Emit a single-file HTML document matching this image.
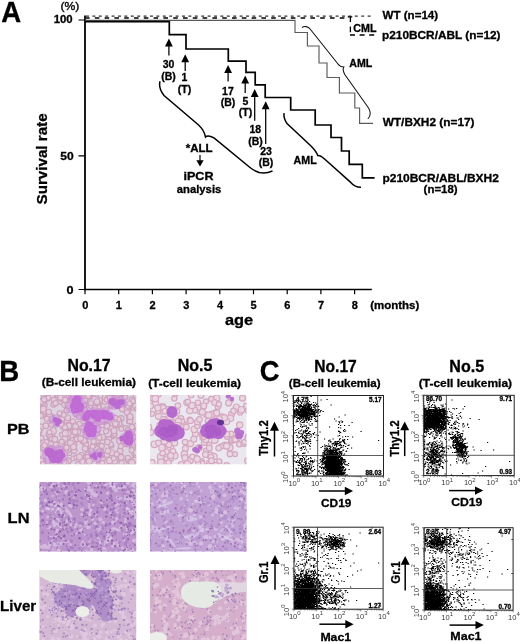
<!DOCTYPE html>
<html><head><meta charset="utf-8"><title>Figure</title><style>
html,body{margin:0;padding:0;background:#fff}
body{width:520px;height:642px;overflow:hidden}
svg{display:block}
.b{font-family:"Liberation Sans",Arial,sans-serif;font-weight:bold;stroke:#000;stroke-width:0.3px}
.r{font-family:"Liberation Sans",Arial,sans-serif}
.s{font-family:"Liberation Serif","Times New Roman",serif}
</style></head><body>
<svg width="520" height="642" viewBox="0 0 520 642">
<rect width="520" height="642" fill="#fff"/>
<g id="A">
<text x="1.31" y="21.5" class="b" font-size="29" textLength="19.94" lengthAdjust="spacingAndGlyphs">A</text>
<text x="60.47" y="10.4" class="r" font-size="11" textLength="18.92" lengthAdjust="spacingAndGlyphs" stroke="#000" stroke-width="0.35">(%)</text>
<text x="53.72" y="23.3" class="b" font-size="10.8" textLength="18.98" lengthAdjust="spacingAndGlyphs">100</text>
<text x="60.24" y="159.6" class="b" font-size="11" textLength="13.37" lengthAdjust="spacingAndGlyphs">50</text>
<text x="66.59" y="294.4" class="b" font-size="11" textLength="7.03" lengthAdjust="spacingAndGlyphs">0</text>
<path d="M85 15.5V290.2" stroke="#000" stroke-width="1.8" fill="none"/><path d="M84 289.45H371.8" stroke="#000" stroke-width="1.5" fill="none"/>
<path d="M78.5 20H85M78.5 155.8H85M78.5 289.5H85" stroke="#000" stroke-width="1.2" fill="none"/>
<text x="82.15" y="309.3" class="b" font-size="11" textLength="6.12" lengthAdjust="spacingAndGlyphs">0</text>
<text x="115.66" y="309.3" class="b" font-size="11" textLength="6.12" lengthAdjust="spacingAndGlyphs">1</text>
<text x="149.58" y="309.3" class="b" font-size="11" textLength="6.12" lengthAdjust="spacingAndGlyphs">2</text>
<text x="183.30" y="309.3" class="b" font-size="11" textLength="6.12" lengthAdjust="spacingAndGlyphs">3</text>
<text x="216.89" y="309.3" class="b" font-size="11" textLength="6.12" lengthAdjust="spacingAndGlyphs">4</text>
<text x="250.62" y="309.3" class="b" font-size="11" textLength="6.12" lengthAdjust="spacingAndGlyphs">5</text>
<text x="284.35" y="309.3" class="b" font-size="11" textLength="6.12" lengthAdjust="spacingAndGlyphs">6</text>
<text x="318.05" y="309.3" class="b" font-size="11" textLength="6.12" lengthAdjust="spacingAndGlyphs">7</text>
<text x="351.75" y="309.3" class="b" font-size="11" textLength="6.12" lengthAdjust="spacingAndGlyphs">8</text>
<path d="M85 289.5V294.3M118.7 289.5V294.3M152.4 289.5V294.3M186.1 289.5V294.3M219.8 289.5V294.3M253.5 289.5V294.3M287.2 289.5V294.3M320.9 289.5V294.3M354.6 289.5V294.3" stroke="#000" stroke-width="1.2" fill="none"/>
<text x="370.23" y="309" class="b" font-size="11" textLength="49.11" lengthAdjust="spacingAndGlyphs">(months)</text>
<text x="224.91" y="324.6" class="b" font-size="15.5" textLength="28.22" lengthAdjust="spacingAndGlyphs">age</text>
<text transform="translate(47.2 204.45) rotate(-90)" class="b" font-size="15" textLength="91.04" lengthAdjust="spacingAndGlyphs">Survival rate</text>
<path d="M86 16.1H372" stroke="#000" stroke-width="1" stroke-dasharray="3 3.4" fill="none"/>
<path d="M86 18.1H348" stroke="#000" stroke-width="1.5" stroke-dasharray="4.6 5.2" stroke-dashoffset="1" fill="none"/>
<path d="M347.7 16.8H352.3M350.4 16.8V22M350.4 26.5V32.2" stroke="#000" stroke-width="1.3" fill="none"/>
<path d="M350 35.1H376" stroke="#000" stroke-width="1.5" stroke-dasharray="5 4.6" fill="none"/>
<path d="M85 20.3H295V32.5H307.4V46H319V63H327V77.5H339.4V93H354.8V108H359.6V123.3H373" stroke="#5a5a5a" stroke-width="1.15" fill="none"/>
<path d="M85 21.6H169.3V34.6H186V49H228.3V61.1H246V72.3H255.2V84.8H265.2V97.5H290.7V110H315.2V125H331V137.5H341.5V151H349.2V164.4H362.3V177.9H374.6" stroke="#000" stroke-width="1.7" fill="none"/>
<path d="M168.9 43.8V55.6" stroke="#000" stroke-width="1.25"/>
<path d="M168.9 38.6L165 46.6H172.8Z"/>
<path d="M185.2 59.4V71" stroke="#000" stroke-width="1.25"/>
<path d="M185.2 54.2L181.3 62.2H189.1Z"/>
<path d="M228.1 70.2V81.5" stroke="#000" stroke-width="1.25"/>
<path d="M228.1 65L224.2 73H232Z"/>
<path d="M245.2 80.8V93" stroke="#000" stroke-width="1.25"/>
<path d="M245.2 75.6L241.3 83.6H249.1Z"/>
<path d="M254.7 94.2V120.7" stroke="#000" stroke-width="1.25"/>
<path d="M254.7 89L250.8 97H258.6Z"/>
<path d="M265.7 106.5V143.9" stroke="#000" stroke-width="1.25"/>
<path d="M265.7 101.3L261.8 109.3H269.6Z"/>
<text x="162.75" y="67.5" class="b" font-size="10.5" textLength="11.68" lengthAdjust="spacingAndGlyphs">30</text>
<text x="161.20" y="79.5" class="b" font-size="10.5" textLength="14.58" lengthAdjust="spacingAndGlyphs">(B)</text>
<text x="181.40" y="80.7" class="b" font-size="10.5" textLength="5.84" lengthAdjust="spacingAndGlyphs">1</text>
<text x="177.78" y="92.7" class="b" font-size="10.5" textLength="13.41" lengthAdjust="spacingAndGlyphs">(T)</text>
<text x="222.07" y="95" class="b" font-size="10.5" textLength="11.68" lengthAdjust="spacingAndGlyphs">17</text>
<text x="220.70" y="106" class="b" font-size="10.5" textLength="14.58" lengthAdjust="spacingAndGlyphs">(B)</text>
<text x="242.56" y="104.5" class="b" font-size="10.5" textLength="5.84" lengthAdjust="spacingAndGlyphs">5</text>
<text x="238.78" y="115.7" class="b" font-size="10.5" textLength="13.41" lengthAdjust="spacingAndGlyphs">(T)</text>
<text x="249.52" y="133.4" class="b" font-size="10.5" textLength="11.68" lengthAdjust="spacingAndGlyphs">18</text>
<text x="248.20" y="144.6" class="b" font-size="10.5" textLength="14.58" lengthAdjust="spacingAndGlyphs">(B)</text>
<text x="260.17" y="155.1" class="b" font-size="10.5" textLength="11.68" lengthAdjust="spacingAndGlyphs">23</text>
<text x="258.70" y="166.3" class="b" font-size="10.5" textLength="14.58" lengthAdjust="spacingAndGlyphs">(B)</text>
<path d="M160 81.2C158.8 86 160 90.5 164 95.5L198 124.5C202 128 204.5 132 205.5 137C207 135.6 210 135.8 214 137.8L250 167.5C256 172.5 263 175 272.5 171" stroke="#000" stroke-width="1.5" fill="none"/>
<text x="185.74" y="151.5" class="b" font-size="10.3" textLength="26.84" lengthAdjust="spacingAndGlyphs">*ALL</text>
<path d="M200 155V162" stroke="#000" stroke-width="1.2"/><path d="M200 166.5L196.3 160.3H203.7Z"/>
<text x="183.52" y="180.4" class="b" font-size="10.5" textLength="29.98" lengthAdjust="spacingAndGlyphs">iPCR</text>
<text x="176.86" y="192.5" class="b" font-size="10.5" textLength="44.41" lengthAdjust="spacingAndGlyphs">analysis</text>
<path d="M302 27.5C304 26 308 26 310.5 29.5L338 64C339.5 66 341.5 67 343.8 67C342.8 68.5 343 71 344.6 74.2L367.5 106.5C370 110 370.6 113 370 115C369.6 116.8 368.8 118 367.8 118.8" stroke="#111" stroke-width="1.05" fill="none"/>
<text x="349.33" y="67.3" class="b" font-size="10.5" textLength="23.00" lengthAdjust="spacingAndGlyphs">AML</text>
<path d="M284.1 113.2C283.5 117 284.5 120 287 123.5L311 146C314 149 316.5 152 317.8 155.6C319 155.4 321 155.8 324 158.5L350.7 182.4C353.5 185.5 356 187.5 361 187.3" stroke="#000" stroke-width="1.5" fill="none"/>
<text x="293.63" y="164.2" class="b" font-size="10.3" textLength="23.10" lengthAdjust="spacingAndGlyphs">AML</text>
<text x="353.37" y="32.2" class="b" font-size="10.2" textLength="23.16" lengthAdjust="spacingAndGlyphs">CML</text>
<text x="382.60" y="19.2" class="b" font-size="11.2" textLength="55.53" lengthAdjust="spacingAndGlyphs">WT (n=14)</text>
<text x="382.03" y="38.6" class="b" font-size="11.2" textLength="118.53" lengthAdjust="spacingAndGlyphs">p210BCR/ABL (n=12)</text>
<text x="382.70" y="126.3" class="b" font-size="11.2" textLength="91.85" lengthAdjust="spacingAndGlyphs">WT/BXH2 (n=17)</text>
<text x="382.42" y="181.5" class="b" font-size="11.2" textLength="116.45" lengthAdjust="spacingAndGlyphs">p210BCR/ABL/BXH2</text>
<text x="423.63" y="192.8" class="b" font-size="11.2" textLength="34.02" lengthAdjust="spacingAndGlyphs">(n=18)</text>
</g>
<g id="B">
<text x="-0.65" y="380.5" class="b" font-size="29.5" textLength="19.95" lengthAdjust="spacingAndGlyphs">B</text>
<text x="67.47" y="371.4" class="b" font-size="15.6" textLength="43.22" lengthAdjust="spacingAndGlyphs">No.17</text>
<text x="41.71" y="386.4" class="b" font-size="11.5" textLength="94.26" lengthAdjust="spacingAndGlyphs">(B-cell leukemia)</text>
<text x="177.71" y="371.3" class="b" font-size="15.6" textLength="34.72" lengthAdjust="spacingAndGlyphs">No.5</text>
<text x="148.15" y="386.6" class="b" font-size="11.5" textLength="92.90" lengthAdjust="spacingAndGlyphs">(T-cell leukemia)</text>
<text x="7.04" y="434.2" class="b" font-size="15.5" textLength="22.55" lengthAdjust="spacingAndGlyphs">PB</text>
<text x="7.63" y="522.6" class="b" font-size="15.5" textLength="21.88" lengthAdjust="spacingAndGlyphs">LN</text>
<text x="0.12" y="611.4" class="b" font-size="15.5" textLength="36.11" lengthAdjust="spacingAndGlyphs">Liver</text>
</g>
<defs><filter id="bl1" x="-5%" y="-5%" width="110%" height="110%"><feGaussianBlur stdDeviation="0.9"/></filter><filter id="bl2" x="-5%" y="-5%" width="110%" height="110%"><feGaussianBlur stdDeviation="0.55"/></filter><filter id="bl3" x="-20%" y="-20%" width="140%" height="140%"><feGaussianBlur stdDeviation="2"/></filter></defs>
<clipPath id="pb1"><rect x="40" y="395" width="96.2" height="69.2"/></clipPath>
<g clip-path="url(#pb1)"><rect x="38" y="393" width="100.2" height="73.2" fill="#dcd2e0"/><g filter="url(#bl2)">
<g fill="#e2ccda" stroke="#cca2be" stroke-width="1.1"><circle cx="100.4" cy="447.3" r="3"/><circle cx="132.4" cy="447.2" r="3"/><circle cx="40.9" cy="427.1" r="3.1"/><circle cx="103" cy="458.9" r="2.5"/><circle cx="85" cy="411" r="2.8"/><circle cx="95.5" cy="394" r="2.6"/><circle cx="66" cy="460.1" r="2.9"/><circle cx="54" cy="451.4" r="2.5"/><circle cx="99.9" cy="402.3" r="2.4"/><circle cx="125.3" cy="408.3" r="2.6"/><circle cx="136.4" cy="456.9" r="2.6"/><circle cx="134.3" cy="432.5" r="2.9"/><circle cx="58.5" cy="461.9" r="2.9"/><circle cx="134.8" cy="458.4" r="2.6"/><circle cx="74.2" cy="405.1" r="2.5"/><circle cx="44.5" cy="415.1" r="2.8"/><circle cx="38.3" cy="442.6" r="2.6"/><circle cx="69.1" cy="452.9" r="2.7"/><circle cx="69.6" cy="428.2" r="2.9"/><circle cx="43.7" cy="464.4" r="2.4"/><circle cx="113.1" cy="454.8" r="2.4"/><circle cx="116.9" cy="419.8" r="2.8"/><circle cx="38.9" cy="396.4" r="2.5"/><circle cx="133.7" cy="407.4" r="2.9"/><circle cx="131.2" cy="462" r="2.6"/><circle cx="73.6" cy="431.4" r="2.9"/><circle cx="48.8" cy="447.8" r="3"/><circle cx="124.1" cy="395.7" r="3.1"/><circle cx="47.1" cy="417.9" r="2.8"/><circle cx="130" cy="417.9" r="3"/><circle cx="92.6" cy="415.9" r="2.6"/><circle cx="55.8" cy="398.7" r="2.5"/><circle cx="107.1" cy="466" r="2.5"/><circle cx="42.9" cy="465.2" r="2.8"/><circle cx="78.7" cy="410.4" r="2.8"/><circle cx="120.8" cy="426.4" r="2.7"/><circle cx="43.6" cy="460.1" r="2.4"/><circle cx="87.5" cy="454.4" r="2.5"/><circle cx="111.3" cy="462.5" r="2.8"/><circle cx="117" cy="400.8" r="2.7"/><circle cx="53" cy="454.8" r="2.6"/><circle cx="83.4" cy="466.1" r="3"/><circle cx="135.8" cy="426.2" r="2.7"/><circle cx="111.1" cy="428.1" r="2.6"/><circle cx="78.5" cy="403.7" r="2.7"/><circle cx="137" cy="463.3" r="2.8"/><circle cx="88" cy="417.8" r="2.5"/><circle cx="65.3" cy="450.2" r="3"/><circle cx="74.2" cy="450.5" r="2.9"/><circle cx="107.6" cy="441.6" r="2.9"/><circle cx="74.4" cy="444.6" r="2.6"/><circle cx="86.7" cy="449.3" r="2.9"/><circle cx="67.4" cy="462.2" r="2.9"/><circle cx="96.2" cy="393.8" r="2.8"/><circle cx="63.1" cy="442.2" r="2.7"/><circle cx="119.8" cy="440.4" r="3"/><circle cx="72.9" cy="440.1" r="2.9"/><circle cx="121" cy="418.6" r="3"/><circle cx="125.2" cy="443.4" r="3.1"/><circle cx="133.8" cy="430.9" r="2.8"/><circle cx="54.7" cy="454.2" r="3.1"/><circle cx="85.8" cy="443.6" r="2.9"/><circle cx="111.2" cy="405.6" r="2.9"/><circle cx="96.2" cy="441.7" r="2.7"/><circle cx="100.5" cy="449.7" r="2.8"/><circle cx="110.2" cy="395" r="2.5"/><circle cx="82.2" cy="440.6" r="2.6"/><circle cx="106.7" cy="439.2" r="2.4"/><circle cx="85.3" cy="409.6" r="2.4"/><circle cx="51.4" cy="416.2" r="2.5"/><circle cx="57.4" cy="395.6" r="2.7"/><circle cx="76.1" cy="437.8" r="2.8"/><circle cx="61.8" cy="459.1" r="2.4"/><circle cx="78.6" cy="413.4" r="2.7"/><circle cx="49.5" cy="453.9" r="2.7"/><circle cx="41.6" cy="437.9" r="2.5"/><circle cx="92.6" cy="417.8" r="2.8"/><circle cx="134" cy="452.9" r="2.7"/><circle cx="119.5" cy="440" r="2.7"/><circle cx="52.2" cy="436.6" r="2.8"/><circle cx="133.9" cy="463.9" r="2.8"/><circle cx="73.2" cy="458.4" r="2.4"/><circle cx="48.8" cy="434.4" r="2.8"/><circle cx="52.1" cy="439.1" r="3"/><circle cx="75.7" cy="424.6" r="2.6"/><circle cx="67.2" cy="464.2" r="2.7"/><circle cx="134.3" cy="459.9" r="2.8"/><circle cx="64" cy="464.8" r="2.7"/><circle cx="79.6" cy="416.4" r="3.1"/><circle cx="87.3" cy="414" r="2.7"/><circle cx="50.2" cy="438.5" r="2.7"/><circle cx="67.4" cy="450.2" r="3"/><circle cx="39.3" cy="432" r="2.6"/><circle cx="131.7" cy="450.2" r="2.6"/><circle cx="64.8" cy="404.3" r="3.1"/><circle cx="67.4" cy="437.5" r="2.7"/><circle cx="102.6" cy="437.2" r="2.9"/><circle cx="49.8" cy="448.7" r="2.6"/><circle cx="91.5" cy="417.6" r="2.6"/><circle cx="91.1" cy="427" r="2.7"/><circle cx="112.7" cy="436.2" r="2.4"/><circle cx="63.3" cy="426.4" r="3"/><circle cx="127" cy="432.9" r="2.4"/><circle cx="116" cy="424.3" r="2.8"/><circle cx="109" cy="439.3" r="2.7"/><circle cx="129.4" cy="421.2" r="2.7"/><circle cx="123.4" cy="407.4" r="2.6"/><circle cx="121.2" cy="397.8" r="3"/><circle cx="107.6" cy="424.7" r="2.6"/><circle cx="116.2" cy="459.7" r="2.5"/><circle cx="85.9" cy="433.2" r="2.7"/><circle cx="71.1" cy="404.2" r="2.8"/><circle cx="119.3" cy="398" r="2.6"/><circle cx="120.1" cy="451" r="2.9"/><circle cx="40.6" cy="445.9" r="3.1"/><circle cx="138" cy="444.3" r="2.4"/><circle cx="122.4" cy="409" r="2.9"/><circle cx="133.4" cy="445.2" r="2.5"/><circle cx="67.3" cy="460.2" r="2.5"/><circle cx="99.2" cy="423.3" r="2.5"/><circle cx="100.4" cy="396.2" r="2.5"/><circle cx="76" cy="398.3" r="2.4"/><circle cx="95.6" cy="447.3" r="3"/><circle cx="51.5" cy="424.6" r="2.6"/><circle cx="98.1" cy="428.8" r="3.1"/><circle cx="75.5" cy="397.1" r="2.9"/><circle cx="53.1" cy="439.2" r="2.8"/><circle cx="129.2" cy="433.6" r="2.8"/><circle cx="64.4" cy="433.4" r="2.6"/><circle cx="113.2" cy="430.8" r="2.5"/><circle cx="61.5" cy="420.2" r="2.9"/><circle cx="56" cy="445.2" r="2.9"/><circle cx="46.5" cy="441.9" r="2.5"/><circle cx="50.5" cy="436.5" r="2.6"/><circle cx="125.9" cy="428.2" r="2.6"/><circle cx="117.8" cy="395.2" r="2.9"/><circle cx="43.4" cy="404" r="3.1"/><circle cx="106.2" cy="409.3" r="2.5"/><circle cx="135.5" cy="441.7" r="3"/><circle cx="52" cy="438.7" r="2.6"/><circle cx="61.5" cy="417.4" r="2.8"/><circle cx="72.9" cy="421.2" r="2.5"/><circle cx="121.3" cy="440.4" r="3"/><circle cx="81.4" cy="455.3" r="2.8"/><circle cx="97.4" cy="435" r="2.9"/><circle cx="77.6" cy="400.1" r="2.4"/><circle cx="58.3" cy="395.9" r="3"/><circle cx="86.2" cy="448.7" r="2.4"/><circle cx="85.1" cy="458.1" r="2.8"/><circle cx="81" cy="427.1" r="2.5"/><circle cx="53.5" cy="404.6" r="2.7"/><circle cx="76.6" cy="457.4" r="2.5"/><circle cx="63.5" cy="413.3" r="2.5"/><circle cx="66.8" cy="410.2" r="2.7"/><circle cx="41.2" cy="460.7" r="2.7"/><circle cx="132" cy="443.3" r="2.9"/><circle cx="85.3" cy="462.2" r="2.5"/><circle cx="105" cy="414.3" r="2.9"/><circle cx="111.1" cy="404.9" r="2.5"/><circle cx="40.5" cy="409.9" r="2.5"/><circle cx="78.2" cy="464.3" r="2.7"/><circle cx="69.2" cy="427.3" r="2.6"/><circle cx="111.4" cy="445.6" r="2.5"/><circle cx="62.1" cy="442.2" r="3.1"/><circle cx="102.7" cy="424.5" r="3.1"/><circle cx="38.6" cy="397.5" r="2.9"/><circle cx="79.1" cy="396.3" r="2.8"/><circle cx="137.2" cy="431" r="2.6"/><circle cx="47.4" cy="398.2" r="3"/><circle cx="87.2" cy="461.5" r="2.4"/><circle cx="62.4" cy="396.7" r="2.7"/><circle cx="44" cy="411.7" r="2.7"/><circle cx="68.7" cy="396.8" r="2.4"/><circle cx="135.4" cy="406.1" r="2.8"/><circle cx="78.3" cy="431.9" r="2.5"/><circle cx="69.5" cy="400.9" r="2.8"/><circle cx="130.3" cy="436.8" r="3"/><circle cx="59.5" cy="394.3" r="2.8"/><circle cx="86.8" cy="434.8" r="2.7"/><circle cx="100.6" cy="446.1" r="3"/><circle cx="68.8" cy="425.9" r="3"/><circle cx="60.4" cy="401.5" r="2.6"/><circle cx="46.8" cy="449.5" r="3"/><circle cx="69.4" cy="402.5" r="2.5"/><circle cx="62.5" cy="399.2" r="2.7"/><circle cx="95.8" cy="411" r="2.4"/><circle cx="108.2" cy="396.5" r="2.5"/><circle cx="66.7" cy="420.4" r="2.5"/><circle cx="80.1" cy="416" r="2.9"/><circle cx="93.7" cy="458.6" r="2.9"/><circle cx="114.1" cy="435.1" r="2.7"/><circle cx="119.8" cy="441" r="3.1"/><circle cx="110.9" cy="444.3" r="2.6"/><circle cx="119.4" cy="421" r="2.5"/><circle cx="44.6" cy="405.4" r="2.6"/><circle cx="105.7" cy="413.9" r="2.4"/><circle cx="114.5" cy="433.8" r="2.4"/><circle cx="43.1" cy="402.5" r="2.7"/><circle cx="124.2" cy="462.5" r="2.8"/><circle cx="61.2" cy="424.4" r="2.7"/><circle cx="71.1" cy="393.9" r="2.8"/><circle cx="120.9" cy="446.2" r="2.5"/><circle cx="91.1" cy="405.5" r="2.9"/><circle cx="82.7" cy="461.7" r="3"/><circle cx="49.8" cy="416.2" r="3"/><circle cx="84.2" cy="424.8" r="2.7"/><circle cx="114.9" cy="461.5" r="2.8"/><circle cx="135.2" cy="436.6" r="2.5"/><circle cx="119.6" cy="423.7" r="2.4"/><circle cx="136" cy="395.4" r="2.8"/><circle cx="86.3" cy="457.5" r="2.7"/><circle cx="59.6" cy="413.3" r="2.5"/><circle cx="94.4" cy="419.1" r="2.9"/><circle cx="62.2" cy="418.7" r="2.6"/><circle cx="136.4" cy="454.5" r="3"/><circle cx="99.9" cy="422.3" r="2.5"/><circle cx="121.3" cy="428.9" r="2.4"/><circle cx="55" cy="400.2" r="2.9"/><circle cx="128.2" cy="407.6" r="3"/><circle cx="70.5" cy="443" r="3"/><circle cx="100.4" cy="451.6" r="2.7"/><circle cx="39" cy="430.5" r="2.8"/><circle cx="56.5" cy="421.5" r="2.6"/><circle cx="40.7" cy="415.8" r="2.7"/><circle cx="85.7" cy="444.5" r="2.7"/><circle cx="136.4" cy="452.7" r="3"/><circle cx="107.4" cy="442.1" r="2.8"/><circle cx="118" cy="419.6" r="2.8"/><circle cx="106.1" cy="431.2" r="2.6"/><circle cx="45.8" cy="399.4" r="2.6"/><circle cx="96.2" cy="448.6" r="2.9"/><circle cx="68.7" cy="461" r="2.6"/><circle cx="109.7" cy="398.3" r="2.9"/><circle cx="105.1" cy="463" r="3"/><circle cx="106.9" cy="454.4" r="2.9"/><circle cx="99.2" cy="408.3" r="2.8"/><circle cx="127.8" cy="410.5" r="3.1"/><circle cx="92.5" cy="421.8" r="2.4"/><circle cx="77.1" cy="406" r="2.9"/><circle cx="128.1" cy="459.6" r="2.8"/><circle cx="76.7" cy="401" r="2.9"/><circle cx="93.5" cy="445.4" r="2.7"/><circle cx="126.9" cy="408.6" r="2.6"/><circle cx="64.8" cy="438.5" r="3"/><circle cx="54.8" cy="439.3" r="2.9"/><circle cx="60.5" cy="397.6" r="2.8"/><circle cx="121.2" cy="457.3" r="2.9"/><circle cx="79.8" cy="424.1" r="2.8"/><circle cx="128.7" cy="415.1" r="2.6"/><circle cx="98.7" cy="463.8" r="2.5"/><circle cx="41.1" cy="401.5" r="2.8"/><circle cx="98.5" cy="406.5" r="2.5"/><circle cx="97.6" cy="440.3" r="2.9"/><circle cx="111" cy="397.5" r="2.7"/><circle cx="121.6" cy="463.1" r="2.6"/><circle cx="123.2" cy="440.2" r="3"/><circle cx="61" cy="444" r="3"/><circle cx="85.8" cy="400.4" r="2.5"/><circle cx="53.7" cy="399.8" r="2.5"/><circle cx="99.7" cy="400.7" r="2.9"/><circle cx="111.8" cy="452.8" r="3"/><circle cx="109.5" cy="460.6" r="3.1"/><circle cx="100.6" cy="463.6" r="2.5"/><circle cx="48.3" cy="397.7" r="2.5"/><circle cx="75.5" cy="426.6" r="2.9"/><circle cx="112.4" cy="399.1" r="2.7"/><circle cx="92.5" cy="420.5" r="2.5"/><circle cx="97.8" cy="420.4" r="2.9"/><circle cx="87.7" cy="463.5" r="3.1"/><circle cx="45.2" cy="448.6" r="2.9"/><circle cx="67.7" cy="401.6" r="2.7"/><circle cx="73.5" cy="447" r="3"/><circle cx="76.3" cy="414.3" r="2.7"/><circle cx="107.8" cy="450.8" r="2.8"/><circle cx="67.7" cy="417.7" r="3"/><circle cx="90" cy="396.7" r="2.7"/><circle cx="61.8" cy="441.8" r="2.5"/><circle cx="65.2" cy="400" r="2.7"/><circle cx="136.7" cy="432.6" r="2.7"/><circle cx="131.6" cy="399.7" r="2.6"/><circle cx="119.2" cy="393.4" r="2.9"/><circle cx="74.2" cy="394.2" r="2.6"/><circle cx="83.9" cy="421" r="2.8"/><circle cx="43.3" cy="409" r="3.1"/><circle cx="82.4" cy="427.5" r="2.5"/><circle cx="66" cy="462.9" r="2.9"/><circle cx="88.9" cy="396.9" r="2.7"/><circle cx="116" cy="424.8" r="2.8"/><circle cx="128.4" cy="440.2" r="2.8"/><circle cx="41.6" cy="394.7" r="2.9"/><circle cx="79.4" cy="457" r="3"/><circle cx="129.7" cy="420.7" r="3.1"/><circle cx="113.8" cy="458.3" r="2.5"/><circle cx="116.2" cy="423.9" r="3.1"/><circle cx="137.6" cy="408.9" r="2.7"/><circle cx="65.1" cy="427.4" r="2.6"/><circle cx="104.8" cy="402" r="2.5"/><circle cx="83.9" cy="398.4" r="2.7"/><circle cx="127.9" cy="457.8" r="2.5"/><circle cx="39.9" cy="453.6" r="3.1"/><circle cx="98" cy="403" r="2.6"/><circle cx="130.2" cy="461.6" r="2.4"/><circle cx="56.5" cy="424.4" r="2.6"/><circle cx="113.5" cy="420.3" r="2.9"/><circle cx="53.2" cy="430.9" r="3.1"/><circle cx="108.3" cy="399.6" r="2.5"/><circle cx="102.5" cy="420.4" r="2.7"/><circle cx="85.9" cy="435.6" r="3.1"/><circle cx="62.1" cy="434.6" r="2.6"/><circle cx="92.6" cy="446.5" r="2.5"/><circle cx="86.2" cy="444.7" r="2.4"/><circle cx="115.3" cy="423.7" r="2.8"/><circle cx="99.2" cy="451" r="2.4"/><circle cx="88.2" cy="395.8" r="2.7"/><circle cx="72.6" cy="394.6" r="2.6"/><circle cx="83.1" cy="440.9" r="3"/><circle cx="75.1" cy="431.8" r="2.9"/><circle cx="131.9" cy="462.5" r="3.1"/><circle cx="68.2" cy="405.2" r="3.1"/><circle cx="45.8" cy="425.8" r="2.9"/><circle cx="91" cy="421.5" r="3"/><circle cx="68" cy="433.4" r="3"/><circle cx="51.8" cy="418.7" r="2.7"/><circle cx="94.7" cy="408.2" r="2.7"/><circle cx="44" cy="399.4" r="2.6"/><circle cx="52.4" cy="463.8" r="2.6"/><circle cx="65.6" cy="450.4" r="2.9"/><circle cx="64.3" cy="453.7" r="2.8"/><circle cx="76.9" cy="439" r="2.6"/><circle cx="64.4" cy="457.2" r="2.7"/><circle cx="127.9" cy="406" r="2.5"/><circle cx="43.2" cy="447.1" r="2.8"/><circle cx="39" cy="396.2" r="3"/><circle cx="87.5" cy="456.8" r="2.4"/><circle cx="97" cy="401.6" r="2.9"/><circle cx="99.3" cy="437.8" r="2.6"/><circle cx="133.1" cy="401.1" r="2.4"/><circle cx="106.5" cy="399.8" r="2.4"/><circle cx="84.1" cy="440.5" r="3"/><circle cx="110.2" cy="398.1" r="2.9"/><circle cx="122.5" cy="401.8" r="2.9"/><circle cx="63.9" cy="414.9" r="2.4"/><circle cx="114" cy="430.8" r="3"/><circle cx="84.6" cy="404.4" r="2.6"/><circle cx="64.4" cy="462.3" r="2.5"/><circle cx="46.8" cy="418.8" r="2.5"/><circle cx="80.6" cy="438.5" r="2.9"/><circle cx="55.5" cy="403.2" r="2.7"/><circle cx="106.9" cy="425.7" r="2.8"/><circle cx="129.4" cy="403.6" r="2.6"/><circle cx="87.5" cy="432.2" r="3"/><circle cx="93.6" cy="441.5" r="2.7"/><circle cx="116.6" cy="454.2" r="2.6"/><circle cx="48.8" cy="412" r="2.7"/><circle cx="127.1" cy="412.4" r="2.8"/><circle cx="102.2" cy="463" r="2.5"/><circle cx="115.1" cy="417.6" r="2.5"/><circle cx="101.3" cy="454.8" r="2.8"/><circle cx="43" cy="464.2" r="2.7"/><circle cx="101.8" cy="446" r="2.6"/><circle cx="78.9" cy="417.1" r="2.5"/><circle cx="44.5" cy="445.5" r="2.7"/><circle cx="125.1" cy="397.6" r="2.6"/><circle cx="56.1" cy="462.1" r="3"/><circle cx="127.8" cy="430.1" r="2.5"/><circle cx="79.7" cy="409.6" r="2.4"/><circle cx="94.6" cy="414.2" r="2.5"/><circle cx="89.3" cy="461.3" r="3.1"/><circle cx="84.7" cy="400.5" r="2.9"/><circle cx="49.5" cy="432.3" r="2.5"/><circle cx="136.9" cy="432.7" r="2.7"/><circle cx="65.3" cy="433.3" r="3.1"/><circle cx="80.9" cy="408.3" r="2.8"/><circle cx="130" cy="420.9" r="2.8"/><circle cx="130.1" cy="416.8" r="3"/><circle cx="91" cy="403.2" r="2.4"/><circle cx="132.1" cy="427.1" r="2.7"/><circle cx="129.9" cy="435" r="2.8"/><circle cx="66.5" cy="447.5" r="2.6"/><circle cx="85.1" cy="448.5" r="2.8"/></g>
<g fill="#c684dc" opacity="0.45"><circle cx="78.6" cy="407.5" r="5.9"/><circle cx="76.2" cy="402.6" r="6.6"/><circle cx="78.4" cy="407.3" r="4.5"/><circle cx="71.3" cy="407" r="6.3"/><circle cx="79.6" cy="410.4" r="4.6"/><circle cx="73.4" cy="403.2" r="5.2"/><circle cx="82.2" cy="407.1" r="4.6"/><circle cx="76.9" cy="400.6" r="5.7"/><circle cx="73.3" cy="401" r="6.3"/><circle cx="79.8" cy="403.1" r="5.1"/><circle cx="78.3" cy="403.1" r="5.3"/><circle cx="70.5" cy="408.8" r="4.6"/><circle cx="73.1" cy="399.6" r="6"/><circle cx="83.3" cy="405" r="5.1"/><circle cx="80" cy="400.1" r="5.3"/><circle cx="79.5" cy="399.7" r="5.1"/><circle cx="75.9" cy="399.7" r="6"/><circle cx="71.8" cy="400.6" r="4.7"/><circle cx="76.3" cy="405" r="6.2"/><circle cx="77.4" cy="398.2" r="4.4"/><circle cx="71.8" cy="403.9" r="4.6"/><circle cx="78.5" cy="412.1" r="6.3"/><circle cx="77" cy="411.8" r="5.8"/><circle cx="88.4" cy="418.8" r="3.7"/><circle cx="96.8" cy="416.5" r="4.5"/><circle cx="86.2" cy="413.7" r="4.2"/><circle cx="89.7" cy="417.2" r="4.6"/><circle cx="89.3" cy="419" r="4.6"/><circle cx="85.8" cy="417.5" r="3.4"/><circle cx="96.1" cy="420.9" r="3.6"/><circle cx="98.6" cy="416.2" r="4.6"/><circle cx="104.6" cy="418.2" r="4.1"/><circle cx="100.2" cy="412.5" r="4.2"/><circle cx="109.7" cy="416.7" r="4.7"/><circle cx="87.6" cy="412.6" r="4.4"/><circle cx="94.2" cy="411.2" r="4.4"/><circle cx="110.4" cy="416.6" r="5"/><circle cx="98.1" cy="417.3" r="3.9"/><circle cx="104.1" cy="417.9" r="3.5"/><circle cx="97.2" cy="416.3" r="4.1"/><circle cx="93.2" cy="420.4" r="4"/><circle cx="104.1" cy="420.5" r="4.9"/><circle cx="94.5" cy="413.7" r="4"/><circle cx="88.3" cy="417" r="3.3"/><circle cx="84.9" cy="417.3" r="4.5"/><circle cx="104.6" cy="412.6" r="4.6"/><circle cx="106.5" cy="412.3" r="4.7"/><circle cx="86.9" cy="418.2" r="4.5"/><circle cx="106" cy="413" r="4.1"/><circle cx="100" cy="418.9" r="3.7"/><circle cx="88.8" cy="423.4" r="4.1"/><circle cx="85.6" cy="427.7" r="4.4"/><circle cx="94.9" cy="432.1" r="4.4"/><circle cx="93" cy="432" r="3.7"/><circle cx="93.3" cy="432.7" r="3.9"/><circle cx="95.5" cy="429.2" r="5.6"/><circle cx="92.7" cy="425.5" r="5.5"/><circle cx="93.1" cy="430.3" r="3.7"/><circle cx="95.4" cy="431" r="5.2"/><circle cx="85.6" cy="429.9" r="4.6"/><circle cx="95.1" cy="426.3" r="4.8"/><circle cx="92.9" cy="433" r="4.6"/><circle cx="92.3" cy="426" r="4.3"/><circle cx="91.7" cy="427.3" r="4.8"/><circle cx="91.9" cy="434.6" r="4.9"/><circle cx="95.3" cy="432.4" r="4.5"/><circle cx="88.6" cy="434.9" r="5.3"/><circle cx="89.2" cy="434.4" r="4"/><circle cx="114.6" cy="401.8" r="4.4"/><circle cx="122.8" cy="399.8" r="3.4"/><circle cx="111.3" cy="401.7" r="4.1"/><circle cx="119.6" cy="404.3" r="4.1"/><circle cx="123.2" cy="403.9" r="3.7"/><circle cx="116.4" cy="403.6" r="3.8"/><circle cx="121.1" cy="400.8" r="3.5"/><circle cx="112.4" cy="406.3" r="3.5"/><circle cx="114.9" cy="404" r="4.5"/><circle cx="114.5" cy="402.4" r="4.8"/><circle cx="113.7" cy="405.9" r="4.1"/><circle cx="118.4" cy="401.1" r="3.7"/><circle cx="116" cy="404.7" r="4.7"/><circle cx="112.1" cy="402" r="4.2"/><circle cx="120.6" cy="398.7" r="4.1"/><circle cx="113.4" cy="398.5" r="4"/><circle cx="114.3" cy="402.9" r="4.1"/><circle cx="58.3" cy="452.1" r="4.7"/><circle cx="48.8" cy="451.5" r="4.3"/><circle cx="46.9" cy="456.3" r="4"/><circle cx="60.8" cy="458" r="5.8"/><circle cx="56.9" cy="455.2" r="5.2"/><circle cx="52.9" cy="459.5" r="4"/><circle cx="50.9" cy="455.2" r="4.6"/><circle cx="52.2" cy="450.2" r="5.7"/><circle cx="58.5" cy="450.3" r="5.7"/><circle cx="57.3" cy="458.4" r="4.6"/><circle cx="52.3" cy="453" r="5.8"/><circle cx="48.8" cy="458.6" r="5.9"/><circle cx="59.9" cy="453" r="5.7"/><circle cx="57.9" cy="454.5" r="5.5"/><circle cx="53.6" cy="450.2" r="4.5"/><circle cx="57.3" cy="458.1" r="5.9"/><circle cx="50.6" cy="456.4" r="5.2"/><circle cx="47.7" cy="456.4" r="4.9"/><circle cx="54.1" cy="455.7" r="5.6"/><circle cx="52" cy="451.9" r="5"/><circle cx="48.7" cy="452.3" r="5.8"/><circle cx="55.4" cy="451" r="4.6"/><circle cx="51.6" cy="452.8" r="5.9"/><circle cx="130.4" cy="439.2" r="4"/><circle cx="125.3" cy="437.8" r="3.9"/><circle cx="131.5" cy="437.6" r="3.9"/><circle cx="125.5" cy="438.3" r="3.7"/><circle cx="128.5" cy="443.7" r="4.1"/><circle cx="126.5" cy="439.6" r="3.7"/><circle cx="131.4" cy="437.8" r="5.2"/><circle cx="129.1" cy="433.3" r="4"/><circle cx="127.9" cy="440.8" r="3.6"/><circle cx="128.7" cy="442.7" r="4.4"/><circle cx="129.6" cy="438.2" r="5.1"/><circle cx="129.4" cy="433.7" r="4.9"/><circle cx="130.1" cy="435.6" r="4.2"/><circle cx="123.8" cy="436.5" r="3.6"/><circle cx="126.3" cy="442.2" r="3.7"/><circle cx="99.3" cy="456.6" r="3.2"/><circle cx="100.8" cy="454.7" r="3.9"/><circle cx="96.3" cy="452.2" r="3.1"/><circle cx="93.7" cy="457" r="3.6"/><circle cx="100" cy="452.4" r="3.1"/><circle cx="96.9" cy="455.8" r="3.5"/><circle cx="96.6" cy="455.8" r="3.1"/><circle cx="96.9" cy="457.5" r="3.6"/><circle cx="93.6" cy="454.3" r="3.7"/><circle cx="98.1" cy="459.5" r="2.9"/><circle cx="92" cy="453.5" r="3.7"/><circle cx="52.4" cy="420.9" r="3.6"/><circle cx="56.1" cy="419.1" r="2.9"/><circle cx="53.4" cy="421.3" r="2.8"/><circle cx="56.4" cy="417.4" r="3.4"/><circle cx="52.5" cy="419.8" r="3.1"/><circle cx="53.3" cy="419" r="3.6"/><circle cx="55.6" cy="423.1" r="3.4"/><circle cx="53.7" cy="418" r="2.9"/><circle cx="53.4" cy="421.8" r="3"/></g>
<g fill="#c066d6" opacity="0.88"><circle cx="80.4" cy="409" r="3.1"/><circle cx="73.8" cy="405.5" r="3.1"/><circle cx="76.2" cy="407.9" r="3.8"/><circle cx="77.7" cy="404.6" r="3.7"/><circle cx="75.2" cy="401" r="3.1"/><circle cx="76.9" cy="408.7" r="4.6"/><circle cx="74.1" cy="406.6" r="3.9"/><circle cx="74.6" cy="405.7" r="4.2"/><circle cx="75.9" cy="401.4" r="4"/><circle cx="77.1" cy="399.7" r="4.1"/><circle cx="79.9" cy="406.7" r="4.2"/><circle cx="74.5" cy="409.9" r="3.7"/><circle cx="89.2" cy="413.9" r="3.4"/><circle cx="105.9" cy="414.5" r="3.4"/><circle cx="94.8" cy="414.1" r="3.3"/><circle cx="94.3" cy="415.3" r="3.5"/><circle cx="97.8" cy="418.8" r="3.2"/><circle cx="94.6" cy="412.5" r="3.1"/><circle cx="104.2" cy="415" r="3.2"/><circle cx="103.6" cy="415.9" r="3.4"/><circle cx="100" cy="415.7" r="3.5"/><circle cx="91.2" cy="413.6" r="3.5"/><circle cx="99.6" cy="414.8" r="3.1"/><circle cx="88.7" cy="413.8" r="3.7"/><circle cx="100.2" cy="412.5" r="2.6"/><circle cx="85.8" cy="417.7" r="3.7"/><circle cx="96.8" cy="413.7" r="3.5"/><circle cx="86.5" cy="415.4" r="3.3"/><circle cx="103.5" cy="413.5" r="3.8"/><circle cx="87.7" cy="429.2" r="3.9"/><circle cx="90" cy="428.5" r="4.4"/><circle cx="89.6" cy="432.7" r="3"/><circle cx="92.7" cy="434.1" r="3.3"/><circle cx="89.7" cy="433.9" r="3.3"/><circle cx="89.2" cy="425.3" r="4.3"/><circle cx="88.3" cy="429.5" r="3.3"/><circle cx="91" cy="429" r="3.1"/><circle cx="92.6" cy="431.6" r="4.1"/><circle cx="93.6" cy="427.8" r="3.3"/><circle cx="90" cy="433.3" r="3.6"/><circle cx="78.9" cy="401" r="2.1"/><circle cx="78.9" cy="401.6" r="2"/><circle cx="74.1" cy="400.5" r="2.4"/><circle cx="78.4" cy="398.3" r="2.8"/><circle cx="110.8" cy="417.4" r="2.8"/><circle cx="108.9" cy="416.5" r="3.5"/><circle cx="105.7" cy="413.4" r="3.3"/><circle cx="109.1" cy="416.6" r="2.8"/><circle cx="110.3" cy="414.6" r="2.4"/><circle cx="110" cy="416.3" r="2.6"/><circle cx="109.2" cy="417.7" r="2.9"/></g>
<g fill="#b862d0" opacity="0.85"><circle cx="113.8" cy="402.6" r="3.7"/><circle cx="113.7" cy="402.3" r="3.5"/><circle cx="117.1" cy="404.6" r="2.6"/><circle cx="117.5" cy="406" r="3.3"/><circle cx="112.1" cy="401.5" r="3.4"/><circle cx="113.4" cy="401.7" r="2.7"/><circle cx="119.1" cy="402.3" r="3"/><circle cx="121.9" cy="402.2" r="2.9"/><circle cx="117.3" cy="404.2" r="3.1"/><circle cx="57.2" cy="424.1" r="2.3"/><circle cx="57.3" cy="421" r="2.7"/><circle cx="55.1" cy="419.5" r="2.6"/><circle cx="59.2" cy="421.6" r="2.8"/><circle cx="126" cy="437.1" r="3.3"/><circle cx="128.2" cy="434.8" r="3"/><circle cx="126.6" cy="439.2" r="3.4"/><circle cx="127.7" cy="440.9" r="4"/><circle cx="129" cy="436" r="3.8"/><circle cx="129.3" cy="441.5" r="3.9"/><circle cx="122.4" cy="438.5" r="3.1"/><circle cx="129" cy="437.7" r="4"/><circle cx="128.7" cy="434" r="3.7"/><circle cx="58.3" cy="455.7" r="4.2"/><circle cx="60.1" cy="452.2" r="3.2"/><circle cx="51.8" cy="456.9" r="3.4"/><circle cx="55.4" cy="458.1" r="3.7"/><circle cx="53.9" cy="457.7" r="4.7"/><circle cx="48.8" cy="452" r="4.6"/><circle cx="61.9" cy="455.4" r="3.3"/><circle cx="56.8" cy="458.6" r="4.3"/><circle cx="50.3" cy="452.2" r="4.3"/><circle cx="51.3" cy="455.5" r="3.5"/><circle cx="55.7" cy="455.1" r="4.7"/><circle cx="59" cy="453.6" r="3.8"/><circle cx="53.2" cy="458.9" r="3.9"/><circle cx="58.1" cy="458.6" r="4.6"/><circle cx="59.7" cy="455.5" r="3.5"/><circle cx="94.6" cy="454.1" r="2.2"/><circle cx="95.2" cy="457.7" r="2.4"/><circle cx="92.4" cy="455.7" r="2.3"/><circle cx="99.6" cy="454.8" r="2.6"/><circle cx="100.1" cy="454.5" r="2.4"/></g>
</g></g>
<clipPath id="pb2"><rect x="150" y="395" width="96.5" height="69.2"/></clipPath>
<g clip-path="url(#pb2)"><rect x="148" y="393" width="100.5" height="73.2" fill="#ebe7ef"/><g filter="url(#bl2)">
<g fill="#ead6e0" stroke="#d4a8c2" stroke-width="1.2"><circle cx="227.4" cy="445.1" r="2.7"/><circle cx="189.9" cy="404.5" r="2.5"/><circle cx="217.1" cy="417.1" r="2.7"/><circle cx="150.6" cy="394.7" r="3"/><circle cx="184" cy="424.9" r="3"/><circle cx="239.2" cy="444.3" r="2.7"/><circle cx="247.4" cy="406.4" r="3"/><circle cx="212.7" cy="414" r="3.2"/><circle cx="209.3" cy="445" r="2.6"/><circle cx="231.6" cy="414" r="3"/><circle cx="222.1" cy="416.6" r="2.7"/><circle cx="181.2" cy="464.6" r="3"/><circle cx="195.4" cy="434.1" r="3"/><circle cx="174.3" cy="398.6" r="2.6"/><circle cx="206.5" cy="436.8" r="3.3"/><circle cx="210.4" cy="455.4" r="3.3"/><circle cx="197.9" cy="423.9" r="2.9"/><circle cx="185.4" cy="448.6" r="3"/><circle cx="160.3" cy="462.9" r="2.9"/><circle cx="223.2" cy="433.1" r="3"/><circle cx="205.9" cy="401.4" r="2.6"/><circle cx="221.5" cy="418.6" r="2.6"/><circle cx="230" cy="447.7" r="3.1"/><circle cx="186.9" cy="402.6" r="3.1"/><circle cx="169.7" cy="441.9" r="3.1"/><circle cx="175.5" cy="393.2" r="3"/><circle cx="227.4" cy="436.1" r="3.3"/><circle cx="171" cy="446.5" r="2.8"/><circle cx="206.3" cy="415.1" r="2.7"/><circle cx="203.1" cy="437.5" r="3.2"/><circle cx="208.7" cy="429.6" r="3"/><circle cx="211.1" cy="422.9" r="2.7"/><circle cx="216.6" cy="421.3" r="2.5"/><circle cx="165.1" cy="419.3" r="3"/><circle cx="213.9" cy="428.9" r="3.2"/><circle cx="180.8" cy="418.7" r="3.1"/><circle cx="216.3" cy="424.2" r="3.2"/><circle cx="150.6" cy="432.3" r="3.2"/><circle cx="236.3" cy="407.1" r="3.1"/><circle cx="201.6" cy="461.5" r="2.8"/><circle cx="214.8" cy="440" r="3.3"/><circle cx="182.1" cy="421.5" r="2.6"/><circle cx="216.7" cy="398.2" r="3.2"/><circle cx="162.7" cy="407" r="3.3"/><circle cx="198.1" cy="448.3" r="2.8"/><circle cx="172.4" cy="420" r="3.3"/><circle cx="167.3" cy="459.2" r="3.2"/><circle cx="216.4" cy="412.5" r="3.1"/><circle cx="239" cy="436.4" r="2.7"/><circle cx="209.3" cy="463" r="3"/><circle cx="163" cy="407.8" r="3"/><circle cx="152.8" cy="393.1" r="2.8"/><circle cx="173.9" cy="429.1" r="2.6"/><circle cx="204.2" cy="442.5" r="2.8"/><circle cx="206.5" cy="431.6" r="3.1"/><circle cx="205.9" cy="439.7" r="3"/><circle cx="230.7" cy="400.1" r="2.6"/><circle cx="235" cy="454.1" r="2.5"/><circle cx="237.9" cy="437.6" r="3.2"/><circle cx="218.5" cy="420.5" r="2.6"/><circle cx="224.9" cy="445" r="2.9"/><circle cx="175.2" cy="419.7" r="3.2"/><circle cx="194.6" cy="408.4" r="3.3"/><circle cx="246.3" cy="405.9" r="2.7"/><circle cx="221.3" cy="421.3" r="2.9"/><circle cx="216.7" cy="413" r="3"/><circle cx="168.5" cy="409.2" r="2.9"/><circle cx="191" cy="458.5" r="2.6"/><circle cx="240.1" cy="412.2" r="2.8"/><circle cx="158.7" cy="416.1" r="3.3"/><circle cx="184.4" cy="454.2" r="3.3"/><circle cx="217.9" cy="406.5" r="2.8"/><circle cx="164.8" cy="411.3" r="2.8"/><circle cx="164.7" cy="442.8" r="2.9"/><circle cx="177.2" cy="411.6" r="2.6"/><circle cx="159.5" cy="425.1" r="2.6"/><circle cx="200.5" cy="411.7" r="3.1"/><circle cx="174.8" cy="455.7" r="3.3"/><circle cx="241.4" cy="409.7" r="3.2"/><circle cx="195.4" cy="457.8" r="2.9"/><circle cx="202.4" cy="411.9" r="3.1"/><circle cx="185" cy="457.7" r="3.1"/><circle cx="191.1" cy="395.3" r="2.7"/><circle cx="189.9" cy="420.1" r="3"/><circle cx="148.5" cy="427.2" r="3.2"/><circle cx="243.8" cy="443.4" r="3"/><circle cx="208.6" cy="466.1" r="3.1"/><circle cx="194.3" cy="429.3" r="3.3"/><circle cx="203.5" cy="436.8" r="2.7"/><circle cx="214.8" cy="428.8" r="3.3"/><circle cx="248.5" cy="465.9" r="3.3"/><circle cx="152.4" cy="398.3" r="2.8"/><circle cx="231.1" cy="433.9" r="2.7"/><circle cx="158.1" cy="411.3" r="2.6"/><circle cx="162.4" cy="447.5" r="2.7"/><circle cx="164.8" cy="438.4" r="2.6"/><circle cx="231.8" cy="440.6" r="3.2"/><circle cx="221" cy="446.5" r="2.7"/><circle cx="190.5" cy="420.8" r="2.8"/><circle cx="239.7" cy="424.9" r="3.1"/><circle cx="211.4" cy="399.1" r="2.7"/><circle cx="206.1" cy="450.8" r="2.7"/><circle cx="173.1" cy="420.6" r="2.9"/><circle cx="190.2" cy="460.7" r="3"/><circle cx="176" cy="418.2" r="2.9"/><circle cx="164.1" cy="421.7" r="2.6"/><circle cx="214" cy="456.5" r="3.2"/><circle cx="208" cy="421.2" r="2.9"/><circle cx="203.8" cy="405.9" r="2.9"/><circle cx="198" cy="407.4" r="2.9"/><circle cx="232" cy="440" r="2.8"/><circle cx="172" cy="439.1" r="2.9"/><circle cx="177.9" cy="427.5" r="2.8"/><circle cx="211" cy="457.3" r="2.8"/><circle cx="202.1" cy="434.1" r="3"/><circle cx="172.5" cy="411.1" r="3.2"/><circle cx="162.6" cy="442.9" r="2.7"/><circle cx="197.4" cy="426" r="2.7"/><circle cx="165.7" cy="463.1" r="2.5"/><circle cx="162.3" cy="447.1" r="2.8"/><circle cx="167.6" cy="449.8" r="3.3"/><circle cx="168.9" cy="444.7" r="2.8"/><circle cx="248.3" cy="436.7" r="3.2"/><circle cx="214.6" cy="402.6" r="2.9"/><circle cx="218.9" cy="404.2" r="2.6"/><circle cx="247.6" cy="460.6" r="3"/><circle cx="154.4" cy="444.3" r="3.3"/><circle cx="226.6" cy="445.4" r="2.9"/><circle cx="211.5" cy="460.8" r="2.9"/><circle cx="155.5" cy="403.6" r="3.3"/><circle cx="219.3" cy="461.5" r="2.6"/><circle cx="158.6" cy="443" r="2.8"/><circle cx="194.5" cy="410" r="3.1"/><circle cx="226.5" cy="446.1" r="2.8"/><circle cx="197.3" cy="422" r="2.9"/><circle cx="180.7" cy="427.3" r="3.3"/><circle cx="228.6" cy="402.9" r="3"/><circle cx="230.4" cy="418.2" r="3.2"/><circle cx="242.5" cy="398.2" r="3"/><circle cx="186.3" cy="427.1" r="2.9"/><circle cx="234.4" cy="439.2" r="3.2"/><circle cx="173" cy="451.3" r="2.8"/><circle cx="166.3" cy="451.8" r="3"/><circle cx="170.7" cy="458.4" r="2.9"/><circle cx="215.7" cy="465.1" r="2.8"/><circle cx="202.7" cy="433" r="2.7"/><circle cx="201.7" cy="463.7" r="3.1"/><circle cx="174.7" cy="443" r="3"/><circle cx="185.1" cy="442.1" r="2.8"/><circle cx="226.5" cy="421.4" r="3.2"/><circle cx="177.9" cy="405.6" r="2.8"/><circle cx="160.6" cy="457" r="3.3"/><circle cx="189.8" cy="410.6" r="3.2"/><circle cx="233.5" cy="410.9" r="2.7"/><circle cx="198" cy="402.7" r="2.7"/><circle cx="187.9" cy="401.7" r="2.6"/><circle cx="208.8" cy="415" r="3.2"/><circle cx="244.6" cy="442" r="2.7"/><circle cx="224.3" cy="417.8" r="3.2"/><circle cx="190.6" cy="443.6" r="3.1"/><circle cx="218.6" cy="448.1" r="2.8"/><circle cx="163.3" cy="420" r="3.3"/><circle cx="151.7" cy="413.7" r="2.7"/><circle cx="192.3" cy="456.7" r="2.6"/><circle cx="158.5" cy="394.3" r="2.8"/><circle cx="221" cy="426.1" r="3"/><circle cx="199.5" cy="419.4" r="2.8"/><circle cx="152.1" cy="462.7" r="3.1"/><circle cx="157.8" cy="407.9" r="3.1"/><circle cx="199" cy="447.8" r="3.1"/><circle cx="162.6" cy="453.2" r="2.7"/><circle cx="161.9" cy="447.7" r="3.2"/><circle cx="178.4" cy="421.2" r="3.1"/><circle cx="177.6" cy="425.6" r="3.3"/><circle cx="161" cy="462.1" r="3.2"/><circle cx="248.2" cy="411" r="2.7"/><circle cx="192" cy="405.5" r="3.2"/><circle cx="205.4" cy="454.6" r="2.9"/><circle cx="198.1" cy="463" r="2.6"/><circle cx="170.7" cy="455.7" r="3"/><circle cx="226.6" cy="465.8" r="3.1"/><circle cx="209.3" cy="448" r="2.9"/><circle cx="170" cy="416.8" r="3.2"/><circle cx="200.9" cy="395.3" r="3"/><circle cx="247.9" cy="438.8" r="2.9"/><circle cx="193.8" cy="439.2" r="3"/><circle cx="197.1" cy="459.1" r="3.2"/><circle cx="226.6" cy="446.1" r="3.1"/><circle cx="167.8" cy="428.9" r="2.7"/><circle cx="168.6" cy="462.5" r="2.7"/><circle cx="229.9" cy="454" r="2.8"/><circle cx="150.5" cy="406" r="3"/><circle cx="219.3" cy="419" r="3"/><circle cx="164.4" cy="441.2" r="3.1"/><circle cx="226.7" cy="434.2" r="3"/><circle cx="148.2" cy="412.5" r="2.8"/><circle cx="155.3" cy="398.4" r="3.3"/><circle cx="216.7" cy="434.2" r="3.1"/><circle cx="235.3" cy="439.5" r="2.8"/><circle cx="187.4" cy="464" r="3.3"/></g>
<g fill="#b262cc" opacity="0.93"><circle cx="174.5" cy="435.7" r="5.8"/><circle cx="164.1" cy="435.4" r="5"/><circle cx="168.8" cy="425.2" r="5.7"/><circle cx="178.4" cy="432.8" r="6.5"/><circle cx="169.4" cy="426.7" r="6"/><circle cx="174.8" cy="434" r="5.1"/><circle cx="163.4" cy="431.2" r="4.5"/><circle cx="164.3" cy="431.9" r="4.7"/><circle cx="167.2" cy="432.7" r="4.4"/><circle cx="171.4" cy="430.2" r="6.4"/><circle cx="165.8" cy="431.7" r="5.3"/><circle cx="166.5" cy="430.4" r="5.6"/><circle cx="174.8" cy="430.7" r="6"/><circle cx="171.5" cy="428" r="5.3"/><circle cx="174.6" cy="429.2" r="4.6"/><circle cx="169.2" cy="437" r="5.1"/><circle cx="163.8" cy="424.6" r="5.8"/><circle cx="171.4" cy="435.1" r="5.1"/><circle cx="160.8" cy="431.2" r="6.6"/><circle cx="166.2" cy="425.9" r="6.2"/><circle cx="164.4" cy="430.4" r="5.9"/><circle cx="168.4" cy="433.7" r="5.2"/><circle cx="167.1" cy="430.6" r="5.2"/><circle cx="176.3" cy="429.3" r="5.2"/><circle cx="205.3" cy="431.5" r="5.2"/><circle cx="207.1" cy="432.9" r="4.7"/><circle cx="210.8" cy="426" r="5.7"/><circle cx="208.8" cy="434.4" r="4.6"/><circle cx="206.4" cy="430.4" r="4.2"/><circle cx="218.4" cy="433.2" r="5.8"/><circle cx="217" cy="424.3" r="5.9"/><circle cx="217.9" cy="429.4" r="4.5"/><circle cx="219.3" cy="434.6" r="4.5"/><circle cx="212" cy="432.3" r="6.1"/><circle cx="214.7" cy="433.1" r="5.4"/><circle cx="212.9" cy="428.7" r="5.4"/><circle cx="206" cy="429.1" r="5.3"/><circle cx="216.2" cy="424.2" r="6"/><circle cx="212.5" cy="431.2" r="5.2"/><circle cx="221.5" cy="430.9" r="5.2"/><circle cx="213.3" cy="423.9" r="5.7"/><circle cx="211.5" cy="426.4" r="5.7"/><circle cx="210.4" cy="427.6" r="6"/><circle cx="206.2" cy="430.8" r="4.6"/><circle cx="216.9" cy="426" r="5.8"/><circle cx="217.5" cy="426" r="5.4"/></g>
<ellipse cx="172" cy="412" rx="5.5" ry="6" fill="#b064cc" opacity="0.92"/>
<g fill="#b468cc" opacity="0.9"><circle cx="239.1" cy="433.6" r="3.5"/><circle cx="241.7" cy="432.6" r="2.5"/><circle cx="239.9" cy="433.3" r="3.1"/><circle cx="239.9" cy="435.1" r="3.5"/><circle cx="237.6" cy="430.6" r="2.7"/><circle cx="238.7" cy="435.7" r="3.5"/><circle cx="239.4" cy="433.9" r="3"/><circle cx="237.4" cy="431" r="3.3"/><circle cx="199.8" cy="447.3" r="2.4"/><circle cx="194.9" cy="449.6" r="2.7"/><circle cx="196.8" cy="450.6" r="2.7"/><circle cx="197.5" cy="451.3" r="2.2"/><circle cx="228.8" cy="395.8" r="2.2"/><circle cx="227.7" cy="396.6" r="2.1"/><circle cx="231.9" cy="398.9" r="2.2"/></g>
<g fill="#a452c2" opacity="0.55"><circle cx="166.5" cy="432.6" r="3.1"/><circle cx="174.5" cy="431.7" r="3.5"/><circle cx="171" cy="427.1" r="2.9"/><circle cx="166.6" cy="433.3" r="3.3"/><circle cx="171.8" cy="431.4" r="3.4"/><circle cx="162.6" cy="432" r="4.4"/><circle cx="170.2" cy="432.1" r="4.3"/><circle cx="166.7" cy="434.3" r="3.4"/><circle cx="173.9" cy="428.2" r="3.8"/><circle cx="171.9" cy="432.6" r="4"/><circle cx="164.3" cy="430" r="3.5"/><circle cx="217.1" cy="432.1" r="4.2"/><circle cx="210.3" cy="433.1" r="3.1"/><circle cx="212.6" cy="428.1" r="3.5"/><circle cx="214" cy="428.5" r="3"/><circle cx="210.2" cy="427.9" r="3"/><circle cx="210.2" cy="434.6" r="3.7"/><circle cx="211.6" cy="431.9" r="3.3"/><circle cx="208.4" cy="428.7" r="3.9"/><circle cx="217.4" cy="430.4" r="3"/></g>
<ellipse cx="220.5" cy="422.5" rx="3.6" ry="2.8" fill="#5c3090" opacity="0.95"/>
</g></g>
<clipPath id="ln1"><rect x="39.5" y="482" width="96.7" height="69.4"/></clipPath>
<g clip-path="url(#ln1)"><rect x="37.5" y="480" width="100.7" height="73.4" fill="#bc96cc"/><g filter="url(#bl2)">
<g fill="#dcc6e6" opacity="0.75"><circle cx="71.8" cy="506.9" r="1.1"/><circle cx="45.7" cy="546.9" r="2.1"/><circle cx="50.9" cy="486" r="2.2"/><circle cx="54.3" cy="502.1" r="1.3"/><circle cx="58.5" cy="482.3" r="1.6"/><circle cx="115.6" cy="485.2" r="1.6"/><circle cx="50.8" cy="537.8" r="2.1"/><circle cx="125.6" cy="519.2" r="1.2"/><circle cx="109.7" cy="485.1" r="1.9"/><circle cx="67.7" cy="545.5" r="1.3"/><circle cx="112" cy="516.4" r="1.3"/><circle cx="87" cy="511.6" r="1.2"/><circle cx="92.5" cy="519.1" r="1.8"/><circle cx="71.7" cy="525.1" r="1.2"/><circle cx="90.1" cy="497.6" r="1.9"/><circle cx="56.7" cy="501.4" r="1.1"/><circle cx="67.6" cy="519.7" r="1.3"/><circle cx="49.7" cy="545.6" r="1.4"/><circle cx="59.2" cy="509.3" r="2"/><circle cx="112.7" cy="546.3" r="1.7"/><circle cx="71.2" cy="516.8" r="1.1"/><circle cx="106.2" cy="541.6" r="2.1"/><circle cx="121.1" cy="527.5" r="2"/><circle cx="66.8" cy="521.3" r="1.2"/><circle cx="131.8" cy="517.6" r="1.2"/><circle cx="136.6" cy="525.5" r="1.3"/><circle cx="122.7" cy="526" r="1.7"/><circle cx="125.9" cy="503.2" r="1.3"/><circle cx="94.9" cy="494.9" r="1.8"/><circle cx="85.5" cy="494.7" r="1.1"/><circle cx="53.8" cy="522.3" r="2.1"/><circle cx="117.8" cy="542.3" r="1.7"/><circle cx="118.2" cy="504.2" r="1.4"/><circle cx="128.5" cy="499" r="1.7"/><circle cx="94.6" cy="483.8" r="1.7"/><circle cx="117.8" cy="545.2" r="1.5"/><circle cx="128" cy="482.8" r="2.1"/><circle cx="106.1" cy="539.5" r="1.5"/><circle cx="96.7" cy="540.6" r="1.3"/><circle cx="56" cy="535.3" r="2.1"/><circle cx="60.4" cy="520.1" r="1.6"/><circle cx="68.8" cy="541.9" r="1.3"/><circle cx="116" cy="510.3" r="1.2"/><circle cx="134.4" cy="490.8" r="1.1"/><circle cx="40.5" cy="505.7" r="1"/><circle cx="53.1" cy="549.1" r="1.3"/><circle cx="109.5" cy="495.7" r="1"/><circle cx="38.2" cy="489" r="2.1"/><circle cx="83.5" cy="498.3" r="1.1"/><circle cx="102.1" cy="503.2" r="1.2"/><circle cx="81.5" cy="532.2" r="1.4"/><circle cx="94" cy="493.8" r="1.7"/><circle cx="41.7" cy="547.7" r="2.1"/><circle cx="95.5" cy="514.8" r="1.5"/><circle cx="112.9" cy="522.5" r="1.9"/><circle cx="82.1" cy="509.4" r="1.9"/><circle cx="55.7" cy="505.1" r="1.3"/><circle cx="58.2" cy="543.4" r="1.4"/><circle cx="111.7" cy="483.6" r="2.1"/><circle cx="84.7" cy="534.6" r="1.1"/><circle cx="98.3" cy="539.6" r="1.3"/><circle cx="46.9" cy="508.1" r="1.9"/><circle cx="114.2" cy="484.7" r="1.4"/><circle cx="129.7" cy="501.2" r="1.1"/><circle cx="124.9" cy="540.2" r="1.5"/><circle cx="107.7" cy="535.1" r="2"/><circle cx="56.6" cy="533.6" r="2.1"/><circle cx="116.9" cy="518.3" r="1.5"/><circle cx="136.1" cy="552.9" r="2"/><circle cx="88.5" cy="545.6" r="2"/><circle cx="88.3" cy="489.7" r="1.7"/><circle cx="51.1" cy="504.6" r="1.7"/><circle cx="88" cy="527.3" r="2"/><circle cx="133" cy="502.8" r="2.1"/><circle cx="70" cy="505.6" r="1.9"/><circle cx="135.8" cy="517.2" r="2"/><circle cx="120.7" cy="503.1" r="1.7"/><circle cx="132" cy="481.5" r="1.1"/><circle cx="125.4" cy="521.6" r="1.5"/><circle cx="117.4" cy="512.6" r="1.2"/><circle cx="72.7" cy="535.8" r="1.8"/><circle cx="87.4" cy="480.8" r="2.2"/><circle cx="45.5" cy="500.4" r="1.9"/><circle cx="131.9" cy="530.5" r="1.5"/><circle cx="112.7" cy="529" r="1.7"/><circle cx="116.6" cy="520.6" r="1.6"/><circle cx="63.5" cy="537.1" r="1.1"/><circle cx="47.1" cy="526.2" r="1.1"/><circle cx="125.6" cy="494.1" r="1.6"/><circle cx="63.7" cy="515.4" r="1.7"/><circle cx="57.3" cy="519.9" r="2.2"/><circle cx="52.6" cy="496" r="1.2"/><circle cx="48.2" cy="480.9" r="2.2"/><circle cx="134.5" cy="482.9" r="2"/><circle cx="95.8" cy="495.2" r="2.1"/><circle cx="49.2" cy="527" r="1.8"/><circle cx="107.9" cy="497.4" r="1.2"/><circle cx="101" cy="501.6" r="1.7"/><circle cx="112" cy="482.4" r="1.9"/><circle cx="136.1" cy="509.6" r="1.7"/><circle cx="70.7" cy="544.6" r="1.3"/><circle cx="47.6" cy="516.9" r="1.5"/><circle cx="94.9" cy="495" r="2.1"/><circle cx="91.3" cy="508.5" r="1.9"/><circle cx="41.4" cy="547.6" r="2"/><circle cx="63.4" cy="513.3" r="1"/><circle cx="117.3" cy="551.4" r="1.7"/><circle cx="136" cy="514.7" r="2"/><circle cx="122.5" cy="547.9" r="1.6"/><circle cx="88.7" cy="482.6" r="2.1"/><circle cx="46.4" cy="522.7" r="1.7"/><circle cx="55" cy="505.7" r="1.4"/><circle cx="38.4" cy="509.4" r="1.5"/><circle cx="109.8" cy="531.3" r="2.1"/><circle cx="125.2" cy="498.8" r="1.7"/><circle cx="107.3" cy="537.9" r="1.2"/><circle cx="71" cy="525.1" r="1.4"/><circle cx="129.7" cy="510.4" r="1.8"/><circle cx="44.4" cy="545.9" r="2.2"/><circle cx="134.7" cy="505" r="2"/><circle cx="136.5" cy="487.9" r="1.1"/><circle cx="104.4" cy="552.5" r="1"/><circle cx="121.9" cy="528.5" r="1.6"/><circle cx="51.9" cy="517.2" r="1.6"/><circle cx="57.8" cy="546.1" r="1.9"/><circle cx="54.2" cy="525.6" r="1.7"/><circle cx="132" cy="552" r="2.1"/><circle cx="43" cy="510.9" r="1.2"/><circle cx="113.1" cy="486.1" r="2"/><circle cx="99.5" cy="527.1" r="2.1"/><circle cx="125" cy="533.7" r="1.8"/><circle cx="92.6" cy="518" r="1"/><circle cx="57.2" cy="530.6" r="1.5"/><circle cx="82.9" cy="542.1" r="1.5"/><circle cx="110.8" cy="539" r="2"/><circle cx="61.1" cy="524.6" r="1.6"/><circle cx="96.6" cy="486.3" r="1.2"/><circle cx="62.2" cy="537.6" r="1.9"/><circle cx="76.1" cy="524.4" r="1.5"/><circle cx="91.6" cy="499.6" r="1.4"/><circle cx="134" cy="544.9" r="1.1"/><circle cx="49.5" cy="543.5" r="1.5"/><circle cx="102" cy="524.3" r="1.7"/><circle cx="128.7" cy="491.3" r="2"/><circle cx="63.7" cy="485.6" r="1.4"/><circle cx="89.3" cy="538.9" r="1.7"/><circle cx="135.2" cy="493.9" r="1.5"/><circle cx="95.3" cy="523.4" r="1.8"/><circle cx="88.5" cy="487.4" r="1.9"/><circle cx="117.5" cy="485.2" r="2"/><circle cx="38.1" cy="530.2" r="1.7"/><circle cx="67.4" cy="486.6" r="1.3"/><circle cx="100.4" cy="519.2" r="2"/><circle cx="54.8" cy="525.5" r="1.4"/><circle cx="41.8" cy="493.7" r="1.1"/><circle cx="53.5" cy="482.8" r="2.2"/><circle cx="73.7" cy="535.6" r="1.5"/><circle cx="89" cy="498.5" r="2.1"/><circle cx="58.8" cy="550.5" r="1.9"/><circle cx="124.5" cy="487.1" r="2.2"/><circle cx="103.2" cy="522.5" r="1.7"/><circle cx="82.4" cy="550" r="2.2"/><circle cx="133.4" cy="490.4" r="1.6"/><circle cx="108" cy="493.5" r="2.1"/><circle cx="113.3" cy="488.9" r="1.4"/><circle cx="106" cy="544.7" r="2.2"/><circle cx="65.3" cy="541.4" r="1.7"/><circle cx="74" cy="497.6" r="1.1"/><circle cx="41" cy="511.6" r="1.1"/><circle cx="58" cy="503.6" r="1.2"/><circle cx="57.8" cy="498.8" r="2.2"/><circle cx="80.2" cy="525.3" r="1.6"/><circle cx="134.1" cy="540.6" r="2.1"/><circle cx="125.3" cy="534.2" r="2.1"/><circle cx="70.9" cy="524.6" r="1.4"/><circle cx="130.7" cy="499.7" r="2.2"/><circle cx="61.3" cy="504.9" r="1.9"/><circle cx="95.1" cy="495.7" r="1.2"/><circle cx="125.7" cy="495.2" r="1.6"/><circle cx="121.8" cy="515.7" r="1.6"/><circle cx="54" cy="548.7" r="1.7"/><circle cx="104.8" cy="508.9" r="1.9"/><circle cx="75.7" cy="493.1" r="1.4"/><circle cx="114.2" cy="543.4" r="1.6"/><circle cx="103.9" cy="548.6" r="1.8"/><circle cx="135.8" cy="498.6" r="2"/><circle cx="113.1" cy="521.9" r="1.7"/><circle cx="54.4" cy="481.2" r="1"/><circle cx="127.2" cy="509.2" r="1.7"/><circle cx="82.1" cy="544.5" r="1.9"/><circle cx="75.2" cy="526.9" r="1.3"/><circle cx="132.5" cy="491.7" r="2.1"/><circle cx="91.5" cy="490.8" r="2.2"/><circle cx="57.5" cy="529.8" r="1.3"/><circle cx="51" cy="538.1" r="2.1"/><circle cx="127.3" cy="529.4" r="1.8"/><circle cx="53.3" cy="553.3" r="1.4"/><circle cx="101.8" cy="481.9" r="1.4"/><circle cx="90.1" cy="514.8" r="1.5"/><circle cx="76" cy="481.4" r="1.8"/><circle cx="73.2" cy="488.3" r="1.4"/><circle cx="105" cy="534.6" r="1.5"/><circle cx="49.2" cy="526" r="1.7"/><circle cx="86.2" cy="551.2" r="1.4"/><circle cx="90.1" cy="482.2" r="1.2"/><circle cx="57.1" cy="493.7" r="1.2"/><circle cx="48.4" cy="547.5" r="1.7"/><circle cx="86.8" cy="521.2" r="1.3"/><circle cx="124.7" cy="534" r="1.5"/><circle cx="39.7" cy="480" r="1"/><circle cx="110.6" cy="482.3" r="1.5"/><circle cx="89.7" cy="507.2" r="1.4"/><circle cx="132.1" cy="550" r="1.9"/><circle cx="91.6" cy="549.9" r="1.8"/><circle cx="60.8" cy="490.3" r="1.2"/><circle cx="48" cy="508.6" r="1.7"/><circle cx="58.5" cy="486" r="1.4"/><circle cx="83.6" cy="544.6" r="2.1"/><circle cx="120.3" cy="499.1" r="2"/><circle cx="65.8" cy="523" r="1.6"/><circle cx="61" cy="519.7" r="1.3"/><circle cx="117.7" cy="497.3" r="1.9"/><circle cx="56.5" cy="480.6" r="1.5"/><circle cx="126.3" cy="526.6" r="1.3"/><circle cx="88.4" cy="504.3" r="1.8"/><circle cx="66.5" cy="492.3" r="2.2"/><circle cx="41.4" cy="490" r="1.4"/><circle cx="71" cy="520.7" r="1.6"/><circle cx="53.1" cy="540.9" r="1.9"/><circle cx="55.9" cy="492.4" r="1.1"/><circle cx="89" cy="526.7" r="1.9"/><circle cx="61.5" cy="543.5" r="2.1"/><circle cx="85.1" cy="488.8" r="1.2"/><circle cx="110" cy="484.9" r="1.7"/><circle cx="109.6" cy="481.5" r="1.2"/><circle cx="61.8" cy="512.2" r="2"/><circle cx="117.9" cy="508.6" r="1"/><circle cx="92" cy="494.3" r="1.3"/><circle cx="131.3" cy="501.1" r="1.5"/><circle cx="105.2" cy="548.4" r="1.1"/><circle cx="96.9" cy="528.6" r="1.2"/><circle cx="47.8" cy="504.5" r="1.4"/><circle cx="107.8" cy="551.1" r="1.8"/><circle cx="80.8" cy="553.2" r="2.1"/><circle cx="81.8" cy="514.5" r="1.6"/><circle cx="48.1" cy="527.3" r="1.9"/><circle cx="85.4" cy="522.9" r="2.1"/><circle cx="100.1" cy="530.6" r="2.1"/><circle cx="111.4" cy="513.6" r="2.1"/><circle cx="132.8" cy="485.9" r="2.2"/><circle cx="54.3" cy="544.6" r="1.8"/><circle cx="116.1" cy="505.4" r="1.3"/><circle cx="55.3" cy="488.9" r="1.1"/><circle cx="54.6" cy="540.2" r="1.6"/><circle cx="124" cy="552.4" r="1.5"/><circle cx="55.3" cy="545.8" r="1.1"/><circle cx="89.3" cy="542" r="1.1"/><circle cx="64.5" cy="527.8" r="1.1"/><circle cx="124.6" cy="534.9" r="1.7"/><circle cx="115.8" cy="490.2" r="2"/></g>
<ellipse cx="91.6" cy="508.6" rx="8.1" ry="1.2" fill="#e0cce8" opacity="0.7" transform="rotate(-64 91.6 508.6)"/>
<ellipse cx="107" cy="484.5" rx="6.8" ry="1" fill="#e0cce8" opacity="0.7" transform="rotate(-12.4 107 484.5)"/>
<ellipse cx="80.1" cy="530.5" rx="7.2" ry="1.1" fill="#e0cce8" opacity="0.7" transform="rotate(-37.9 80.1 530.5)"/>
<ellipse cx="114.7" cy="486.5" rx="6.9" ry="1.4" fill="#e0cce8" opacity="0.7" transform="rotate(18 114.7 486.5)"/>
<ellipse cx="42" cy="487.7" rx="7.2" ry="1.4" fill="#e0cce8" opacity="0.7" transform="rotate(18.7 42 487.7)"/>
<ellipse cx="134.7" cy="530.6" rx="6.1" ry="1.6" fill="#e0cce8" opacity="0.7" transform="rotate(-36.7 134.7 530.6)"/>
<ellipse cx="50.3" cy="509.1" rx="4.1" ry="1.3" fill="#e0cce8" opacity="0.7" transform="rotate(4.7 50.3 509.1)"/>
<ellipse cx="57.7" cy="524.4" rx="6.3" ry="1.4" fill="#e0cce8" opacity="0.7" transform="rotate(40.7 57.7 524.4)"/>
<ellipse cx="116.8" cy="529.4" rx="4.5" ry="1.3" fill="#e0cce8" opacity="0.7" transform="rotate(23.4 116.8 529.4)"/>
<ellipse cx="58.4" cy="507.8" rx="6.6" ry="1" fill="#e0cce8" opacity="0.7" transform="rotate(-58.5 58.4 507.8)"/>
<ellipse cx="67.1" cy="510.7" rx="7.9" ry="1.6" fill="#e0cce8" opacity="0.7" transform="rotate(48.4 67.1 510.7)"/>
<ellipse cx="125.8" cy="550.2" rx="6.6" ry="1.3" fill="#e0cce8" opacity="0.7" transform="rotate(-66 125.8 550.2)"/>
<ellipse cx="109.2" cy="540" rx="5.7" ry="1.3" fill="#e0cce8" opacity="0.7" transform="rotate(-56.5 109.2 540)"/>
<ellipse cx="130.1" cy="511.7" rx="6.3" ry="1" fill="#e0cce8" opacity="0.7" transform="rotate(51.9 130.1 511.7)"/>
<ellipse cx="131.7" cy="510.6" rx="6.6" ry="1" fill="#e0cce8" opacity="0.7" transform="rotate(28.4 131.7 510.6)"/>
<ellipse cx="99.4" cy="540.7" rx="4.1" ry="1.2" fill="#e0cce8" opacity="0.7" transform="rotate(65.7 99.4 540.7)"/>
<g fill="#7e4e9a" opacity="0.75"><circle cx="40" cy="525.9" r="0.8"/><circle cx="49.2" cy="502" r="1.2"/><circle cx="59.1" cy="514.8" r="1.1"/><circle cx="48.5" cy="481.6" r="1"/><circle cx="100.3" cy="482.8" r="1.1"/><circle cx="114.8" cy="523.7" r="0.7"/><circle cx="130.5" cy="496.2" r="1.2"/><circle cx="93" cy="546.7" r="0.9"/><circle cx="98.5" cy="549.1" r="0.9"/><circle cx="69" cy="551" r="1.2"/><circle cx="50.4" cy="543" r="1.1"/><circle cx="58.7" cy="497.1" r="0.6"/><circle cx="121.8" cy="485.9" r="1.1"/><circle cx="117.6" cy="552.4" r="0.7"/><circle cx="119.1" cy="486.1" r="0.7"/><circle cx="122.7" cy="490.3" r="1"/><circle cx="136.8" cy="515.4" r="0.9"/><circle cx="127.6" cy="526.7" r="1.2"/><circle cx="107.1" cy="512.7" r="0.6"/><circle cx="127.4" cy="535.4" r="0.7"/><circle cx="107" cy="499.8" r="0.9"/><circle cx="53.5" cy="486.1" r="0.9"/><circle cx="109.5" cy="532.2" r="1.1"/><circle cx="129.4" cy="534.7" r="0.7"/><circle cx="115.5" cy="533.9" r="0.7"/><circle cx="39" cy="546.9" r="0.7"/><circle cx="125.2" cy="549.5" r="0.9"/><circle cx="90.7" cy="485.4" r="0.6"/><circle cx="123.2" cy="525.7" r="0.8"/><circle cx="56.8" cy="485.6" r="1.1"/><circle cx="64.9" cy="484" r="1.1"/><circle cx="69.1" cy="492.4" r="0.9"/><circle cx="74.5" cy="518.6" r="0.9"/><circle cx="92" cy="499.6" r="0.9"/><circle cx="133.8" cy="495.5" r="0.9"/><circle cx="84" cy="513.1" r="0.8"/><circle cx="100.7" cy="548.5" r="0.7"/><circle cx="82.5" cy="551.9" r="0.6"/><circle cx="107.3" cy="507" r="0.9"/><circle cx="110.7" cy="498.8" r="0.6"/><circle cx="101.9" cy="552.5" r="0.9"/><circle cx="131.7" cy="517.7" r="1"/><circle cx="104.1" cy="536.3" r="1"/><circle cx="106.6" cy="532.3" r="0.8"/><circle cx="126.4" cy="524.7" r="0.9"/><circle cx="101.1" cy="505.3" r="0.7"/><circle cx="129.6" cy="495.6" r="0.8"/><circle cx="97.1" cy="516.4" r="0.7"/><circle cx="64.9" cy="536.2" r="0.7"/><circle cx="86" cy="488.1" r="0.6"/><circle cx="136" cy="512.3" r="0.9"/><circle cx="44.9" cy="491.8" r="0.9"/><circle cx="131.2" cy="548.9" r="0.8"/><circle cx="89.1" cy="496.2" r="1.1"/><circle cx="51.4" cy="502.5" r="0.7"/><circle cx="111.9" cy="543.7" r="0.9"/><circle cx="70.8" cy="547.3" r="0.7"/><circle cx="114.5" cy="503.3" r="1.1"/><circle cx="63.3" cy="544" r="1.1"/><circle cx="69" cy="495" r="1"/><circle cx="45.1" cy="522.3" r="0.8"/><circle cx="104.7" cy="487.7" r="1"/><circle cx="64.4" cy="522.2" r="1"/><circle cx="54.3" cy="503.9" r="1"/><circle cx="106.9" cy="545.4" r="0.6"/><circle cx="76.7" cy="505.6" r="1.1"/><circle cx="87.8" cy="504.1" r="0.7"/><circle cx="82.2" cy="504.9" r="0.6"/><circle cx="100.9" cy="545.2" r="0.8"/><circle cx="82.9" cy="544.5" r="1.2"/><circle cx="134.2" cy="534.8" r="0.7"/><circle cx="74" cy="504.9" r="1.1"/><circle cx="116.7" cy="540.1" r="0.7"/><circle cx="60.3" cy="552.9" r="0.8"/><circle cx="97.4" cy="511.4" r="1"/><circle cx="38" cy="539.3" r="1.1"/><circle cx="107.5" cy="505.8" r="1"/><circle cx="58.7" cy="536.5" r="1.1"/><circle cx="97.3" cy="535.2" r="1"/><circle cx="115" cy="546.3" r="1.1"/><circle cx="129.2" cy="532.3" r="0.7"/><circle cx="57.7" cy="546.8" r="0.7"/><circle cx="124.9" cy="532.7" r="0.7"/><circle cx="126.8" cy="532.6" r="0.7"/><circle cx="72.1" cy="529.9" r="1"/><circle cx="96.2" cy="542.7" r="0.8"/><circle cx="123.7" cy="550.8" r="1.1"/><circle cx="81.5" cy="498" r="0.9"/><circle cx="77.5" cy="529" r="0.7"/><circle cx="67" cy="486.7" r="0.7"/><circle cx="68.8" cy="519.7" r="1.1"/><circle cx="75.2" cy="545.1" r="0.9"/><circle cx="133.9" cy="504.5" r="0.8"/><circle cx="53.8" cy="538" r="1"/><circle cx="133.1" cy="516.4" r="1.1"/><circle cx="54.1" cy="548.4" r="0.6"/><circle cx="56.6" cy="552.6" r="0.6"/><circle cx="134" cy="552.9" r="0.6"/><circle cx="79.7" cy="538.2" r="1.2"/><circle cx="91.9" cy="546.6" r="0.9"/><circle cx="112.6" cy="485.1" r="1"/><circle cx="58.7" cy="533" r="0.8"/><circle cx="40.3" cy="513" r="0.7"/><circle cx="88.5" cy="480.5" r="0.9"/><circle cx="59.7" cy="506.4" r="1"/><circle cx="112" cy="515.4" r="0.9"/><circle cx="66.4" cy="524.7" r="1"/><circle cx="61.6" cy="489.3" r="1"/><circle cx="64.4" cy="535.5" r="0.9"/><circle cx="46.8" cy="505.2" r="1.2"/><circle cx="121.5" cy="527.9" r="1.2"/><circle cx="137.5" cy="537.6" r="1.1"/><circle cx="87.8" cy="545.6" r="0.8"/><circle cx="132.5" cy="552" r="1.1"/><circle cx="134.2" cy="530" r="1"/><circle cx="48.8" cy="533.3" r="0.7"/><circle cx="128.1" cy="539.1" r="1.1"/><circle cx="112" cy="500.4" r="1"/><circle cx="86.8" cy="544.3" r="1"/><circle cx="78.8" cy="532.7" r="1.1"/><circle cx="101.5" cy="507.2" r="1"/><circle cx="94.9" cy="487.8" r="0.8"/><circle cx="52.2" cy="517.6" r="0.7"/><circle cx="114.5" cy="523.4" r="0.7"/><circle cx="108.3" cy="537.7" r="0.6"/><circle cx="111.4" cy="514.8" r="1.1"/><circle cx="129.8" cy="525.4" r="1.1"/><circle cx="56.3" cy="534.2" r="1"/><circle cx="112.9" cy="513.1" r="0.7"/><circle cx="75.7" cy="492.3" r="1"/><circle cx="105.8" cy="525.6" r="1.1"/><circle cx="66.4" cy="524.5" r="1.1"/><circle cx="100.9" cy="492.9" r="0.8"/><circle cx="68.8" cy="502.9" r="1"/><circle cx="75.5" cy="495.2" r="1.2"/><circle cx="96" cy="546.8" r="0.9"/><circle cx="49.4" cy="485.2" r="1.1"/><circle cx="40.2" cy="485.5" r="1"/><circle cx="78.7" cy="482.9" r="0.8"/><circle cx="96.6" cy="492.1" r="0.8"/><circle cx="62.2" cy="517.1" r="1.1"/><circle cx="96.8" cy="535.4" r="1.1"/><circle cx="38.9" cy="487.3" r="1.1"/><circle cx="87" cy="510.6" r="1.1"/><circle cx="63" cy="515.2" r="1.1"/><circle cx="108.9" cy="485" r="0.8"/><circle cx="124.3" cy="525" r="0.8"/><circle cx="127.9" cy="518.7" r="1.1"/><circle cx="64.9" cy="525.1" r="0.8"/><circle cx="37.9" cy="528.3" r="0.9"/><circle cx="70.3" cy="503.2" r="0.8"/><circle cx="101.2" cy="551" r="1"/><circle cx="132.6" cy="502.3" r="0.6"/><circle cx="53.1" cy="541.6" r="0.7"/><circle cx="114" cy="552.7" r="1.1"/><circle cx="86.8" cy="495" r="1.1"/><circle cx="56.7" cy="480.5" r="0.9"/><circle cx="130.4" cy="553.1" r="0.9"/><circle cx="41.6" cy="514.2" r="0.9"/><circle cx="103.4" cy="507.7" r="0.8"/><circle cx="123.6" cy="538.5" r="0.8"/><circle cx="92.4" cy="483.3" r="0.9"/><circle cx="38.8" cy="526.3" r="0.8"/><circle cx="131.3" cy="517.2" r="0.7"/><circle cx="113.7" cy="508.7" r="0.9"/><circle cx="110.7" cy="509.5" r="0.9"/><circle cx="42.5" cy="502.7" r="0.6"/><circle cx="87.6" cy="515.4" r="0.7"/><circle cx="73.9" cy="480.7" r="1.2"/><circle cx="124.8" cy="502.9" r="1.2"/><circle cx="111" cy="517.4" r="0.8"/><circle cx="108.1" cy="540.8" r="1.1"/><circle cx="82.8" cy="544.1" r="0.7"/><circle cx="117.3" cy="552" r="0.6"/><circle cx="54.2" cy="529.7" r="1"/><circle cx="51.6" cy="481.6" r="1.2"/><circle cx="137.1" cy="546.9" r="0.6"/><circle cx="112.6" cy="512.7" r="0.8"/><circle cx="67.8" cy="532.1" r="0.8"/><circle cx="54.2" cy="482.3" r="0.6"/><circle cx="80" cy="533.2" r="0.9"/><circle cx="134.6" cy="545" r="1.1"/><circle cx="91.8" cy="517.9" r="1"/><circle cx="101.3" cy="492.8" r="0.9"/><circle cx="83.4" cy="516.3" r="0.9"/><circle cx="88.6" cy="524.5" r="0.8"/><circle cx="53" cy="553.1" r="1.1"/><circle cx="65.7" cy="540.8" r="1.1"/><circle cx="70.8" cy="500.9" r="0.7"/><circle cx="39.2" cy="498.3" r="1.1"/><circle cx="135.3" cy="526.3" r="1.2"/><circle cx="42.7" cy="520.2" r="1.2"/><circle cx="64.1" cy="481.7" r="1.2"/><circle cx="98.8" cy="548.6" r="0.6"/><circle cx="121.2" cy="522.9" r="1.1"/><circle cx="69.2" cy="482.1" r="1"/><circle cx="71.9" cy="491.5" r="0.7"/><circle cx="46.8" cy="524.6" r="1.1"/><circle cx="46.8" cy="494" r="1.1"/><circle cx="62.2" cy="523.2" r="0.7"/><circle cx="119.8" cy="522.7" r="0.7"/><circle cx="71.5" cy="529.2" r="0.7"/><circle cx="50.7" cy="509.1" r="0.6"/><circle cx="43.3" cy="488.4" r="0.8"/><circle cx="119.6" cy="545.6" r="0.8"/><circle cx="112" cy="540.5" r="1.2"/><circle cx="59.9" cy="531.4" r="1.1"/><circle cx="112.6" cy="483.1" r="1.1"/><circle cx="114.9" cy="523.9" r="0.6"/><circle cx="45.6" cy="480.5" r="0.9"/><circle cx="97.7" cy="487.4" r="1.1"/><circle cx="78.7" cy="490.2" r="1"/><circle cx="64.1" cy="495.8" r="0.7"/><circle cx="116.8" cy="487.3" r="0.7"/><circle cx="51.5" cy="528.9" r="1"/><circle cx="80.6" cy="491.3" r="0.6"/><circle cx="131" cy="524.2" r="0.6"/><circle cx="101.7" cy="541.2" r="0.7"/><circle cx="132.6" cy="492.4" r="0.9"/><circle cx="81.6" cy="550.7" r="0.9"/><circle cx="111.8" cy="533" r="0.8"/><circle cx="83.9" cy="513.8" r="0.8"/><circle cx="57.4" cy="492" r="1.2"/><circle cx="130.8" cy="491.8" r="1.2"/><circle cx="71.8" cy="535.8" r="0.9"/><circle cx="85" cy="511.2" r="0.6"/><circle cx="89.9" cy="498.6" r="1.2"/><circle cx="101.1" cy="500.7" r="1.1"/><circle cx="96.2" cy="526.6" r="1"/><circle cx="111" cy="495.9" r="1.1"/><circle cx="112.3" cy="535.7" r="1"/><circle cx="61.1" cy="552" r="1"/><circle cx="129.7" cy="500.9" r="0.8"/><circle cx="126.2" cy="553.2" r="1"/><circle cx="52.5" cy="501.2" r="0.9"/><circle cx="38.4" cy="504.8" r="0.9"/><circle cx="130.8" cy="530.6" r="1.1"/><circle cx="58.3" cy="544" r="0.7"/><circle cx="62.9" cy="528.3" r="0.7"/><circle cx="38.7" cy="531.5" r="0.6"/><circle cx="101.9" cy="487.6" r="0.9"/><circle cx="128" cy="510.7" r="0.7"/><circle cx="127.3" cy="547.3" r="0.9"/><circle cx="111.9" cy="497.9" r="0.6"/><circle cx="60.1" cy="523.8" r="1.1"/><circle cx="52.1" cy="490.4" r="0.8"/><circle cx="63.7" cy="505.8" r="1"/><circle cx="74.2" cy="534.6" r="1"/><circle cx="129.6" cy="523.2" r="1.2"/><circle cx="75.1" cy="520.1" r="0.7"/><circle cx="58.1" cy="505.8" r="1.1"/><circle cx="128.4" cy="513.6" r="0.8"/><circle cx="70.5" cy="521.5" r="0.9"/><circle cx="137.5" cy="530.5" r="0.8"/><circle cx="94.4" cy="514.1" r="1.2"/><circle cx="56" cy="539" r="0.8"/><circle cx="77.1" cy="483" r="0.8"/><circle cx="69.6" cy="499.4" r="1"/><circle cx="49.8" cy="502.4" r="0.9"/><circle cx="91.2" cy="523" r="0.7"/><circle cx="63.7" cy="536.5" r="1.2"/><circle cx="54.5" cy="486.3" r="1.1"/><circle cx="138" cy="509.5" r="1.2"/><circle cx="97.3" cy="546.2" r="0.6"/><circle cx="39.7" cy="541.6" r="0.9"/><circle cx="48.3" cy="536.8" r="0.6"/><circle cx="57" cy="534.5" r="1"/><circle cx="89.2" cy="524.7" r="1"/><circle cx="63.7" cy="505.8" r="1"/><circle cx="61.1" cy="538" r="1.2"/><circle cx="100.7" cy="492.1" r="0.8"/><circle cx="96.8" cy="512.7" r="0.8"/><circle cx="39.4" cy="508.6" r="0.8"/><circle cx="48.9" cy="552.4" r="1.1"/><circle cx="134.7" cy="498.2" r="1"/><circle cx="109.9" cy="498.2" r="1"/><circle cx="110.3" cy="523.5" r="0.9"/><circle cx="63" cy="499.4" r="0.8"/><circle cx="87.9" cy="510.6" r="0.7"/><circle cx="43.2" cy="552.8" r="0.8"/><circle cx="126.7" cy="545.7" r="0.7"/><circle cx="56.4" cy="496.9" r="0.6"/><circle cx="59.8" cy="525.1" r="1"/><circle cx="54.9" cy="518.7" r="1"/><circle cx="110.3" cy="530.2" r="1.1"/><circle cx="46.3" cy="489.5" r="1"/><circle cx="82.5" cy="532" r="1"/><circle cx="115.3" cy="532.3" r="0.9"/><circle cx="128.3" cy="529.2" r="0.9"/><circle cx="120.5" cy="505.2" r="0.8"/><circle cx="97.3" cy="552" r="0.7"/><circle cx="66.7" cy="487.6" r="1"/><circle cx="85.5" cy="515.1" r="0.8"/><circle cx="74.4" cy="522.6" r="0.7"/><circle cx="85.7" cy="490.8" r="0.9"/><circle cx="87.5" cy="510.2" r="0.8"/><circle cx="118.1" cy="497.3" r="0.9"/><circle cx="134.7" cy="506.9" r="0.9"/><circle cx="106.2" cy="516.5" r="1.1"/><circle cx="126.9" cy="497.2" r="0.9"/></g>
<g fill="#a67ac0" opacity="0.7"><circle cx="85.2" cy="513.6" r="1.5"/><circle cx="56.8" cy="500.6" r="1.2"/><circle cx="81.4" cy="503.1" r="1.2"/><circle cx="132.8" cy="525.4" r="1.3"/><circle cx="47.3" cy="526.5" r="1.5"/><circle cx="95" cy="483.3" r="1.5"/><circle cx="117.8" cy="521.5" r="1.5"/><circle cx="73.1" cy="507.9" r="1.2"/><circle cx="114.4" cy="534.6" r="1.4"/><circle cx="88.9" cy="501.5" r="1.8"/><circle cx="41.4" cy="521.5" r="1.2"/><circle cx="118.3" cy="551" r="1.5"/><circle cx="110.2" cy="495.1" r="1.8"/><circle cx="83" cy="544" r="1"/><circle cx="70.9" cy="531.2" r="1.1"/><circle cx="38.5" cy="504" r="1.6"/><circle cx="124.3" cy="493.8" r="1.5"/><circle cx="125" cy="536" r="1.5"/><circle cx="86.9" cy="496.7" r="1.2"/><circle cx="94.3" cy="502.2" r="1.6"/><circle cx="62.5" cy="525.8" r="1.2"/><circle cx="106.6" cy="544.9" r="1.7"/><circle cx="79.7" cy="548" r="1.1"/><circle cx="77" cy="501" r="1.3"/><circle cx="43.1" cy="506.4" r="1.5"/><circle cx="113" cy="512.6" r="1.7"/><circle cx="105.5" cy="534.4" r="1.7"/><circle cx="73.3" cy="536.1" r="1.4"/><circle cx="66.4" cy="529.1" r="1.6"/><circle cx="42.4" cy="532.4" r="1.8"/><circle cx="40.9" cy="549.4" r="1.3"/><circle cx="131.2" cy="508.9" r="1.4"/><circle cx="103.5" cy="502.1" r="1.2"/><circle cx="103.6" cy="504.8" r="1"/><circle cx="66.8" cy="545.8" r="1.6"/><circle cx="51" cy="517.4" r="1.5"/><circle cx="55" cy="540.3" r="1.8"/><circle cx="103.7" cy="537.8" r="1.3"/><circle cx="62.5" cy="529.7" r="1.7"/><circle cx="111.5" cy="491.1" r="1.8"/><circle cx="128.7" cy="530.7" r="1.2"/><circle cx="54.8" cy="488.6" r="1.6"/><circle cx="92.9" cy="552.6" r="1.1"/><circle cx="73.8" cy="500.6" r="1.7"/><circle cx="114.6" cy="533.5" r="1.4"/><circle cx="64.6" cy="509.2" r="1.1"/><circle cx="109.2" cy="524.4" r="1.4"/><circle cx="125.2" cy="489.7" r="1.5"/><circle cx="48.3" cy="498.7" r="1.5"/><circle cx="89.1" cy="544.1" r="1.2"/><circle cx="73.7" cy="507.7" r="1.2"/><circle cx="105.5" cy="504.7" r="1.3"/><circle cx="116.6" cy="485.6" r="1.5"/><circle cx="87.4" cy="510.2" r="1.4"/><circle cx="54.7" cy="489.5" r="1.6"/><circle cx="70.1" cy="498.3" r="1.2"/><circle cx="101" cy="531.3" r="1.5"/><circle cx="40" cy="512.4" r="1.3"/><circle cx="55.2" cy="534.7" r="1.3"/><circle cx="122.5" cy="516.2" r="1.2"/><circle cx="124.9" cy="484.3" r="1.3"/><circle cx="74" cy="488" r="1.5"/><circle cx="67.8" cy="549.2" r="1.7"/><circle cx="41.6" cy="494.4" r="1.5"/><circle cx="108.6" cy="496.9" r="1.3"/><circle cx="136.8" cy="548.6" r="1.3"/><circle cx="108.2" cy="551.2" r="1.5"/><circle cx="79.7" cy="548.6" r="1.5"/><circle cx="105.5" cy="546.3" r="1"/><circle cx="48.4" cy="484.8" r="1.2"/><circle cx="135.3" cy="532.6" r="1.3"/><circle cx="98" cy="512.3" r="1.4"/><circle cx="72.4" cy="547.9" r="1.6"/><circle cx="43.4" cy="524.7" r="1.7"/><circle cx="76.3" cy="489.4" r="1"/><circle cx="91.7" cy="507.3" r="1.4"/><circle cx="106.4" cy="511.9" r="1.5"/><circle cx="97.6" cy="521.9" r="1.4"/><circle cx="58.7" cy="499.9" r="1.5"/><circle cx="132" cy="487.7" r="1"/><circle cx="82.9" cy="549.1" r="1.7"/><circle cx="59.8" cy="525" r="1.1"/><circle cx="118.6" cy="485" r="1.8"/><circle cx="73.3" cy="502.7" r="1.3"/><circle cx="49" cy="506.2" r="1.2"/><circle cx="40.8" cy="514.4" r="1.7"/><circle cx="113.8" cy="519.9" r="1.1"/><circle cx="83.5" cy="498.7" r="1.4"/><circle cx="126.1" cy="494.3" r="1.4"/><circle cx="84.7" cy="512.4" r="1.1"/><circle cx="129.7" cy="545.6" r="1.2"/><circle cx="124.6" cy="513.4" r="1.7"/><circle cx="68.6" cy="484.1" r="1.8"/><circle cx="73.9" cy="483.1" r="1.2"/><circle cx="71.1" cy="541.1" r="1.8"/><circle cx="65.2" cy="489" r="1.1"/><circle cx="136.8" cy="514.8" r="1.1"/><circle cx="68.6" cy="517.7" r="1.5"/><circle cx="91.2" cy="536.8" r="1.4"/><circle cx="122.1" cy="530.3" r="1.5"/><circle cx="47.4" cy="503.3" r="1.2"/><circle cx="125.5" cy="544" r="1.6"/><circle cx="106.1" cy="490" r="1"/><circle cx="45.4" cy="512.8" r="1.2"/><circle cx="137.3" cy="487.1" r="1.5"/><circle cx="68.6" cy="493.4" r="1.7"/><circle cx="120.2" cy="515.1" r="1.4"/><circle cx="49.2" cy="524.2" r="1.6"/><circle cx="126.8" cy="540.2" r="1.6"/><circle cx="57" cy="547.6" r="1.1"/><circle cx="61.4" cy="520" r="1.6"/><circle cx="101.9" cy="525.1" r="1.6"/><circle cx="78" cy="483.2" r="1.2"/><circle cx="95.8" cy="532.7" r="1.3"/><circle cx="92.9" cy="542.6" r="1.5"/><circle cx="85.7" cy="509.7" r="1.1"/><circle cx="75.1" cy="551.5" r="1.4"/><circle cx="84" cy="528.3" r="1.2"/><circle cx="82.2" cy="497.9" r="1.4"/><circle cx="88.7" cy="538.5" r="1.6"/><circle cx="74" cy="552.7" r="1.5"/><circle cx="76.6" cy="491.9" r="1"/><circle cx="73.2" cy="525" r="1.2"/><circle cx="50.5" cy="514.9" r="1.1"/><circle cx="59.6" cy="516.6" r="1.6"/><circle cx="71.7" cy="530.5" r="1.3"/><circle cx="51.5" cy="538.4" r="1.5"/><circle cx="103.6" cy="534.6" r="1.4"/><circle cx="44.2" cy="491" r="1.4"/><circle cx="103.7" cy="482.7" r="1.6"/><circle cx="129.6" cy="524.2" r="1.7"/><circle cx="86.9" cy="535.3" r="1"/><circle cx="91.2" cy="534.9" r="1.6"/><circle cx="130.3" cy="509.8" r="1"/><circle cx="112.5" cy="552.4" r="1.8"/><circle cx="124.5" cy="481.7" r="1.5"/><circle cx="130.4" cy="502.1" r="1.5"/><circle cx="97.2" cy="508.1" r="1.7"/><circle cx="46.9" cy="492.6" r="1.6"/><circle cx="114.5" cy="515.3" r="1.7"/><circle cx="57" cy="498.3" r="1"/><circle cx="121.8" cy="502.2" r="1.5"/><circle cx="86.1" cy="519.8" r="1.2"/><circle cx="49.7" cy="538.9" r="1.4"/><circle cx="72.5" cy="519.7" r="1"/><circle cx="112.5" cy="504.9" r="1.3"/><circle cx="64.2" cy="483.2" r="1.6"/><circle cx="104.7" cy="539" r="1.4"/><circle cx="124.3" cy="509.7" r="1.4"/><circle cx="119.5" cy="502.4" r="1.4"/><circle cx="73.1" cy="484.1" r="1.8"/><circle cx="122.7" cy="537.4" r="1"/><circle cx="128.8" cy="489.4" r="1.7"/><circle cx="74.8" cy="481.2" r="1.6"/><circle cx="40" cy="540.5" r="1.1"/><circle cx="120.9" cy="483.3" r="1.1"/><circle cx="106.7" cy="524.7" r="1.6"/><circle cx="50.2" cy="521.4" r="1.7"/><circle cx="119.2" cy="542.4" r="1.6"/><circle cx="119.8" cy="517.4" r="1.4"/><circle cx="98.4" cy="540.2" r="1.1"/><circle cx="65.1" cy="541.1" r="1.2"/><circle cx="49.6" cy="538.6" r="1.8"/><circle cx="50.5" cy="483" r="1.4"/><circle cx="95.2" cy="527.8" r="1.5"/><circle cx="86.4" cy="487.6" r="1.3"/><circle cx="85.2" cy="552.5" r="1.4"/><circle cx="102.8" cy="528.3" r="1.5"/><circle cx="105.1" cy="488.1" r="1.2"/><circle cx="57.8" cy="511.5" r="1.2"/><circle cx="127.3" cy="486.9" r="1"/><circle cx="112.3" cy="484.6" r="1"/><circle cx="63.7" cy="508.7" r="1.4"/><circle cx="96.8" cy="535.1" r="1.7"/><circle cx="63.6" cy="513.2" r="1.3"/><circle cx="56.3" cy="521.1" r="1.7"/><circle cx="59.8" cy="491.8" r="1.1"/><circle cx="77.9" cy="553.4" r="1.5"/><circle cx="49.2" cy="551.1" r="1.2"/><circle cx="82.6" cy="523.8" r="1.8"/><circle cx="125.3" cy="505.4" r="1.8"/><circle cx="97.3" cy="540.1" r="1.2"/><circle cx="100.9" cy="533.2" r="1.8"/><circle cx="122.7" cy="524" r="1.1"/><circle cx="110.1" cy="489.1" r="1.7"/><circle cx="133.4" cy="543.6" r="1.1"/><circle cx="98.1" cy="526.6" r="1.6"/><circle cx="124.3" cy="489.4" r="1.2"/><circle cx="37.9" cy="552.2" r="1.4"/><circle cx="97.5" cy="543.8" r="1.2"/><circle cx="70.4" cy="527.8" r="1.3"/><circle cx="112.2" cy="509.8" r="1.5"/><circle cx="92.8" cy="507.8" r="1.8"/><circle cx="120.5" cy="500.8" r="1.4"/><circle cx="98.4" cy="497.1" r="1.1"/><circle cx="79.9" cy="523.2" r="1.7"/><circle cx="92.9" cy="516.6" r="1.4"/><circle cx="41.4" cy="503" r="1.6"/><circle cx="102.3" cy="486.2" r="1.7"/><circle cx="125.9" cy="542.5" r="1.6"/></g>
</g></g>
<clipPath id="ln2"><rect x="150" y="482" width="96.5" height="69.4"/></clipPath>
<g clip-path="url(#ln2)"><rect x="148" y="480" width="100.5" height="73.4" fill="#c2a2d4"/><g filter="url(#bl2)">
<g fill="#dcc8e6" opacity="0.75"><circle cx="181" cy="499.3" r="1.4"/><circle cx="189.9" cy="483.9" r="1.2"/><circle cx="217.1" cy="542.1" r="1.1"/><circle cx="165.5" cy="497.8" r="2"/><circle cx="195.7" cy="501.5" r="1.7"/><circle cx="221.5" cy="522.3" r="1.7"/><circle cx="228.2" cy="520.4" r="1.8"/><circle cx="190.7" cy="543.7" r="2.1"/><circle cx="204.4" cy="525" r="2.1"/><circle cx="159.7" cy="505.5" r="1.4"/><circle cx="207" cy="537.1" r="1.7"/><circle cx="204.5" cy="537.1" r="1.4"/><circle cx="215.1" cy="536.4" r="1.6"/><circle cx="224" cy="481.3" r="1.7"/><circle cx="221.1" cy="531" r="1.1"/><circle cx="200.1" cy="526.6" r="1.9"/><circle cx="243.4" cy="488.2" r="1.3"/><circle cx="215" cy="483.1" r="1.5"/><circle cx="153" cy="526.4" r="1.8"/><circle cx="158.7" cy="490.7" r="1.4"/><circle cx="179.1" cy="516" r="1.7"/><circle cx="180.9" cy="481.5" r="1.1"/><circle cx="234" cy="494" r="2.1"/><circle cx="190.8" cy="492.5" r="1.7"/><circle cx="155.7" cy="498" r="1.7"/><circle cx="184.9" cy="486" r="1.8"/><circle cx="173.3" cy="550.6" r="1.2"/><circle cx="164.8" cy="500.9" r="2"/><circle cx="236.1" cy="539.3" r="1.3"/><circle cx="188.1" cy="519.6" r="1.6"/><circle cx="241.8" cy="536.9" r="1.6"/><circle cx="162.3" cy="553.2" r="2.2"/><circle cx="230.5" cy="535.2" r="1.9"/><circle cx="242.4" cy="535.1" r="1.7"/><circle cx="202.6" cy="524.8" r="1.1"/><circle cx="210" cy="487.2" r="2"/><circle cx="158.8" cy="500.5" r="1.9"/><circle cx="163.6" cy="494" r="1.6"/><circle cx="242.3" cy="551.7" r="1.1"/><circle cx="149.7" cy="492.7" r="2"/><circle cx="213.2" cy="541.5" r="1.6"/><circle cx="191" cy="541" r="1.4"/><circle cx="230.6" cy="522.5" r="1.1"/><circle cx="150.8" cy="515.5" r="1.4"/><circle cx="246.9" cy="483.6" r="1.6"/><circle cx="223.1" cy="503.1" r="1.8"/><circle cx="186.7" cy="496.2" r="1.1"/><circle cx="207.1" cy="529.3" r="1.7"/><circle cx="181.8" cy="487.4" r="1.2"/><circle cx="235.3" cy="507.9" r="1.7"/><circle cx="165.1" cy="497.7" r="1.1"/><circle cx="247.5" cy="499.4" r="1.5"/><circle cx="164.1" cy="512.2" r="2.2"/><circle cx="186.4" cy="480.3" r="1.5"/><circle cx="209.2" cy="505" r="1"/><circle cx="216.3" cy="512" r="2.1"/><circle cx="245.7" cy="524.8" r="1.9"/><circle cx="222.4" cy="485.6" r="1.7"/><circle cx="225.4" cy="537.6" r="1.7"/><circle cx="222.8" cy="539" r="2"/><circle cx="171.1" cy="552.3" r="2.1"/><circle cx="157.4" cy="502" r="1.1"/><circle cx="200.8" cy="490.7" r="1.5"/><circle cx="183.6" cy="522.7" r="1.4"/><circle cx="159.2" cy="480.1" r="2.1"/><circle cx="186.4" cy="527.1" r="1.1"/><circle cx="155" cy="519.3" r="1.8"/><circle cx="241.2" cy="499.4" r="2.1"/><circle cx="245.7" cy="507.5" r="1.7"/><circle cx="156.9" cy="529.1" r="2"/><circle cx="231.5" cy="524.6" r="1.4"/><circle cx="162.1" cy="511.3" r="1.7"/><circle cx="151.9" cy="504" r="2"/><circle cx="208.5" cy="547.4" r="1.1"/><circle cx="199.1" cy="497.7" r="1.8"/><circle cx="245.3" cy="526.6" r="2.1"/><circle cx="224.6" cy="495.2" r="2"/><circle cx="215.7" cy="528.9" r="2.1"/><circle cx="161.1" cy="536.3" r="2"/><circle cx="148.4" cy="522.7" r="1.6"/><circle cx="192.7" cy="503.8" r="1.1"/><circle cx="201.1" cy="543.2" r="1.9"/><circle cx="149.7" cy="522.6" r="1.4"/><circle cx="237.7" cy="539.5" r="1.5"/><circle cx="174.7" cy="482.1" r="1.5"/><circle cx="164.9" cy="536.8" r="1.6"/><circle cx="198.9" cy="486.6" r="1.2"/><circle cx="167.2" cy="491.9" r="1.1"/><circle cx="180.9" cy="519.9" r="1.6"/><circle cx="189.9" cy="517.1" r="1.1"/><circle cx="189.1" cy="528.4" r="1"/><circle cx="214.8" cy="547.2" r="2.2"/><circle cx="245.3" cy="503.3" r="1.4"/><circle cx="156.2" cy="484.5" r="1.8"/><circle cx="196.5" cy="483.1" r="1.9"/><circle cx="232.8" cy="526.6" r="1.5"/><circle cx="181.8" cy="483.4" r="1.3"/><circle cx="247.3" cy="542.4" r="1.2"/><circle cx="234.3" cy="481.6" r="1.2"/><circle cx="185.5" cy="493" r="2"/><circle cx="227.2" cy="536.8" r="1.7"/><circle cx="212.5" cy="547.8" r="2"/><circle cx="215.3" cy="553.4" r="1"/><circle cx="191.6" cy="517.8" r="1.9"/><circle cx="161.5" cy="513.3" r="1.6"/><circle cx="210.4" cy="537.6" r="1.6"/><circle cx="244.7" cy="493.4" r="2"/><circle cx="206.4" cy="536.8" r="2.1"/><circle cx="232.1" cy="543.6" r="1.5"/><circle cx="168" cy="511.7" r="1.6"/><circle cx="202.4" cy="530.5" r="2.1"/><circle cx="152.5" cy="489.8" r="1.3"/><circle cx="185" cy="505.9" r="1"/><circle cx="166.8" cy="495.3" r="1.7"/><circle cx="178.2" cy="542" r="1"/><circle cx="219" cy="506.6" r="2"/><circle cx="170.6" cy="548.2" r="1.2"/><circle cx="163.3" cy="545.8" r="1.8"/><circle cx="225.3" cy="512.4" r="2.1"/><circle cx="239" cy="540.2" r="2"/><circle cx="241.7" cy="491.2" r="2"/><circle cx="163.7" cy="528.6" r="1.3"/><circle cx="187.6" cy="499.9" r="1.1"/><circle cx="201.1" cy="544.2" r="1.4"/><circle cx="166.2" cy="539.3" r="1.3"/><circle cx="158.3" cy="483.6" r="1.8"/><circle cx="244.5" cy="530.5" r="1.7"/><circle cx="219.2" cy="535.2" r="2.2"/><circle cx="211.9" cy="491.2" r="2.2"/><circle cx="216.9" cy="509.1" r="2.1"/><circle cx="237.8" cy="508.8" r="1.5"/><circle cx="163.7" cy="549.7" r="1.8"/><circle cx="213.9" cy="495.9" r="1.9"/><circle cx="243.1" cy="543.6" r="1.6"/><circle cx="156.7" cy="527.4" r="1.1"/><circle cx="191.1" cy="510.6" r="2.1"/><circle cx="223.1" cy="489" r="1.7"/><circle cx="213.2" cy="498" r="1.7"/><circle cx="153.1" cy="533.8" r="1.7"/><circle cx="240.3" cy="546.7" r="1.4"/><circle cx="153.5" cy="528.5" r="1.8"/><circle cx="222.4" cy="503.3" r="1.5"/><circle cx="229.1" cy="524.1" r="1.3"/><circle cx="159.5" cy="532.2" r="1.4"/><circle cx="241.9" cy="541.6" r="1.5"/><circle cx="169.5" cy="481.8" r="1.6"/><circle cx="220.3" cy="486.7" r="1.5"/><circle cx="185.5" cy="514.7" r="1.7"/><circle cx="193.5" cy="531" r="1.3"/><circle cx="221.8" cy="515.4" r="1.7"/><circle cx="210.1" cy="546.2" r="2.2"/><circle cx="149.4" cy="532.1" r="1.6"/><circle cx="212.3" cy="497.3" r="1.5"/><circle cx="189.9" cy="510" r="2.1"/><circle cx="178.4" cy="512.9" r="1.1"/><circle cx="181.3" cy="498.3" r="1.5"/><circle cx="163.9" cy="501.5" r="1.4"/><circle cx="194.5" cy="514.4" r="1.8"/><circle cx="212.5" cy="514.8" r="1.5"/><circle cx="199.8" cy="527.9" r="1.4"/><circle cx="247.1" cy="539.3" r="2"/><circle cx="162.4" cy="496.1" r="1.7"/><circle cx="235.3" cy="513.1" r="2"/><circle cx="208.4" cy="480.3" r="2.2"/><circle cx="239.7" cy="507.8" r="2"/><circle cx="168.5" cy="527.3" r="1.8"/><circle cx="187.3" cy="542.6" r="1.2"/><circle cx="166" cy="521.8" r="1.9"/><circle cx="150.3" cy="529.7" r="1.3"/><circle cx="200.5" cy="516.8" r="1.9"/></g>
<ellipse cx="189" cy="536.1" rx="5.8" ry="1.5" fill="#dcd0ec" opacity="0.7" transform="rotate(-17.5 189 536.1)"/>
<ellipse cx="166" cy="504.4" rx="9.6" ry="1.3" fill="#dcd0ec" opacity="0.7" transform="rotate(-21.1 166 504.4)"/>
<ellipse cx="160.3" cy="529.8" rx="8.3" ry="0.9" fill="#dcd0ec" opacity="0.7" transform="rotate(-16.1 160.3 529.8)"/>
<ellipse cx="228.6" cy="524.7" rx="9.8" ry="1.2" fill="#dcd0ec" opacity="0.7" transform="rotate(-39.3 228.6 524.7)"/>
<ellipse cx="199.5" cy="531.9" rx="10" ry="1" fill="#dcd0ec" opacity="0.7" transform="rotate(-42.5 199.5 531.9)"/>
<ellipse cx="230.4" cy="531.4" rx="4.8" ry="1.1" fill="#dcd0ec" opacity="0.7" transform="rotate(54.6 230.4 531.4)"/>
<ellipse cx="192.8" cy="519.6" rx="4.6" ry="1.5" fill="#dcd0ec" opacity="0.7" transform="rotate(-15.4 192.8 519.6)"/>
<ellipse cx="202.5" cy="502.8" rx="9.7" ry="1.1" fill="#dcd0ec" opacity="0.7" transform="rotate(18 202.5 502.8)"/>
<ellipse cx="228.1" cy="538.5" rx="7" ry="1.4" fill="#dcd0ec" opacity="0.7" transform="rotate(24.3 228.1 538.5)"/>
<ellipse cx="183.3" cy="516.1" rx="7.3" ry="1.2" fill="#dcd0ec" opacity="0.7" transform="rotate(20.9 183.3 516.1)"/>
<ellipse cx="190.1" cy="539.5" rx="9.2" ry="0.9" fill="#dcd0ec" opacity="0.7" transform="rotate(31.5 190.1 539.5)"/>
<ellipse cx="166" cy="507.3" rx="8.6" ry="0.8" fill="#dcd0ec" opacity="0.7" transform="rotate(57 166 507.3)"/>
<ellipse cx="171" cy="541.3" rx="7.4" ry="1.2" fill="#dcd0ec" opacity="0.7" transform="rotate(52 171 541.3)"/>
<ellipse cx="183.6" cy="548.4" rx="8.4" ry="1.1" fill="#dcd0ec" opacity="0.7" transform="rotate(-2.9 183.6 548.4)"/>
<g fill="#8c62aa" opacity="0.75"><circle cx="229.3" cy="483.8" r="0.7"/><circle cx="183.4" cy="531.5" r="1.1"/><circle cx="215.4" cy="491.2" r="1"/><circle cx="246.4" cy="538.2" r="0.7"/><circle cx="226.9" cy="488.9" r="0.9"/><circle cx="219.8" cy="519.5" r="0.8"/><circle cx="204.1" cy="525.1" r="0.8"/><circle cx="177" cy="494.1" r="1.1"/><circle cx="242.3" cy="489.6" r="0.7"/><circle cx="203.4" cy="540.3" r="0.9"/><circle cx="247.2" cy="505" r="0.8"/><circle cx="165.1" cy="536.8" r="0.7"/><circle cx="172.2" cy="547.5" r="0.7"/><circle cx="181.5" cy="543.1" r="0.7"/><circle cx="170.1" cy="545.2" r="1.1"/><circle cx="183.6" cy="530" r="0.9"/><circle cx="225.6" cy="528.5" r="0.7"/><circle cx="217.3" cy="491.7" r="1"/><circle cx="155.8" cy="493.9" r="0.9"/><circle cx="230.6" cy="506" r="0.8"/><circle cx="163.3" cy="530.8" r="0.8"/><circle cx="179.7" cy="481.4" r="0.7"/><circle cx="164.4" cy="488.2" r="0.7"/><circle cx="232.1" cy="517.2" r="1.1"/><circle cx="203.9" cy="516.1" r="0.9"/><circle cx="218.2" cy="495.7" r="0.7"/><circle cx="212.3" cy="528.2" r="0.9"/><circle cx="191.7" cy="541.5" r="0.7"/><circle cx="159" cy="528.6" r="1"/><circle cx="181.2" cy="550.6" r="0.7"/><circle cx="173.5" cy="527.9" r="0.9"/><circle cx="150.9" cy="486.1" r="0.7"/><circle cx="183.1" cy="481.8" r="1"/><circle cx="212.5" cy="521.3" r="0.7"/><circle cx="163.7" cy="548.7" r="0.8"/><circle cx="177.8" cy="513.6" r="0.9"/><circle cx="237.8" cy="518.7" r="0.7"/><circle cx="156" cy="543.6" r="1"/><circle cx="218.7" cy="495.9" r="1"/><circle cx="197.4" cy="531.4" r="0.6"/><circle cx="199.4" cy="537.7" r="1"/><circle cx="228.1" cy="511.7" r="0.7"/><circle cx="234.7" cy="546.6" r="1.1"/><circle cx="200.8" cy="547" r="0.6"/><circle cx="238" cy="493.9" r="0.7"/><circle cx="191.1" cy="527.8" r="0.7"/><circle cx="167.8" cy="541.7" r="0.9"/><circle cx="192.1" cy="536.4" r="0.9"/><circle cx="239.9" cy="508.9" r="0.7"/><circle cx="155" cy="528.7" r="0.8"/><circle cx="152.8" cy="519" r="0.9"/><circle cx="239.9" cy="501.4" r="0.8"/><circle cx="240" cy="529.6" r="0.7"/><circle cx="185.5" cy="493.4" r="1"/><circle cx="215.9" cy="514.6" r="0.6"/><circle cx="199.1" cy="498.2" r="0.9"/><circle cx="170.4" cy="485.4" r="1"/><circle cx="210.6" cy="540.3" r="0.9"/><circle cx="151.4" cy="552.6" r="0.7"/><circle cx="151" cy="501.6" r="0.6"/><circle cx="188.3" cy="530.6" r="0.9"/><circle cx="196.4" cy="552.2" r="0.8"/><circle cx="243.7" cy="530.6" r="0.8"/><circle cx="234" cy="495.4" r="0.7"/><circle cx="239.1" cy="506.3" r="0.8"/><circle cx="214.6" cy="547.8" r="0.9"/><circle cx="244.4" cy="531.7" r="0.9"/><circle cx="210.3" cy="498.6" r="1"/><circle cx="170.6" cy="547.1" r="1"/><circle cx="183" cy="491.2" r="1"/><circle cx="215.8" cy="541.8" r="0.7"/><circle cx="164.9" cy="493.9" r="0.9"/><circle cx="224" cy="507" r="0.7"/><circle cx="196.7" cy="512.5" r="1"/><circle cx="247.6" cy="517.9" r="0.7"/><circle cx="167.7" cy="480.5" r="0.6"/><circle cx="165.9" cy="497.9" r="0.8"/><circle cx="231.3" cy="544" r="1"/><circle cx="212.5" cy="552.1" r="1.1"/><circle cx="175.6" cy="508.1" r="1.1"/><circle cx="247.5" cy="505.4" r="0.7"/><circle cx="228.6" cy="485.3" r="1.1"/><circle cx="168.9" cy="537.8" r="0.9"/><circle cx="194.9" cy="543.8" r="0.7"/><circle cx="219.3" cy="497" r="1"/><circle cx="210.4" cy="528.8" r="1"/><circle cx="194.4" cy="528.2" r="1"/><circle cx="239.3" cy="526" r="0.6"/><circle cx="195.5" cy="545.8" r="0.9"/><circle cx="164.7" cy="536.2" r="1"/><circle cx="159.7" cy="490.5" r="0.9"/><circle cx="170.7" cy="481.3" r="1"/><circle cx="240.9" cy="550.6" r="0.7"/><circle cx="244.6" cy="485.4" r="1"/><circle cx="183.1" cy="517.4" r="1.1"/><circle cx="221.4" cy="506" r="1"/><circle cx="188.8" cy="519.2" r="0.6"/><circle cx="247.2" cy="483.7" r="0.6"/><circle cx="172.8" cy="531.3" r="1"/><circle cx="159.4" cy="501.8" r="0.9"/><circle cx="241" cy="496.2" r="0.7"/><circle cx="181.5" cy="492.6" r="1.1"/><circle cx="240.6" cy="482" r="0.9"/><circle cx="183.8" cy="488.5" r="1"/><circle cx="176.7" cy="480.9" r="0.7"/><circle cx="229.2" cy="492.1" r="1.1"/><circle cx="205.9" cy="540.2" r="1"/><circle cx="224.4" cy="530" r="0.7"/><circle cx="235.5" cy="486" r="0.8"/><circle cx="242.3" cy="536.1" r="0.7"/><circle cx="245.6" cy="528.5" r="0.6"/><circle cx="203.2" cy="503.8" r="1.1"/><circle cx="156.6" cy="518.8" r="0.7"/><circle cx="211.7" cy="491.1" r="0.7"/><circle cx="230.8" cy="522" r="0.8"/><circle cx="153" cy="485" r="0.9"/><circle cx="177.9" cy="543.4" r="0.7"/><circle cx="237.2" cy="548.4" r="0.6"/><circle cx="195.3" cy="512.9" r="0.9"/><circle cx="243.8" cy="482.6" r="1"/><circle cx="191.6" cy="507.1" r="0.9"/><circle cx="179.8" cy="487.7" r="0.6"/><circle cx="152.8" cy="552.2" r="0.7"/><circle cx="219.3" cy="512.3" r="1.1"/><circle cx="169.2" cy="491.1" r="0.7"/><circle cx="193.4" cy="481.9" r="0.8"/><circle cx="194.3" cy="527.9" r="1"/><circle cx="232.7" cy="496.8" r="1"/><circle cx="246.4" cy="548.7" r="0.7"/><circle cx="219.8" cy="494.7" r="1"/><circle cx="202.5" cy="501.5" r="0.7"/><circle cx="245.5" cy="490.4" r="0.7"/><circle cx="237.9" cy="544.3" r="0.6"/><circle cx="223.1" cy="546.5" r="1"/><circle cx="159.9" cy="545.7" r="0.7"/><circle cx="163.4" cy="509.8" r="1"/><circle cx="194.6" cy="544" r="0.6"/><circle cx="240.2" cy="532.9" r="1.1"/><circle cx="164.5" cy="489.8" r="0.8"/><circle cx="168.2" cy="528.6" r="0.9"/><circle cx="244.1" cy="498.5" r="0.9"/><circle cx="245.8" cy="529" r="0.7"/><circle cx="235.5" cy="513.2" r="1"/><circle cx="179.9" cy="532.9" r="1.1"/><circle cx="234.2" cy="522.2" r="0.8"/><circle cx="164.1" cy="521.3" r="0.7"/><circle cx="235.2" cy="496.5" r="0.8"/><circle cx="186.8" cy="543.9" r="0.9"/><circle cx="160.4" cy="481.2" r="0.7"/><circle cx="205.5" cy="524.9" r="0.9"/><circle cx="214.6" cy="502.1" r="0.8"/><circle cx="244.9" cy="547" r="1"/><circle cx="175" cy="551.6" r="1.1"/><circle cx="148.1" cy="484.5" r="0.7"/><circle cx="234.4" cy="515" r="0.9"/><circle cx="173.1" cy="489.9" r="0.9"/><circle cx="234" cy="530.2" r="1"/><circle cx="150.3" cy="505" r="1.1"/><circle cx="239.4" cy="518.8" r="0.8"/><circle cx="232.4" cy="492.6" r="1.1"/><circle cx="224.1" cy="527.8" r="0.8"/><circle cx="212" cy="548.2" r="0.8"/><circle cx="200.4" cy="505.1" r="1"/><circle cx="193.5" cy="511.4" r="0.7"/><circle cx="244.7" cy="551.6" r="1"/><circle cx="189.5" cy="494.1" r="0.6"/><circle cx="163.5" cy="525.8" r="0.9"/><circle cx="239.1" cy="496.7" r="1.1"/><circle cx="240.5" cy="538.8" r="0.9"/><circle cx="174.4" cy="515" r="1"/><circle cx="191.6" cy="540.5" r="1"/><circle cx="220.1" cy="494.7" r="0.9"/><circle cx="151.7" cy="491.7" r="0.6"/><circle cx="166.8" cy="508.8" r="0.7"/><circle cx="184.4" cy="512.6" r="0.7"/><circle cx="166.8" cy="552.2" r="0.7"/><circle cx="246.3" cy="510.5" r="0.9"/><circle cx="231.9" cy="487.7" r="1.1"/><circle cx="193.8" cy="486.6" r="0.7"/><circle cx="228.3" cy="506.7" r="1"/><circle cx="235.3" cy="542.9" r="0.9"/><circle cx="222.7" cy="537" r="1"/><circle cx="243.7" cy="483.2" r="1.1"/><circle cx="247.4" cy="509.9" r="0.9"/><circle cx="233.9" cy="538.7" r="0.7"/><circle cx="232.3" cy="498.8" r="1"/><circle cx="179.4" cy="542" r="0.7"/><circle cx="158" cy="512.4" r="0.8"/><circle cx="162" cy="551.5" r="1.1"/><circle cx="215.6" cy="539.4" r="0.9"/><circle cx="185.6" cy="514.9" r="0.7"/><circle cx="150.2" cy="540.1" r="0.9"/><circle cx="205.8" cy="512.6" r="1"/><circle cx="227.3" cy="530.6" r="1"/><circle cx="227.6" cy="541" r="1.1"/><circle cx="199.1" cy="500.5" r="1"/><circle cx="186.7" cy="486.5" r="0.6"/><circle cx="241" cy="482.5" r="1.1"/><circle cx="195.3" cy="549.4" r="0.8"/><circle cx="197.4" cy="509.9" r="0.7"/><circle cx="210.9" cy="506" r="0.8"/><circle cx="159.5" cy="536.5" r="0.6"/><circle cx="220.6" cy="498.1" r="0.6"/><circle cx="197.6" cy="545.5" r="0.8"/><circle cx="155" cy="507.6" r="1"/><circle cx="248.3" cy="486.5" r="0.9"/><circle cx="156.4" cy="512.5" r="1"/><circle cx="211.4" cy="526.4" r="0.8"/><circle cx="219.1" cy="524.5" r="0.9"/><circle cx="241.5" cy="519" r="0.8"/><circle cx="175.7" cy="508.7" r="1.1"/><circle cx="190.1" cy="483" r="1.1"/><circle cx="225.1" cy="542.7" r="1"/><circle cx="238.5" cy="490.8" r="1"/><circle cx="151.3" cy="550.5" r="0.7"/><circle cx="162.4" cy="516.4" r="0.9"/><circle cx="233.1" cy="517.2" r="1"/><circle cx="173.1" cy="482.8" r="0.7"/><circle cx="170.5" cy="521.6" r="1.1"/><circle cx="231.1" cy="522.2" r="0.6"/><circle cx="208.1" cy="531.7" r="1"/><circle cx="151.7" cy="495.8" r="0.9"/><circle cx="207.2" cy="549.2" r="1.1"/><circle cx="222.1" cy="513.2" r="1"/><circle cx="194.7" cy="492.7" r="0.9"/><circle cx="205.8" cy="496.8" r="0.7"/><circle cx="189.7" cy="529.3" r="1"/><circle cx="152.9" cy="481.1" r="0.7"/><circle cx="180.5" cy="509.3" r="0.7"/><circle cx="168.7" cy="533.1" r="0.9"/></g>
<g fill="#b08ac8" opacity="0.7"><circle cx="186" cy="513.1" r="1.4"/><circle cx="186.5" cy="526" r="1.3"/><circle cx="151" cy="484.7" r="1"/><circle cx="229.9" cy="524.6" r="1.5"/><circle cx="182.1" cy="519.6" r="1.5"/><circle cx="175.1" cy="487.4" r="1.1"/><circle cx="189.8" cy="531.5" r="1.5"/><circle cx="162.4" cy="512.2" r="1.1"/><circle cx="203.7" cy="552" r="1.3"/><circle cx="204.9" cy="521.4" r="1.2"/><circle cx="193.7" cy="512.9" r="1.2"/><circle cx="192.7" cy="524.6" r="1.3"/><circle cx="217.4" cy="546.2" r="1.4"/><circle cx="225.9" cy="548.7" r="1.7"/><circle cx="215.5" cy="548.7" r="1.3"/><circle cx="157.7" cy="487.7" r="1.8"/><circle cx="172.3" cy="497.4" r="1.1"/><circle cx="167.6" cy="487.4" r="1.5"/><circle cx="200" cy="536.4" r="1.7"/><circle cx="186.8" cy="505.5" r="1.3"/><circle cx="201.5" cy="510.4" r="1.7"/><circle cx="205.3" cy="504.2" r="1.7"/><circle cx="205.3" cy="517.5" r="1.1"/><circle cx="185.3" cy="516.1" r="1.7"/><circle cx="227.6" cy="480.8" r="1.1"/><circle cx="177.2" cy="505.1" r="1.2"/><circle cx="234.8" cy="543.5" r="1.1"/><circle cx="164.3" cy="497.9" r="1.2"/><circle cx="158.4" cy="484.2" r="1.7"/><circle cx="186.6" cy="526" r="1.7"/><circle cx="243.5" cy="534.7" r="1.4"/><circle cx="196.9" cy="494" r="1.3"/><circle cx="245.8" cy="483.6" r="1.8"/><circle cx="168.9" cy="535.7" r="1.3"/><circle cx="242.8" cy="508.2" r="1.5"/><circle cx="165" cy="517.5" r="1.1"/><circle cx="218" cy="524.1" r="1"/><circle cx="158.4" cy="545.8" r="1.5"/><circle cx="160.7" cy="484" r="1.2"/><circle cx="242.2" cy="495.9" r="1.7"/><circle cx="231.8" cy="483.9" r="1.4"/><circle cx="167.4" cy="480.9" r="1.7"/><circle cx="199.9" cy="482.1" r="1.1"/><circle cx="181.9" cy="537.3" r="1.6"/><circle cx="185" cy="507.6" r="1.3"/><circle cx="185.6" cy="502.1" r="1.4"/><circle cx="161.5" cy="536.2" r="1.1"/><circle cx="248.2" cy="516.5" r="1.4"/><circle cx="192.9" cy="494.7" r="1.1"/><circle cx="154.8" cy="498.1" r="1.1"/><circle cx="199.9" cy="533.1" r="1"/><circle cx="225.2" cy="504.1" r="1.8"/><circle cx="195.1" cy="506.3" r="1"/><circle cx="229.3" cy="501.5" r="1.4"/><circle cx="148.8" cy="529.8" r="1.1"/><circle cx="162.3" cy="480.2" r="1.3"/><circle cx="218.3" cy="507.7" r="1"/><circle cx="247.7" cy="529.1" r="1.6"/><circle cx="217.9" cy="493" r="1.7"/><circle cx="231.7" cy="529.2" r="1.3"/><circle cx="195.4" cy="550.6" r="1.3"/><circle cx="246.3" cy="531.8" r="1.3"/><circle cx="168" cy="532.2" r="1.6"/><circle cx="199.1" cy="491.1" r="1.4"/><circle cx="213.5" cy="545.3" r="1.5"/><circle cx="206.2" cy="523.4" r="1.6"/><circle cx="195.3" cy="483.4" r="1.1"/><circle cx="176" cy="531.9" r="1.5"/><circle cx="242" cy="550" r="1.2"/><circle cx="232.6" cy="528.9" r="1.7"/><circle cx="223.4" cy="518.4" r="1.7"/><circle cx="234.8" cy="491" r="1.8"/><circle cx="216.6" cy="487.2" r="1"/><circle cx="182.5" cy="536.7" r="1.3"/><circle cx="247.1" cy="482.2" r="1.5"/><circle cx="199.2" cy="521.7" r="1.5"/><circle cx="173.9" cy="501.6" r="1.1"/><circle cx="188.7" cy="517.9" r="1.1"/><circle cx="240.6" cy="525.2" r="1.1"/><circle cx="176.3" cy="487.6" r="1.5"/><circle cx="185.6" cy="510.6" r="1.3"/><circle cx="162" cy="542.9" r="1.1"/><circle cx="167.9" cy="524.1" r="1.7"/><circle cx="153.1" cy="520.1" r="1.6"/><circle cx="217.2" cy="536" r="1.5"/><circle cx="241.6" cy="526.6" r="1.2"/><circle cx="221.1" cy="489.8" r="1.3"/><circle cx="163.8" cy="482.9" r="1.5"/><circle cx="233.3" cy="501.9" r="1.1"/><circle cx="216.5" cy="526.9" r="1.5"/><circle cx="212.3" cy="482.7" r="1.4"/><circle cx="243.5" cy="504.5" r="1.7"/><circle cx="170.6" cy="492.2" r="1.2"/><circle cx="196.9" cy="538.6" r="1.6"/><circle cx="229.1" cy="525.1" r="1.7"/><circle cx="233.8" cy="500.2" r="1.1"/><circle cx="149.7" cy="503.5" r="1.1"/><circle cx="202" cy="498.2" r="1.5"/><circle cx="156.2" cy="497.8" r="1.2"/><circle cx="229.4" cy="525.5" r="1.7"/><circle cx="220.2" cy="549.5" r="1.4"/><circle cx="169.7" cy="495.3" r="1.8"/><circle cx="220.2" cy="520.2" r="1.6"/><circle cx="227.9" cy="483.1" r="1.1"/><circle cx="155.5" cy="510.8" r="1.1"/><circle cx="219.8" cy="510.4" r="1.6"/><circle cx="217.2" cy="503.1" r="1.7"/><circle cx="193.8" cy="482" r="1.3"/><circle cx="157" cy="499.3" r="1.6"/><circle cx="149.9" cy="545.2" r="1.7"/><circle cx="197.2" cy="529.6" r="1.6"/><circle cx="197.1" cy="491.6" r="1.7"/><circle cx="220.7" cy="504.2" r="1.8"/><circle cx="221.9" cy="484.8" r="1.1"/><circle cx="235.6" cy="533.3" r="1.3"/><circle cx="170.8" cy="511.4" r="1.2"/><circle cx="199.2" cy="493.8" r="1.1"/><circle cx="152.9" cy="533.3" r="1.4"/><circle cx="160.9" cy="508.5" r="1.2"/><circle cx="181.4" cy="534.7" r="1.3"/><circle cx="225.9" cy="518.9" r="1.5"/><circle cx="246.6" cy="518" r="1.8"/><circle cx="167.6" cy="530" r="1.6"/><circle cx="150.5" cy="534.2" r="1.3"/><circle cx="204.9" cy="527" r="1.6"/><circle cx="152.7" cy="514.3" r="1.7"/><circle cx="210.3" cy="513.1" r="1.3"/><circle cx="180.3" cy="485" r="1.1"/><circle cx="248" cy="492.7" r="1.6"/><circle cx="172.1" cy="522.1" r="1.2"/><circle cx="222.2" cy="552.4" r="1.7"/><circle cx="225.1" cy="515.7" r="1.5"/><circle cx="208.1" cy="503.2" r="1.7"/><circle cx="170" cy="512.1" r="1.1"/><circle cx="215.5" cy="485.7" r="1.6"/><circle cx="192.7" cy="539.5" r="1.6"/><circle cx="242.6" cy="522.9" r="1.1"/><circle cx="221.9" cy="511.5" r="1.1"/><circle cx="161.9" cy="510" r="1.6"/><circle cx="242.2" cy="506.4" r="1.8"/><circle cx="226.7" cy="506.8" r="1.3"/><circle cx="240.6" cy="485.6" r="1.8"/><circle cx="150.6" cy="542.4" r="1.4"/><circle cx="228.1" cy="542.6" r="1.5"/><circle cx="228" cy="521.5" r="1.4"/><circle cx="226.6" cy="508.7" r="1.3"/><circle cx="183.2" cy="521.6" r="1.7"/><circle cx="210.4" cy="482.5" r="1.1"/><circle cx="201.1" cy="520.3" r="1.1"/><circle cx="159.2" cy="485.3" r="1.2"/><circle cx="171.5" cy="531.5" r="1.5"/><circle cx="159.2" cy="502.9" r="1.4"/><circle cx="212.7" cy="511" r="1.3"/><circle cx="150.5" cy="485.7" r="1.6"/><circle cx="231.7" cy="534.1" r="1.4"/><circle cx="226" cy="490.3" r="1.6"/><circle cx="153.9" cy="524.1" r="1.4"/><circle cx="188.4" cy="532.2" r="1.6"/><circle cx="206.8" cy="523.2" r="1"/><circle cx="157.2" cy="480.6" r="1.3"/><circle cx="176.9" cy="493.9" r="1.2"/><circle cx="155.1" cy="487.8" r="1.4"/><circle cx="240.4" cy="529.1" r="1.6"/><circle cx="150.9" cy="517.6" r="1.8"/><circle cx="236.1" cy="483.3" r="1.2"/><circle cx="174" cy="493.5" r="1.1"/><circle cx="171.8" cy="488.8" r="1.3"/><circle cx="244.1" cy="544.3" r="1.6"/><circle cx="236.2" cy="498.2" r="1.4"/><circle cx="175.7" cy="503.9" r="1"/><circle cx="219.6" cy="508.3" r="1.2"/><circle cx="200" cy="506.9" r="1.2"/><circle cx="246.5" cy="526.7" r="1.1"/><circle cx="162.6" cy="541.7" r="1.8"/><circle cx="165" cy="520.1" r="1.3"/><circle cx="165.1" cy="527.2" r="1.2"/><circle cx="211.7" cy="525.1" r="1.5"/><circle cx="190.3" cy="485.5" r="1.8"/><circle cx="152.2" cy="491" r="1.3"/><circle cx="241.5" cy="519.8" r="1.3"/><circle cx="156.6" cy="497.3" r="1.5"/><circle cx="247.4" cy="550.3" r="1.7"/><circle cx="244.3" cy="500.3" r="1.1"/><circle cx="214.5" cy="481" r="1.4"/><circle cx="230.3" cy="499.7" r="1.2"/><circle cx="171.3" cy="520.8" r="1.5"/><circle cx="175.6" cy="539.2" r="1.4"/><circle cx="192.5" cy="481.6" r="1.4"/><circle cx="182.7" cy="491.9" r="1.7"/><circle cx="233" cy="498.1" r="1.2"/><circle cx="225.1" cy="516.9" r="1.7"/><circle cx="241.7" cy="527.9" r="1.3"/><circle cx="200.4" cy="523.6" r="1.7"/><circle cx="177.6" cy="510.9" r="1.3"/><circle cx="226.3" cy="501.8" r="1.3"/><circle cx="150.5" cy="542.8" r="1.1"/><circle cx="245.1" cy="484.1" r="1"/><circle cx="181.6" cy="507.5" r="1.7"/><circle cx="243.6" cy="489.6" r="1.3"/><circle cx="173" cy="523.7" r="1.2"/></g>
</g></g>
<clipPath id="lv1"><rect x="39.5" y="570" width="96.7" height="70"/></clipPath>
<g clip-path="url(#lv1)"><rect x="37.5" y="568" width="100.7" height="74" fill="#d4b8d4"/><g filter="url(#bl2)">
<g fill="#e2cce2" opacity="0.85"><circle cx="64.9" cy="604.2" r="2.2"/><circle cx="134" cy="614" r="2.1"/><circle cx="59.8" cy="599.2" r="1.8"/><circle cx="60.9" cy="579.4" r="1.2"/><circle cx="97.3" cy="609.8" r="1.7"/><circle cx="103.7" cy="624.1" r="1.5"/><circle cx="101.9" cy="626.5" r="1.5"/><circle cx="119.8" cy="578.9" r="1.5"/><circle cx="64.6" cy="611" r="1.6"/><circle cx="85.3" cy="629.4" r="1.4"/><circle cx="105.1" cy="572" r="1.3"/><circle cx="128.1" cy="586.1" r="2.1"/><circle cx="134.9" cy="615" r="2.2"/><circle cx="135.8" cy="622.3" r="2.2"/><circle cx="111.7" cy="631.5" r="1.6"/><circle cx="109.8" cy="620.6" r="2.2"/><circle cx="46.8" cy="594.9" r="2.3"/><circle cx="115.5" cy="621.5" r="1.8"/><circle cx="124.2" cy="595.2" r="1.4"/><circle cx="49.7" cy="612.2" r="1.2"/><circle cx="133.8" cy="576.2" r="1.4"/><circle cx="108" cy="569.5" r="2"/><circle cx="81.6" cy="615.3" r="2.2"/><circle cx="72.6" cy="625.1" r="1.8"/><circle cx="125.4" cy="580.8" r="1.8"/><circle cx="134.8" cy="612.6" r="1.8"/><circle cx="58.3" cy="591" r="1.4"/><circle cx="78.8" cy="607.4" r="1.4"/><circle cx="39.2" cy="612.4" r="1.9"/><circle cx="77.6" cy="575.5" r="1.3"/><circle cx="64.9" cy="632.3" r="1.3"/><circle cx="47.8" cy="573.5" r="1.3"/><circle cx="93.4" cy="608.3" r="2.2"/><circle cx="121.9" cy="586.7" r="1.7"/><circle cx="117" cy="601.4" r="1.9"/><circle cx="40.1" cy="570.1" r="1.6"/><circle cx="55.4" cy="601" r="1.5"/><circle cx="94.7" cy="583.4" r="1.4"/><circle cx="125.6" cy="632.4" r="1.8"/><circle cx="73.3" cy="603" r="2.2"/><circle cx="82.4" cy="590.9" r="2.4"/><circle cx="69.2" cy="574.3" r="1.2"/><circle cx="87.1" cy="619.3" r="1.5"/><circle cx="137.7" cy="579.3" r="2.4"/><circle cx="136.8" cy="591.3" r="2.4"/><circle cx="47.5" cy="594.5" r="1.8"/><circle cx="107.1" cy="609.9" r="1.3"/><circle cx="99.7" cy="593.7" r="2.2"/><circle cx="84.6" cy="638.3" r="2.4"/><circle cx="100.1" cy="604.8" r="1.7"/><circle cx="67.6" cy="624.6" r="1.9"/><circle cx="110.5" cy="590.9" r="1.8"/><circle cx="115.2" cy="601.3" r="1.5"/><circle cx="85.9" cy="612.3" r="2"/><circle cx="54.8" cy="578.4" r="1.8"/><circle cx="126.9" cy="585.9" r="2.2"/><circle cx="66" cy="618.5" r="1.5"/><circle cx="37.7" cy="640.5" r="2.2"/><circle cx="81" cy="632.3" r="1.3"/><circle cx="96.3" cy="610.8" r="1.4"/><circle cx="38.2" cy="598.5" r="1.9"/><circle cx="79.3" cy="605" r="1.3"/><circle cx="65.8" cy="615.5" r="1.9"/><circle cx="69.2" cy="623" r="1.2"/><circle cx="39.6" cy="591.9" r="1.2"/><circle cx="94.2" cy="639" r="2.1"/><circle cx="42.3" cy="607.6" r="2.2"/><circle cx="114.3" cy="630.1" r="1.4"/><circle cx="98.5" cy="607.8" r="1.3"/><circle cx="120.2" cy="576.9" r="1.8"/><circle cx="78.6" cy="590.2" r="1.3"/><circle cx="86.6" cy="570.8" r="2.4"/><circle cx="56.7" cy="580.9" r="1.8"/><circle cx="90.2" cy="633.7" r="1.5"/><circle cx="128.2" cy="621.8" r="1.6"/><circle cx="106.9" cy="639" r="2.3"/><circle cx="117.4" cy="603.1" r="1.2"/><circle cx="67.6" cy="585.4" r="2.2"/><circle cx="63.7" cy="622.3" r="2.1"/><circle cx="80.9" cy="616.9" r="2.2"/><circle cx="98.2" cy="606.1" r="2.2"/><circle cx="108.2" cy="609.1" r="2.2"/><circle cx="123.3" cy="593.8" r="2.3"/><circle cx="83.8" cy="618.8" r="1.8"/><circle cx="135.1" cy="572.1" r="2.2"/><circle cx="52.8" cy="638.9" r="2.2"/><circle cx="37.7" cy="588.7" r="1.3"/><circle cx="103" cy="618.4" r="1.3"/><circle cx="91.1" cy="601.9" r="1.4"/><circle cx="80.4" cy="640.8" r="1.5"/><circle cx="47.5" cy="616.6" r="1.6"/><circle cx="96" cy="569.4" r="2.1"/><circle cx="107.5" cy="605.8" r="2.3"/><circle cx="129.4" cy="634.9" r="2.4"/><circle cx="128.5" cy="572.4" r="2.1"/><circle cx="132.2" cy="641.4" r="1.5"/><circle cx="130.3" cy="637.3" r="1.9"/><circle cx="99.5" cy="601" r="1.6"/><circle cx="72.2" cy="626.9" r="2"/><circle cx="73.7" cy="618" r="2.1"/><circle cx="56.7" cy="580.6" r="2.2"/><circle cx="50.8" cy="582.3" r="2.1"/><circle cx="59.2" cy="619.7" r="2.3"/><circle cx="91.1" cy="603.8" r="1.5"/><circle cx="131.6" cy="625.5" r="1.6"/><circle cx="92.2" cy="632.7" r="1.7"/><circle cx="71.6" cy="606.6" r="2.2"/><circle cx="112.8" cy="578.5" r="1.8"/><circle cx="123.8" cy="617.4" r="2.4"/><circle cx="106.9" cy="601.8" r="1.4"/><circle cx="79.4" cy="620.1" r="1.6"/><circle cx="86.9" cy="568.4" r="2.2"/><circle cx="45.5" cy="605.5" r="1.5"/><circle cx="100.1" cy="573.8" r="1.4"/><circle cx="94.4" cy="611" r="1.3"/><circle cx="102.4" cy="624.8" r="2"/><circle cx="87" cy="574.8" r="1.8"/><circle cx="79.7" cy="600.2" r="1.3"/><circle cx="43.3" cy="608.6" r="1.8"/><circle cx="94.4" cy="581.8" r="1.5"/><circle cx="43.1" cy="626.4" r="1.5"/><circle cx="62" cy="627.9" r="1.4"/><circle cx="84" cy="634.2" r="2.2"/><circle cx="43.7" cy="593.6" r="1.5"/><circle cx="100.9" cy="632.3" r="1.9"/><circle cx="116.7" cy="579.2" r="1.4"/><circle cx="90.4" cy="613" r="1.8"/><circle cx="59.1" cy="640.6" r="2.2"/><circle cx="94.9" cy="625.4" r="2.1"/><circle cx="95.2" cy="590.4" r="2"/><circle cx="108.8" cy="589.3" r="1.2"/><circle cx="91.2" cy="590.8" r="2.2"/><circle cx="129.2" cy="571" r="2.3"/><circle cx="77.1" cy="636.5" r="1.3"/><circle cx="96.9" cy="635.9" r="1.2"/><circle cx="43.3" cy="639.2" r="1.6"/><circle cx="102.8" cy="617.1" r="1.5"/><circle cx="41.4" cy="587.8" r="2.3"/><circle cx="56.1" cy="585.6" r="2.3"/><circle cx="89.8" cy="613" r="1.5"/><circle cx="54.5" cy="609.1" r="2.2"/><circle cx="57.1" cy="609.6" r="1.8"/><circle cx="99.6" cy="590.6" r="2.1"/><circle cx="55.6" cy="630.8" r="2.2"/><circle cx="74.4" cy="587" r="1.8"/><circle cx="105.6" cy="619" r="2"/><circle cx="113.6" cy="606.7" r="1.7"/><circle cx="37.8" cy="582.6" r="1.9"/><circle cx="119.6" cy="635.8" r="1.9"/><circle cx="94.6" cy="591.5" r="2.2"/><circle cx="69.1" cy="620.5" r="1.7"/><circle cx="49.6" cy="606.4" r="1.5"/><circle cx="37.8" cy="611.6" r="1.9"/><circle cx="71.3" cy="636.5" r="2.2"/><circle cx="131.9" cy="590.3" r="2.3"/><circle cx="77.5" cy="592.6" r="1.5"/><circle cx="124.8" cy="585.5" r="1.7"/><circle cx="115.8" cy="571.3" r="2.3"/><circle cx="101.1" cy="608.4" r="1.7"/><circle cx="58.1" cy="638.4" r="1.5"/><circle cx="90.7" cy="589.5" r="1.4"/><circle cx="89.9" cy="620.8" r="1.3"/><circle cx="50.9" cy="608.2" r="1.4"/><circle cx="98" cy="595.2" r="1.3"/><circle cx="117.9" cy="587.9" r="2.3"/><circle cx="120.9" cy="611.5" r="2.3"/><circle cx="68.5" cy="621.9" r="1.7"/><circle cx="73.7" cy="595.9" r="2.2"/><circle cx="54.3" cy="620.2" r="2.3"/><circle cx="107.3" cy="632.4" r="1.9"/><circle cx="111.9" cy="589" r="2.2"/><circle cx="71.4" cy="628.3" r="2"/><circle cx="118.2" cy="637.3" r="1.8"/><circle cx="65.3" cy="583.8" r="2"/><circle cx="121.5" cy="585.5" r="1.6"/><circle cx="107.1" cy="607.6" r="1.3"/><circle cx="100" cy="573.8" r="2"/><circle cx="39.7" cy="601.4" r="1.9"/><circle cx="58.2" cy="596" r="1.4"/><circle cx="126.1" cy="641.1" r="2.4"/><circle cx="122.4" cy="613" r="2.3"/><circle cx="137.7" cy="585.7" r="1.3"/><circle cx="104.3" cy="598" r="1.9"/><circle cx="72.2" cy="603" r="1.8"/><circle cx="40" cy="631.8" r="1.3"/><circle cx="58.4" cy="625.3" r="1.4"/><circle cx="87.1" cy="640.3" r="1.9"/><circle cx="84.1" cy="576.2" r="2.1"/><circle cx="127.5" cy="620.9" r="1.5"/><circle cx="100.4" cy="636.4" r="1.5"/><circle cx="121.1" cy="639.9" r="2.2"/><circle cx="59.8" cy="620.4" r="2.2"/><circle cx="92.8" cy="571.7" r="2.2"/><circle cx="119.3" cy="599.9" r="1.5"/><circle cx="85.7" cy="634.1" r="2.3"/><circle cx="135.4" cy="623.8" r="1.9"/><circle cx="52.1" cy="599.2" r="1.4"/><circle cx="98.9" cy="636.5" r="2.2"/><circle cx="136.1" cy="571.5" r="1.4"/><circle cx="110" cy="591" r="1.3"/></g>
<g fill="#a07cbc" opacity="0.85"><circle cx="55.2" cy="598.3" r="0.8"/><circle cx="123.9" cy="619.9" r="1.1"/><circle cx="76.7" cy="627.8" r="1.1"/><circle cx="131.9" cy="612.7" r="0.6"/><circle cx="108.6" cy="611.2" r="1"/><circle cx="122.9" cy="608.4" r="0.9"/><circle cx="101.2" cy="602.8" r="0.7"/><circle cx="40" cy="632" r="1.1"/><circle cx="40.8" cy="610.2" r="0.9"/><circle cx="105.9" cy="629.2" r="0.8"/><circle cx="67.5" cy="609" r="1.1"/><circle cx="56.2" cy="588.8" r="0.6"/><circle cx="70.5" cy="635.1" r="0.6"/><circle cx="58.9" cy="591.5" r="0.9"/><circle cx="62.1" cy="616.9" r="0.7"/><circle cx="59.3" cy="627.9" r="1"/><circle cx="133.3" cy="577.9" r="0.8"/><circle cx="53.6" cy="582.6" r="1"/><circle cx="78.5" cy="591" r="1"/><circle cx="80" cy="637.5" r="0.7"/><circle cx="74.9" cy="608.7" r="0.9"/><circle cx="124" cy="625.4" r="0.7"/><circle cx="74" cy="623.6" r="1.1"/><circle cx="74.8" cy="621" r="0.7"/><circle cx="132.6" cy="595.3" r="1.1"/><circle cx="91.3" cy="633.5" r="0.7"/><circle cx="137.7" cy="603.1" r="0.6"/><circle cx="77.1" cy="599.7" r="1"/><circle cx="120.7" cy="591" r="0.9"/><circle cx="41.6" cy="590.5" r="1"/><circle cx="70.3" cy="601.2" r="0.6"/><circle cx="69.2" cy="627.1" r="0.9"/><circle cx="54.3" cy="603.2" r="0.7"/><circle cx="129.9" cy="571.5" r="0.7"/><circle cx="63.2" cy="636.7" r="0.9"/><circle cx="119.4" cy="634.2" r="0.7"/><circle cx="80.3" cy="576.8" r="1"/><circle cx="84.2" cy="630.8" r="0.9"/><circle cx="132.9" cy="621.5" r="0.7"/><circle cx="59.1" cy="584" r="0.7"/><circle cx="96.1" cy="612.2" r="0.9"/><circle cx="62.8" cy="619.4" r="1"/><circle cx="109.8" cy="640.5" r="0.8"/><circle cx="46" cy="627.3" r="0.6"/><circle cx="113.7" cy="618.7" r="1"/><circle cx="93" cy="592.6" r="0.9"/><circle cx="94.3" cy="591.8" r="1"/><circle cx="43.8" cy="568.4" r="1"/><circle cx="99.9" cy="595.4" r="0.8"/><circle cx="72.8" cy="588.5" r="0.8"/><circle cx="121.6" cy="609.9" r="1.1"/><circle cx="109" cy="591.6" r="0.9"/><circle cx="113.2" cy="577.5" r="0.9"/><circle cx="125.2" cy="574.1" r="0.8"/><circle cx="118.8" cy="610" r="1"/><circle cx="94.7" cy="583.5" r="1.1"/><circle cx="118.7" cy="629" r="1.1"/><circle cx="96.6" cy="633.7" r="1.1"/><circle cx="66.3" cy="616.9" r="1.1"/><circle cx="114.1" cy="585.8" r="0.8"/><circle cx="61.1" cy="591.6" r="0.9"/><circle cx="82.8" cy="625" r="0.9"/><circle cx="121.3" cy="608.9" r="0.7"/><circle cx="58.2" cy="572.9" r="0.6"/><circle cx="75.2" cy="578.3" r="0.9"/><circle cx="121.9" cy="598.8" r="1"/><circle cx="133.1" cy="636.3" r="0.9"/><circle cx="64" cy="633.3" r="1"/><circle cx="116.3" cy="588.3" r="0.7"/><circle cx="70.9" cy="579.6" r="1.1"/><circle cx="58" cy="605.7" r="1"/><circle cx="92.7" cy="573.1" r="0.9"/><circle cx="40.6" cy="621" r="0.8"/><circle cx="108.6" cy="637.5" r="0.8"/><circle cx="75.1" cy="583.8" r="1"/><circle cx="117.2" cy="634" r="1"/><circle cx="64.5" cy="584.9" r="0.8"/><circle cx="116.9" cy="596.1" r="1"/><circle cx="57.2" cy="602.4" r="0.8"/><circle cx="115.3" cy="592.4" r="1"/><circle cx="54.5" cy="607.4" r="1.1"/><circle cx="54.4" cy="594.7" r="0.8"/><circle cx="81.9" cy="629.8" r="0.9"/><circle cx="99.9" cy="596.2" r="0.7"/><circle cx="82.1" cy="624.6" r="0.9"/><circle cx="100.8" cy="575.2" r="1"/><circle cx="124.4" cy="591.5" r="0.6"/><circle cx="49.6" cy="579.2" r="0.6"/><circle cx="130.8" cy="635.8" r="0.8"/><circle cx="128.8" cy="624.2" r="0.8"/><circle cx="84" cy="572.9" r="1"/><circle cx="60.1" cy="601.3" r="0.7"/><circle cx="120.1" cy="598.9" r="1"/><circle cx="53.7" cy="620.4" r="0.7"/><circle cx="79.1" cy="591.3" r="1.1"/><circle cx="77.3" cy="600.8" r="0.8"/><circle cx="121.6" cy="578.8" r="1"/><circle cx="134.7" cy="583.8" r="0.9"/><circle cx="50.5" cy="612.6" r="0.7"/><circle cx="130.2" cy="576.1" r="0.9"/><circle cx="66.6" cy="571.3" r="0.6"/><circle cx="120.1" cy="626.9" r="0.6"/><circle cx="83.4" cy="574.8" r="0.7"/><circle cx="135.5" cy="639" r="0.8"/><circle cx="63.7" cy="585.2" r="1"/><circle cx="90.1" cy="584" r="0.9"/><circle cx="86.4" cy="624.9" r="1"/><circle cx="131.8" cy="613.8" r="1.1"/><circle cx="57.7" cy="580.5" r="0.7"/><circle cx="89.7" cy="611.6" r="0.8"/><circle cx="76.1" cy="628.1" r="0.9"/><circle cx="71.7" cy="568.5" r="0.7"/><circle cx="92.3" cy="639" r="0.6"/><circle cx="65.6" cy="617.4" r="0.7"/><circle cx="128.1" cy="624.3" r="0.8"/><circle cx="78" cy="569.9" r="0.7"/><circle cx="106.9" cy="592" r="0.7"/><circle cx="96.3" cy="588.9" r="0.6"/><circle cx="114.8" cy="569.1" r="0.8"/><circle cx="78.2" cy="581.5" r="0.7"/><circle cx="42.9" cy="599.5" r="0.8"/><circle cx="125" cy="608.7" r="0.8"/><circle cx="71.1" cy="589.7" r="0.8"/><circle cx="123.8" cy="633.9" r="0.6"/><circle cx="130" cy="582" r="1.1"/><circle cx="68.3" cy="573.1" r="0.8"/><circle cx="67.5" cy="635.5" r="0.8"/><circle cx="79" cy="597.2" r="1"/><circle cx="80.2" cy="640.8" r="1"/><circle cx="50.3" cy="577.2" r="0.7"/><circle cx="51.8" cy="630.7" r="0.7"/><circle cx="112.9" cy="636.7" r="0.8"/><circle cx="72.2" cy="611.7" r="1.1"/><circle cx="72.1" cy="598" r="0.9"/><circle cx="127.7" cy="625.4" r="0.7"/><circle cx="51.8" cy="633.4" r="0.7"/><circle cx="106.7" cy="582.9" r="1"/><circle cx="53.6" cy="640.7" r="0.8"/><circle cx="67.2" cy="568.9" r="0.8"/><circle cx="102.9" cy="576.5" r="0.7"/><circle cx="108.7" cy="586" r="0.9"/><circle cx="41.9" cy="598.2" r="0.7"/><circle cx="109.4" cy="573.4" r="0.7"/><circle cx="119.6" cy="605.8" r="0.8"/><circle cx="63.7" cy="607.5" r="0.7"/><circle cx="70.9" cy="568.8" r="1"/><circle cx="103" cy="568.4" r="0.7"/><circle cx="111.3" cy="590.6" r="0.8"/><circle cx="115.3" cy="580.4" r="0.9"/><circle cx="41.1" cy="573.8" r="0.7"/><circle cx="133.8" cy="639.2" r="0.9"/><circle cx="133.1" cy="611.1" r="0.6"/><circle cx="47.2" cy="585.6" r="0.8"/><circle cx="73.9" cy="573.2" r="1"/><circle cx="121.9" cy="603.3" r="0.9"/><circle cx="45.1" cy="602.7" r="1"/><circle cx="75.1" cy="588.9" r="0.9"/><circle cx="118.8" cy="597.5" r="0.9"/><circle cx="49.9" cy="626.4" r="0.7"/><circle cx="55.9" cy="583.6" r="0.8"/><circle cx="120.1" cy="596.2" r="0.7"/><circle cx="83.8" cy="581.7" r="0.9"/><circle cx="134.3" cy="584.3" r="1.1"/><circle cx="119.5" cy="570.1" r="0.7"/><circle cx="96.2" cy="605.8" r="0.7"/><circle cx="49.7" cy="610.3" r="1.1"/><circle cx="96.2" cy="593.7" r="0.8"/><circle cx="51.7" cy="579.9" r="0.8"/><circle cx="112.5" cy="568.6" r="1"/><circle cx="61" cy="589.1" r="1"/><circle cx="70.7" cy="600.6" r="0.6"/><circle cx="67.2" cy="594" r="0.7"/><circle cx="134.4" cy="628" r="0.7"/><circle cx="41.1" cy="568.4" r="1.1"/><circle cx="63.9" cy="572.7" r="0.8"/><circle cx="92.8" cy="570" r="0.9"/><circle cx="53.5" cy="628.8" r="1"/><circle cx="107.5" cy="592" r="1.1"/><circle cx="60.1" cy="583.2" r="1"/><circle cx="42.3" cy="599.8" r="0.9"/><circle cx="75.8" cy="603.2" r="0.8"/><circle cx="72.6" cy="577.5" r="1.1"/><circle cx="129.7" cy="611.9" r="0.8"/><circle cx="49.5" cy="606.2" r="0.6"/><circle cx="81.6" cy="574.6" r="1.1"/><circle cx="92.2" cy="632.5" r="0.7"/><circle cx="128.4" cy="587.1" r="1"/><circle cx="101" cy="601.2" r="0.9"/><circle cx="108.7" cy="637.5" r="0.7"/><circle cx="96.1" cy="575.2" r="0.7"/><circle cx="43.3" cy="633.2" r="1"/><circle cx="45.6" cy="596.4" r="0.7"/><circle cx="108.6" cy="641.4" r="0.7"/><circle cx="49.7" cy="584" r="0.8"/><circle cx="42.4" cy="613.2" r="1"/><circle cx="44.3" cy="635.9" r="1"/><circle cx="93.3" cy="590" r="0.8"/><circle cx="63.1" cy="600.8" r="1"/><circle cx="83.3" cy="593.8" r="0.7"/><circle cx="119.8" cy="624.7" r="1"/><circle cx="99.2" cy="601.2" r="1.1"/><circle cx="89.3" cy="581.7" r="0.7"/><circle cx="62.4" cy="607.2" r="0.9"/><circle cx="63.1" cy="617.2" r="1"/><circle cx="136.2" cy="630.9" r="0.6"/><circle cx="92.3" cy="628.6" r="0.6"/><circle cx="124.7" cy="608.6" r="1.1"/><circle cx="117.9" cy="632" r="0.9"/><circle cx="116.2" cy="578.8" r="1"/><circle cx="128.6" cy="602.4" r="0.7"/><circle cx="116.1" cy="605.7" r="0.8"/><circle cx="101.1" cy="570.2" r="0.9"/><circle cx="101.2" cy="572.9" r="0.7"/><circle cx="131.6" cy="617.4" r="1.1"/><circle cx="81" cy="594.5" r="0.7"/><circle cx="136.4" cy="626" r="0.7"/><circle cx="79" cy="596.1" r="0.8"/><circle cx="128.1" cy="609.1" r="0.8"/><circle cx="127.1" cy="630.7" r="1.1"/><circle cx="62.7" cy="627.6" r="0.8"/><circle cx="131.2" cy="599.2" r="0.7"/><circle cx="91.1" cy="591" r="0.9"/><circle cx="55.2" cy="629.1" r="0.7"/><circle cx="97.7" cy="630.4" r="0.7"/><circle cx="80.4" cy="617.8" r="0.9"/><circle cx="60.5" cy="571.7" r="1.1"/><circle cx="118.9" cy="629" r="0.8"/><circle cx="78.1" cy="570.4" r="0.9"/><circle cx="119.8" cy="641.9" r="1"/><circle cx="89.6" cy="601.7" r="0.8"/><circle cx="91.8" cy="581.7" r="1"/><circle cx="97.7" cy="575.9" r="0.9"/><circle cx="39" cy="576.4" r="0.6"/><circle cx="84.5" cy="605.1" r="0.6"/><circle cx="77.5" cy="606.3" r="0.9"/><circle cx="41.4" cy="631.7" r="1"/><circle cx="46.3" cy="590.2" r="0.8"/><circle cx="110.8" cy="588.1" r="0.9"/><circle cx="91.3" cy="629.2" r="0.9"/><circle cx="65.7" cy="636.6" r="1"/><circle cx="68.8" cy="609.7" r="1"/><circle cx="75" cy="611.3" r="0.7"/><circle cx="121.4" cy="597.5" r="1.1"/><circle cx="66.4" cy="584.9" r="0.8"/><circle cx="75.9" cy="592.7" r="0.9"/><circle cx="116.3" cy="618.4" r="1"/><circle cx="62.3" cy="594.2" r="1.1"/><circle cx="130.3" cy="629.5" r="0.8"/><circle cx="42.7" cy="619.8" r="1"/><circle cx="40.5" cy="627" r="0.7"/><circle cx="81.4" cy="569.8" r="0.6"/><circle cx="38.5" cy="610" r="0.8"/><circle cx="71.9" cy="610.1" r="1"/><circle cx="57.1" cy="599.1" r="0.7"/><circle cx="100.8" cy="581.7" r="0.8"/><circle cx="74.9" cy="582" r="0.7"/><circle cx="108.5" cy="575.7" r="0.9"/><circle cx="52.2" cy="570" r="0.9"/><circle cx="103.3" cy="597.1" r="0.7"/><circle cx="39.2" cy="630.6" r="0.7"/></g>
<g fill="#a884c4" opacity="0.82"><circle cx="70.6" cy="598.7" r="5.1"/><circle cx="69.5" cy="601.3" r="5"/><circle cx="73.1" cy="597.7" r="4.8"/><circle cx="71.9" cy="599.8" r="4.9"/><circle cx="73.7" cy="595.5" r="4.9"/><circle cx="61.9" cy="600.4" r="4.9"/><circle cx="61.7" cy="600.5" r="6.5"/><circle cx="63.9" cy="593.3" r="4.9"/><circle cx="67.1" cy="597.7" r="6.2"/><circle cx="71.9" cy="591.6" r="5.1"/><circle cx="70.3" cy="591.1" r="6"/><circle cx="60.7" cy="599.3" r="4.6"/><circle cx="66.7" cy="594.2" r="5.3"/><circle cx="68.5" cy="600.5" r="6.1"/><circle cx="74.2" cy="592.1" r="6"/><circle cx="69.5" cy="589.6" r="4.8"/><circle cx="60.3" cy="597.7" r="6.4"/><circle cx="71.7" cy="589.6" r="5.5"/><circle cx="73.6" cy="595.4" r="4.7"/><circle cx="59.1" cy="599.9" r="5.3"/><circle cx="62.1" cy="596.4" r="5.1"/><circle cx="67.2" cy="588.9" r="4.6"/><circle cx="71.6" cy="598.3" r="4.4"/><circle cx="85.8" cy="596.6" r="5.8"/><circle cx="77.6" cy="591.7" r="5"/><circle cx="84.8" cy="593.6" r="4.2"/><circle cx="82.7" cy="594.6" r="4.8"/><circle cx="84.9" cy="592.4" r="5.6"/><circle cx="93.1" cy="595.5" r="4.7"/><circle cx="87.3" cy="598" r="5.3"/><circle cx="82.2" cy="602" r="5.6"/><circle cx="78.4" cy="598.9" r="6.2"/><circle cx="78.3" cy="598.1" r="6"/><circle cx="89.2" cy="592.6" r="4.5"/><circle cx="91.6" cy="595.4" r="6.1"/><circle cx="93.4" cy="592.7" r="5.2"/><circle cx="80.8" cy="593.9" r="5.3"/><circle cx="92.2" cy="593.5" r="4.3"/><circle cx="88" cy="602.2" r="4.8"/><circle cx="80.6" cy="594.1" r="6.1"/><circle cx="88.2" cy="592.9" r="5.7"/><circle cx="83.1" cy="594.3" r="4.7"/><circle cx="79.6" cy="591.7" r="5.3"/><circle cx="80.9" cy="593.8" r="4.6"/><circle cx="99" cy="596.5" r="4.4"/><circle cx="103.2" cy="591.8" r="6.6"/><circle cx="99.4" cy="596.2" r="5.7"/><circle cx="96.8" cy="601.7" r="5.4"/><circle cx="107.7" cy="604.8" r="5.1"/><circle cx="100.8" cy="595.7" r="4.7"/><circle cx="107.9" cy="603.8" r="5"/><circle cx="99.8" cy="602.3" r="5.6"/><circle cx="101.1" cy="602.7" r="6"/><circle cx="99.7" cy="606.1" r="5.3"/><circle cx="99.8" cy="601" r="6.5"/><circle cx="101.2" cy="604.4" r="6.2"/><circle cx="99.3" cy="600.9" r="5.1"/><circle cx="100.9" cy="606.2" r="6.5"/><circle cx="96" cy="597.9" r="4.8"/><circle cx="103.8" cy="593.3" r="5.7"/><circle cx="109.3" cy="600" r="4.4"/><circle cx="101.9" cy="598.4" r="4.3"/><circle cx="105.3" cy="603.7" r="4.7"/><circle cx="98.8" cy="601.1" r="5.2"/><circle cx="105" cy="607.2" r="6"/><circle cx="82" cy="604.3" r="4.4"/><circle cx="84.1" cy="609" r="5"/><circle cx="68.6" cy="604.6" r="5"/><circle cx="74.6" cy="603.5" r="4"/><circle cx="68.4" cy="604.6" r="4.3"/><circle cx="85.5" cy="606.7" r="5"/><circle cx="71.2" cy="611.1" r="5.7"/><circle cx="78.4" cy="608.1" r="4.2"/><circle cx="71.1" cy="605.6" r="5.2"/><circle cx="77.3" cy="606.5" r="5.2"/><circle cx="73.9" cy="604.8" r="5.2"/><circle cx="81.9" cy="608.7" r="4.9"/><circle cx="83.6" cy="609.7" r="4.4"/><circle cx="75.9" cy="605" r="4.9"/><circle cx="82" cy="609.6" r="4"/><circle cx="68.8" cy="609" r="4.1"/><circle cx="73.2" cy="611.6" r="4.3"/><circle cx="75.8" cy="611.6" r="4.1"/><circle cx="85.7" cy="607.3" r="4.4"/><circle cx="105.9" cy="616.7" r="4.9"/><circle cx="103.1" cy="613.2" r="4.3"/><circle cx="107" cy="607.4" r="3.6"/><circle cx="108.7" cy="605.5" r="4.5"/><circle cx="105.1" cy="612.8" r="4.8"/><circle cx="107" cy="603.6" r="3.5"/><circle cx="108.3" cy="606.7" r="4.6"/><circle cx="104.3" cy="604.2" r="4.2"/><circle cx="106.8" cy="616.3" r="3.4"/><circle cx="106.5" cy="606" r="4.2"/><circle cx="101.6" cy="612.3" r="4.5"/><circle cx="107.9" cy="616.6" r="4.6"/><circle cx="104.3" cy="616.8" r="3.5"/><circle cx="79.4" cy="572.8" r="2.3"/><circle cx="100.6" cy="570.4" r="2.6"/><circle cx="96.3" cy="570.5" r="2.9"/><circle cx="87.6" cy="571.5" r="3.1"/><circle cx="104.1" cy="574.6" r="3.1"/><circle cx="86.1" cy="573.9" r="2.5"/><circle cx="93.3" cy="574.6" r="2.6"/><circle cx="82.2" cy="571.5" r="2.7"/><circle cx="81.6" cy="572.4" r="2.5"/><circle cx="99.7" cy="570.1" r="2.8"/><circle cx="95.7" cy="575.1" r="2.5"/><circle cx="100.2" cy="572.5" r="2.5"/><circle cx="103.7" cy="588.1" r="4.6"/><circle cx="101.1" cy="581.6" r="4.3"/><circle cx="107.3" cy="582.8" r="4.1"/><circle cx="101.9" cy="586.2" r="4.1"/><circle cx="98.6" cy="583.3" r="4.3"/><circle cx="104.5" cy="586.6" r="4.1"/><circle cx="107.4" cy="582.9" r="4.1"/><circle cx="98.6" cy="583" r="4.4"/><circle cx="99.8" cy="579.3" r="3.8"/><circle cx="99" cy="581.2" r="4"/></g>
<g fill="#7c58a0" opacity="0.75"><circle cx="74" cy="604.8" r="1.1"/><circle cx="104.2" cy="592.9" r="0.7"/><circle cx="94.5" cy="593.3" r="1.1"/><circle cx="51.8" cy="615" r="0.7"/><circle cx="98.9" cy="607.6" r="0.7"/><circle cx="81.2" cy="619.6" r="0.7"/><circle cx="86" cy="595.9" r="0.9"/><circle cx="54.7" cy="609.7" r="0.7"/><circle cx="96.3" cy="589.8" r="0.8"/><circle cx="103.1" cy="595.5" r="1.1"/><circle cx="94.4" cy="595.4" r="0.7"/><circle cx="73.6" cy="610.8" r="0.7"/><circle cx="93.3" cy="596.7" r="0.8"/><circle cx="105.9" cy="606.5" r="0.7"/><circle cx="111.1" cy="606" r="0.8"/><circle cx="96.8" cy="611.2" r="1.1"/><circle cx="74.7" cy="585.3" r="0.7"/><circle cx="86.2" cy="594.3" r="0.7"/><circle cx="66.2" cy="609" r="1"/><circle cx="59.4" cy="600.4" r="0.9"/><circle cx="66.3" cy="606.8" r="1"/><circle cx="102.9" cy="606.6" r="0.8"/><circle cx="72.1" cy="616.7" r="0.9"/><circle cx="111" cy="615.8" r="0.9"/><circle cx="53.2" cy="587.2" r="0.7"/><circle cx="83.4" cy="603.9" r="0.6"/><circle cx="54.4" cy="586.6" r="1.1"/><circle cx="115.4" cy="619.1" r="0.8"/><circle cx="84.4" cy="587.3" r="0.7"/><circle cx="101.2" cy="609.3" r="0.7"/><circle cx="58" cy="610.2" r="0.8"/><circle cx="111.8" cy="611.5" r="0.7"/><circle cx="84.3" cy="582.5" r="0.7"/><circle cx="76" cy="609" r="1.1"/><circle cx="106" cy="603.6" r="0.7"/><circle cx="73" cy="595" r="0.9"/><circle cx="95.3" cy="583.3" r="0.8"/><circle cx="86.4" cy="597.6" r="1"/><circle cx="113.8" cy="591.4" r="1"/><circle cx="54.7" cy="594.6" r="1"/><circle cx="89.6" cy="601.2" r="0.9"/><circle cx="92.4" cy="609.3" r="0.9"/><circle cx="76.6" cy="593.4" r="1"/><circle cx="108.8" cy="592.3" r="0.8"/><circle cx="97.4" cy="613.2" r="1"/><circle cx="89.4" cy="598.5" r="0.6"/><circle cx="61.5" cy="611" r="1"/><circle cx="92.1" cy="618.3" r="0.7"/><circle cx="56.5" cy="613.5" r="0.8"/><circle cx="89.2" cy="600.3" r="1"/><circle cx="68.9" cy="605.7" r="1.1"/><circle cx="89.8" cy="612.7" r="0.6"/><circle cx="91.1" cy="596.8" r="0.7"/><circle cx="114.6" cy="610.3" r="0.8"/><circle cx="70.7" cy="604.3" r="0.8"/><circle cx="57.4" cy="616.4" r="0.8"/><circle cx="52.6" cy="608.6" r="0.8"/><circle cx="66.2" cy="608.5" r="0.7"/><circle cx="52.5" cy="610.5" r="0.7"/><circle cx="73.2" cy="610.4" r="1"/><circle cx="106.9" cy="595" r="1"/><circle cx="85.8" cy="606.1" r="0.6"/><circle cx="83.1" cy="606.3" r="0.6"/><circle cx="55.9" cy="601.9" r="0.9"/><circle cx="79.4" cy="597.8" r="1.1"/><circle cx="65.5" cy="613" r="0.6"/><circle cx="88.3" cy="593.9" r="0.6"/><circle cx="84" cy="602.3" r="0.8"/><circle cx="93.2" cy="615.3" r="0.8"/><circle cx="90.8" cy="593.5" r="0.9"/><circle cx="111.1" cy="607.4" r="1"/><circle cx="53.9" cy="592.6" r="1"/><circle cx="84.8" cy="587.4" r="0.8"/><circle cx="114.1" cy="609.2" r="0.6"/><circle cx="111.8" cy="619.7" r="0.7"/><circle cx="86.8" cy="614.4" r="0.9"/><circle cx="108.3" cy="612.8" r="0.8"/><circle cx="64.1" cy="590.8" r="0.8"/><circle cx="82.8" cy="601.2" r="0.9"/><circle cx="91.3" cy="595.6" r="0.7"/><circle cx="100.9" cy="589.2" r="0.7"/><circle cx="112" cy="618.3" r="0.9"/><circle cx="101.3" cy="597.8" r="0.9"/><circle cx="96.2" cy="591.3" r="1"/><circle cx="66.7" cy="615.6" r="0.6"/><circle cx="98.2" cy="603.1" r="1.1"/><circle cx="67.9" cy="590.8" r="0.8"/><circle cx="51.9" cy="593" r="0.7"/><circle cx="84.6" cy="610.9" r="0.7"/><circle cx="92.9" cy="588.4" r="0.7"/><circle cx="95" cy="584" r="1"/><circle cx="100.7" cy="613.5" r="0.9"/><circle cx="100.6" cy="595.6" r="0.9"/><circle cx="59.5" cy="593.9" r="0.7"/><circle cx="108.2" cy="594.4" r="1"/><circle cx="67.8" cy="619" r="0.7"/><circle cx="103.3" cy="597.5" r="0.8"/><circle cx="85.4" cy="595.7" r="0.8"/><circle cx="64.9" cy="606.5" r="0.8"/><circle cx="56.1" cy="608.8" r="0.9"/><circle cx="95.3" cy="598.3" r="0.7"/><circle cx="73.8" cy="595.3" r="0.8"/><circle cx="112.6" cy="600.4" r="1"/><circle cx="91.6" cy="582.8" r="0.7"/><circle cx="65.5" cy="591.3" r="0.6"/><circle cx="62.5" cy="596.8" r="0.9"/><circle cx="59.5" cy="601.5" r="0.7"/><circle cx="78.8" cy="609.6" r="0.9"/><circle cx="73.8" cy="617.1" r="0.6"/><circle cx="74.6" cy="583.6" r="0.6"/><circle cx="75.3" cy="594.6" r="0.8"/><circle cx="113.9" cy="596.9" r="0.7"/><circle cx="76.9" cy="618.1" r="1"/><circle cx="79" cy="596.7" r="0.9"/><circle cx="94.4" cy="584.7" r="0.7"/><circle cx="83" cy="604.3" r="1"/><circle cx="107.2" cy="614.6" r="0.7"/><circle cx="108.2" cy="587.1" r="0.8"/><circle cx="113.5" cy="592" r="1"/><circle cx="115.2" cy="582.5" r="0.7"/><circle cx="77.3" cy="609.4" r="0.9"/><circle cx="104.3" cy="604.7" r="1"/><circle cx="76.8" cy="585.5" r="1.1"/><circle cx="58.5" cy="608.6" r="0.9"/><circle cx="80.6" cy="593.7" r="0.9"/><circle cx="108.1" cy="585.1" r="0.9"/><circle cx="112.1" cy="609" r="1.1"/><circle cx="61.9" cy="596.6" r="0.6"/><circle cx="110.4" cy="596.6" r="1"/><circle cx="108.5" cy="591.2" r="1"/><circle cx="77.7" cy="605.8" r="0.6"/><circle cx="111.8" cy="613.3" r="1.1"/><circle cx="87.2" cy="613.5" r="1"/><circle cx="51.6" cy="589.3" r="0.9"/><circle cx="110.7" cy="582.7" r="0.8"/><circle cx="113.4" cy="605" r="1"/><circle cx="87.6" cy="599.8" r="1"/><circle cx="113.8" cy="592" r="0.7"/><circle cx="73.4" cy="602.9" r="0.6"/><circle cx="70.1" cy="606.6" r="0.8"/><circle cx="83" cy="603.3" r="0.9"/><circle cx="106.6" cy="602.8" r="1"/><circle cx="69.7" cy="596" r="0.9"/><circle cx="116" cy="599.6" r="0.9"/><circle cx="61.8" cy="603.3" r="1"/><circle cx="52.7" cy="591.5" r="0.8"/><circle cx="105.1" cy="601.4" r="0.9"/><circle cx="74.9" cy="590.6" r="0.7"/><circle cx="108.9" cy="613.9" r="0.7"/><circle cx="101.1" cy="601.4" r="0.9"/><circle cx="78.6" cy="606.2" r="1"/><circle cx="59.6" cy="604.6" r="0.7"/><circle cx="86.4" cy="612.4" r="0.7"/><circle cx="69" cy="599.3" r="0.8"/><circle cx="98" cy="582.5" r="0.6"/><circle cx="80.1" cy="619.7" r="1.1"/><circle cx="76.7" cy="605.7" r="0.8"/><circle cx="83.3" cy="588.4" r="0.7"/><circle cx="79.9" cy="585.1" r="0.9"/><circle cx="94" cy="582.9" r="0.8"/><circle cx="64.9" cy="596.6" r="1.1"/><circle cx="63.9" cy="610.9" r="0.8"/><circle cx="84.4" cy="583.5" r="0.7"/><circle cx="115.9" cy="591" r="1"/><circle cx="92.3" cy="594.5" r="1"/><circle cx="99.4" cy="619.1" r="0.9"/><circle cx="84.6" cy="593.4" r="0.8"/><circle cx="80.4" cy="582.6" r="0.8"/><circle cx="113" cy="591.1" r="0.7"/><circle cx="90.6" cy="607.3" r="0.7"/></g>
<g fill="#7c58a0" opacity="0.75"><circle cx="109.3" cy="570.8" r="0.8"/><circle cx="103.5" cy="570.7" r="0.6"/><circle cx="84" cy="570.2" r="1"/><circle cx="108.6" cy="574" r="0.9"/><circle cx="98" cy="566.2" r="1"/><circle cx="80.5" cy="569.3" r="0.7"/><circle cx="92" cy="571.7" r="0.9"/><circle cx="106.5" cy="575.7" r="1"/><circle cx="93.4" cy="577.1" r="1.1"/><circle cx="77.9" cy="573.4" r="0.9"/><circle cx="91.7" cy="575.3" r="0.6"/><circle cx="101.6" cy="579.7" r="0.9"/><circle cx="105.8" cy="581.2" r="0.8"/><circle cx="81.8" cy="566.9" r="0.8"/><circle cx="100.3" cy="572.1" r="1.1"/><circle cx="100.9" cy="567.1" r="0.8"/><circle cx="105.8" cy="576.6" r="0.8"/><circle cx="76.8" cy="580.3" r="0.8"/><circle cx="82.2" cy="566.7" r="0.6"/><circle cx="107.8" cy="579.4" r="0.7"/><circle cx="88" cy="568.3" r="1"/><circle cx="98.8" cy="570.8" r="0.9"/><circle cx="94.5" cy="567.5" r="0.8"/><circle cx="86.1" cy="574.3" r="1"/><circle cx="102.2" cy="576.1" r="1"/><circle cx="78" cy="567.7" r="0.9"/><circle cx="101.3" cy="578" r="0.7"/><circle cx="95.6" cy="576.8" r="0.6"/><circle cx="98.2" cy="568.2" r="0.7"/><circle cx="95.7" cy="567.6" r="0.8"/><circle cx="104.5" cy="572.9" r="0.8"/><circle cx="85.4" cy="581.1" r="0.7"/><circle cx="75.7" cy="571.7" r="0.8"/><circle cx="111.6" cy="569.4" r="1"/><circle cx="75.7" cy="572.5" r="0.9"/><circle cx="106.5" cy="567.2" r="0.8"/><circle cx="101.6" cy="579.4" r="1.1"/><circle cx="80.6" cy="576.9" r="0.7"/><circle cx="81.9" cy="581.1" r="0.9"/><circle cx="101.1" cy="570.4" r="1"/></g>
<g fill="#c8b0dc" opacity="0.6"><circle cx="100.9" cy="589.6" r="1.5"/><circle cx="58.7" cy="606.8" r="1.2"/><circle cx="86" cy="584.6" r="1.7"/><circle cx="73.1" cy="596.8" r="1.7"/><circle cx="109" cy="604" r="1.4"/><circle cx="53" cy="583" r="1.5"/><circle cx="78.8" cy="601.7" r="1"/><circle cx="82.3" cy="603.1" r="1.1"/><circle cx="79" cy="589.8" r="1.8"/><circle cx="95.3" cy="619.9" r="1.2"/><circle cx="52.6" cy="598.1" r="1.1"/><circle cx="79.8" cy="604" r="1.7"/><circle cx="113.6" cy="610.8" r="1.5"/><circle cx="53.1" cy="617.6" r="1.3"/><circle cx="107.8" cy="585.5" r="1.7"/><circle cx="58.5" cy="608.8" r="1.1"/><circle cx="84.2" cy="609.5" r="1"/><circle cx="69.8" cy="591.4" r="1.2"/><circle cx="51.9" cy="617.9" r="1.5"/><circle cx="52.6" cy="597.5" r="1.5"/><circle cx="65.8" cy="593.7" r="1.7"/><circle cx="89.4" cy="617.5" r="1.2"/><circle cx="110.5" cy="593.6" r="1.1"/><circle cx="53.6" cy="596.1" r="1.3"/><circle cx="108.8" cy="617.1" r="1.4"/><circle cx="58.2" cy="599.6" r="1.4"/><circle cx="98.2" cy="583.5" r="1.2"/><circle cx="108" cy="595.1" r="1.7"/><circle cx="53.6" cy="613.7" r="1.6"/><circle cx="83.7" cy="594.5" r="1.3"/><circle cx="78.6" cy="611" r="1.5"/><circle cx="57.2" cy="612.9" r="1.5"/><circle cx="71" cy="596.4" r="1.3"/><circle cx="102.8" cy="596.8" r="1.6"/><circle cx="90.8" cy="607.3" r="1.6"/><circle cx="70.4" cy="602.6" r="1.3"/><circle cx="87.1" cy="611.2" r="1.2"/><circle cx="69.3" cy="591.7" r="1.4"/><circle cx="63.3" cy="586.3" r="1.8"/><circle cx="63.1" cy="603.2" r="1.1"/><circle cx="85.7" cy="596.8" r="1.5"/><circle cx="105.6" cy="600.4" r="1.6"/><circle cx="64.8" cy="602.7" r="1.3"/><circle cx="93" cy="589.9" r="1.1"/><circle cx="105.9" cy="590.2" r="1.1"/><circle cx="51.8" cy="607.3" r="1.6"/><circle cx="110.3" cy="610.5" r="1.7"/><circle cx="98.5" cy="618.2" r="1.8"/><circle cx="53.3" cy="612.1" r="1.3"/><circle cx="88.5" cy="611.8" r="1.1"/><circle cx="99" cy="584.2" r="1.3"/><circle cx="73.3" cy="603.7" r="1.4"/><circle cx="113.6" cy="610" r="1.7"/><circle cx="106.4" cy="596" r="1.7"/><circle cx="86.1" cy="592.9" r="1.2"/><circle cx="101.9" cy="588.4" r="1.6"/><circle cx="55.2" cy="603.8" r="1.5"/><circle cx="88.7" cy="586.6" r="1.6"/><circle cx="99.8" cy="590.6" r="1.2"/><circle cx="77" cy="611.6" r="1.2"/></g>
<path d="M36 568H77L89 580C92 583 94 586 93 588C91 590 86 588 82 587C76 585 68 584 60 583.5C52 583 46 580 41 577L36 576Z" fill="#e8ebe5"/>
<ellipse cx="82.5" cy="611.5" rx="7" ry="5.5" fill="#eceee9"/>
<ellipse cx="116" cy="571" rx="6" ry="2.6" fill="#e8eae4"/>
</g></g>
<clipPath id="lv2"><rect x="150" y="570" width="96.5" height="70"/></clipPath>
<g clip-path="url(#lv2)"><rect x="148" y="568" width="100.5" height="74" fill="#d4aecb"/><g filter="url(#bl2)">
<g fill="#e4cadc" opacity="0.85"><circle cx="234.2" cy="632.9" r="2.3"/><circle cx="174.2" cy="596.7" r="1.6"/><circle cx="243.5" cy="584.3" r="1.7"/><circle cx="195.6" cy="576.7" r="1.5"/><circle cx="204.7" cy="576.6" r="1.3"/><circle cx="160.7" cy="609.8" r="1.2"/><circle cx="227.7" cy="608" r="1.7"/><circle cx="149.8" cy="574.5" r="2"/><circle cx="166.6" cy="624.3" r="2.4"/><circle cx="177.7" cy="594.8" r="2.2"/><circle cx="215" cy="623.9" r="2.1"/><circle cx="242.7" cy="638" r="1.9"/><circle cx="208.7" cy="625.8" r="1.6"/><circle cx="176.3" cy="608.6" r="1.7"/><circle cx="177.5" cy="594.2" r="2.3"/><circle cx="156.2" cy="602.7" r="2"/><circle cx="216.8" cy="641.3" r="2.2"/><circle cx="237" cy="599.7" r="1.5"/><circle cx="236.7" cy="619.5" r="1.3"/><circle cx="201.2" cy="592.8" r="2"/><circle cx="218.6" cy="589.4" r="1.8"/><circle cx="206.9" cy="580.4" r="2.1"/><circle cx="183.8" cy="636.7" r="1.5"/><circle cx="165.1" cy="628.1" r="2.2"/><circle cx="177.8" cy="617" r="1.8"/><circle cx="190" cy="617.2" r="1.6"/><circle cx="191.5" cy="593.4" r="1.5"/><circle cx="203.6" cy="639.4" r="2.1"/><circle cx="152.6" cy="625.9" r="2.2"/><circle cx="176.6" cy="587.5" r="2"/><circle cx="214.6" cy="585.8" r="1.8"/><circle cx="175.4" cy="628.2" r="1.7"/><circle cx="198.4" cy="596.5" r="1.5"/><circle cx="176.6" cy="585.2" r="1.7"/><circle cx="174.6" cy="600.8" r="2.2"/><circle cx="233.8" cy="582.3" r="1.7"/><circle cx="232.7" cy="579.6" r="1.9"/><circle cx="179.9" cy="573.4" r="1.5"/><circle cx="207.1" cy="629" r="1.9"/><circle cx="176.9" cy="591.8" r="2.3"/><circle cx="162.9" cy="591.2" r="1.7"/><circle cx="189.5" cy="592.3" r="1.9"/><circle cx="178.9" cy="596.7" r="2.4"/><circle cx="225.6" cy="635.9" r="1.5"/><circle cx="191.3" cy="582.5" r="1.3"/><circle cx="159.1" cy="639.5" r="2.3"/><circle cx="178.4" cy="619.5" r="2.1"/><circle cx="167" cy="596.5" r="1.6"/><circle cx="219.4" cy="622.5" r="2"/><circle cx="178.1" cy="618.1" r="1.4"/><circle cx="237.7" cy="632" r="2.2"/><circle cx="200.7" cy="622.6" r="2.2"/><circle cx="230.6" cy="599.7" r="1.7"/><circle cx="243.2" cy="621.1" r="1.7"/><circle cx="185.1" cy="606.8" r="2.1"/><circle cx="181.3" cy="598.1" r="1.7"/><circle cx="171.7" cy="616.5" r="1.7"/><circle cx="196.3" cy="637.8" r="1.4"/><circle cx="246.4" cy="575.3" r="2.1"/><circle cx="193" cy="584" r="2.2"/><circle cx="164.2" cy="604.8" r="1.5"/><circle cx="185" cy="595" r="2.4"/><circle cx="234.9" cy="624.4" r="1.5"/><circle cx="163.4" cy="635.5" r="1.9"/><circle cx="214.5" cy="617" r="1.9"/><circle cx="211.9" cy="618.3" r="1.5"/><circle cx="154.7" cy="578.1" r="1.7"/><circle cx="244.8" cy="587.1" r="1.5"/><circle cx="172.5" cy="570.4" r="1.3"/><circle cx="227.2" cy="620.2" r="2"/><circle cx="244.9" cy="582.9" r="2.3"/><circle cx="156.6" cy="599.3" r="1.9"/><circle cx="231.1" cy="577.3" r="2.1"/><circle cx="189.6" cy="623" r="2.3"/><circle cx="207.9" cy="639.8" r="2.3"/><circle cx="240.6" cy="627.4" r="1.3"/><circle cx="185" cy="609.4" r="1.5"/><circle cx="162.1" cy="633.2" r="2"/><circle cx="208.5" cy="641.8" r="2"/><circle cx="218.5" cy="619.8" r="1.4"/><circle cx="156.5" cy="571" r="1.4"/><circle cx="219.2" cy="617.8" r="2"/><circle cx="159.9" cy="578.7" r="1.8"/><circle cx="173" cy="615.3" r="2.2"/><circle cx="152.4" cy="627.9" r="1.9"/><circle cx="178.9" cy="585.4" r="1.6"/><circle cx="172.1" cy="591.4" r="1.2"/><circle cx="185" cy="634" r="1.8"/><circle cx="160.2" cy="606.8" r="2.1"/><circle cx="206.2" cy="602.3" r="1.9"/><circle cx="170.9" cy="634.8" r="1.4"/><circle cx="207.9" cy="639" r="1.4"/><circle cx="173.4" cy="611.2" r="1.7"/><circle cx="176.3" cy="612.7" r="1.5"/><circle cx="225.7" cy="602.3" r="1.9"/><circle cx="175" cy="626.1" r="1.8"/><circle cx="160.6" cy="593.6" r="1.3"/><circle cx="219.8" cy="618.3" r="2.2"/><circle cx="159.9" cy="637.4" r="2"/><circle cx="220" cy="608.2" r="2"/><circle cx="206.6" cy="574" r="2.3"/><circle cx="185.3" cy="592.7" r="2"/><circle cx="186.3" cy="601.8" r="1.7"/><circle cx="201.9" cy="639.1" r="1.3"/><circle cx="157.3" cy="584.8" r="2.1"/><circle cx="189.3" cy="633.4" r="1.8"/><circle cx="235.3" cy="600.2" r="2.4"/><circle cx="213.5" cy="637.2" r="2"/><circle cx="237.6" cy="631.4" r="2"/><circle cx="221.7" cy="618.8" r="2.4"/><circle cx="179.5" cy="628.8" r="2.2"/><circle cx="236.6" cy="628.4" r="2.2"/><circle cx="216.1" cy="595.3" r="1.9"/><circle cx="182.7" cy="573.7" r="1.9"/><circle cx="164.3" cy="590.1" r="2.3"/><circle cx="198.5" cy="598.5" r="2.1"/><circle cx="209.4" cy="604.4" r="2"/><circle cx="231.1" cy="639.7" r="1.8"/><circle cx="148.1" cy="613" r="1.6"/><circle cx="238" cy="587.7" r="2.2"/><circle cx="173.4" cy="581.3" r="1.4"/><circle cx="224.3" cy="617.7" r="2.1"/><circle cx="156.4" cy="598.5" r="2.1"/><circle cx="191.9" cy="637.1" r="2.3"/><circle cx="229.9" cy="586.9" r="1.9"/><circle cx="155.6" cy="612" r="1.5"/><circle cx="182.7" cy="576" r="1.6"/><circle cx="169.4" cy="589.1" r="1.4"/><circle cx="187.6" cy="634.3" r="1.8"/><circle cx="195.5" cy="629.7" r="2.2"/><circle cx="208.6" cy="587.8" r="2.4"/><circle cx="246.2" cy="631" r="1.8"/><circle cx="236.7" cy="591.1" r="2.1"/><circle cx="207.6" cy="602.4" r="2.2"/><circle cx="209.4" cy="611.7" r="2.2"/><circle cx="178.9" cy="583.9" r="1.9"/><circle cx="241.8" cy="602" r="2"/><circle cx="244.5" cy="636" r="2.2"/><circle cx="221.9" cy="580.9" r="2.4"/><circle cx="215.4" cy="601.6" r="1.5"/><circle cx="215.3" cy="619.9" r="1.7"/><circle cx="206.2" cy="598.2" r="1.9"/><circle cx="156.3" cy="632.2" r="1.5"/><circle cx="177.8" cy="611.6" r="2"/><circle cx="191.2" cy="639.1" r="1.6"/><circle cx="180.1" cy="634.8" r="1.4"/><circle cx="183.8" cy="608.3" r="2.1"/><circle cx="163.5" cy="589.2" r="1.8"/><circle cx="180.7" cy="605.8" r="2.3"/><circle cx="159.6" cy="601.8" r="2"/><circle cx="201.8" cy="576.4" r="1.2"/><circle cx="159.8" cy="575.5" r="2.3"/><circle cx="164.4" cy="616.3" r="1.7"/><circle cx="218.9" cy="637.9" r="2.3"/><circle cx="179.5" cy="616.8" r="1.8"/><circle cx="246.1" cy="626.9" r="2.3"/><circle cx="176.9" cy="579.6" r="2.2"/><circle cx="247.8" cy="593.5" r="2.1"/><circle cx="154.8" cy="585.9" r="2.3"/><circle cx="213.1" cy="638.7" r="1.4"/><circle cx="167.1" cy="587" r="1.4"/><circle cx="151.8" cy="636.9" r="1.3"/><circle cx="244.6" cy="615.1" r="2.3"/><circle cx="192.6" cy="618.3" r="1.9"/><circle cx="226.7" cy="615.2" r="1.6"/><circle cx="174.8" cy="584.5" r="1.3"/><circle cx="175" cy="624.5" r="1.5"/><circle cx="165.6" cy="605.8" r="1.5"/><circle cx="149.1" cy="620.6" r="1.6"/><circle cx="194.9" cy="579.2" r="2"/><circle cx="228.3" cy="585.8" r="1.8"/><circle cx="164.1" cy="621.2" r="1.8"/><circle cx="201.1" cy="592.8" r="1.7"/><circle cx="191.4" cy="580.6" r="1.8"/><circle cx="217.1" cy="616.9" r="2.4"/><circle cx="168.8" cy="633.3" r="1.7"/><circle cx="235.2" cy="575.3" r="2"/><circle cx="174.1" cy="591.6" r="2"/><circle cx="194.9" cy="598.8" r="1.4"/><circle cx="197.3" cy="579.1" r="2.2"/><circle cx="174.5" cy="603.3" r="2.2"/><circle cx="216.2" cy="622.2" r="1.4"/><circle cx="241.5" cy="604.8" r="1.2"/><circle cx="245.3" cy="603.1" r="1.9"/><circle cx="185.7" cy="635.8" r="2.1"/><circle cx="236.3" cy="607.5" r="1.8"/><circle cx="228.8" cy="577.9" r="2"/><circle cx="231.5" cy="627.9" r="1.6"/><circle cx="165.6" cy="631.5" r="1.9"/><circle cx="233.2" cy="600.6" r="2.3"/><circle cx="150.1" cy="610.4" r="2.1"/><circle cx="162.7" cy="618.9" r="1.3"/><circle cx="227.9" cy="614.8" r="2.4"/><circle cx="235.9" cy="597.9" r="1.5"/><circle cx="183.2" cy="602.6" r="1.7"/><circle cx="199.4" cy="626.3" r="1.3"/><circle cx="183.2" cy="576.8" r="2.2"/><circle cx="213.4" cy="590.3" r="2.1"/><circle cx="212.7" cy="571.2" r="2.3"/><circle cx="192.9" cy="616.9" r="2"/></g>
<g fill="#a07cb4" opacity="0.8"><circle cx="247.9" cy="607.3" r="0.7"/><circle cx="152.4" cy="587" r="0.7"/><circle cx="215.4" cy="572.5" r="0.9"/><circle cx="176.1" cy="580.7" r="0.8"/><circle cx="218.5" cy="580.1" r="0.8"/><circle cx="177.1" cy="615.9" r="0.8"/><circle cx="221.7" cy="592.5" r="0.6"/><circle cx="207.3" cy="624.5" r="0.7"/><circle cx="181.7" cy="622.3" r="0.9"/><circle cx="212.1" cy="586" r="1"/><circle cx="194.1" cy="595" r="0.9"/><circle cx="228" cy="597.1" r="0.7"/><circle cx="228.8" cy="571.1" r="0.6"/><circle cx="225.6" cy="628.2" r="0.7"/><circle cx="154" cy="627.4" r="0.9"/><circle cx="183.6" cy="608.1" r="1"/><circle cx="204.3" cy="617.9" r="0.9"/><circle cx="195.4" cy="603.7" r="0.9"/><circle cx="158" cy="630.3" r="0.9"/><circle cx="209.2" cy="590.3" r="0.9"/><circle cx="242" cy="613.6" r="0.9"/><circle cx="245.9" cy="589.4" r="0.7"/><circle cx="227.3" cy="636.3" r="0.6"/><circle cx="168.3" cy="629.6" r="0.7"/><circle cx="149.1" cy="592.3" r="0.7"/><circle cx="212.9" cy="594.7" r="0.7"/><circle cx="208.7" cy="621.9" r="0.9"/><circle cx="212.9" cy="578" r="1"/><circle cx="202" cy="607.4" r="1"/><circle cx="175.3" cy="586.7" r="0.9"/><circle cx="213.7" cy="594.6" r="0.7"/><circle cx="197.7" cy="568.3" r="0.7"/><circle cx="235.8" cy="577.4" r="0.9"/><circle cx="242.3" cy="595.2" r="0.8"/><circle cx="185.3" cy="602.9" r="0.8"/><circle cx="188.2" cy="632.1" r="0.8"/><circle cx="164.7" cy="638.1" r="0.8"/><circle cx="224.7" cy="594.2" r="0.7"/><circle cx="186.6" cy="604.3" r="0.7"/><circle cx="209.9" cy="625.6" r="0.9"/><circle cx="160.9" cy="640.9" r="0.8"/><circle cx="187.6" cy="624.2" r="0.8"/><circle cx="179.9" cy="638.7" r="0.7"/><circle cx="155.2" cy="630.4" r="0.9"/><circle cx="185" cy="622.4" r="0.7"/><circle cx="210.5" cy="620.2" r="1"/><circle cx="234.4" cy="607.2" r="0.6"/><circle cx="199.7" cy="574.4" r="0.8"/><circle cx="241.8" cy="618.1" r="0.8"/><circle cx="216.5" cy="578.1" r="0.9"/><circle cx="206.9" cy="617.6" r="0.8"/><circle cx="248" cy="631.5" r="0.8"/><circle cx="210.7" cy="617.3" r="1"/><circle cx="243.5" cy="579" r="0.8"/><circle cx="192.2" cy="609.6" r="0.8"/><circle cx="162.9" cy="574.5" r="0.7"/><circle cx="226.8" cy="636.5" r="0.8"/><circle cx="246.6" cy="583.8" r="0.7"/><circle cx="244.3" cy="627" r="0.6"/><circle cx="198" cy="588.7" r="0.8"/><circle cx="232.3" cy="639.3" r="0.7"/><circle cx="226.4" cy="635.2" r="0.9"/><circle cx="207.5" cy="620.2" r="0.8"/><circle cx="207.2" cy="609.1" r="0.9"/><circle cx="167.5" cy="634" r="0.9"/><circle cx="229.6" cy="580.4" r="0.7"/><circle cx="209.2" cy="589.3" r="0.9"/><circle cx="175.1" cy="628.2" r="0.9"/><circle cx="247.4" cy="630.8" r="0.8"/><circle cx="154.7" cy="606.2" r="0.9"/><circle cx="242.5" cy="577.6" r="0.8"/><circle cx="151.2" cy="627.6" r="0.7"/><circle cx="238.2" cy="641.8" r="0.8"/><circle cx="169.3" cy="594.8" r="0.9"/><circle cx="169.3" cy="601.5" r="0.6"/><circle cx="200.8" cy="597" r="0.7"/><circle cx="240.8" cy="616.4" r="0.8"/><circle cx="163.6" cy="595" r="0.9"/><circle cx="234.3" cy="572.3" r="0.9"/><circle cx="182.3" cy="626.6" r="0.9"/><circle cx="166" cy="592.5" r="0.8"/><circle cx="202.7" cy="621.8" r="0.9"/><circle cx="240.8" cy="636.5" r="0.8"/><circle cx="236.2" cy="623.4" r="0.9"/><circle cx="163.9" cy="609.6" r="0.8"/><circle cx="173.3" cy="637.1" r="0.6"/><circle cx="198.6" cy="572.8" r="1"/><circle cx="190.4" cy="602.4" r="0.7"/><circle cx="169.8" cy="601.5" r="1"/><circle cx="240.2" cy="591.5" r="1"/><circle cx="218.3" cy="580.7" r="0.8"/><circle cx="245.8" cy="615.7" r="0.9"/><circle cx="226.3" cy="596.8" r="0.8"/><circle cx="150.3" cy="627" r="0.7"/><circle cx="210.5" cy="612" r="0.9"/><circle cx="196.3" cy="576.8" r="0.9"/><circle cx="178.1" cy="624.1" r="0.7"/><circle cx="209" cy="598.8" r="0.8"/><circle cx="238.9" cy="586.9" r="0.7"/><circle cx="219.8" cy="590.1" r="0.6"/><circle cx="231.4" cy="589.1" r="0.7"/><circle cx="154.8" cy="633" r="0.6"/><circle cx="220.8" cy="618.5" r="0.8"/><circle cx="168.9" cy="629" r="0.9"/><circle cx="201.6" cy="641.1" r="0.8"/><circle cx="229.4" cy="615" r="0.7"/><circle cx="204.4" cy="634.3" r="1"/><circle cx="161.9" cy="620.9" r="0.8"/><circle cx="212.2" cy="598.5" r="0.9"/><circle cx="186.2" cy="621.3" r="0.7"/><circle cx="192.8" cy="612" r="1"/><circle cx="192.2" cy="574.6" r="0.7"/><circle cx="175.2" cy="640.9" r="0.8"/><circle cx="173.6" cy="596.3" r="0.6"/><circle cx="208.1" cy="616.2" r="0.7"/><circle cx="168.8" cy="616.3" r="0.6"/><circle cx="148.9" cy="625.3" r="0.6"/><circle cx="234.3" cy="591.2" r="0.8"/><circle cx="198.1" cy="637.4" r="0.8"/><circle cx="162.3" cy="625.9" r="0.7"/><circle cx="245.2" cy="589.8" r="0.7"/><circle cx="193.8" cy="616.6" r="0.7"/><circle cx="166.7" cy="590" r="0.9"/><circle cx="185.2" cy="628.3" r="0.7"/><circle cx="166.8" cy="619.7" r="0.7"/><circle cx="243" cy="630.5" r="0.8"/><circle cx="193.8" cy="575.6" r="0.8"/><circle cx="221.4" cy="585.8" r="0.9"/><circle cx="170.3" cy="571.8" r="1"/><circle cx="235" cy="627.9" r="1"/><circle cx="243" cy="600.5" r="0.8"/><circle cx="208" cy="598" r="0.8"/><circle cx="155.9" cy="575.5" r="1"/><circle cx="207" cy="623.1" r="0.9"/><circle cx="191.2" cy="588.1" r="0.9"/><circle cx="205.7" cy="624.7" r="0.7"/><circle cx="157.4" cy="595.3" r="0.8"/><circle cx="228.4" cy="580.2" r="0.6"/><circle cx="197" cy="573.9" r="0.9"/><circle cx="227.2" cy="607.4" r="0.7"/><circle cx="176.6" cy="618" r="0.8"/><circle cx="203.5" cy="575.7" r="0.6"/><circle cx="213.3" cy="604.3" r="1"/><circle cx="221.6" cy="571.1" r="0.8"/><circle cx="177.2" cy="603" r="0.9"/><circle cx="153.5" cy="641.6" r="0.8"/><circle cx="197.2" cy="602.1" r="0.9"/><circle cx="199.8" cy="581.5" r="0.7"/><circle cx="246" cy="640.9" r="0.8"/><circle cx="239.3" cy="594.3" r="0.7"/><circle cx="180.8" cy="635.1" r="1"/><circle cx="213.7" cy="571.5" r="0.7"/><circle cx="194.7" cy="620.2" r="1"/><circle cx="230.7" cy="610.5" r="0.8"/><circle cx="226.5" cy="575.1" r="0.7"/><circle cx="169.8" cy="615.8" r="0.8"/><circle cx="193.4" cy="633.4" r="1"/><circle cx="239.7" cy="601.9" r="0.7"/><circle cx="171.1" cy="614" r="0.8"/><circle cx="205.3" cy="603.3" r="0.8"/><circle cx="157.7" cy="604.9" r="0.9"/><circle cx="237.2" cy="589" r="0.8"/><circle cx="210.3" cy="600.8" r="0.9"/><circle cx="236.1" cy="576.5" r="0.9"/><circle cx="158.7" cy="569.3" r="0.9"/><circle cx="148.2" cy="584.8" r="0.9"/><circle cx="202.8" cy="625.7" r="0.8"/><circle cx="172.4" cy="574.9" r="0.6"/><circle cx="184.5" cy="589.9" r="1"/><circle cx="189.9" cy="623.8" r="1"/><circle cx="226.8" cy="620" r="0.8"/><circle cx="186.4" cy="609.9" r="0.6"/><circle cx="206.2" cy="600" r="0.7"/><circle cx="192.7" cy="621.1" r="0.9"/><circle cx="242" cy="599.9" r="0.7"/><circle cx="223.2" cy="634.2" r="0.9"/><circle cx="190.3" cy="581.1" r="1"/><circle cx="163.3" cy="572.8" r="0.9"/><circle cx="154.4" cy="625.6" r="0.9"/><circle cx="188.3" cy="627.9" r="0.9"/><circle cx="187.7" cy="569" r="0.8"/><circle cx="201" cy="634.1" r="0.7"/><circle cx="185.9" cy="611.9" r="0.7"/><circle cx="216" cy="570.9" r="0.9"/><circle cx="222.8" cy="575.5" r="0.7"/><circle cx="193.3" cy="622.7" r="0.7"/><circle cx="184.9" cy="622.8" r="0.8"/><circle cx="217.8" cy="579.8" r="1"/><circle cx="159.3" cy="591.8" r="0.6"/><circle cx="234.9" cy="607.3" r="0.6"/><circle cx="154.2" cy="609.9" r="0.9"/><circle cx="189.2" cy="633.2" r="0.8"/><circle cx="194.1" cy="640.5" r="0.9"/><circle cx="185.2" cy="641.8" r="0.8"/><circle cx="187.9" cy="577.6" r="0.6"/><circle cx="153.5" cy="633.5" r="1"/><circle cx="207.5" cy="620.9" r="0.9"/><circle cx="170.3" cy="596.6" r="1"/><circle cx="161.6" cy="571.9" r="0.8"/><circle cx="192.4" cy="594.4" r="0.8"/><circle cx="191.4" cy="620.2" r="0.9"/><circle cx="179" cy="629.4" r="0.7"/><circle cx="212.8" cy="603.7" r="1"/><circle cx="152.6" cy="595.1" r="0.9"/><circle cx="233.7" cy="611.8" r="0.7"/><circle cx="217.1" cy="640.8" r="0.9"/><circle cx="153.4" cy="583.9" r="0.8"/><circle cx="160.2" cy="595.6" r="0.8"/><circle cx="243.9" cy="622.8" r="0.6"/><circle cx="243.4" cy="603.9" r="0.8"/><circle cx="204.8" cy="632.1" r="0.6"/><circle cx="151" cy="572.8" r="0.7"/><circle cx="245.3" cy="568.3" r="0.8"/><circle cx="233.5" cy="624" r="0.9"/><circle cx="182.2" cy="626.6" r="0.9"/><circle cx="224.8" cy="639.3" r="1"/><circle cx="175.5" cy="577.6" r="1"/><circle cx="164.7" cy="607.4" r="0.8"/><circle cx="174.9" cy="575.7" r="1"/><circle cx="152.2" cy="589.2" r="0.8"/><circle cx="148.1" cy="590.4" r="0.8"/><circle cx="149.7" cy="610.3" r="0.7"/><circle cx="214.7" cy="569.1" r="0.6"/><circle cx="243.5" cy="587.8" r="0.9"/><circle cx="197.7" cy="598.4" r="0.6"/><circle cx="191.1" cy="625.3" r="0.7"/><circle cx="159.3" cy="575.6" r="0.8"/><circle cx="160.3" cy="637.2" r="0.8"/><circle cx="228.7" cy="585.5" r="0.8"/><circle cx="247.3" cy="570.8" r="0.8"/><circle cx="154.1" cy="605.3" r="0.7"/><circle cx="244.8" cy="630.9" r="0.9"/><circle cx="198.5" cy="583.2" r="0.8"/><circle cx="233.3" cy="637.2" r="0.8"/><circle cx="225.8" cy="569.1" r="0.8"/><circle cx="190.2" cy="628" r="1"/><circle cx="195.8" cy="570.5" r="0.9"/><circle cx="189.3" cy="634.4" r="0.9"/><circle cx="160.1" cy="590" r="0.7"/><circle cx="161.2" cy="568.8" r="0.6"/></g>
<path d="M214 583C224 582 236 582 247 583V592C238 592 228 594 220 600C216 598 214 590 214 583Z" fill="#e2dae4" opacity="0.9"/>
<path d="M181 592C181 586 186 582 194 581.5L212 581.5C218 582 221 586 221 592C220 599 214 607 205 608C195 608.5 186 604 182 598C181 596 181 594 181 592Z" fill="#e6eae4"/>
<g fill="#8a64a8" opacity="0.85"><circle cx="213.7" cy="602.3" r="0.9"/><circle cx="216" cy="601.3" r="0.7"/><circle cx="213.5" cy="591" r="0.7"/><circle cx="230.6" cy="587.4" r="0.7"/><circle cx="231.5" cy="599.7" r="0.7"/><circle cx="212.5" cy="595.9" r="0.9"/><circle cx="228.6" cy="592" r="0.8"/><circle cx="234.8" cy="601.7" r="1.1"/><circle cx="217.4" cy="587.1" r="0.8"/><circle cx="235.5" cy="593.4" r="1"/><circle cx="232.3" cy="594.4" r="0.9"/><circle cx="233.4" cy="596.1" r="1"/><circle cx="233" cy="600.7" r="0.9"/><circle cx="213" cy="591.4" r="1"/><circle cx="220.2" cy="593" r="0.9"/><circle cx="228.1" cy="588.3" r="0.8"/><circle cx="226.3" cy="587.2" r="0.8"/><circle cx="213.6" cy="596" r="0.9"/><circle cx="218.3" cy="591.6" r="0.8"/><circle cx="227.8" cy="593" r="0.7"/><circle cx="227.1" cy="592.9" r="0.7"/><circle cx="228.4" cy="592.5" r="0.7"/><circle cx="227.1" cy="599.8" r="0.7"/><circle cx="217.1" cy="596.6" r="0.6"/><circle cx="219.1" cy="593.7" r="1"/><circle cx="212" cy="590.8" r="1"/><circle cx="235.8" cy="601.8" r="0.7"/><circle cx="228.5" cy="600.7" r="0.7"/><circle cx="218.1" cy="597.1" r="0.7"/><circle cx="222.4" cy="596.2" r="0.8"/></g>
<g fill="#b898cc" opacity="0.7"><circle cx="225.6" cy="588" r="1.5"/><circle cx="226.9" cy="585.1" r="1.7"/><circle cx="233.5" cy="596" r="1.3"/><circle cx="234" cy="599.1" r="1.6"/><circle cx="221.3" cy="594.2" r="1.9"/><circle cx="216.2" cy="596.7" r="1.7"/><circle cx="235.4" cy="599.9" r="2"/><circle cx="226.4" cy="590.6" r="2"/><circle cx="222.3" cy="594.6" r="1.8"/><circle cx="233.5" cy="599.4" r="1.4"/><circle cx="234.4" cy="601.4" r="1.5"/><circle cx="234" cy="600" r="1.6"/><circle cx="214.5" cy="596.3" r="1.4"/><circle cx="230.3" cy="588.3" r="1.5"/></g>
<ellipse cx="157" cy="638" rx="10" ry="6" fill="#eceee9"/>
</g></g>
<text x="259.71" y="381" class="b" font-size="29.5" textLength="19.74" lengthAdjust="spacingAndGlyphs">C</text>
<text x="314.29" y="371.5" class="b" font-size="15.6" textLength="42.49" lengthAdjust="spacingAndGlyphs">No.17</text>
<text x="288.82" y="386.8" class="b" font-size="11.5" textLength="91.72" lengthAdjust="spacingAndGlyphs">(B-cell leukemia)</text>
<text x="449.36" y="371.5" class="b" font-size="15.6" textLength="34.78" lengthAdjust="spacingAndGlyphs">No.5</text>
<text x="418.80" y="386.5" class="b" font-size="11.5" textLength="93.25" lengthAdjust="spacingAndGlyphs">(T-cell leukemia)</text>
<path transform="scale(0.5)" d="M656 940h2.4M674 922h2.4M654 933h2.4M673 950h2.4M652 912h2.4M674 939h2.4M682 946h2.4M664 928h2.4M689 924h2.4M656 914h2.4M667 934h2.4M663 931h2.4M670 943h2.4M677 934h2.4M652 946h2.4M653 931h2.4M653 934h2.4M659 937h2.4M696 927h2.4M670 909h2.4M665 944h2.4M666 938h2.4M664 915h2.4M669 918h2.4M682 921h2.4M672 931h2.4M673 921h2.4M675 929h2.4M679 941h2.4M665 919h2.4M680 923h2.4M672 940h2.4M669 935h2.4M666 922h2.4M656 927h2.4M675 950h2.4M678 948h2.4M675 943h2.4M670 945h2.4M681 924h2.4M665 950h2.4M671 948h2.4M671 912h2.4M693 950h2.4M670 944h2.4M665 917h2.4M678 942h2.4M670 950h2.4M661 946h2.4M675 926h2.4M647 919h2.4M669 941h2.4M678 913h2.4M668 943h2.4M659 892h2.4M679 950h2.4M673 915h2.4M663 936h2.4M690 939h2.4M671 950h2.4M659 925h2.4M676 950h2.4M673 936h2.4M648 923h2.4M659 924h2.4M670 926h2.4M673 932h2.4M663 934h2.4M672 946h2.4M661 929h2.4M658 950h2.4M679 927h2.4M659 912h2.4M668 935h2.4M686 933h2.4M653 892h2.4M679 933h2.4M652 937h2.4M660 950h2.4M678 940h2.4M659 896h2.4M661 906h2.4M666 895h2.4M661 950h2.4M678 910h2.4M654 949h2.4M671 914h2.4M658 921h2.4M653 922h2.4M679 942h2.4M684 928h2.4M662 916h2.4M662 910h2.4M681 944h2.4M679 934h2.4M660 934h2.4M660 914h2.4M647 909h2.4M666 935h2.4M669 942h2.4M675 917h2.4M650 947h2.4M663 950h2.4M672 948h2.4M668 896h2.4M671 920h2.4M658 926h2.4M675 946h2.4M671 903h2.4M655 893h2.4M667 942h2.4M660 937h2.4M671 949h2.4M656 919h2.4M664 950h2.4M676 928h2.4M668 934h2.4M667 928h2.4M660 911h2.4M671 932h2.4M664 933h2.4M668 921h2.4M668 936h2.4M657 920h2.4M654 915h2.4M668 891h2.4M662 922h2.4M661 934h2.4M676 932h2.4M663 922h2.4M667 948h2.4M660 913h2.4M652 915h2.4M656 950h2.4M669 928h2.4M678 919h2.4M675 944h2.4M648 908h2.4M660 949h2.4M675 910h2.4M675 924h2.4M661 923h2.4M658 902h2.4M654 913h2.4M690 923h2.4M649 928h2.4M662 950h2.4M669 919h2.4M676 940h2.4M650 925h2.4M666 926h2.4M670 939h2.4M651 931h2.4M669 929h2.4M666 950h2.4M657 917h2.4M670 913h2.4M665 948h2.4M673 901h2.4M676 926h2.4M660 928h2.4M655 929h2.4M664 930h2.4M676 927h2.4M655 950h2.4M655 926h2.4M664 926h2.4M656 929h2.4M684 919h2.4M668 950h2.4M669 898h2.4M658 935h2.4M674 950h2.4M670 927h2.4M666 928h2.4M661 919h2.4M680 947h2.4M676 945h2.4M656 930h2.4M661 945h2.4M660 931h2.4M656 917h2.4M669 922h2.4M660 902h2.4M671 923h2.4M681 950h2.4M669 926h2.4M667 940h2.4M668 916h2.4M666 923h2.4M657 948h2.4M672 932h2.4M653 900h2.4M670 930h2.4M651 933h2.4M652 934h2.4M668 938h2.4M655 927h2.4M670 942h2.4M674 887h2.4M689 945h2.4M652 941h2.4M664 949h2.4M656 932h2.4M665 931h2.4M656 902h2.4M673 948h2.4M663 915h2.4M664 932h2.4M676 911h2.4M656 901h2.4M656 922h2.4M682 926h2.4M661 903h2.4M667 916h2.4M678 909h2.4M657 906h2.4M663 949h2.4M675 932h2.4M655 915h2.4M660 919h2.4M657 915h2.4M657 930h2.4M679 930h2.4M668 931h2.4M668 949h2.4M672 935h2.4M664 938h2.4M677 926h2.4M679 929h2.4M651 918h2.4M688 940h2.4M674 947h2.4M674 948h2.4M663 929h2.4M674 925h2.4M653 930h2.4M663 943h2.4M667 950h2.4M667 937h2.4M678 950h2.4M654 950h2.4M665 927h2.4M687 926h2.4M686 946h2.4M658 942h2.4M672 929h2.4M644 929h2.4M661 914h2.4M682 925h2.4M662 928h2.4M668 937h2.4M661 931h2.4M655 943h2.4M656 925h2.4M665 911h2.4M688 928h2.4M663 920h2.4M684 950h2.4M665 909h2.4M658 913h2.4M653 921h2.4M664 921h2.4M679 912h2.4M669 933h2.4M662 927h2.4M662 931h2.4M680 943h2.4M653 926h2.4M661 947h2.4M670 947h2.4M661 900h2.4M671 935h2.4M667 909h2.4M665 920h2.4M661 939h2.4M667 917h2.4M644 893h2.4M660 894h2.4M659 940h2.4M684 949h2.4M670 935h2.4M666 925h2.4M674 938h2.4M660 907h2.4M666 941h2.4M664 939h2.4M682 910h2.4M666 918h2.4M682 915h2.4M668 948h2.4M662 945h2.4M660 943h2.4M666 911h2.4M669 913h2.4M677 950h2.4M670 922h2.4M677 933h2.4M654 928h2.4M678 925h2.4M649 926h2.4M660 922h2.4M650 930h2.4M661 942h2.4M679 925h2.4M655 935h2.4M659 906h2.4M673 922h2.4M669 909h2.4M672 906h2.4M671 900h2.4M678 924h2.4M651 930h2.4M667 915h2.4M662 937h2.4M657 881h2.4M663 940h2.4M674 936h2.4M678 947h2.4M665 921h2.4M676 938h2.4M646 916h2.4M671 933h2.4M660 926h2.4M671 944h2.4M668 914h2.4M672 923h2.4M642 923h2.4M689 941h2.4M666 916h2.4M655 930h2.4M669 950h2.4M661 922h2.4M660 910h2.4M670 940h2.4M671 916h2.4M641 895h2.4M683 930h2.4M672 905h2.4M673 938h2.4M664 925h2.4M656 936h2.4M677 924h2.4M669 920h2.4M666 915h2.4M667 921h2.4M665 946h2.4M653 940h2.4M675 941h2.4M645 946h2.4M669 910h2.4M656 926h2.4M695 931h2.4M666 921h2.4M660 948h2.4M666 947h2.4M658 949h2.4M667 943h2.4M663 917h2.4M676 923h2.4M662 917h2.4M667 925h2.4M669 937h2.4M656 909h2.4M672 947h2.4M669 912h2.4M672 938h2.4M664 936h2.4M653 932h2.4M663 901h2.4M661 943h2.4M665 934h2.4M657 949h2.4M681 926h2.4M674 933h2.4M674 941h2.4M650 933h2.4M669 911h2.4M674 918h2.4M662 949h2.4M677 929h2.4M658 901h2.4M661 925h2.4M673 937h2.4M652 922h2.4M662 947h2.4M688 950h2.4M683 950h2.4M659 928h2.4M686 900h2.4M668 910h2.4M667 922h2.4M672 933h2.4M660 921h2.4M655 909h2.4M659 949h2.4M666 929h2.4M672 949h2.4M674 944h2.4M659 931h2.4M658 927h2.4M664 929h2.4M662 924h2.4M657 937h2.4M653 915h2.4M663 904h2.4M637 941h2.4M671 902h2.4M659 943h2.4M646 920h2.4M650 950h2.4M665 937h2.4M658 897h2.4M661 910h2.4M664 918h2.4M657 933h2.4M681 938h2.4M667 938h2.4M683 906h2.4M652 904h2.4M682 947h2.4M666 932h2.4M668 946h2.4M665 938h2.4M663 930h2.4M686 936h2.4M686 910h2.4M660 935h2.4M670 925h2.4M668 918h2.4M661 935h2.4M682 891h2.4M670 934h2.4M663 918h2.4M664 923h2.4M653 896h2.4M663 935h2.4M669 946h2.4M663 921h2.4M654 908h2.4M659 950h2.4M673 916h2.4M676 919h2.4M692 950h2.4M657 941h2.4M664 919h2.4M660 933h2.4M652 926h2.4M665 912h2.4M648 934h2.4M659 914h2.4M671 928h2.4M660 925h2.4M653 945h2.4M665 902h2.4M652 919h2.4M658 941h2.4M686 945h2.4M654 925h2.4M666 920h2.4M673 943h2.4M674 935h2.4M683 946h2.4M671 943h2.4M670 905h2.4M676 937h2.4M663 941h2.4M651 936h2.4M671 930h2.4M653 942h2.4M673 934h2.4M669 925h2.4M697 939h2.4M663 905h2.4M669 945h2.4M659 929h2.4M647 944h2.4M662 944h2.4M678 927h2.4M676 935h2.4M663 928h2.4M672 919h2.4M657 950h2.4M671 941h2.4M680 929h2.4M669 923h2.4M664 937h2.4M661 918h2.4M653 950h2.4M662 919h2.4M664 940h2.4M673 925h2.4M667 930h2.4M664 947h2.4M685 947h2.4M663 932h2.4M662 940h2.4M671 934h2.4M665 949h2.4M661 930h2.4M662 920h2.4M660 908h2.4M660 942h2.4M649 922h2.4M673 929h2.4M651 900h2.4M649 897h2.4M663 927h2.4M659 941h2.4M675 937h2.4M666 942h2.4M659 944h2.4M667 939h2.4M663 948h2.4M676 949h2.4M665 929h2.4M677 937h2.4M656 924h2.4M675 933h2.4M673 917h2.4M673 949h2.4M645 907h2.4M679 920h2.4M655 917h2.4M659 942h2.4M668 929h2.4M665 947h2.4M661 921h2.4M677 930h2.4M653 935h2.4M653 927h2.4M674 928h2.4M658 909h2.4M681 922h2.4M654 935h2.4M662 943h2.4M663 911h2.4M668 945h2.4M665 942h2.4M661 932h2.4M680 946h2.4M665 913h2.4M680 950h2.4M662 918h2.4M671 904h2.4M659 910h2.4M670 904h2.4M674 943h2.4M644 914h2.4M660 916h2.4M688 908h2.4M671 931h2.4M665 936h2.4M655 928h2.4M667 901h2.4M667 949h2.4M652 914h2.4M659 913h2.4M669 939h2.4M672 926h2.4M662 933h2.4M659 923h2.4M663 942h2.4M671 922h2.4M672 936h2.4M636 943h2.4M657 935h2.4M678 938h2.4M656 913h2.4M679 888h2.4M664 922h2.4M669 936h2.4M667 931h2.4M649 929h2.4M666 905h2.4M669 906h2.4M670 931h2.4M659 927h2.4M653 908h2.4M664 920h2.4M662 911h2.4M662 923h2.4M671 937h2.4M677 932h2.4M661 941h2.4M643 926h2.4M648 950h2.4M670 949h2.4M673 926h2.4M648 911h2.4M682 950h2.4M660 915h2.4M659 918h2.4M662 941h2.4M654 920h2.4M654 921h2.4M640 947h2.4M656 882h2.4M691 950h2.4M659 934h2.4M670 910h2.4M680 918h2.4M666 912h2.4M669 931h2.4M673 911h2.4M666 913h2.4M672 908h2.4M645 924h2.4M675 934h2.4M674 906h2.4M671 939h2.4M648 910h2.4M694 950h2.4M674 911h2.4M665 933h2.4M664 945h2.4M652 918h2.4M669 940h2.4M670 938h2.4M676 922h2.4M664 941h2.4M663 916h2.4M653 948h2.4M644 934h2.4M659 916h2.4M673 924h2.4M662 909h2.4M661 940h2.4M647 950h2.4M663 937h2.4M670 923h2.4M660 940h2.4M669 901h2.4M655 922h2.4M685 950h2.4M675 939h2.4M680 905h2.4M658 936h2.4M659 936h2.4M657 913h2.4M689 920h2.4M675 930h2.4M648 878h2.4M671 947h2.4M665 925h2.4M660 903h2.4M684 933h2.4M682 917h2.4M654 929h2.4M681 949h2.4M677 946h2.4M658 932h2.4M664 935h2.4M668 925h2.4M668 924h2.4M658 946h2.4M676 897h2.4M675 948h2.4M651 908h2.4M676 936h2.4M651 905h2.4M646 935h2.4M684 939h2.4M677 938h2.4M656 928h2.4M668 939h2.4M663 913h2.4M643 911h2.4M654 919h2.4M650 931h2.4M670 918h2.4M666 908h2.4M682 940h2.4M679 937h2.4M644 923h2.4M648 890h2.4M665 914h2.4M664 916h2.4M658 939h2.4M673 941h2.4M665 926h2.4M670 937h2.4M645 921h2.4M648 927h2.4M651 899h2.4M652 935h2.4M671 946h2.4M672 945h2.4M659 948h2.4M674 929h2.4M662 921h2.4M683 942h2.4M656 943h2.4M640 919h2.4M665 924h2.4M681 936h2.4M665 941h2.4M679 921h2.4M664 910h2.4M679 907h2.4M679 922h2.4M663 919h2.4M667 935h2.4M659 930h2.4M666 945h2.4M675 945h2.4M667 946h2.4M669 924h2.4M674 905h2.4M655 920h2.4M650 902h2.4M688 942h2.4M657 927h2.4M686 950h2.4M669 927h2.4M674 930h2.4M668 927h2.4M678 934h2.4M672 907h2.4M662 932h2.4M657 931h2.4M661 916h2.4M655 936h2.4M677 927h2.4M673 942h2.4M686 911h2.4M684 917h2.4M675 899h2.4M652 920h2.4M654 918h2.4M642 930h2.4M677 899h2.4M668 932h2.4M669 908h2.4M654 931h2.4M662 901h2.4M669 932h2.4M666 887h2.4M664 946h2.4M682 932h2.4M658 931h2.4M682 943h2.4M668 944h2.4M646 950h2.4M685 901h2.4M663 938h2.4M666 903h2.4M662 942h2.4M651 919h2.4M650 939h2.4M685 919h2.4M671 927h2.4M674 912h2.4M675 925h2.4M664 911h2.4M674 921h2.4M672 944h2.4M666 888h2.4M655 940h2.4M669 916h2.4M672 934h2.4M674 932h2.4M658 922h2.4M654 938h2.4M658 944h2.4M671 925h2.4M680 917h2.4M639 933h2.4M661 928h2.4M680 945h2.4M646 936h2.4M657 932h2.4M677 931h2.4M657 919h2.4M677 941h2.4M653 937h2.4M673 928h2.4M656 933h2.4M643 921h2.4M656 935h2.4M658 933h2.4M685 924h2.4M655 905h2.4M658 903h2.4M667 918h2.4M672 950h2.4M647 911h2.4M676 920h2.4M680 940h2.4M670 921h2.4M660 883h2.4M662 926h2.4M673 909h2.4M665 898h2.4M644 918h2.4M657 918h2.4M653 909h2.4M665 945h2.4M652 896h2.4M671 924h2.4M677 923h2.4M664 944h2.4M655 931h2.4M685 937h2.4M669 947h2.4M669 934h2.4M670 929h2.4M655 944h2.4M648 903h2.4M633 922h2.4M664 908h2.4M661 915h2.4M645 942h2.4M668 928h2.4M651 922h2.4M658 912h2.4M675 938h2.4M662 934h2.4M682 920h2.4M654 936h2.4M662 946h2.4M657 921h2.4M657 939h2.4M671 918h2.4M681 925h2.4M656 892h2.4M655 912h2.4M640 924h2.4M669 902h2.4M658 905h2.4M654 926h2.4M657 892h2.4M674 915h2.4M637 927h2.4M643 917h2.4M674 937h2.4M657 909h2.4M668 917h2.4M664 931h2.4M672 943h2.4M677 902h2.4M670 936h2.4M665 928h2.4M652 945h2.4M653 924h2.4M672 930h2.4M676 917h2.4M676 907h2.4M670 948h2.4M684 942h2.4M648 915h2.4M680 933h2.4M656 911h2.4M663 945h2.4M675 912h2.4M654 916h2.4M654 930h2.4M665 897h2.4M666 936h2.4M666 909h2.4M666 943h2.4M674 907h2.4M663 914h2.4M659 946h2.4M681 894h2.4M679 914h2.4M671 915h2.4M667 932h2.4M673 945h2.4M644 920h2.4M654 945h2.4M675 916h2.4M657 929h2.4M653 923h2.4M682 942h2.4M662 930h2.4M660 923h2.4M668 906h2.4M683 936h2.4M671 940h2.4M644 942h2.4M655 916h2.4M668 930h2.4M667 920h2.4M642 937h2.4M676 918h2.4M671 909h2.4M661 913h2.4M660 947h2.4M668 933h2.4M646 914h2.4M651 934h2.4M684 945h2.4M650 941h2.4M684 940h2.4M670 912h2.4M673 940h2.4M666 934h2.4M659 947h2.4M670 928h2.4M666 946h2.4M662 903h2.4M654 897h2.4M690 950h2.4M660 899h2.4M683 920h2.4M647 918h2.4M683 929h2.4M648 898h2.4M674 945h2.4M677 891h2.4M668 922h2.4M657 928h2.4M674 931h2.4M663 923h2.4M664 888h2.4M662 938h2.4M649 894h2.4M647 925h2.4M667 936h2.4M650 915h2.4M672 916h2.4M648 918h2.4M649 893h2.4M655 932h2.4M653 918h2.4M682 928h2.4M649 933h2.4M651 917h2.4M660 938h2.4M672 918h2.4M658 917h2.4M676 913h2.4M687 946h2.4M677 913h2.4M677 935h2.4M676 947h2.4M682 919h2.4M661 904h2.4M657 907h2.4M662 935h2.4M659 920h2.4M679 949h2.4M664 909h2.4M678 898h2.4M657 947h2.4M654 904h2.4M668 947h2.4M682 948h2.4M672 924h2.4M677 949h2.4M662 948h2.4M660 939h2.4M652 910h2.4M658 924h2.4M676 934h2.4M672 915h2.4M678 929h2.4M680 904h2.4M663 908h2.4M651 939h2.4M651 932h2.4M665 901h2.4M673 927h2.4M658 940h2.4M658 928h2.4M671 906h2.4M685 949h2.4M660 936h2.4M663 925h2.4M693 929h2.4M671 938h2.4M673 920h2.4M674 942h2.4M659 904h2.4M658 937h2.4M654 941h2.4M675 935h2.4M676 939h2.4M674 934h2.4M676 948h2.4M669 917h2.4M671 945h2.4M664 904h2.4M666 919h2.4M644 910h2.4M666 924h2.4M666 949h2.4M667 926h2.4M664 943h2.4M658 945h2.4M657 934h2.4M666 937h2.4M670 933h2.4M658 934h2.4M663 912h2.4M666 900h2.4M675 914h2.4M649 930h2.4M667 927h2.4M663 909h2.4M647 913h2.4M677 936h2.4M659 898h2.4M675 922h2.4M665 939h2.4M678 904h2.4M683 915h2.4M678 912h2.4M669 944h2.4M654 940h2.4M658 923h2.4M670 932h2.4M665 896h2.4M688 919h2.4M659 932h2.4M652 930h2.4M669 943h2.4M686 919h2.4M679 915h2.4M659 901h2.4M681 940h2.4M647 938h2.4M676 929h2.4M657 911h2.4M661 917h2.4M667 914h2.4M658 914h2.4M667 933h2.4M656 947h2.4M685 934h2.4M652 916h2.4M664 927h2.4M669 883h2.4M672 913h2.4M666 933h2.4M678 928h2.4M672 921h2.4M677 947h2.4M654 948h2.4M663 944h2.4M668 905h2.4M659 911h2.4M673 910h2.4M681 928h2.4M675 949h2.4M687 950h2.4M680 941h2.4M667 944h2.4M685 900h2.4M678 905h2.4M661 912h2.4M682 930h2.4M686 942h2.4M668 913h2.4M664 934h2.4M645 929h2.4M689 929h2.4M659 884h2.4M655 904h2.4M681 910h2.4M685 938h2.4M663 926h2.4M669 949h2.4M666 931h2.4M654 927h2.4M680 944h2.4M673 902h2.4M682 945h2.4M656 921h2.4M678 946h2.4M653 920h2.4M685 935h2.4M646 938h2.4M664 913h2.4M673 930h2.4M652 949h2.4M680 924h2.4M677 904h2.4M670 916h2.4M666 910h2.4M655 914h2.4M652 948h2.4M671 926h2.4M683 935h2.4M678 932h2.4M677 915h2.4M653 901h2.4M681 947h2.4M673 889h2.4M645 911h2.4M655 918h2.4M679 903h2.4M656 931h2.4M656 915h2.4M641 912h2.4M655 919h2.4M665 918h2.4M678 933h2.4M657 914h2.4M674 949h2.4M634 931h2.4M684 947h2.4M691 930h2.4M651 947h2.4M677 944h2.4M655 938h2.4M680 937h2.4M671 942h2.4M666 902h2.4M655 924h2.4M667 919h2.4M649 936h2.4M671 913h2.4M669 948h2.4M662 929h2.4M652 933h2.4M651 920h2.4M676 930h2.4M660 932h2.4M679 943h2.4M664 914h2.4M656 941h2.4M653 947h2.4M674 924h2.4M664 912h2.4M657 923h2.4M676 943h2.4M668 941h2.4M686 935h2.4M674 927h2.4M681 932h2.4M655 921h2.4M656 923h2.4M658 919h2.4M670 914h2.4M680 896h2.4M669 905h2.4M657 922h2.4M655 900h2.4M653 913h2.4M656 888h2.4M682 903h2.4M685 933h2.4M677 921h2.4M675 940h2.4M649 935h2.4M672 941h2.4M661 911h2.4M650 910h2.4M672 942h2.4M661 944h2.4M673 946h2.4M672 899h2.4M673 923h2.4M670 911h2.4M652 929h2.4M666 940h2.4M665 922h2.4M671 936h2.4M675 942h2.4M688 947h2.4M702 896h2.4M651 927h2.4M654 943h2.4M659 935h2.4M690 938h2.4M675 923h2.4M657 942h2.4M673 935h2.4M638 944h2.4M663 888h2.4M651 925h2.4M650 901h2.4M656 920h2.4M679 936h2.4M652 940h2.4M681 942h2.4M680 949h2.4M654 917h2.4M664 924h2.4M666 930h2.4M685 922h2.4M662 908h2.4M670 906h2.4M641 935h2.4M657 938h2.4M652 911h2.4M670 920h2.4M645 905h2.4M651 924h2.4M659 917h2.4M683 940h2.4M662 900h2.4M668 942h2.4M652 921h2.4M645 928h2.4M682 927h2.4M669 938h2.4M659 919h2.4M678 915h2.4M669 930h2.4M687 935h2.4M683 916h2.4M665 908h2.4M660 929h2.4M665 923h2.4M657 925h2.4M650 916h2.4M645 947h2.4M670 941h2.4M680 934h2.4M674 908h2.4M671 929h2.4M675 931h2.4M680 913h2.4M650 935h2.4M665 916h2.4M673 947h2.4M680 948h2.4M667 910h2.4M676 915h2.4M653 898h2.4M651 891h2.4M678 943h2.4M655 933h2.4M684 927h2.4M654 907h2.4M669 896h2.4M675 913h2.4M647 916h2.4M653 914h2.4M679 923h2.4M664 905h2.4M660 941h2.4M647 901h2.4M648 906h2.4M682 908h2.4M678 941h2.4M652 927h2.4M664 942h2.4M670 946h2.4M688 922h2.4M660 924h2.4M678 937h2.4M648 938h2.4M672 925h2.4M682 923h2.4M663 933h2.4M666 939h2.4M657 943h2.4M650 924h2.4M686 947h2.4M660 930h2.4M669 899h2.4M657 926h2.4M664 892h2.4M678 939h2.4M686 934h2.4M665 906h2.4M664 948h2.4M660 906h2.4M646 945h2.4M649 908h2.4M659 880h2.4M680 926h2.4M658 920h2.4M658 911h2.4M655 934h2.4M652 950h2.4M677 943h2.4M678 935h2.4M669 921h2.4M668 940h2.4M675 911h2.4M648 916h2.4M677 922h2.4M659 922h2.4M651 940h2.4M678 930h2.4M638 934h2.4M665 907h2.4M686 925h2.4M685 920h2.4M658 893h2.4M663 902h2.4M645 918h2.4M650 946h2.4M651 929h2.4M654 903h2.4M667 923h2.4M681 935h2.4M669 915h2.4M664 907h2.4M652 925h2.4M659 945h2.4M679 924h2.4M643 935h2.4M655 945h2.4M646 949h2.4M665 899h2.4M661 933h2.4M660 944h2.4M642 942h2.4M659 926h2.4M645 913h2.4M659 939h2.4M645 926h2.4M673 906h2.4M639 920h2.4M657 924h2.4M660 918h2.4M661 924h2.4M672 912h2.4M653 911h2.4M661 894h2.4M677 948h2.4M651 914h2.4M659 907h2.4M668 915h2.4M656 942h2.4M679 946h2.4M673 933h2.4M661 949h2.4M656 937h2.4M654 923h2.4M661 927h2.4M662 936h2.4M674 898h2.4M669 914h2.4M656 948h2.4M677 911h2.4M666 927h2.4M663 907h2.4M658 943h2.4M661 884h2.4M665 932h2.4M651 950h2.4M672 939h2.4M661 905h2.4M655 925h2.4M674 917h2.4M662 925h2.4M656 900h2.4M679 891h2.4M665 878h2.4M669 886h2.4M669 897h2.4M687 883h2.4M678 879h2.4M688 879h2.4M671 890h2.4M676 887h2.4M670 889h2.4M673 885h2.4M686 884h2.4M681 883h2.4M686 882h2.4M670 887h2.4M688 885h2.4M671 888h2.4M672 892h2.4M672 893h2.4M685 894h2.4M690 893h2.4M692 902h2.4M675 897h2.4M672 887h2.4M677 882h2.4M680 889h2.4M694 897h2.4M676 883h2.4M673 883h2.4M672 890h2.4M667 886h2.4M681 884h2.4M669 884h2.4M684 882h2.4M690 873h2.4M671 896h2.4M688 887h2.4M664 887h2.4M670 883h2.4M675 883h2.4M675 872h2.4M676 863h2.4M678 885h2.4M691 903h2.4M679 885h2.4M681 906h2.4M677 888h2.4M684 880h2.4M686 891h2.4M695 891h2.4M688 880h2.4M697 890h2.4M679 877h2.4M682 895h2.4M669 889h2.4M678 866h2.4M678 846h2.4M684 843h2.4M689 830h2.4M686 880h2.4M678 863h2.4M688 851h2.4M680 856h2.4M703 845h2.4M680 851h2.4M677 843h2.4M676 862h2.4M691 888h2.4M671 842h2.4M681 842h2.4M676 855h2.4M677 844h2.4M683 845h2.4M680 865h2.4M687 863h2.4M690 862h2.4M670 886h2.4M704 874h2.4M694 879h2.4M678 871h2.4M676 849h2.4M686 861h2.4M677 834h2.4M688 859h2.4M609 816h2.4M598 823h2.4M587 835h2.4M608 833h2.4M619 819h2.4M614 814h2.4M597 836h2.4M601 817h2.4M613 824h2.4M619 812h2.4M605 814h2.4M608 821h2.4M596 808h2.4M591 832h2.4M603 814h2.4M610 814h2.4M619 832h2.4M608 819h2.4M587 828h2.4M632 825h2.4M601 831h2.4M603 813h2.4M606 829h2.4M587 833h2.4M627 824h2.4M602 811h2.4M614 821h2.4M622 838h2.4M622 825h2.4M587 836h2.4M602 819h2.4M620 828h2.4M595 821h2.4M604 822h2.4M594 837h2.4M606 830h2.4M620 843h2.4M616 817h2.4M602 832h2.4M627 811h2.4M631 819h2.4M605 820h2.4M615 822h2.4M607 816h2.4M625 827h2.4M607 843h2.4M616 836h2.4M605 825h2.4M606 832h2.4M611 809h2.4M611 832h2.4M605 830h2.4M608 823h2.4M602 823h2.4M604 831h2.4M587 829h2.4M607 814h2.4M617 824h2.4M614 836h2.4M610 810h2.4M589 823h2.4M593 843h2.4M607 808h2.4M587 819h2.4M587 832h2.4M602 834h2.4M594 820h2.4M621 809h2.4M616 837h2.4M596 823h2.4M628 837h2.4M627 823h2.4M603 831h2.4M618 829h2.4M600 831h2.4M614 826h2.4M623 821h2.4M609 834h2.4M599 832h2.4M617 837h2.4M623 819h2.4M629 820h2.4M594 821h2.4M604 816h2.4M620 829h2.4M615 812h2.4M630 828h2.4M622 827h2.4M612 831h2.4M610 836h2.4M602 806h2.4M604 824h2.4M613 825h2.4M613 828h2.4M615 817h2.4M587 826h2.4M614 834h2.4M621 827h2.4M622 819h2.4M603 836h2.4M594 824h2.4M596 813h2.4M633 808h2.4M599 809h2.4M611 830h2.4M615 816h2.4M628 826h2.4M614 829h2.4M615 821h2.4M612 818h2.4M611 816h2.4M591 819h2.4M606 818h2.4M605 819h2.4M609 840h2.4M615 832h2.4M620 832h2.4M613 832h2.4M621 823h2.4M605 824h2.4M608 828h2.4M603 820h2.4M611 828h2.4M607 811h2.4M605 832h2.4M606 835h2.4M602 822h2.4M618 834h2.4M605 837h2.4M610 828h2.4M629 832h2.4M606 824h2.4M598 834h2.4M612 841h2.4M623 824h2.4M601 821h2.4M623 823h2.4M622 835h2.4M626 826h2.4M617 813h2.4M612 824h2.4M619 809h2.4M605 845h2.4M610 820h2.4M609 823h2.4M604 829h2.4M611 834h2.4M638 831h2.4M612 837h2.4M592 840h2.4M595 820h2.4M609 812h2.4M601 826h2.4M613 812h2.4M587 830h2.4M589 827h2.4M614 831h2.4M645 823h2.4M605 839h2.4M617 816h2.4M592 819h2.4M608 827h2.4M593 811h2.4M607 829h2.4M602 827h2.4M607 834h2.4M606 820h2.4M614 833h2.4M601 823h2.4M600 814h2.4M637 819h2.4M604 821h2.4M599 823h2.4M607 828h2.4M602 812h2.4M607 830h2.4M605 818h2.4M626 819h2.4M602 824h2.4M606 825h2.4M613 839h2.4M614 828h2.4M591 844h2.4M614 832h2.4M604 823h2.4M621 824h2.4M601 837h2.4M603 829h2.4M629 828h2.4M605 831h2.4M626 805h2.4M618 811h2.4M618 825h2.4M615 815h2.4M623 847h2.4M610 830h2.4M596 799h2.4M607 822h2.4M616 825h2.4M593 804h2.4M621 833h2.4M617 820h2.4M593 835h2.4M592 821h2.4M624 828h2.4M621 838h2.4M611 811h2.4M588 805h2.4M617 811h2.4M607 825h2.4M624 827h2.4M609 826h2.4M602 830h2.4M641 800h2.4M616 823h2.4M606 819h2.4M594 826h2.4M600 838h2.4M612 840h2.4M610 811h2.4M613 826h2.4M618 803h2.4M609 837h2.4M609 806h2.4M613 829h2.4M625 829h2.4M596 835h2.4M617 835h2.4M606 834h2.4M587 812h2.4M616 839h2.4M615 826h2.4M622 808h2.4M612 838h2.4M588 804h2.4M597 824h2.4M615 819h2.4M618 820h2.4M589 833h2.4M608 818h2.4M589 801h2.4M596 831h2.4M597 812h2.4M599 830h2.4M615 835h2.4M598 838h2.4M627 828h2.4M621 839h2.4M613 816h2.4M615 828h2.4M617 848h2.4M609 822h2.4M623 825h2.4M593 827h2.4M620 810h2.4M629 842h2.4M595 827h2.4M599 822h2.4M632 832h2.4M596 828h2.4M631 843h2.4M629 825h2.4M618 826h2.4M595 825h2.4M604 813h2.4M607 821h2.4M596 825h2.4M613 827h2.4M612 825h2.4M589 805h2.4M597 817h2.4M604 840h2.4M607 832h2.4M617 826h2.4M620 819h2.4M606 814h2.4M598 824h2.4M603 827h2.4M593 825h2.4M629 814h2.4M618 818h2.4M602 841h2.4M617 830h2.4M628 830h2.4M607 803h2.4M617 840h2.4M588 830h2.4M596 822h2.4M627 814h2.4M599 829h2.4M601 836h2.4M600 813h2.4M590 822h2.4M622 824h2.4M601 810h2.4M611 818h2.4M636 813h2.4M592 813h2.4M611 829h2.4M611 835h2.4M617 819h2.4M629 817h2.4M611 825h2.4M612 806h2.4M627 809h2.4M594 832h2.4M636 826h2.4M587 808h2.4M618 816h2.4M600 822h2.4M603 834h2.4M617 821h2.4M611 839h2.4M616 821h2.4M604 833h2.4M610 840h2.4M623 834h2.4M614 825h2.4M608 829h2.4M616 809h2.4M593 824h2.4M608 812h2.4M612 834h2.4M601 835h2.4M602 818h2.4M597 830h2.4M611 823h2.4M620 817h2.4M606 822h2.4M611 837h2.4M601 834h2.4M607 850h2.4M597 828h2.4M611 833h2.4M634 833h2.4M593 820h2.4M591 835h2.4M618 836h2.4M630 822h2.4M626 824h2.4M622 815h2.4M606 813h2.4M610 819h2.4M591 826h2.4M622 829h2.4M612 822h2.4M606 810h2.4M632 809h2.4M597 815h2.4M595 826h2.4M599 819h2.4M613 813h2.4M595 828h2.4M602 807h2.4M615 811h2.4M608 824h2.4M612 827h2.4M603 824h2.4M588 827h2.4M587 831h2.4M603 822h2.4M614 830h2.4M603 799h2.4M610 831h2.4M624 822h2.4M621 793h2.4M603 818h2.4M633 822h2.4M639 824h2.4M603 819h2.4M598 825h2.4M610 815h2.4M630 834h2.4M598 818h2.4M630 839h2.4M622 816h2.4M617 810h2.4M613 831h2.4M618 839h2.4M623 820h2.4M591 803h2.4M595 823h2.4M601 850h2.4M610 822h2.4M613 834h2.4M609 833h2.4M617 827h2.4M623 832h2.4M623 826h2.4M594 840h2.4M611 831h2.4M611 822h2.4M594 825h2.4M618 824h2.4M601 829h2.4M605 815h2.4M596 816h2.4M601 804h2.4M615 814h2.4M587 824h2.4M596 829h2.4M630 811h2.4M590 830h2.4M619 818h2.4M606 831h2.4M611 824h2.4M606 828h2.4M599 811h2.4M606 823h2.4M615 807h2.4M641 821h2.4M617 808h2.4M612 819h2.4M627 815h2.4M630 814h2.4M614 827h2.4M611 819h2.4M596 837h2.4M614 816h2.4M592 831h2.4M625 824h2.4M614 835h2.4M607 812h2.4M595 819h2.4M591 821h2.4M604 820h2.4M636 819h2.4M611 826h2.4M625 828h2.4M591 825h2.4M615 827h2.4M607 818h2.4M636 822h2.4M622 814h2.4M615 824h2.4M605 822h2.4M608 820h2.4M587 825h2.4M629 822h2.4M610 817h2.4M598 815h2.4M592 824h2.4M597 827h2.4M609 811h2.4M635 821h2.4M615 805h2.4M609 825h2.4M630 806h2.4M599 834h2.4M596 814h2.4M595 824h2.4M622 823h2.4M635 812h2.4M628 827h2.4M619 831h2.4M605 821h2.4M592 817h2.4M599 833h2.4M607 845h2.4M616 808h2.4M608 815h2.4M598 822h2.4M633 832h2.4M618 828h2.4M614 818h2.4M610 823h2.4M616 832h2.4M594 812h2.4M626 814h2.4M623 850h2.4M606 826h2.4M619 851h2.4M619 822h2.4M628 824h2.4M604 826h2.4M605 826h2.4M631 813h2.4M593 826h2.4M631 833h2.4M608 817h2.4M612 820h2.4M600 821h2.4M614 824h2.4M611 814h2.4M590 823h2.4M608 830h2.4M601 820h2.4M624 820h2.4M612 816h2.4M591 817h2.4M588 821h2.4M605 840h2.4M616 831h2.4M598 813h2.4M601 811h2.4M602 821h2.4M621 822h2.4M623 827h2.4M625 823h2.4M600 843h2.4M594 806h2.4M617 814h2.4M598 840h2.4M633 843h2.4M601 832h2.4M600 819h2.4M612 821h2.4M625 811h2.4M613 809h2.4M626 830h2.4M610 818h2.4M603 825h2.4M599 812h2.4M623 829h2.4M613 820h2.4M616 820h2.4M627 832h2.4M605 828h2.4M594 827h2.4M633 824h2.4M591 831h2.4M621 817h2.4M640 822h2.4M610 837h2.4M600 853h2.4M598 831h2.4M628 833h2.4M627 833h2.4M609 831h2.4M619 826h2.4M598 837h2.4M631 820h2.4M628 828h2.4M613 808h2.4M601 813h2.4M588 825h2.4M591 810h2.4M633 823h2.4M607 833h2.4M595 822h2.4M619 820h2.4M626 811h2.4M587 822h2.4M610 824h2.4M604 832h2.4M622 839h2.4M593 819h2.4M587 813h2.4M593 823h2.4M598 827h2.4M625 822h2.4M600 825h2.4M601 828h2.4M610 834h2.4M615 829h2.4M607 820h2.4M600 830h2.4M616 824h2.4M621 820h2.4M593 829h2.4M619 814h2.4M605 833h2.4M613 807h2.4M601 849h2.4M591 829h2.4M615 820h2.4M602 888h2.4M609 893h2.4M617 867h2.4M600 873h2.4M620 887h2.4M616 857h2.4M609 906h2.4M618 891h2.4M611 851h2.4M606 895h2.4M602 895h2.4M616 841h2.4M611 863h2.4M608 899h2.4M595 843h2.4M606 874h2.4M613 875h2.4M601 868h2.4M633 881h2.4M619 879h2.4M613 845h2.4M616 917h2.4M591 883h2.4M596 884h2.4M614 870h2.4M597 862h2.4M625 867h2.4M610 882h2.4M604 868h2.4M594 909h2.4M613 883h2.4M604 853h2.4M618 863h2.4M611 853h2.4M635 871h2.4M614 888h2.4M598 875h2.4M596 857h2.4M619 893h2.4M615 855h2.4M609 886h2.4M606 866h2.4M612 887h2.4M603 845h2.4M604 869h2.4M608 877h2.4M622 872h2.4M614 860h2.4M609 882h2.4M597 890h2.4M601 867h2.4M616 882h2.4M611 861h2.4M631 870h2.4M610 873h2.4M611 867h2.4M598 884h2.4M628 875h2.4M612 868h2.4M606 906h2.4M612 881h2.4M621 821h2.4M617 871h2.4M611 874h2.4M617 883h2.4M628 865h2.4M615 888h2.4M617 876h2.4M609 877h2.4M639 864h2.4M590 861h2.4M589 894h2.4M619 868h2.4M587 851h2.4M599 925h2.4M594 872h2.4M619 882h2.4M606 862h2.4M621 869h2.4M593 859h2.4M603 898h2.4M608 841h2.4M606 887h2.4M600 862h2.4M596 876h2.4M610 862h2.4M611 881h2.4M603 871h2.4M592 882h2.4M609 879h2.4M612 900h2.4M595 907h2.4M615 885h2.4M609 880h2.4M592 871h2.4M588 910h2.4M602 860h2.4M604 883h2.4M620 883h2.4M591 865h2.4M612 874h2.4M619 863h2.4M606 836h2.4M609 883h2.4M612 857h2.4M610 872h2.4M612 883h2.4M631 855h2.4M605 886h2.4M589 903h2.4M620 874h2.4M596 865h2.4M601 897h2.4M604 876h2.4M616 865h2.4M603 832h2.4M619 898h2.4M612 856h2.4M615 867h2.4M587 866h2.4M588 866h2.4M597 887h2.4M593 875h2.4M608 843h2.4M610 860h2.4M599 846h2.4M610 861h2.4M608 871h2.4M626 867h2.4M610 896h2.4M605 893h2.4M615 837h2.4M626 869h2.4M597 867h2.4M612 876h2.4M633 841h2.4M613 862h2.4M605 864h2.4M601 901h2.4M612 871h2.4M613 844h2.4M608 862h2.4M599 896h2.4M603 873h2.4M611 880h2.4M601 881h2.4M614 881h2.4M607 876h2.4M610 863h2.4M604 874h2.4M598 828h2.4M609 865h2.4M612 882h2.4M613 867h2.4M616 856h2.4M601 880h2.4M603 855h2.4M607 853h2.4M615 919h2.4M607 940h2.4M610 950h2.4M618 933h2.4M596 936h2.4M620 939h2.4M613 936h2.4M606 934h2.4M612 930h2.4M620 921h2.4M620 924h2.4M598 927h2.4M599 927h2.4M614 942h2.4M615 904h2.4M619 923h2.4M612 942h2.4M618 947h2.4M608 920h2.4M599 949h2.4M604 932h2.4M603 921h2.4M623 943h2.4M610 936h2.4M601 929h2.4M603 939h2.4M591 938h2.4M628 920h2.4M626 933h2.4M611 914h2.4M606 915h2.4M614 950h2.4M610 923h2.4M602 929h2.4M609 944h2.4M609 931h2.4M598 921h2.4M610 929h2.4M606 935h2.4M624 921h2.4M614 939h2.4M603 917h2.4M596 931h2.4M609 933h2.4M615 940h2.4M621 946h2.4M608 932h2.4M599 918h2.4M608 919h2.4M621 922h2.4M624 923h2.4M606 941h2.4M612 944h2.4M600 937h2.4M604 935h2.4M594 921h2.4M605 934h2.4M590 924h2.4M624 924h2.4M589 916h2.4M597 925h2.4M610 938h2.4M603 936h2.4M607 936h2.4M618 938h2.4M591 937h2.4M604 907h2.4M612 927h2.4M596 911h2.4M613 933h2.4M614 931h2.4M627 923h2.4M624 942h2.4M602 942h2.4M601 938h2.4M592 912h2.4M618 934h2.4M604 913h2.4M602 924h2.4M615 931h2.4M588 922h2.4M597 923h2.4M596 941h2.4M619 928h2.4M600 920h2.4M607 950h2.4M617 935h2.4M603 934h2.4M596 942h2.4M602 917h2.4M617 927h2.4M605 944h2.4M622 923h2.4M620 915h2.4M622 932h2.4M608 945h2.4M612 912h2.4M612 939h2.4M618 946h2.4M604 918h2.4M592 925h2.4M602 932h2.4M625 925h2.4M595 930h2.4M610 937h2.4M622 935h2.4M611 923h2.4M612 940h2.4M604 946h2.4M608 938h2.4M592 941h2.4M607 925h2.4M610 933h2.4M601 917h2.4M612 937h2.4M610 927h2.4M606 911h2.4M603 923h2.4M607 907h2.4M595 925h2.4M623 928h2.4M603 930h2.4M598 931h2.4M603 920h2.4M608 937h2.4M608 917h2.4M609 924h2.4M603 932h2.4M612 938h2.4M604 950h2.4M617 937h2.4M625 941h2.4M604 939h2.4M619 938h2.4M621 937h2.4M600 928h2.4M599 917h2.4M628 939h2.4M621 917h2.4M616 926h2.4M615 938h2.4M621 923h2.4M621 941h2.4M612 920h2.4M596 914h2.4M592 938h2.4M592 923h2.4M611 925h2.4M613 942h2.4M603 937h2.4M619 930h2.4M618 930h2.4M610 939h2.4M606 929h2.4M658 854h2.4M684 874h2.4M653 799h2.4M756 881h2.4M721 863h2.4M661 810h2.4M695 873h2.4M697 851h2.4M647 904h2.4M668 838h2.4" stroke="#000" stroke-width="2.4" fill="none"/>
<rect x="293.5" y="395.5" width="90" height="80.5" fill="none" stroke="#222" stroke-width="1"/>
<path d="M317.7 395.5V476M293.5 455.5H383.5" stroke="#333" stroke-width="0.8" fill="none"/>
<path d="M293.5 476v2.2M293.5 476h-2.2M300.3 476v1.2M293.5 469.9h-1.2M304.2 476v1.2M293.5 466.4h-1.2M307 476v1.2M293.5 463.9h-1.2M309.2 476v1.2M293.5 461.9h-1.2M311 476v1.2M293.5 460.3h-1.2M312.5 476v1.2M293.5 459h-1.2M313.8 476v1.2M293.5 457.8h-1.2M315 476v1.2M293.5 456.8h-1.2M316 476v2.2M293.5 455.9h-2.2M322.8 476v1.2M293.5 449.8h-1.2M326.7 476v1.2M293.5 446.3h-1.2M329.5 476v1.2M293.5 443.8h-1.2M331.7 476v1.2M293.5 441.8h-1.2M333.5 476v1.2M293.5 440.2h-1.2M335 476v1.2M293.5 438.9h-1.2M336.3 476v1.2M293.5 437.7h-1.2M337.5 476v1.2M293.5 436.7h-1.2M338.5 476v2.2M293.5 435.8h-2.2M345.3 476v1.2M293.5 429.7h-1.2M349.2 476v1.2M293.5 426.1h-1.2M352 476v1.2M293.5 423.6h-1.2M354.2 476v1.2M293.5 421.7h-1.2M356 476v1.2M293.5 420.1h-1.2M357.5 476v1.2M293.5 418.7h-1.2M358.8 476v1.2M293.5 417.6h-1.2M360 476v1.2M293.5 416.5h-1.2M361 476v2.2M293.5 415.6h-2.2M367.8 476v1.2M293.5 409.6h-1.2M371.7 476v1.2M293.5 406h-1.2M374.5 476v1.2M293.5 403.5h-1.2M376.7 476v1.2M293.5 401.6h-1.2M378.5 476v1.2M293.5 400h-1.2M380 476v1.2M293.5 398.6h-1.2M381.3 476v1.2M293.5 397.5h-1.2M382.5 476v1.2M293.5 396.4h-1.2M383.5 476v2.2M293.5 395.5h-2.2" stroke="#333" stroke-width="0.6" fill="none"/>
<text x="294.3" y="485.6" class="r" font-size="7.6" fill="#3a3a3a" text-anchor="middle">10<tspan dy="-3.6" font-size="6">0</tspan></text>
<text transform="translate(288.3 477.2) rotate(-90)" class="r" font-size="7.6" fill="#3a3a3a" text-anchor="middle">10<tspan dy="-3.6" font-size="6">0</tspan></text>
<text x="316.8" y="485.6" class="r" font-size="7.6" fill="#3a3a3a" text-anchor="middle">10<tspan dy="-3.6" font-size="6">1</tspan></text>
<text transform="translate(288.3 457.1) rotate(-90)" class="r" font-size="7.6" fill="#3a3a3a" text-anchor="middle">10<tspan dy="-3.6" font-size="6">1</tspan></text>
<text x="339.3" y="485.6" class="r" font-size="7.6" fill="#3a3a3a" text-anchor="middle">10<tspan dy="-3.6" font-size="6">2</tspan></text>
<text transform="translate(288.3 436.9) rotate(-90)" class="r" font-size="7.6" fill="#3a3a3a" text-anchor="middle">10<tspan dy="-3.6" font-size="6">2</tspan></text>
<text x="361.8" y="485.6" class="r" font-size="7.6" fill="#3a3a3a" text-anchor="middle">10<tspan dy="-3.6" font-size="6">3</tspan></text>
<text transform="translate(288.3 416.8) rotate(-90)" class="r" font-size="7.6" fill="#3a3a3a" text-anchor="middle">10<tspan dy="-3.6" font-size="6">3</tspan></text>
<text x="384.3" y="485.6" class="r" font-size="7.6" fill="#3a3a3a" text-anchor="middle">10<tspan dy="-3.6" font-size="6">4</tspan></text>
<text transform="translate(288.3 396.7) rotate(-90)" class="r" font-size="7.6" fill="#3a3a3a" text-anchor="middle">10<tspan dy="-3.6" font-size="6">4</tspan></text>
<text x="296" y="401.8" class="b" font-size="6.4" text-anchor="start">4.75</text>
<text x="381.5" y="401.8" class="b" font-size="6.4" text-anchor="end">5.17</text>
<text x="296" y="474.8" class="b" font-size="6.4" text-anchor="start">2.04</text>
<text x="381.5" y="474.8" class="b" font-size="6.4" text-anchor="end">88.03</text>
<path d="M274.5 456.5V430" stroke="#000" stroke-width="1.5"/>
<path d="M274.5 421.8L270 430.7H279Z"/>
<text transform="translate(268.2 456.11) rotate(-90)" class="b" font-size="12.2" textLength="35.90" lengthAdjust="spacingAndGlyphs">Thy1.2</text>
<path d="M318.9 491H345.5" stroke="#000" stroke-width="1.5"/>
<path d="M353.1 491L344.8 486.8V495.2Z"/>
<text x="321.03" y="506.5" class="b" font-size="11.8" textLength="30.31" lengthAdjust="spacingAndGlyphs">CD19</text>
<path transform="scale(0.5)" d="M882 854h2.4M863 836h2.4M883 837h2.4M853 827h2.4M862 819h2.4M851 852h2.4M883 850h2.4M861 832h2.4M887 821h2.4M866 832h2.4M879 844h2.4M890 855h2.4M873 853h2.4M873 827h2.4M869 829h2.4M886 849h2.4M852 843h2.4M875 848h2.4M854 841h2.4M853 835h2.4M863 832h2.4M865 838h2.4M853 839h2.4M851 845h2.4M850 837h2.4M848 848h2.4M888 847h2.4M867 836h2.4M880 822h2.4M863 837h2.4M855 836h2.4M863 824h2.4M873 835h2.4M857 840h2.4M861 846h2.4M873 819h2.4M862 847h2.4M862 848h2.4M884 853h2.4M880 835h2.4M868 822h2.4M860 829h2.4M882 848h2.4M874 847h2.4M866 843h2.4M863 820h2.4M870 851h2.4M869 852h2.4M864 828h2.4M855 835h2.4M861 823h2.4M861 854h2.4M881 835h2.4M858 837h2.4M862 842h2.4M860 842h2.4M880 829h2.4M872 852h2.4M882 836h2.4M869 848h2.4M872 823h2.4M864 823h2.4M876 848h2.4M875 821h2.4M865 820h2.4M877 847h2.4M856 845h2.4M850 824h2.4M887 827h2.4M875 854h2.4M880 836h2.4M866 834h2.4M855 848h2.4M870 847h2.4M868 828h2.4M859 823h2.4M878 838h2.4M864 855h2.4M857 829h2.4M858 838h2.4M866 836h2.4M883 832h2.4M873 838h2.4M888 841h2.4M887 832h2.4M856 827h2.4M882 823h2.4M860 850h2.4M865 827h2.4M888 851h2.4M857 824h2.4M871 822h2.4M888 831h2.4M861 821h2.4M869 840h2.4M853 845h2.4M870 849h2.4M887 851h2.4M875 834h2.4M867 828h2.4M854 823h2.4M875 853h2.4M889 829h2.4M857 822h2.4M852 849h2.4M863 833h2.4M856 854h2.4M849 853h2.4M865 835h2.4M869 828h2.4M886 838h2.4M871 851h2.4M876 850h2.4M853 830h2.4M857 838h2.4M859 852h2.4M857 833h2.4M865 831h2.4M878 837h2.4M881 832h2.4M865 854h2.4M858 851h2.4M861 849h2.4M864 854h2.4M885 833h2.4M849 842h2.4M872 830h2.4M886 834h2.4M870 827h2.4M879 839h2.4M854 854h2.4M860 824h2.4M878 835h2.4M882 835h2.4M871 846h2.4M885 825h2.4M853 837h2.4M854 848h2.4M862 832h2.4M852 829h2.4M863 829h2.4M878 824h2.4M869 843h2.4M849 849h2.4M880 828h2.4M850 822h2.4M885 821h2.4M874 841h2.4M876 836h2.4M880 823h2.4M859 837h2.4M865 842h2.4M857 853h2.4M852 830h2.4M866 853h2.4M854 838h2.4M881 837h2.4M878 856h2.4M882 828h2.4M862 839h2.4M880 855h2.4M884 848h2.4M874 845h2.4M885 849h2.4M855 827h2.4M865 855h2.4M860 845h2.4M885 856h2.4M872 841h2.4M855 850h2.4M884 838h2.4M867 826h2.4M887 844h2.4M884 833h2.4M868 838h2.4M852 820h2.4M873 832h2.4M883 847h2.4M876 840h2.4M858 841h2.4M876 829h2.4M876 835h2.4M857 845h2.4M882 827h2.4M848 841h2.4M888 822h2.4M882 841h2.4M878 819h2.4M865 821h2.4M888 856h2.4M878 841h2.4M881 824h2.4M889 833h2.4M866 819h2.4M851 853h2.4M856 838h2.4M878 846h2.4M867 845h2.4M883 827h2.4M864 840h2.4M877 840h2.4M849 828h2.4M863 851h2.4M874 829h2.4M889 845h2.4M853 848h2.4M856 851h2.4M880 851h2.4M872 843h2.4M849 829h2.4M853 821h2.4M870 821h2.4M869 825h2.4M856 849h2.4M889 842h2.4M874 826h2.4M866 852h2.4M851 833h2.4M858 827h2.4M854 846h2.4M862 855h2.4M862 845h2.4M863 848h2.4M851 855h2.4M858 846h2.4M862 820h2.4M871 824h2.4M881 827h2.4M850 839h2.4M873 843h2.4M878 821h2.4M879 819h2.4M860 827h2.4M885 829h2.4M879 823h2.4M868 847h2.4M863 827h2.4M870 826h2.4M879 849h2.4M858 821h2.4M864 819h2.4M884 854h2.4M871 842h2.4M884 830h2.4M854 835h2.4M850 831h2.4M869 851h2.4M873 856h2.4M881 855h2.4M885 831h2.4M879 834h2.4M882 843h2.4M882 819h2.4M883 852h2.4M858 850h2.4M859 850h2.4M852 826h2.4M871 828h2.4M886 825h2.4M872 819h2.4M888 826h2.4M852 852h2.4M883 823h2.4M872 854h2.4M890 853h2.4M883 854h2.4M865 845h2.4M884 849h2.4M873 850h2.4M880 853h2.4M886 851h2.4M856 832h2.4M869 819h2.4M860 851h2.4M889 837h2.4M870 823h2.4M871 854h2.4M861 843h2.4M866 845h2.4M855 832h2.4M853 838h2.4M884 832h2.4M862 850h2.4M884 845h2.4M862 853h2.4M851 856h2.4M887 823h2.4M874 851h2.4M876 853h2.4M885 826h2.4M888 833h2.4M880 827h2.4M869 824h2.4M874 824h2.4M866 820h2.4M862 827h2.4M872 821h2.4M857 820h2.4M866 829h2.4M860 837h2.4M858 855h2.4M862 836h2.4M888 838h2.4M890 850h2.4M861 822h2.4M887 830h2.4M851 835h2.4M880 833h2.4M876 852h2.4M873 822h2.4M876 828h2.4M882 852h2.4M868 845h2.4M850 840h2.4M851 826h2.4M880 842h2.4M867 855h2.4M851 851h2.4M853 828h2.4M876 821h2.4M880 830h2.4M881 841h2.4M859 848h2.4M887 848h2.4M852 835h2.4M851 836h2.4M860 839h2.4M884 847h2.4M881 821h2.4M868 834h2.4M878 852h2.4M848 851h2.4M874 839h2.4M888 849h2.4M868 848h2.4M885 838h2.4M874 825h2.4M879 841h2.4M878 836h2.4M850 828h2.4M873 825h2.4M862 834h2.4M854 829h2.4M867 853h2.4M878 823h2.4M864 849h2.4M848 845h2.4M878 828h2.4M849 830h2.4M862 844h2.4M851 825h2.4M878 820h2.4M873 833h2.4M886 840h2.4M877 850h2.4M853 836h2.4M849 847h2.4M886 824h2.4M866 842h2.4M865 832h2.4M873 852h2.4M851 839h2.4M867 833h2.4M856 836h2.4M853 844h2.4M856 846h2.4M883 851h2.4M870 843h2.4M863 839h2.4M853 851h2.4M866 837h2.4M852 838h2.4M856 855h2.4M851 832h2.4M869 822h2.4M875 841h2.4M880 832h2.4M875 831h2.4M877 856h2.4M855 844h2.4M881 828h2.4M850 838h2.4M869 842h2.4M880 831h2.4M882 845h2.4M858 828h2.4M867 851h2.4M885 839h2.4M870 837h2.4M879 820h2.4M872 851h2.4M888 828h2.4M880 843h2.4M854 824h2.4M863 835h2.4M881 854h2.4M867 854h2.4M859 843h2.4M857 821h2.4M866 850h2.4M857 843h2.4M887 820h2.4M869 827h2.4M864 829h2.4M889 827h2.4M860 843h2.4M853 825h2.4M860 840h2.4M853 820h2.4M888 845h2.4M858 833h2.4M857 835h2.4M880 820h2.4M874 848h2.4M886 820h2.4M877 837h2.4M873 821h2.4M852 847h2.4M866 841h2.4M866 851h2.4M881 833h2.4M866 823h2.4M868 825h2.4M863 843h2.4M883 819h2.4M867 846h2.4M850 852h2.4M889 822h2.4M860 846h2.4M868 831h2.4M883 822h2.4M876 820h2.4M873 837h2.4M887 856h2.4M883 845h2.4M864 841h2.4M866 846h2.4M889 843h2.4M854 839h2.4M870 852h2.4M861 834h2.4M877 841h2.4M869 841h2.4M858 822h2.4M866 839h2.4M862 854h2.4M886 827h2.4M850 848h2.4M870 853h2.4M866 821h2.4M864 845h2.4M858 843h2.4M858 844h2.4M889 823h2.4M882 840h2.4M870 836h2.4M875 849h2.4M854 832h2.4M853 843h2.4M889 849h2.4M861 831h2.4M853 847h2.4M865 839h2.4M856 839h2.4M857 819h2.4M869 834h2.4M875 838h2.4M852 822h2.4M888 846h2.4M874 838h2.4M870 831h2.4M885 836h2.4M886 832h2.4M875 824h2.4M884 836h2.4M878 829h2.4M886 828h2.4M890 821h2.4M879 830h2.4M887 841h2.4M864 844h2.4M851 830h2.4M856 826h2.4M859 820h2.4M871 835h2.4M879 855h2.4M886 855h2.4M859 847h2.4M859 831h2.4M867 820h2.4M854 852h2.4M881 820h2.4M857 834h2.4M850 845h2.4M857 842h2.4M848 847h2.4M889 851h2.4M861 837h2.4M848 826h2.4M850 832h2.4M859 822h2.4M883 835h2.4M852 851h2.4M850 850h2.4M867 840h2.4M870 845h2.4M857 851h2.4M870 820h2.4M860 823h2.4M889 835h2.4M872 832h2.4M887 837h2.4M878 842h2.4M858 853h2.4M887 824h2.4M850 846h2.4M854 851h2.4M861 820h2.4M884 821h2.4M849 822h2.4M875 826h2.4M886 853h2.4M862 826h2.4M863 830h2.4M880 852h2.4M874 849h2.4M875 822h2.4M855 828h2.4M853 829h2.4M876 847h2.4M867 839h2.4M875 844h2.4M870 841h2.4M854 836h2.4M869 847h2.4M860 854h2.4M862 830h2.4M849 856h2.4M848 830h2.4M865 856h2.4M868 842h2.4M885 844h2.4M886 823h2.4M882 853h2.4M883 853h2.4M881 850h2.4M876 833h2.4M888 834h2.4M852 853h2.4M864 848h2.4M885 848h2.4M877 831h2.4M882 831h2.4M866 848h2.4M871 844h2.4M877 828h2.4M885 842h2.4M863 823h2.4M849 821h2.4M852 827h2.4M852 825h2.4M872 833h2.4M875 829h2.4M866 828h2.4M852 856h2.4M859 819h2.4M874 821h2.4M868 826h2.4M876 830h2.4M857 856h2.4M871 840h2.4M856 816h2.4M860 838h2.4M878 840h2.4M879 833h2.4M863 852h2.4M888 821h2.4M849 831h2.4M859 827h2.4M868 821h2.4M889 839h2.4M869 837h2.4M859 842h2.4M848 831h2.4M869 812h2.4M849 843h2.4M878 839h2.4M872 848h2.4M881 856h2.4M857 837h2.4M870 814h2.4M858 806h2.4M868 851h2.4M863 815h2.4M867 857h2.4M865 829h2.4M872 836h2.4M879 858h2.4M877 829h2.4M882 864h2.4M867 837h2.4M868 852h2.4M878 851h2.4M889 821h2.4M864 839h2.4M848 836h2.4M882 834h2.4M866 827h2.4M860 856h2.4M858 823h2.4M891 842h2.4M852 816h2.4M864 853h2.4M848 850h2.4M877 853h2.4M876 839h2.4M893 826h2.4M879 866h2.4M864 832h2.4M877 855h2.4M874 831h2.4M868 820h2.4M880 856h2.4M863 841h2.4M868 837h2.4M904 836h2.4M870 840h2.4M856 852h2.4M876 858h2.4M872 826h2.4M877 844h2.4M890 808h2.4M864 842h2.4M880 824h2.4M881 844h2.4M848 872h2.4M857 847h2.4M877 864h2.4M859 834h2.4M865 849h2.4M858 831h2.4M883 859h2.4M890 868h2.4M857 858h2.4M852 837h2.4M848 835h2.4M857 813h2.4M858 842h2.4M848 863h2.4M856 824h2.4M870 834h2.4M869 814h2.4M873 861h2.4M873 847h2.4M874 820h2.4M871 850h2.4M865 857h2.4M857 855h2.4M856 860h2.4M879 827h2.4M852 839h2.4M880 845h2.4M873 828h2.4M848 819h2.4M868 859h2.4M895 843h2.4M879 845h2.4M855 853h2.4M866 849h2.4M879 837h2.4M886 859h2.4M868 833h2.4M879 831h2.4M851 829h2.4M866 830h2.4M852 824h2.4M867 849h2.4M898 835h2.4M901 830h2.4M883 824h2.4M888 848h2.4M870 833h2.4M888 859h2.4M868 844h2.4M863 849h2.4M888 830h2.4M883 843h2.4M885 817h2.4M868 840h2.4M878 832h2.4M860 841h2.4M893 835h2.4M880 850h2.4M869 838h2.4M848 825h2.4M861 838h2.4M874 837h2.4M881 853h2.4M848 856h2.4M872 842h2.4M878 848h2.4M869 826h2.4M860 849h2.4M861 827h2.4M864 833h2.4M869 857h2.4M894 841h2.4M874 827h2.4M859 851h2.4M871 847h2.4M860 844h2.4M876 855h2.4M856 835h2.4M862 823h2.4M873 867h2.4M862 840h2.4M856 867h2.4M854 850h2.4M886 818h2.4M872 839h2.4M870 830h2.4M854 830h2.4M868 849h2.4M892 838h2.4M848 854h2.4M876 815h2.4M851 866h2.4M860 848h2.4M884 824h2.4M878 860h2.4M899 869h2.4M848 821h2.4M875 840h2.4M879 835h2.4M857 844h2.4M869 855h2.4M848 859h2.4M863 842h2.4M849 837h2.4M872 853h2.4M892 832h2.4M861 855h2.4M870 858h2.4M870 822h2.4M871 819h2.4M877 827h2.4M886 836h2.4M880 840h2.4M848 838h2.4M888 818h2.4M855 846h2.4M874 866h2.4M895 848h2.4M875 851h2.4M876 841h2.4M871 831h2.4M855 851h2.4M857 846h2.4M864 820h2.4M895 834h2.4M891 853h2.4M876 846h2.4M863 850h2.4M859 846h2.4M856 842h2.4M848 833h2.4M871 848h2.4M889 834h2.4M876 863h2.4M876 831h2.4M867 822h2.4M848 858h2.4M893 839h2.4M848 844h2.4M848 839h2.4M857 827h2.4M848 857h2.4M853 853h2.4M876 837h2.4M867 842h2.4M873 846h2.4M863 840h2.4M848 812h2.4M893 833h2.4M883 861h2.4M878 864h2.4M871 839h2.4M848 853h2.4M848 865h2.4M861 839h2.4M876 861h2.4M880 859h2.4M854 833h2.4M848 824h2.4M875 833h2.4M877 839h2.4M860 853h2.4M868 836h2.4M852 841h2.4M866 815h2.4M880 872h2.4M850 854h2.4M856 818h2.4M859 829h2.4M872 838h2.4M872 844h2.4M851 850h2.4M870 864h2.4M848 842h2.4M865 844h2.4M852 858h2.4M891 837h2.4M882 847h2.4M869 839h2.4M854 844h2.4M871 816h2.4M868 815h2.4M886 842h2.4M873 830h2.4M890 846h2.4M862 824h2.4M881 819h2.4M872 858h2.4M870 846h2.4M861 826h2.4M872 825h2.4M877 838h2.4M864 872h2.4M852 842h2.4M898 823h2.4M848 852h2.4M876 842h2.4M886 835h2.4M869 850h2.4M863 856h2.4M860 820h2.4M872 827h2.4M853 831h2.4M848 843h2.4M848 827h2.4M881 829h2.4M870 870h2.4M879 826h2.4M878 831h2.4M883 844h2.4M858 824h2.4M877 851h2.4M855 842h2.4M858 815h2.4M879 842h2.4M868 857h2.4M867 829h2.4M848 855h2.4M877 863h2.4M871 836h2.4M865 851h2.4M866 826h2.4M877 843h2.4M851 841h2.4M870 832h2.4M859 849h2.4M860 834h2.4M861 848h2.4M871 830h2.4M864 847h2.4M875 835h2.4M871 833h2.4M877 842h2.4M866 833h2.4M859 844h2.4M861 819h2.4M863 854h2.4M863 838h2.4M849 858h2.4M855 845h2.4M866 863h2.4M887 847h2.4M877 818h2.4M867 831h2.4M883 862h2.4M848 849h2.4M872 856h2.4M886 848h2.4M858 852h2.4M885 860h2.4M895 842h2.4M862 838h2.4M868 829h2.4M849 864h2.4M884 839h2.4M870 835h2.4M872 849h2.4M867 835h2.4M891 828h2.4M857 850h2.4M854 827h2.4M896 867h2.4M851 838h2.4M848 860h2.4M856 863h2.4M848 816h2.4M874 855h2.4M893 823h2.4M861 859h2.4M867 843h2.4M872 855h2.4M867 847h2.4M891 835h2.4M889 825h2.4M867 841h2.4M863 826h2.4M852 860h2.4M869 817h2.4M864 843h2.4M872 864h2.4M875 842h2.4M848 874h2.4M874 862h2.4M879 843h2.4M868 861h2.4M866 835h2.4M861 865h2.4M866 831h2.4M890 829h2.4M881 871h2.4M884 831h2.4M875 828h2.4M878 816h2.4M881 859h2.4M861 844h2.4M851 842h2.4M869 862h2.4M873 836h2.4M854 847h2.4M877 852h2.4M866 854h2.4M858 857h2.4M880 839h2.4M863 844h2.4M849 833h2.4M867 848h2.4M852 854h2.4M865 836h2.4M853 855h2.4M859 830h2.4M889 836h2.4M855 837h2.4M898 866h2.4M886 866h2.4M872 870h2.4M892 844h2.4M848 829h2.4M868 827h2.4M873 872h2.4M852 831h2.4M889 863h2.4M878 855h2.4M883 833h2.4M868 810h2.4M879 824h2.4M872 817h2.4M888 858h2.4M869 853h2.4M871 865h2.4M851 823h2.4M858 848h2.4M851 863h2.4M854 821h2.4M854 857h2.4M867 830h2.4M857 825h2.4M884 819h2.4M872 824h2.4M861 866h2.4M852 865h2.4M850 819h2.4M880 865h2.4M848 832h2.4M861 853h2.4M848 861h2.4M855 810h2.4M876 825h2.4M898 845h2.4M879 825h2.4M860 868h2.4M885 813h2.4M882 859h2.4M872 834h2.4M889 850h2.4M883 842h2.4M853 816h2.4M878 825h2.4M872 822h2.4M892 843h2.4M867 805h2.4M885 857h2.4M868 846h2.4M887 845h2.4M864 851h2.4M862 843h2.4M882 842h2.4M857 830h2.4M858 834h2.4M864 809h2.4M891 866h2.4M891 843h2.4M848 846h2.4M882 844h2.4M896 846h2.4M877 830h2.4M875 839h2.4M881 823h2.4M865 846h2.4M876 827h2.4M855 833h2.4M859 832h2.4M871 827h2.4M859 845h2.4M868 841h2.4M849 845h2.4M873 845h2.4M890 857h2.4M855 831h2.4M852 836h2.4M848 834h2.4M861 886h2.4M869 832h2.4M875 870h2.4M869 877h2.4M854 831h2.4M862 851h2.4M853 824h2.4M848 840h2.4M860 832h2.4M882 830h2.4M848 823h2.4M873 831h2.4M884 834h2.4M866 858h2.4M859 824h2.4M875 836h2.4M867 821h2.4M880 826h2.4M867 874h2.4M848 862h2.4M864 834h2.4M857 809h2.4M852 870h2.4M850 858h2.4M859 835h2.4M867 824h2.4M896 818h2.4M884 857h2.4M876 845h2.4M854 849h2.4M858 825h2.4M858 839h2.4M861 835h2.4M870 818h2.4M874 832h2.4M862 831h2.4M860 830h2.4M878 867h2.4M868 843h2.4M882 857h2.4M875 832h2.4M858 835h2.4M885 810h2.4M872 845h2.4M848 818h2.4M896 836h2.4M895 860h2.4M883 812h2.4M858 869h2.4M883 816h2.4M856 848h2.4M879 862h2.4M877 835h2.4M868 823h2.4M875 860h2.4M860 859h2.4M880 860h2.4M855 826h2.4M861 851h2.4M863 864h2.4M896 849h2.4M877 846h2.4M881 810h2.4M867 856h2.4M874 856h2.4M886 831h2.4M865 830h2.4M882 832h2.4M860 831h2.4M890 824h2.4M876 860h2.4M871 866h2.4M858 875h2.4M877 820h2.4M874 835h2.4M885 822h2.4M873 816h2.4M850 856h2.4M880 866h2.4M861 825h2.4M884 855h2.4M853 862h2.4M873 818h2.4M861 814h2.4M871 860h2.4M850 873h2.4M850 851h2.4M882 868h2.4M861 824h2.4M860 836h2.4M859 803h2.4M886 852h2.4M873 842h2.4M861 833h2.4M864 850h2.4M862 811h2.4M856 840h2.4M856 853h2.4M865 833h2.4M855 838h2.4M848 828h2.4M854 860h2.4M875 830h2.4M876 844h2.4M850 817h2.4M856 821h2.4M856 831h2.4M891 833h2.4M852 828h2.4M852 855h2.4M854 805h2.4M855 847h2.4M892 829h2.4M856 820h2.4M877 836h2.4M886 843h2.4M855 863h2.4M851 847h2.4M890 847h2.4M854 842h2.4M889 816h2.4M853 859h2.4M860 828h2.4M874 840h2.4M866 838h2.4M890 844h2.4M865 868h2.4M854 826h2.4M864 830h2.4M874 828h2.4M879 890h2.4M850 928h2.4M857 913h2.4M874 912h2.4M881 920h2.4M868 909h2.4M883 910h2.4M878 921h2.4M861 918h2.4M900 894h2.4M878 877h2.4M865 903h2.4M873 912h2.4M853 890h2.4M867 899h2.4M865 912h2.4M868 932h2.4M871 915h2.4M859 932h2.4M880 912h2.4M866 916h2.4M880 926h2.4M861 924h2.4M868 899h2.4M864 922h2.4M888 904h2.4M862 911h2.4M863 889h2.4M881 894h2.4M864 911h2.4M865 922h2.4M856 889h2.4M871 908h2.4M855 921h2.4M870 884h2.4M870 918h2.4M876 898h2.4M866 908h2.4M873 898h2.4M867 904h2.4M866 897h2.4M872 925h2.4M883 908h2.4M872 910h2.4M872 893h2.4M849 933h2.4M896 898h2.4M878 914h2.4M882 893h2.4M870 942h2.4M892 892h2.4M868 905h2.4M890 923h2.4M859 918h2.4M867 889h2.4M863 924h2.4M848 934h2.4M876 924h2.4M848 919h2.4M858 885h2.4M859 914h2.4M868 950h2.4M881 933h2.4M876 914h2.4M869 950h2.4M864 891h2.4M873 909h2.4M869 889h2.4M859 908h2.4M864 915h2.4M884 916h2.4M873 904h2.4M853 915h2.4M860 922h2.4M874 908h2.4M877 885h2.4M867 932h2.4M864 914h2.4M865 915h2.4M857 887h2.4M878 918h2.4M879 895h2.4M871 907h2.4M848 888h2.4M873 936h2.4M862 936h2.4M856 920h2.4M877 899h2.4M873 924h2.4M860 899h2.4M867 908h2.4M888 920h2.4M861 912h2.4M878 919h2.4M879 919h2.4M862 934h2.4M884 897h2.4M878 922h2.4M874 921h2.4M866 906h2.4M902 950h2.4M853 945h2.4M876 911h2.4M878 932h2.4M869 918h2.4M884 895h2.4M852 918h2.4M885 904h2.4M873 903h2.4M868 908h2.4M892 884h2.4M861 889h2.4M872 943h2.4M875 908h2.4M867 911h2.4M863 911h2.4M862 903h2.4M875 921h2.4M879 928h2.4M872 940h2.4M874 914h2.4M848 928h2.4M873 908h2.4M851 905h2.4M857 908h2.4M866 907h2.4M891 894h2.4M875 896h2.4M865 928h2.4M857 909h2.4M855 933h2.4M872 922h2.4M867 927h2.4M854 919h2.4M848 930h2.4M861 902h2.4M883 909h2.4M874 902h2.4M863 926h2.4M861 901h2.4M874 905h2.4M851 907h2.4M886 898h2.4M851 924h2.4M863 901h2.4M891 912h2.4M856 919h2.4M864 950h2.4M872 905h2.4M863 908h2.4M890 879h2.4M868 919h2.4M868 927h2.4M879 912h2.4M861 926h2.4M861 900h2.4M866 913h2.4M862 906h2.4M870 928h2.4M860 896h2.4M853 906h2.4M870 919h2.4M863 890h2.4M854 925h2.4M875 922h2.4M878 911h2.4M863 893h2.4M869 906h2.4M856 900h2.4M854 918h2.4M869 932h2.4M876 915h2.4M848 909h2.4M853 888h2.4M856 928h2.4M887 903h2.4M874 923h2.4M871 941h2.4M866 901h2.4M853 896h2.4M867 878h2.4M880 882h2.4M853 900h2.4M863 903h2.4M864 938h2.4M863 921h2.4M857 935h2.4M855 896h2.4M868 888h2.4M873 914h2.4M848 913h2.4M878 895h2.4M872 936h2.4M885 916h2.4M883 895h2.4M866 918h2.4M874 925h2.4M878 905h2.4M864 905h2.4M876 923h2.4M860 917h2.4M864 900h2.4M869 925h2.4M864 896h2.4M889 948h2.4M859 904h2.4M868 911h2.4M865 907h2.4M872 887h2.4M860 933h2.4M864 927h2.4M865 901h2.4M854 916h2.4M871 864h2.4M862 933h2.4M878 920h2.4M858 915h2.4M876 929h2.4M850 927h2.4M888 896h2.4M868 925h2.4M867 924h2.4M869 922h2.4M900 930h2.4M866 898h2.4M873 894h2.4M870 903h2.4M870 894h2.4M880 914h2.4M866 896h2.4M866 903h2.4M865 887h2.4M875 911h2.4M886 926h2.4M853 898h2.4M873 915h2.4M870 908h2.4M875 930h2.4M854 909h2.4M855 888h2.4M858 925h2.4M884 935h2.4M871 906h2.4M867 917h2.4M863 909h2.4M859 903h2.4M869 911h2.4M873 930h2.4M876 920h2.4M860 925h2.4M892 905h2.4M848 880h2.4M881 923h2.4M869 907h2.4M884 902h2.4M876 906h2.4M877 930h2.4M876 928h2.4M865 918h2.4M876 941h2.4M871 916h2.4M862 917h2.4M850 906h2.4M883 900h2.4M860 915h2.4M857 904h2.4M881 890h2.4M848 884h2.4M875 902h2.4M883 884h2.4M871 875h2.4M893 922h2.4M864 901h2.4M868 876h2.4M848 889h2.4M862 891h2.4M883 874h2.4M874 892h2.4M865 899h2.4M870 917h2.4M855 930h2.4M866 924h2.4M872 904h2.4M884 892h2.4M859 937h2.4M882 903h2.4M869 901h2.4M871 909h2.4M856 890h2.4M867 898h2.4M866 937h2.4M871 900h2.4M873 890h2.4M858 913h2.4M858 894h2.4M885 937h2.4M878 892h2.4M849 896h2.4M854 896h2.4M863 915h2.4M892 894h2.4M865 885h2.4M884 925h2.4M872 897h2.4M866 914h2.4M848 910h2.4M874 894h2.4M881 901h2.4M874 924h2.4M875 890h2.4M871 920h2.4M862 892h2.4M869 921h2.4M884 933h2.4M873 882h2.4M883 922h2.4M854 888h2.4M870 893h2.4M848 883h2.4M883 916h2.4M855 907h2.4M862 896h2.4M879 930h2.4M880 904h2.4M882 887h2.4M848 899h2.4M862 923h2.4M856 911h2.4M858 908h2.4M869 912h2.4M877 928h2.4M872 924h2.4M880 903h2.4M888 902h2.4M850 924h2.4M878 908h2.4M855 939h2.4M864 913h2.4M861 933h2.4M872 930h2.4M877 920h2.4M866 905h2.4M861 905h2.4M853 919h2.4M880 911h2.4M848 897h2.4M848 904h2.4M884 888h2.4M862 909h2.4M879 917h2.4M864 886h2.4M869 899h2.4M870 913h2.4M859 910h2.4M867 883h2.4M864 921h2.4M864 887h2.4M885 914h2.4M870 910h2.4M869 923h2.4M870 885h2.4M874 950h2.4M881 913h2.4M862 900h2.4M866 909h2.4M862 914h2.4M861 920h2.4M868 928h2.4M862 932h2.4M866 912h2.4M858 920h2.4M863 929h2.4M867 892h2.4M848 892h2.4M877 910h2.4M879 922h2.4M875 891h2.4M869 894h2.4M884 901h2.4M872 903h2.4M872 934h2.4M871 935h2.4M848 896h2.4M855 913h2.4M855 938h2.4M895 897h2.4M865 919h2.4M853 916h2.4M855 918h2.4M861 917h2.4M859 926h2.4M877 935h2.4M870 892h2.4M868 918h2.4M875 897h2.4M886 895h2.4M867 895h2.4M884 910h2.4M862 895h2.4M873 913h2.4M861 915h2.4M889 910h2.4M852 919h2.4M886 908h2.4M860 919h2.4M865 925h2.4M872 914h2.4M864 923h2.4M870 901h2.4M873 901h2.4M882 912h2.4M867 921h2.4M861 904h2.4M930 912h2.4M914 863h2.4M922 906h2.4M914 896h2.4M922 909h2.4M927 902h2.4M912 923h2.4M918 894h2.4M908 885h2.4M921 877h2.4M923 904h2.4M923 915h2.4M910 889h2.4M914 868h2.4M916 898h2.4M924 904h2.4M919 901h2.4M927 894h2.4M912 899h2.4M929 879h2.4M917 902h2.4M913 880h2.4M925 911h2.4M925 908h2.4M914 881h2.4M924 890h2.4M929 903h2.4M921 894h2.4M905 858h2.4M915 888h2.4M920 904h2.4M912 880h2.4M918 875h2.4M925 895h2.4M930 913h2.4M929 898h2.4M927 922h2.4M920 895h2.4M914 885h2.4M932 909h2.4M919 869h2.4M916 870h2.4M915 916h2.4M928 920h2.4M922 867h2.4M916 920h2.4M911 890h2.4M927 908h2.4M917 873h2.4M919 893h2.4M925 882h2.4M931 907h2.4M917 889h2.4M934 915h2.4M903 868h2.4M920 901h2.4M909 870h2.4M917 903h2.4M916 909h2.4M919 890h2.4M897 867h2.4M920 898h2.4M929 913h2.4M918 890h2.4M927 912h2.4M923 913h2.4M911 844h2.4M930 917h2.4M924 910h2.4M920 899h2.4M917 894h2.4M904 878h2.4M917 910h2.4M926 895h2.4M918 902h2.4M904 869h2.4M912 918h2.4M918 893h2.4M927 913h2.4M906 881h2.4M925 924h2.4M903 875h2.4M915 884h2.4M926 893h2.4M924 914h2.4M900 875h2.4M918 869h2.4M913 887h2.4M931 893h2.4M925 906h2.4M917 909h2.4M910 857h2.4M906 877h2.4M924 897h2.4M930 900h2.4M900 869h2.4M912 894h2.4M901 877h2.4M913 874h2.4M910 905h2.4M923 887h2.4M920 894h2.4M913 866h2.4M914 879h2.4M908 872h2.4M910 874h2.4M924 878h2.4M915 904h2.4M924 884h2.4M921 890h2.4M917 895h2.4M923 894h2.4M916 886h2.4M932 908h2.4M913 896h2.4M923 888h2.4M926 918h2.4M915 875h2.4M911 881h2.4M918 887h2.4M906 883h2.4M922 891h2.4M928 887h2.4M919 885h2.4M918 876h2.4M923 900h2.4M931 923h2.4M927 888h2.4M923 873h2.4M925 910h2.4M919 900h2.4M923 886h2.4M913 857h2.4M919 897h2.4M909 879h2.4M897 892h2.4M923 897h2.4M928 905h2.4M930 887h2.4M945 894h2.4M913 875h2.4M923 910h2.4M932 896h2.4M917 904h2.4M905 874h2.4M926 880h2.4M917 887h2.4M924 882h2.4M915 906h2.4M918 897h2.4M913 900h2.4M908 897h2.4M921 901h2.4M912 895h2.4M947 900h2.4M901 875h2.4M923 884h2.4M921 903h2.4M922 874h2.4M909 883h2.4M910 873h2.4M923 901h2.4M921 876h2.4M919 913h2.4M904 891h2.4M901 896h2.4M922 899h2.4M922 907h2.4M925 888h2.4M924 867h2.4M929 911h2.4M919 875h2.4M920 892h2.4M919 891h2.4M910 892h2.4M924 903h2.4M926 892h2.4M917 882h2.4M915 910h2.4M921 920h2.4M927 890h2.4M922 893h2.4M911 863h2.4M912 875h2.4M922 890h2.4M915 902h2.4M925 889h2.4M912 904h2.4M928 898h2.4M929 877h2.4M914 901h2.4M913 898h2.4M922 904h2.4M922 892h2.4M910 883h2.4M917 891h2.4M919 907h2.4M919 906h2.4M929 891h2.4M919 898h2.4M905 873h2.4M928 894h2.4M923 911h2.4M915 871h2.4M915 885h2.4M921 880h2.4M921 905h2.4M913 890h2.4M926 896h2.4M920 888h2.4M911 896h2.4M920 871h2.4M920 900h2.4M920 893h2.4M929 912h2.4M912 886h2.4M920 878h2.4M924 926h2.4M920 873h2.4M922 903h2.4M930 902h2.4M910 885h2.4M925 891h2.4M916 901h2.4M916 878h2.4M915 897h2.4M924 894h2.4M905 865h2.4M907 875h2.4M913 877h2.4M914 871h2.4M926 911h2.4M912 878h2.4M910 875h2.4M926 889h2.4M906 885h2.4M919 870h2.4M919 911h2.4M909 874h2.4M922 908h2.4M912 911h2.4M921 898h2.4M922 889h2.4M906 895h2.4M932 922h2.4M910 877h2.4M918 874h2.4M913 883h2.4M912 888h2.4M910 869h2.4M916 902h2.4M918 904h2.4M910 858h2.4M928 903h2.4M918 900h2.4M931 926h2.4M902 850h2.4M914 884h2.4M913 891h2.4M911 893h2.4M915 865h2.4M934 893h2.4M911 894h2.4M919 914h2.4M925 897h2.4M911 880h2.4M911 897h2.4M916 893h2.4M925 903h2.4M924 893h2.4M909 880h2.4M916 899h2.4M924 891h2.4M909 882h2.4M928 895h2.4M918 888h2.4M922 895h2.4M915 893h2.4M912 884h2.4M914 877h2.4M921 885h2.4M919 876h2.4M921 921h2.4M928 893h2.4M930 897h2.4M922 896h2.4M932 904h2.4M906 890h2.4M920 903h2.4M922 885h2.4M924 909h2.4M916 884h2.4M923 914h2.4M914 912h2.4M908 905h2.4M907 848h2.4M933 928h2.4M929 895h2.4M931 899h2.4M909 875h2.4M920 886h2.4M935 903h2.4M922 901h2.4M927 907h2.4M913 888h2.4M920 889h2.4M926 894h2.4M924 912h2.4M924 899h2.4M924 879h2.4M907 891h2.4M915 886h2.4M914 892h2.4M922 912h2.4M933 886h2.4M917 888h2.4M915 883h2.4M928 892h2.4M905 875h2.4M907 872h2.4M920 902h2.4M919 889h2.4M931 895h2.4M916 882h2.4M913 892h2.4M937 926h2.4M918 881h2.4M921 881h2.4M924 947h2.4M921 892h2.4M917 874h2.4M904 905h2.4M915 898h2.4M920 911h2.4M904 884h2.4M915 899h2.4M910 884h2.4M909 890h2.4M903 879h2.4M924 901h2.4M933 906h2.4M910 881h2.4M927 905h2.4M917 908h2.4M903 864h2.4M922 887h2.4M930 893h2.4M921 888h2.4M921 909h2.4M918 892h2.4M936 913h2.4M908 880h2.4M914 903h2.4M921 887h2.4M914 882h2.4M924 905h2.4M907 886h2.4M924 895h2.4M916 890h2.4M897 880h2.4M915 889h2.4M912 890h2.4M919 896h2.4M932 920h2.4M913 926h2.4M922 902h2.4M915 892h2.4M933 895h2.4M917 911h2.4M912 877h2.4M913 906h2.4M921 902h2.4M903 876h2.4M921 911h2.4M913 878h2.4M924 900h2.4M911 902h2.4M909 871h2.4M918 891h2.4M930 906h2.4M905 893h2.4M924 870h2.4M905 888h2.4M917 897h2.4M910 890h2.4M919 884h2.4M922 886h2.4M919 892h2.4M907 896h2.4M925 862h2.4M912 885h2.4M914 887h2.4M909 895h2.4M916 889h2.4M908 871h2.4M898 869h2.4M927 916h2.4M920 921h2.4M914 880h2.4M917 912h2.4M922 905h2.4M918 908h2.4M913 910h2.4M911 889h2.4M897 868h2.4M903 837h2.4M911 842h2.4M909 849h2.4M925 854h2.4M914 845h2.4M901 857h2.4M897 835h2.4M928 813h2.4M908 845h2.4M916 859h2.4M903 833h2.4M902 851h2.4M928 852h2.4M910 855h2.4M921 867h2.4M892 847h2.4M926 848h2.4M898 855h2.4M906 848h2.4M939 837h2.4M907 854h2.4M903 851h2.4M901 851h2.4M888 876h2.4M925 847h2.4M934 850h2.4M912 831h2.4M915 836h2.4M903 800h2.4M916 852h2.4M920 825h2.4M912 817h2.4M922 836h2.4M902 855h2.4M901 825h2.4M925 818h2.4M908 844h2.4M908 857h2.4M906 847h2.4M917 865h2.4M919 832h2.4M910 848h2.4M908 818h2.4M913 836h2.4M916 839h2.4M917 827h2.4M899 841h2.4M920 833h2.4M904 828h2.4M882 855h2.4M905 817h2.4M917 847h2.4M936 855h2.4M924 850h2.4M934 848h2.4M901 835h2.4M986 900h2.4M905 890h2.4M1018 923h2.4M955 946h2.4M964 942h2.4M974 885h2.4M970 933h2.4M961 901h2.4M957 839h2.4" stroke="#000" stroke-width="2.4" fill="none"/>
<rect x="423.7" y="395.3" width="90.5" height="80.3" fill="none" stroke="#222" stroke-width="1"/>
<path d="M446.4 395.3V475.6M423.7 455.3H514.2" stroke="#333" stroke-width="0.8" fill="none"/>
<path d="M423.7 475.6v2.2M423.7 475.6h-2.2M430.5 475.6v1.2M423.7 469.6h-1.2M434.5 475.6v1.2M423.7 466h-1.2M437.3 475.6v1.2M423.7 463.5h-1.2M439.5 475.6v1.2M423.7 461.6h-1.2M441.3 475.6v1.2M423.7 460h-1.2M442.8 475.6v1.2M423.7 458.6h-1.2M444.1 475.6v1.2M423.7 457.5h-1.2M445.3 475.6v1.2M423.7 456.4h-1.2M446.3 475.6v2.2M423.7 455.5h-2.2M453.1 475.6v1.2M423.7 449.5h-1.2M457.1 475.6v1.2M423.7 445.9h-1.2M459.9 475.6v1.2M423.7 443.4h-1.2M462.1 475.6v1.2M423.7 441.5h-1.2M463.9 475.6v1.2M423.7 439.9h-1.2M465.4 475.6v1.2M423.7 438.6h-1.2M466.8 475.6v1.2M423.7 437.4h-1.2M467.9 475.6v1.2M423.7 436.4h-1.2M469 475.6v2.2M423.7 435.5h-2.2M475.8 475.6v1.2M423.7 429.4h-1.2M479.7 475.6v1.2M423.7 425.9h-1.2M482.6 475.6v1.2M423.7 423.4h-1.2M484.8 475.6v1.2M423.7 421.4h-1.2M486.6 475.6v1.2M423.7 419.8h-1.2M488.1 475.6v1.2M423.7 418.5h-1.2M489.4 475.6v1.2M423.7 417.3h-1.2M490.5 475.6v1.2M423.7 416.3h-1.2M491.6 475.6v2.2M423.7 415.4h-2.2M498.4 475.6v1.2M423.7 409.3h-1.2M502.4 475.6v1.2M423.7 405.8h-1.2M505.2 475.6v1.2M423.7 403.3h-1.2M507.4 475.6v1.2M423.7 401.3h-1.2M509.2 475.6v1.2M423.7 399.8h-1.2M510.7 475.6v1.2M423.7 398.4h-1.2M512 475.6v1.2M423.7 397.2h-1.2M513.2 475.6v1.2M423.7 396.2h-1.2M514.2 475.6v2.2M423.7 395.3h-2.2" stroke="#333" stroke-width="0.6" fill="none"/>
<text x="424.5" y="485.2" class="r" font-size="7.6" fill="#3a3a3a" text-anchor="middle">10<tspan dy="-3.6" font-size="6">0</tspan></text>
<text transform="translate(418.5 476.8) rotate(-90)" class="r" font-size="7.6" fill="#3a3a3a" text-anchor="middle">10<tspan dy="-3.6" font-size="6">0</tspan></text>
<text x="447.1" y="485.2" class="r" font-size="7.6" fill="#3a3a3a" text-anchor="middle">10<tspan dy="-3.6" font-size="6">1</tspan></text>
<text transform="translate(418.5 456.7) rotate(-90)" class="r" font-size="7.6" fill="#3a3a3a" text-anchor="middle">10<tspan dy="-3.6" font-size="6">1</tspan></text>
<text x="469.8" y="485.2" class="r" font-size="7.6" fill="#3a3a3a" text-anchor="middle">10<tspan dy="-3.6" font-size="6">2</tspan></text>
<text transform="translate(418.5 436.7) rotate(-90)" class="r" font-size="7.6" fill="#3a3a3a" text-anchor="middle">10<tspan dy="-3.6" font-size="6">2</tspan></text>
<text x="492.4" y="485.2" class="r" font-size="7.6" fill="#3a3a3a" text-anchor="middle">10<tspan dy="-3.6" font-size="6">3</tspan></text>
<text transform="translate(418.5 416.6) rotate(-90)" class="r" font-size="7.6" fill="#3a3a3a" text-anchor="middle">10<tspan dy="-3.6" font-size="6">3</tspan></text>
<text x="515" y="485.2" class="r" font-size="7.6" fill="#3a3a3a" text-anchor="middle">10<tspan dy="-3.6" font-size="6">4</tspan></text>
<text transform="translate(418.5 396.5) rotate(-90)" class="r" font-size="7.6" fill="#3a3a3a" text-anchor="middle">10<tspan dy="-3.6" font-size="6">4</tspan></text>
<text x="426" y="401.3" class="b" font-size="6.4" text-anchor="start">86.70</text>
<text x="512" y="401.3" class="b" font-size="6.4" text-anchor="end">9.71</text>
<text x="426" y="474" class="b" font-size="6.4" text-anchor="start">2.65</text>
<text x="512" y="474" class="b" font-size="6.4" text-anchor="end">0.93</text>
<path d="M404.7 456.1V429.6" stroke="#000" stroke-width="1.5"/>
<path d="M404.7 421.4L400.2 430.3H409.2Z"/>
<text transform="translate(399 456.82) rotate(-90)" class="b" font-size="12.2" textLength="36.61" lengthAdjust="spacingAndGlyphs">Thy1.2</text>
<path d="M449.1 490.6H475.7" stroke="#000" stroke-width="1.5"/>
<path d="M483.3 490.6L475 486.4V494.8Z"/>
<text x="451.21" y="506.2" class="b" font-size="11.8" textLength="31.13" lengthAdjust="spacingAndGlyphs">CD19</text>
<path transform="scale(0.5)" d="M588 1217h2.4M632 1203h2.4M619 1217h2.4M596 1195h2.4M636 1141h2.4M618 1203h2.4M605 1208h2.4M616 1183h2.4M617 1189h2.4M624 1205h2.4M601 1217h2.4M605 1202h2.4M606 1217h2.4M599 1177h2.4M617 1160h2.4M608 1209h2.4M634 1162h2.4M589 1179h2.4M617 1213h2.4M603 1217h2.4M601 1205h2.4M630 1217h2.4M602 1159h2.4M604 1183h2.4M600 1178h2.4M604 1205h2.4M627 1217h2.4M632 1148h2.4M625 1213h2.4M623 1192h2.4M606 1183h2.4M603 1189h2.4M619 1216h2.4M634 1201h2.4M624 1179h2.4M616 1211h2.4M593 1211h2.4M611 1184h2.4M630 1198h2.4M610 1214h2.4M602 1163h2.4M623 1217h2.4M603 1201h2.4M611 1201h2.4M626 1198h2.4M621 1214h2.4M606 1204h2.4M605 1192h2.4M629 1178h2.4M621 1192h2.4M604 1199h2.4M602 1160h2.4M626 1212h2.4M604 1167h2.4M597 1217h2.4M597 1180h2.4M639 1150h2.4M594 1174h2.4M602 1148h2.4M613 1166h2.4M591 1202h2.4M597 1204h2.4M599 1217h2.4M594 1201h2.4M595 1217h2.4M588 1188h2.4M613 1186h2.4M608 1184h2.4M603 1202h2.4M638 1206h2.4M617 1181h2.4M598 1197h2.4M610 1217h2.4M607 1217h2.4M589 1217h2.4M593 1200h2.4M608 1193h2.4M622 1175h2.4M618 1161h2.4M590 1213h2.4M630 1173h2.4M619 1188h2.4M634 1204h2.4M637 1187h2.4M638 1182h2.4M636 1212h2.4M590 1217h2.4M614 1215h2.4M598 1187h2.4M593 1217h2.4M610 1142h2.4M622 1199h2.4M649 1189h2.4M618 1187h2.4M603 1212h2.4M612 1144h2.4M609 1216h2.4M625 1217h2.4M603 1168h2.4M616 1171h2.4M630 1191h2.4M622 1204h2.4M623 1205h2.4M617 1200h2.4M599 1159h2.4M588 1187h2.4M643 1217h2.4M621 1201h2.4M621 1217h2.4M594 1197h2.4M604 1129h2.4M613 1217h2.4M603 1171h2.4M631 1182h2.4M607 1185h2.4M607 1200h2.4M642 1170h2.4M615 1191h2.4M645 1159h2.4M599 1197h2.4M613 1206h2.4M614 1170h2.4M623 1141h2.4M597 1176h2.4M608 1199h2.4M661 1217h2.4M610 1202h2.4M631 1209h2.4M608 1151h2.4M588 1207h2.4M627 1193h2.4M648 1203h2.4M594 1207h2.4M605 1186h2.4M634 1216h2.4M611 1217h2.4M603 1178h2.4M628 1162h2.4M617 1184h2.4M606 1195h2.4M600 1170h2.4M591 1197h2.4M613 1194h2.4M613 1170h2.4M616 1215h2.4M589 1189h2.4M610 1188h2.4M599 1181h2.4M592 1172h2.4M588 1199h2.4M596 1209h2.4M612 1204h2.4M621 1195h2.4M604 1197h2.4M625 1175h2.4M616 1217h2.4M620 1157h2.4M605 1166h2.4M614 1193h2.4M605 1217h2.4M591 1157h2.4M620 1174h2.4M620 1210h2.4M611 1196h2.4M608 1205h2.4M597 1172h2.4M628 1194h2.4M602 1205h2.4M593 1193h2.4M604 1217h2.4M596 1217h2.4M624 1204h2.4M606 1207h2.4M604 1182h2.4M614 1217h2.4M609 1217h2.4M609 1204h2.4M591 1195h2.4M609 1182h2.4M590 1183h2.4M615 1211h2.4M636 1149h2.4M636 1216h2.4M615 1158h2.4M621 1164h2.4M621 1166h2.4M603 1180h2.4M637 1196h2.4M633 1190h2.4M609 1149h2.4M629 1185h2.4M625 1180h2.4M588 1202h2.4M626 1143h2.4M633 1186h2.4M614 1208h2.4M616 1169h2.4M626 1217h2.4M612 1198h2.4M601 1207h2.4M620 1182h2.4M588 1162h2.4M618 1199h2.4M605 1146h2.4M596 1172h2.4M603 1199h2.4M617 1206h2.4M603 1195h2.4M618 1217h2.4M616 1154h2.4M596 1173h2.4M617 1167h2.4M623 1199h2.4M621 1184h2.4M638 1166h2.4M608 1217h2.4M622 1168h2.4M600 1186h2.4M622 1214h2.4M604 1179h2.4M612 1201h2.4M645 1195h2.4M608 1170h2.4M613 1184h2.4M619 1191h2.4M598 1173h2.4M601 1193h2.4M588 1177h2.4M608 1163h2.4M619 1186h2.4M619 1199h2.4M622 1166h2.4M607 1163h2.4M601 1191h2.4M602 1189h2.4M617 1217h2.4M618 1216h2.4M601 1185h2.4M624 1181h2.4M617 1196h2.4M612 1182h2.4M623 1165h2.4M589 1140h2.4M610 1179h2.4M611 1162h2.4M611 1195h2.4M594 1164h2.4M625 1177h2.4M615 1217h2.4M596 1169h2.4M601 1179h2.4M615 1213h2.4M604 1191h2.4M622 1217h2.4M602 1213h2.4M625 1208h2.4M612 1200h2.4M594 1190h2.4M598 1182h2.4M614 1185h2.4M627 1172h2.4M623 1176h2.4M608 1178h2.4M608 1207h2.4M595 1204h2.4M619 1176h2.4M604 1209h2.4M609 1193h2.4M611 1197h2.4M588 1157h2.4M621 1209h2.4M588 1190h2.4M620 1213h2.4M625 1211h2.4M634 1187h2.4M630 1176h2.4M610 1216h2.4M588 1192h2.4M624 1171h2.4M634 1186h2.4M595 1201h2.4M618 1175h2.4M612 1203h2.4M626 1215h2.4M594 1157h2.4M588 1160h2.4M618 1196h2.4M610 1174h2.4M611 1185h2.4M609 1207h2.4M610 1208h2.4M635 1188h2.4M612 1191h2.4M613 1139h2.4M627 1209h2.4M589 1197h2.4M605 1199h2.4M626 1188h2.4M628 1217h2.4M604 1206h2.4M620 1209h2.4M622 1153h2.4M615 1207h2.4M620 1206h2.4M629 1180h2.4M624 1186h2.4M616 1185h2.4M598 1184h2.4M629 1209h2.4M621 1199h2.4M610 1155h2.4M610 1178h2.4M613 1158h2.4M621 1202h2.4M588 1184h2.4M599 1202h2.4M647 1182h2.4M604 1169h2.4M599 1201h2.4M608 1210h2.4M615 1195h2.4M610 1206h2.4M602 1194h2.4M599 1203h2.4M619 1214h2.4M609 1177h2.4M603 1209h2.4M602 1200h2.4M615 1214h2.4M598 1217h2.4M605 1204h2.4M599 1185h2.4M588 1200h2.4M636 1172h2.4M630 1205h2.4M595 1158h2.4M611 1186h2.4M626 1183h2.4M634 1214h2.4M604 1208h2.4M617 1205h2.4M603 1183h2.4M594 1169h2.4M615 1209h2.4M602 1214h2.4M594 1183h2.4M605 1194h2.4M609 1175h2.4M628 1188h2.4M634 1217h2.4M627 1184h2.4M669 1194h2.4M621 1177h2.4M588 1189h2.4M630 1213h2.4M607 1210h2.4M625 1189h2.4M590 1202h2.4M614 1206h2.4M620 1217h2.4M610 1203h2.4M605 1215h2.4M602 1161h2.4M594 1184h2.4M595 1186h2.4M611 1199h2.4M622 1200h2.4M625 1193h2.4M618 1197h2.4M590 1187h2.4M600 1211h2.4M613 1202h2.4M588 1205h2.4M625 1148h2.4M636 1217h2.4M626 1203h2.4M606 1171h2.4M618 1200h2.4M614 1175h2.4M588 1204h2.4M594 1195h2.4M596 1197h2.4M603 1191h2.4M615 1194h2.4M590 1132h2.4M603 1154h2.4M594 1217h2.4M608 1194h2.4M633 1160h2.4M626 1193h2.4M588 1169h2.4M612 1202h2.4M597 1215h2.4M607 1204h2.4M593 1192h2.4M636 1161h2.4M614 1192h2.4M624 1201h2.4M641 1176h2.4M590 1198h2.4M608 1216h2.4M606 1179h2.4M624 1212h2.4M590 1170h2.4M609 1213h2.4M607 1187h2.4M598 1205h2.4M633 1217h2.4M614 1190h2.4M627 1189h2.4M601 1210h2.4M621 1216h2.4M589 1187h2.4M606 1200h2.4M613 1169h2.4M591 1171h2.4M612 1152h2.4M597 1198h2.4M623 1172h2.4M618 1172h2.4M616 1192h2.4M632 1179h2.4M629 1213h2.4M593 1164h2.4M614 1205h2.4M592 1204h2.4M598 1204h2.4M604 1211h2.4M621 1160h2.4M617 1198h2.4M601 1212h2.4M588 1203h2.4M636 1207h2.4M628 1180h2.4M606 1177h2.4M607 1191h2.4M627 1180h2.4M629 1183h2.4M638 1185h2.4M602 1201h2.4M610 1182h2.4M624 1210h2.4M627 1166h2.4M627 1153h2.4M616 1187h2.4M601 1206h2.4M597 1183h2.4M627 1196h2.4M627 1215h2.4M603 1174h2.4M630 1171h2.4M590 1204h2.4M633 1180h2.4M619 1206h2.4M631 1204h2.4M620 1170h2.4M618 1168h2.4M623 1191h2.4M632 1206h2.4M619 1205h2.4M639 1179h2.4M627 1210h2.4M600 1212h2.4M610 1181h2.4M608 1200h2.4M604 1178h2.4M613 1196h2.4M626 1207h2.4M599 1196h2.4M608 1204h2.4M617 1157h2.4M594 1202h2.4M607 1214h2.4M600 1153h2.4M648 1217h2.4M623 1148h2.4M595 1165h2.4M633 1169h2.4M613 1198h2.4M615 1203h2.4M626 1204h2.4M616 1208h2.4M604 1147h2.4M620 1191h2.4M624 1173h2.4M609 1180h2.4M598 1169h2.4M609 1181h2.4M623 1206h2.4M621 1187h2.4M620 1192h2.4M592 1176h2.4M610 1210h2.4M611 1180h2.4M614 1186h2.4M614 1160h2.4M619 1204h2.4M645 1192h2.4M601 1216h2.4M613 1213h2.4M618 1152h2.4M611 1189h2.4M632 1216h2.4M595 1195h2.4M626 1173h2.4M617 1192h2.4M610 1195h2.4M588 1185h2.4M608 1179h2.4M588 1161h2.4M612 1175h2.4M642 1187h2.4M616 1172h2.4M618 1194h2.4M624 1217h2.4M609 1214h2.4M629 1203h2.4M635 1177h2.4M634 1180h2.4M616 1210h2.4M588 1143h2.4M611 1192h2.4M607 1172h2.4M598 1198h2.4M588 1213h2.4M608 1191h2.4M602 1217h2.4M620 1203h2.4M608 1169h2.4M632 1163h2.4M599 1210h2.4M630 1166h2.4M600 1217h2.4M605 1189h2.4M600 1148h2.4M607 1170h2.4M601 1151h2.4M599 1150h2.4M612 1217h2.4M605 1198h2.4M610 1193h2.4M606 1203h2.4M612 1205h2.4M600 1190h2.4M611 1181h2.4M605 1201h2.4M605 1178h2.4M635 1180h2.4M613 1200h2.4M619 1208h2.4M590 1203h2.4M595 1191h2.4M621 1149h2.4M622 1209h2.4M592 1217h2.4M626 1182h2.4M595 1212h2.4M601 1149h2.4M601 1203h2.4M623 1203h2.4M628 1157h2.4M626 1176h2.4M597 1199h2.4M596 1202h2.4M626 1167h2.4M636 1191h2.4M588 1182h2.4M622 1191h2.4M622 1207h2.4M607 1161h2.4M616 1167h2.4M610 1205h2.4M616 1181h2.4M588 1150h2.4M602 1180h2.4M597 1196h2.4M609 1196h2.4M612 1146h2.4M615 1177h2.4M612 1211h2.4M588 1195h2.4M606 1185h2.4M603 1141h2.4M614 1203h2.4M600 1194h2.4M603 1186h2.4M618 1184h2.4M646 1206h2.4M591 1205h2.4M623 1143h2.4M621 1179h2.4M609 1189h2.4M592 1190h2.4M610 1170h2.4M625 1199h2.4M624 1188h2.4M617 1190h2.4M606 1211h2.4M612 1180h2.4M602 1210h2.4M599 1194h2.4M616 1151h2.4M625 1188h2.4M601 1214h2.4M621 1212h2.4M614 1207h2.4M596 1179h2.4M624 1191h2.4M629 1205h2.4M606 1173h2.4M612 1186h2.4M616 1178h2.4M634 1193h2.4M651 1185h2.4M606 1206h2.4M629 1216h2.4M588 1186h2.4M617 1168h2.4M614 1214h2.4M632 1194h2.4M607 1174h2.4M610 1189h2.4M591 1174h2.4M639 1217h2.4M624 1161h2.4M609 1202h2.4M588 1181h2.4M590 1208h2.4M620 1214h2.4M612 1155h2.4M617 1178h2.4M601 1188h2.4M588 1166h2.4M600 1185h2.4M588 1193h2.4M616 1209h2.4M627 1208h2.4M620 1151h2.4M641 1200h2.4M609 1183h2.4M618 1182h2.4M616 1161h2.4M625 1207h2.4M621 1197h2.4M613 1199h2.4M640 1202h2.4M593 1182h2.4M622 1188h2.4M603 1196h2.4M614 1182h2.4M607 1162h2.4M618 1169h2.4M614 1187h2.4M616 1207h2.4M610 1158h2.4M625 1195h2.4M633 1168h2.4M627 1201h2.4M614 1204h2.4M636 1174h2.4M628 1204h2.4M597 1192h2.4M605 1196h2.4M629 1179h2.4M602 1216h2.4M606 1202h2.4M591 1217h2.4M620 1211h2.4M588 1180h2.4M623 1200h2.4M607 1176h2.4M610 1200h2.4M622 1193h2.4M602 1178h2.4M606 1184h2.4M615 1180h2.4M602 1164h2.4M602 1190h2.4M618 1204h2.4M602 1187h2.4M611 1165h2.4M626 1172h2.4M596 1193h2.4M600 1181h2.4M624 1214h2.4M588 1179h2.4M629 1181h2.4M623 1187h2.4M623 1169h2.4M617 1203h2.4M590 1182h2.4M602 1206h2.4M602 1196h2.4M624 1216h2.4M637 1197h2.4M619 1197h2.4M588 1191h2.4M634 1172h2.4M608 1201h2.4M603 1175h2.4M624 1192h2.4M603 1214h2.4M621 1211h2.4M642 1188h2.4M613 1182h2.4M605 1213h2.4M623 1181h2.4M606 1132h2.4M603 1156h2.4M629 1200h2.4M613 1179h2.4M605 1205h2.4M601 1186h2.4M619 1192h2.4M627 1181h2.4M589 1163h2.4M612 1190h2.4M607 1183h2.4M634 1161h2.4M600 1197h2.4M621 1215h2.4M604 1202h2.4M616 1190h2.4M614 1184h2.4M610 1198h2.4M622 1183h2.4M610 1199h2.4M603 1200h2.4M609 1203h2.4M604 1189h2.4M605 1210h2.4M611 1166h2.4M596 1152h2.4M600 1174h2.4M609 1190h2.4M605 1177h2.4M634 1191h2.4M615 1215h2.4M592 1188h2.4M620 1212h2.4M608 1167h2.4M614 1210h2.4M595 1166h2.4M617 1211h2.4M612 1195h2.4M632 1155h2.4M597 1213h2.4M620 1194h2.4M598 1185h2.4M653 1186h2.4M650 1190h2.4M621 1172h2.4M622 1186h2.4M623 1210h2.4M613 1178h2.4M616 1205h2.4M617 1170h2.4M628 1205h2.4M591 1201h2.4M608 1202h2.4M632 1160h2.4M614 1172h2.4M620 1175h2.4M619 1189h2.4M612 1181h2.4M638 1173h2.4M631 1201h2.4M627 1200h2.4M599 1188h2.4M615 1182h2.4M607 1181h2.4M595 1196h2.4M608 1197h2.4M610 1163h2.4M607 1205h2.4M629 1217h2.4M608 1185h2.4M593 1153h2.4M609 1174h2.4M591 1192h2.4M626 1171h2.4M600 1187h2.4M602 1204h2.4M591 1203h2.4M619 1198h2.4M640 1179h2.4M621 1158h2.4M605 1195h2.4M599 1176h2.4M590 1209h2.4M604 1215h2.4M629 1175h2.4M614 1179h2.4M597 1205h2.4M611 1206h2.4M613 1214h2.4M612 1160h2.4M617 1169h2.4M602 1197h2.4M628 1206h2.4M616 1201h2.4M596 1200h2.4M609 1187h2.4M615 1170h2.4M618 1156h2.4M604 1210h2.4M611 1154h2.4M626 1169h2.4M590 1156h2.4M612 1149h2.4M604 1207h2.4M588 1168h2.4M590 1180h2.4M615 1151h2.4M614 1213h2.4M615 1187h2.4M612 1185h2.4M606 1189h2.4M638 1202h2.4M609 1186h2.4M596 1208h2.4M633 1170h2.4M611 1171h2.4M634 1199h2.4M606 1162h2.4M627 1163h2.4M601 1143h2.4M596 1206h2.4M618 1202h2.4M620 1168h2.4M588 1172h2.4M633 1165h2.4M608 1175h2.4M623 1166h2.4M604 1161h2.4M616 1196h2.4M606 1186h2.4M607 1180h2.4M641 1217h2.4M592 1213h2.4M616 1200h2.4M640 1177h2.4M617 1194h2.4M607 1190h2.4M600 1206h2.4M597 1166h2.4M588 1171h2.4M602 1149h2.4M606 1213h2.4M604 1181h2.4M618 1176h2.4M650 1217h2.4M612 1178h2.4M618 1181h2.4M615 1183h2.4M614 1183h2.4M598 1188h2.4M606 1140h2.4M604 1192h2.4M593 1163h2.4M619 1183h2.4M624 1199h2.4M606 1196h2.4M595 1193h2.4M621 1210h2.4M610 1176h2.4M605 1176h2.4M609 1163h2.4M605 1187h2.4M619 1184h2.4M600 1193h2.4M602 1192h2.4M603 1204h2.4M621 1200h2.4M621 1174h2.4M620 1187h2.4M598 1159h2.4M593 1198h2.4M616 1197h2.4M626 1131h2.4M619 1179h2.4M620 1193h2.4M613 1185h2.4M601 1197h2.4M607 1207h2.4M593 1209h2.4M604 1160h2.4M598 1180h2.4M606 1181h2.4M616 1173h2.4M619 1180h2.4M641 1169h2.4M612 1187h2.4M605 1173h2.4M615 1216h2.4M595 1161h2.4M596 1201h2.4M617 1199h2.4M591 1207h2.4M588 1212h2.4M637 1206h2.4M624 1200h2.4M596 1199h2.4M605 1197h2.4M602 1175h2.4M604 1194h2.4M637 1204h2.4M623 1190h2.4M626 1146h2.4M639 1213h2.4M631 1217h2.4M626 1177h2.4M619 1178h2.4M625 1167h2.4M605 1214h2.4M592 1185h2.4M629 1158h2.4M605 1162h2.4M610 1161h2.4M602 1182h2.4M611 1183h2.4M608 1154h2.4M589 1198h2.4M601 1202h2.4M607 1208h2.4M604 1196h2.4M624 1196h2.4M616 1194h2.4M615 1190h2.4M592 1183h2.4M625 1164h2.4M596 1187h2.4M623 1216h2.4M615 1179h2.4M634 1211h2.4M600 1205h2.4M609 1212h2.4M601 1187h2.4M613 1174h2.4M593 1166h2.4M611 1156h2.4M598 1191h2.4M591 1212h2.4M614 1157h2.4M624 1183h2.4M617 1151h2.4M592 1216h2.4M598 1202h2.4M638 1188h2.4M597 1216h2.4M624 1190h2.4M615 1208h2.4M608 1182h2.4M604 1186h2.4M650 1201h2.4M608 1158h2.4M642 1172h2.4M605 1200h2.4M630 1189h2.4M632 1185h2.4M634 1185h2.4M615 1199h2.4M605 1185h2.4M618 1198h2.4M607 1209h2.4M632 1168h2.4M593 1151h2.4M622 1194h2.4M626 1184h2.4M596 1168h2.4M610 1207h2.4M618 1179h2.4M622 1197h2.4M624 1213h2.4M634 1198h2.4M595 1170h2.4M588 1154h2.4M603 1185h2.4M619 1212h2.4M634 1205h2.4M603 1190h2.4M588 1178h2.4M610 1192h2.4M596 1211h2.4M613 1210h2.4M598 1195h2.4M624 1157h2.4M617 1177h2.4M613 1176h2.4M612 1208h2.4M608 1164h2.4M614 1169h2.4M620 1171h2.4M616 1166h2.4M608 1203h2.4M606 1157h2.4M599 1198h2.4M594 1188h2.4M589 1184h2.4M627 1183h2.4M603 1193h2.4M627 1164h2.4M597 1179h2.4M594 1178h2.4M588 1194h2.4M616 1189h2.4M628 1209h2.4M614 1174h2.4M613 1207h2.4M603 1198h2.4M605 1207h2.4M629 1160h2.4M590 1188h2.4M643 1209h2.4M615 1160h2.4M592 1182h2.4M641 1171h2.4M621 1205h2.4M644 1164h2.4M629 1202h2.4M633 1199h2.4M628 1200h2.4M633 1203h2.4M643 1183h2.4M591 1199h2.4M611 1213h2.4M641 1208h2.4M589 1191h2.4M620 1202h2.4M596 1190h2.4M609 1205h2.4M622 1190h2.4M612 1167h2.4M626 1151h2.4M629 1188h2.4M633 1212h2.4M617 1158h2.4M623 1185h2.4M608 1136h2.4M640 1164h2.4M592 1191h2.4M623 1196h2.4M593 1189h2.4M605 1209h2.4M618 1189h2.4M602 1209h2.4M614 1209h2.4M616 1179h2.4M618 1213h2.4M597 1207h2.4M613 1195h2.4M620 1172h2.4M628 1213h2.4M627 1179h2.4M612 1173h2.4M605 1161h2.4M610 1180h2.4M597 1202h2.4M604 1188h2.4M614 1202h2.4M631 1199h2.4M635 1152h2.4M595 1177h2.4M621 1168h2.4M597 1188h2.4M620 1196h2.4M609 1185h2.4M613 1160h2.4M634 1149h2.4M610 1211h2.4M616 1195h2.4M608 1189h2.4M603 1187h2.4M607 1189h2.4M591 1167h2.4M595 1214h2.4M609 1201h2.4M617 1215h2.4M603 1158h2.4M618 1165h2.4M593 1201h2.4M617 1204h2.4M625 1182h2.4M624 1174h2.4M588 1206h2.4M610 1213h2.4M593 1174h2.4M651 1207h2.4M625 1168h2.4M625 1156h2.4M594 1173h2.4M610 1209h2.4M637 1167h2.4M625 1205h2.4M616 1203h2.4M597 1210h2.4M601 1198h2.4M588 1170h2.4M597 1193h2.4M594 1160h2.4M607 1182h2.4M621 1190h2.4M628 1199h2.4M634 1175h2.4M630 1172h2.4M598 1168h2.4M643 1215h2.4M625 1151h2.4M624 1168h2.4M625 1197h2.4M604 1162h2.4M598 1179h2.4M616 1165h2.4M608 1190h2.4M615 1204h2.4M614 1194h2.4M616 1199h2.4M612 1194h2.4M588 1201h2.4M590 1177h2.4M626 1192h2.4M638 1176h2.4M617 1187h2.4M615 1192h2.4M597 1186h2.4M634 1200h2.4M614 1196h2.4M603 1143h2.4M604 1201h2.4M635 1199h2.4M618 1186h2.4M619 1211h2.4M615 1165h2.4M615 1186h2.4M615 1173h2.4M588 1209h2.4M610 1194h2.4M595 1187h2.4M598 1196h2.4M619 1151h2.4M628 1203h2.4M594 1199h2.4M612 1174h2.4M614 1173h2.4M635 1198h2.4M588 1163h2.4M609 1200h2.4M593 1167h2.4M620 1190h2.4M619 1173h2.4M617 1180h2.4M644 1190h2.4M612 1157h2.4M619 1215h2.4M625 1202h2.4M608 1183h2.4M621 1156h2.4M595 1198h2.4M609 1209h2.4M608 1155h2.4M614 1163h2.4M622 1215h2.4M613 1172h2.4M615 1200h2.4M631 1193h2.4M640 1171h2.4M611 1159h2.4M610 1190h2.4M591 1183h2.4M630 1174h2.4M596 1182h2.4M610 1171h2.4M596 1181h2.4M630 1202h2.4M607 1211h2.4M611 1178h2.4M593 1149h2.4M615 1202h2.4M595 1180h2.4M606 1216h2.4M606 1167h2.4M624 1185h2.4M624 1148h2.4M588 1173h2.4M600 1176h2.4M593 1179h2.4M609 1178h2.4M595 1192h2.4M592 1210h2.4M593 1196h2.4M597 1206h2.4M640 1167h2.4M622 1171h2.4M615 1159h2.4M632 1217h2.4M596 1174h2.4M595 1183h2.4M611 1207h2.4M616 1162h2.4M599 1184h2.4M632 1177h2.4M605 1165h2.4M591 1180h2.4M617 1216h2.4M618 1173h2.4M603 1213h2.4M627 1186h2.4M628 1184h2.4M610 1183h2.4M605 1190h2.4M598 1181h2.4M616 1155h2.4M609 1192h2.4M625 1169h2.4M588 1183h2.4M607 1175h2.4M637 1181h2.4M595 1209h2.4M619 1187h2.4M606 1208h2.4M613 1147h2.4M640 1196h2.4M613 1197h2.4M626 1190h2.4M594 1177h2.4M632 1197h2.4M600 1195h2.4M622 1189h2.4M605 1193h2.4M611 1158h2.4M614 1168h2.4M627 1199h2.4M629 1147h2.4M604 1172h2.4M620 1208h2.4M624 1203h2.4M603 1203h2.4M616 1157h2.4M608 1186h2.4M596 1163h2.4M623 1171h2.4M616 1144h2.4M620 1199h2.4M616 1176h2.4M598 1189h2.4M620 1195h2.4M605 1191h2.4M602 1184h2.4M611 1200h2.4M608 1198h2.4M595 1200h2.4M638 1171h2.4M623 1163h2.4M600 1210h2.4M614 1147h2.4M631 1168h2.4M609 1176h2.4M592 1186h2.4M611 1193h2.4M603 1182h2.4M600 1161h2.4M628 1170h2.4M588 1176h2.4M614 1191h2.4M595 1197h2.4M601 1208h2.4M650 1200h2.4M619 1154h2.4M598 1207h2.4M595 1215h2.4M639 1192h2.4M596 1194h2.4M621 1176h2.4M625 1204h2.4M617 1155h2.4M613 1181h2.4M596 1176h2.4M610 1186h2.4M616 1164h2.4M601 1182h2.4M619 1190h2.4M612 1199h2.4M618 1193h2.4M623 1157h2.4M629 1143h2.4M632 1192h2.4M601 1211h2.4M602 1174h2.4M621 1206h2.4M605 1142h2.4M609 1197h2.4M623 1195h2.4M593 1215h2.4M604 1174h2.4M617 1209h2.4M634 1188h2.4M588 1208h2.4M617 1195h2.4M608 1213h2.4M622 1132h2.4M602 1181h2.4M606 1201h2.4M631 1205h2.4M610 1184h2.4M602 1176h2.4M592 1177h2.4M629 1186h2.4M629 1151h2.4M613 1152h2.4M605 1180h2.4M612 1176h2.4M590 1215h2.4M615 1206h2.4M637 1217h2.4M617 1197h2.4M612 1171h2.4M607 1206h2.4M601 1169h2.4M607 1192h2.4M621 1169h2.4M601 1171h2.4M607 1177h2.4M589 1177h2.4M612 1158h2.4M600 1179h2.4M613 1187h2.4M617 1166h2.4M650 1205h2.4M628 1198h2.4M619 1210h2.4M629 1174h2.4M594 1170h2.4M623 1188h2.4M603 1207h2.4M624 1187h2.4M627 1130h2.4M614 1177h2.4M625 1176h2.4M625 1201h2.4M615 1156h2.4M603 1194h2.4M599 1128h2.4M594 1211h2.4M589 1204h2.4M630 1190h2.4M590 1178h2.4M595 1176h2.4M623 1202h2.4M588 1196h2.4M622 1198h2.4M595 1185h2.4M589 1196h2.4M634 1166h2.4M604 1158h2.4M590 1193h2.4M603 1157h2.4M613 1189h2.4M617 1188h2.4M616 1193h2.4M626 1145h2.4M594 1191h2.4M606 1150h2.4M620 1167h2.4M639 1168h2.4M610 1151h2.4M635 1201h2.4M607 1215h2.4M610 1212h2.4M636 1159h2.4M604 1170h2.4M615 1197h2.4M601 1181h2.4M597 1197h2.4M594 1200h2.4M612 1212h2.4M605 1183h2.4M627 1171h2.4M605 1181h2.4M592 1205h2.4M635 1217h2.4M621 1188h2.4M626 1179h2.4M606 1205h2.4M648 1179h2.4M610 1146h2.4M611 1190h2.4M588 1210h2.4M609 1206h2.4M605 1212h2.4M635 1183h2.4M611 1172h2.4M606 1188h2.4M615 1198h2.4M626 1148h2.4M626 1180h2.4M602 1215h2.4M633 1193h2.4M615 1201h2.4M598 1194h2.4M594 1212h2.4M614 1198h2.4M613 1177h2.4M638 1217h2.4M624 1175h2.4M588 1198h2.4M588 1216h2.4M641 1207h2.4M610 1191h2.4M601 1173h2.4M625 1215h2.4M623 1182h2.4M594 1204h2.4M609 1191h2.4M594 1208h2.4M596 1203h2.4M594 1193h2.4M596 1131h2.4M590 1162h2.4M612 1213h2.4M611 1182h2.4M590 1154h2.4M596 1183h2.4M605 1211h2.4M600 1192h2.4M618 1183h2.4M601 1189h2.4M611 1210h2.4M608 1171h2.4M620 1164h2.4M601 1204h2.4M609 1165h2.4M615 1161h2.4M603 1172h2.4M604 1190h2.4M606 1197h2.4M619 1172h2.4M633 1167h2.4M617 1179h2.4M599 1190h2.4M599 1215h2.4M622 1196h2.4M616 1174h2.4M639 1184h2.4M638 1203h2.4M589 1178h2.4M628 1134h2.4M620 1200h2.4M617 1212h2.4M632 1157h2.4M622 1163h2.4M601 1176h2.4M603 1197h2.4M614 1188h2.4M589 1205h2.4M611 1205h2.4M626 1201h2.4M606 1191h2.4M603 1206h2.4M600 1214h2.4M638 1193h2.4M639 1180h2.4M615 1188h2.4M615 1172h2.4M611 1198h2.4M625 1185h2.4M618 1209h2.4M641 1143h2.4M610 1149h2.4M635 1168h2.4M598 1163h2.4M593 1133h2.4M601 1195h2.4M632 1172h2.4M606 1165h2.4M596 1188h2.4M588 1214h2.4M631 1176h2.4M598 1214h2.4M592 1149h2.4M613 1162h2.4M636 1186h2.4M638 1164h2.4M651 1195h2.4M625 1187h2.4M613 1193h2.4M610 1166h2.4M600 1209h2.4M614 1216h2.4M626 1195h2.4M633 1187h2.4M631 1188h2.4M592 1198h2.4M614 1156h2.4M614 1195h2.4M622 1180h2.4M620 1201h2.4M603 1162h2.4M601 1168h2.4M625 1200h2.4M612 1170h2.4M623 1173h2.4M637 1184h2.4M617 1171h2.4M611 1179h2.4M588 1197h2.4M631 1213h2.4M603 1167h2.4M621 1167h2.4M610 1197h2.4M594 1171h2.4M595 1184h2.4M613 1190h2.4M614 1167h2.4M618 1170h2.4M600 1215h2.4M639 1183h2.4M623 1164h2.4M610 1215h2.4M600 1199h2.4M592 1199h2.4M615 1210h2.4M606 1172h2.4M635 1184h2.4M607 1178h2.4M600 1154h2.4M604 1176h2.4M596 1192h2.4M621 1180h2.4M620 1162h2.4M619 1194h2.4M640 1180h2.4M614 1199h2.4M631 1165h2.4M593 1177h2.4M640 1172h2.4M600 1189h2.4M602 1171h2.4M643 1143h2.4M608 1187h2.4M633 1213h2.4M623 1184h2.4M593 1207h2.4M614 1161h2.4M626 1186h2.4M627 1195h2.4M628 1189h2.4M595 1179h2.4M609 1158h2.4M613 1204h2.4M601 1192h2.4M606 1176h2.4M591 1213h2.4M627 1159h2.4M599 1163h2.4M610 1152h2.4M600 1184h2.4M623 1213h2.4M626 1157h2.4M594 1192h2.4M632 1207h2.4M614 1197h2.4M608 1161h2.4M603 1173h2.4M632 1200h2.4M604 1185h2.4M629 1197h2.4M618 1185h2.4M596 1196h2.4M590 1210h2.4M607 1212h2.4M613 1212h2.4M617 1172h2.4M620 1198h2.4M620 1204h2.4M604 1175h2.4M623 1177h2.4M601 1160h2.4M610 1204h2.4M606 1199h2.4M602 1186h2.4M599 1208h2.4M591 1198h2.4M604 1165h2.4M601 1180h2.4M588 1164h2.4M605 1206h2.4M606 1174h2.4M593 1178h2.4M596 1186h2.4M598 1176h2.4M611 1191h2.4M633 1178h2.4M628 1141h2.4M602 1212h2.4M606 1180h2.4M617 1150h2.4M631 1179h2.4M618 1178h2.4M619 1201h2.4M590 1161h2.4M616 1214h2.4M598 1201h2.4M591 1162h2.4M613 1161h2.4M637 1175h2.4M629 1176h2.4M643 1162h2.4M618 1155h2.4M613 1183h2.4M603 1192h2.4M621 1145h2.4M632 1211h2.4M597 1140h2.4M608 1215h2.4M602 1208h2.4M626 1163h2.4M601 1200h2.4M601 1190h2.4M616 1216h2.4M601 1178h2.4M629 1193h2.4M593 1190h2.4M596 1177h2.4M602 1207h2.4M595 1206h2.4M623 1193h2.4M626 1211h2.4M590 1146h2.4M606 1164h2.4M616 1212h2.4M644 1171h2.4M600 1164h2.4M609 1168h2.4M594 1180h2.4M590 1160h2.4M627 1173h2.4M618 1188h2.4M615 1164h2.4M626 1133h2.4M597 1208h2.4M608 1211h2.4M619 1158h2.4M616 1213h2.4M618 1177h2.4M591 1169h2.4M606 1193h2.4M614 1151h2.4M597 1181h2.4M610 1172h2.4M608 1214h2.4M639 1196h2.4M611 1203h2.4M606 1192h2.4M615 1166h2.4M636 1204h2.4M606 1215h2.4M615 1196h2.4M604 1204h2.4M617 1186h2.4M636 1151h2.4M630 1193h2.4M620 1184h2.4M601 1165h2.4M609 1170h2.4M621 1198h2.4M635 1185h2.4M625 1171h2.4M630 1145h2.4M620 1197h2.4M624 1176h2.4M616 1204h2.4M620 1177h2.4M596 1150h2.4M633 1181h2.4M619 1213h2.4M620 1215h2.4M613 1175h2.4M589 1214h2.4M620 1180h2.4M609 1210h2.4M601 1196h2.4M602 1173h2.4M597 1189h2.4M611 1146h2.4M629 1162h2.4M626 1202h2.4M588 1211h2.4M598 1199h2.4M613 1211h2.4M639 1216h2.4M614 1171h2.4M606 1166h2.4M632 1208h2.4M602 1177h2.4M592 1173h2.4M617 1207h2.4M612 1193h2.4M621 1189h2.4M610 1169h2.4M619 1196h2.4M608 1192h2.4M628 1174h2.4M596 1185h2.4M599 1171h2.4M601 1162h2.4M604 1203h2.4M600 1191h2.4M618 1192h2.4M618 1212h2.4M617 1193h2.4M611 1194h2.4M604 1198h2.4M637 1185h2.4M611 1188h2.4M632 1164h2.4M601 1183h2.4M604 1164h2.4M603 1211h2.4M601 1138h2.4M598 1167h2.4M614 1200h2.4M611 1168h2.4M613 1201h2.4M644 1172h2.4M612 1206h2.4M629 1161h2.4M632 1213h2.4M599 1195h2.4M632 1186h2.4M628 1207h2.4M617 1201h2.4M628 1212h2.4M613 1205h2.4M611 1202h2.4M598 1200h2.4M605 1159h2.4M598 1165h2.4M607 1199h2.4M602 1183h2.4M600 1200h2.4M621 1157h2.4M612 1169h2.4M620 1188h2.4M591 1188h2.4M614 1178h2.4M637 1165h2.4M594 1166h2.4M615 1155h2.4M627 1148h2.4M599 1211h2.4M603 1161h2.4M597 1201h2.4M660 1189h2.4M593 1169h2.4M632 1193h2.4M636 1197h2.4M624 1209h2.4M598 1157h2.4M637 1191h2.4M629 1206h2.4M622 1179h2.4M589 1206h2.4M593 1161h2.4M599 1179h2.4M595 1169h2.4M594 1104h2.4M637 1163h2.4M624 1195h2.4M629 1208h2.4M597 1156h2.4M630 1199h2.4M601 1148h2.4M589 1194h2.4M645 1193h2.4M592 1163h2.4M601 1172h2.4M603 1188h2.4M599 1174h2.4M608 1168h2.4M591 1216h2.4M603 1215h2.4M597 1182h2.4M607 1216h2.4M624 1184h2.4M634 1159h2.4M590 1207h2.4M597 1163h2.4M638 1211h2.4M609 1195h2.4M594 1172h2.4M613 1167h2.4M629 1201h2.4M624 1197h2.4M594 1198h2.4M597 1155h2.4M615 1163h2.4M619 1207h2.4M601 1164h2.4M638 1199h2.4M624 1159h2.4M644 1185h2.4M595 1213h2.4M591 1178h2.4M610 1173h2.4M612 1214h2.4M622 1162h2.4M615 1205h2.4M591 1189h2.4M621 1143h2.4M602 1142h2.4M637 1212h2.4M627 1214h2.4M609 1164h2.4M600 1202h2.4M617 1138h2.4M618 1160h2.4M594 1216h2.4M627 1205h2.4M640 1217h2.4M616 1188h2.4M622 1174h2.4M601 1177h2.4M627 1150h2.4M632 1196h2.4M632 1181h2.4M613 1150h2.4M608 1212h2.4M605 1216h2.4M617 1210h2.4M619 1120h2.4M604 1195h2.4M621 1171h2.4M606 1198h2.4M630 1181h2.4M596 1216h2.4M613 1146h2.4M631 1190h2.4M638 1191h2.4M589 1166h2.4M628 1178h2.4M600 1165h2.4M622 1167h2.4M602 1199h2.4M625 1216h2.4M631 1177h2.4M633 1216h2.4M623 1179h2.4M626 1170h2.4M630 1196h2.4M615 1193h2.4M627 1216h2.4M596 1160h2.4M611 1142h2.4M608 1176h2.4M627 1165h2.4M636 1183h2.4M609 1173h2.4M603 1208h2.4M622 1178h2.4M623 1168h2.4M601 1215h2.4M636 1196h2.4M589 1152h2.4M634 1178h2.4M604 1171h2.4M588 1165h2.4M593 1187h2.4M619 1165h2.4M634 1158h2.4M607 1202h2.4M593 1203h2.4M598 1203h2.4M592 1193h2.4M627 1185h2.4M591 1190h2.4M616 1198h2.4M614 1180h2.4M598 1178h2.4M593 1208h2.4M614 1181h2.4M594 1150h2.4M615 1189h2.4M595 1173h2.4M616 1175h2.4M629 1157h2.4M633 1214h2.4M591 1184h2.4M596 1213h2.4M607 1213h2.4M636 1202h2.4M589 1208h2.4M612 1153h2.4M614 1159h2.4M598 1212h2.4M605 1163h2.4M625 1191h2.4M619 1174h2.4M600 1175h2.4M642 1214h2.4M608 1208h2.4M608 1188h2.4M608 1159h2.4M593 1214h2.4M626 1155h2.4M604 1173h2.4M628 1196h2.4M649 1077h2.4M674 1079h2.4M688 1079h2.4M672 1089h2.4M675 1084h2.4M657 1085h2.4M626 1094h2.4M679 1092h2.4M680 1080h2.4M664 1096h2.4M676 1083h2.4M685 1071h2.4M671 1093h2.4M672 1083h2.4M687 1078h2.4M671 1091h2.4M653 1078h2.4M678 1083h2.4M669 1078h2.4M642 1096h2.4M680 1085h2.4M651 1089h2.4M687 1090h2.4M665 1083h2.4M664 1083h2.4M671 1087h2.4M660 1092h2.4M656 1071h2.4M663 1076h2.4M668 1085h2.4M673 1093h2.4M680 1090h2.4M680 1086h2.4M657 1071h2.4M684 1090h2.4M667 1080h2.4M650 1084h2.4M671 1084h2.4M674 1083h2.4M654 1091h2.4M660 1077h2.4M667 1090h2.4M669 1099h2.4M652 1096h2.4M675 1092h2.4M673 1087h2.4M676 1090h2.4M680 1084h2.4M670 1087h2.4M660 1085h2.4M665 1073h2.4M662 1083h2.4M658 1089h2.4M671 1079h2.4M671 1096h2.4M652 1078h2.4M674 1080h2.4M666 1082h2.4M666 1086h2.4M669 1092h2.4M670 1080h2.4M679 1083h2.4M671 1082h2.4M664 1090h2.4M684 1079h2.4M658 1088h2.4M650 1077h2.4M673 1084h2.4M661 1087h2.4M643 1094h2.4M672 1087h2.4M700 1080h2.4M662 1075h2.4M663 1082h2.4M677 1086h2.4M675 1089h2.4M683 1081h2.4M666 1087h2.4M663 1079h2.4M663 1087h2.4M671 1090h2.4M679 1081h2.4M662 1079h2.4M648 1085h2.4M669 1084h2.4M675 1080h2.4M648 1090h2.4M673 1075h2.4M672 1093h2.4M681 1089h2.4M661 1078h2.4M661 1083h2.4M684 1092h2.4M662 1088h2.4M670 1074h2.4M675 1079h2.4M653 1081h2.4M665 1091h2.4M674 1084h2.4M668 1088h2.4M687 1088h2.4M669 1091h2.4M675 1083h2.4M655 1079h2.4M670 1086h2.4M665 1092h2.4M680 1097h2.4M654 1089h2.4M658 1083h2.4M656 1076h2.4M661 1088h2.4M668 1082h2.4M644 1095h2.4M670 1094h2.4M666 1075h2.4M683 1092h2.4M687 1092h2.4M651 1080h2.4M665 1095h2.4M659 1091h2.4M712 1092h2.4M675 1093h2.4M665 1088h2.4M667 1082h2.4M652 1093h2.4M662 1094h2.4M684 1089h2.4M657 1081h2.4M661 1081h2.4M681 1077h2.4M667 1081h2.4M672 1085h2.4M673 1090h2.4M675 1090h2.4M657 1089h2.4M661 1084h2.4M672 1081h2.4M653 1085h2.4M673 1076h2.4M647 1085h2.4M683 1079h2.4M669 1087h2.4M693 1079h2.4M645 1093h2.4M677 1084h2.4M664 1078h2.4M673 1085h2.4M668 1077h2.4M664 1087h2.4M661 1077h2.4M668 1092h2.4M668 1078h2.4M663 1093h2.4M681 1098h2.4M656 1095h2.4M664 1079h2.4M672 1098h2.4M665 1081h2.4M663 1083h2.4M680 1076h2.4M660 1075h2.4M679 1082h2.4M653 1090h2.4M658 1091h2.4M665 1069h2.4M685 1074h2.4M672 1082h2.4M678 1082h2.4M669 1080h2.4M656 1086h2.4M665 1079h2.4M654 1087h2.4M667 1091h2.4M687 1082h2.4M647 1098h2.4M662 1089h2.4M681 1084h2.4M689 1086h2.4M682 1082h2.4M678 1072h2.4M680 1092h2.4M678 1077h2.4M658 1100h2.4M674 1085h2.4M667 1086h2.4M674 1088h2.4M697 1068h2.4M661 1082h2.4M668 1076h2.4M659 1074h2.4M646 1092h2.4M657 1084h2.4M657 1099h2.4M678 1096h2.4M677 1093h2.4M682 1076h2.4M661 1095h2.4M670 1077h2.4M658 1079h2.4M679 1089h2.4M669 1083h2.4M667 1092h2.4M675 1096h2.4M663 1089h2.4M671 1075h2.4M686 1091h2.4M674 1086h2.4M649 1082h2.4M671 1100h2.4M681 1076h2.4M668 1090h2.4M662 1076h2.4M659 1073h2.4M684 1085h2.4M665 1097h2.4M677 1077h2.4M677 1082h2.4M663 1086h2.4M658 1067h2.4M686 1085h2.4M641 1087h2.4M663 1088h2.4M665 1093h2.4M684 1086h2.4M647 1068h2.4M669 1088h2.4M665 1089h2.4M668 1086h2.4M666 1089h2.4M650 1088h2.4M658 1078h2.4M662 1074h2.4M681 1091h2.4M690 1080h2.4M660 1099h2.4M684 1078h2.4M668 1071h2.4M659 1089h2.4M676 1089h2.4M678 1069h2.4M676 1095h2.4M676 1103h2.4M675 1071h2.4M666 1085h2.4M654 1084h2.4M675 1082h2.4M632 1084h2.4M657 1090h2.4M650 1092h2.4M662 1090h2.4M682 1086h2.4M662 1097h2.4M670 1075h2.4M679 1077h2.4M659 1083h2.4M671 1085h2.4M653 1077h2.4M661 1098h2.4M659 1094h2.4M669 1081h2.4M677 1076h2.4M685 1094h2.4M677 1081h2.4M686 1086h2.4M686 1088h2.4M680 1091h2.4M665 1099h2.4M671 1089h2.4M679 1096h2.4M657 1072h2.4M680 1089h2.4M669 1077h2.4M666 1081h2.4M673 1086h2.4M678 1087h2.4M683 1098h2.4M659 1084h2.4M688 1093h2.4M652 1083h2.4M661 1085h2.4M646 1086h2.4M631 1085h2.4M628 1073h2.4M608 1095h2.4M631 1070h2.4M624 1065h2.4M588 1083h2.4M627 1072h2.4M639 1084h2.4M614 1078h2.4M606 1073h2.4M625 1084h2.4M624 1074h2.4M601 1069h2.4M634 1084h2.4M609 1078h2.4M611 1072h2.4M625 1086h2.4M613 1085h2.4M622 1073h2.4M639 1074h2.4M625 1075h2.4M631 1077h2.4M615 1084h2.4M627 1074h2.4M629 1089h2.4M612 1061h2.4M608 1072h2.4M641 1070h2.4M609 1079h2.4M605 1074h2.4M634 1076h2.4M616 1082h2.4M618 1067h2.4M632 1066h2.4M610 1066h2.4M612 1078h2.4M639 1076h2.4M643 1077h2.4M604 1084h2.4M635 1067h2.4M617 1070h2.4M633 1073h2.4M606 1075h2.4M633 1085h2.4M622 1070h2.4M629 1085h2.4M612 1075h2.4M627 1085h2.4M627 1086h2.4M634 1083h2.4M626 1066h2.4M620 1070h2.4M620 1083h2.4M621 1071h2.4M637 1089h2.4M623 1085h2.4M603 1076h2.4M640 1090h2.4M632 1063h2.4M626 1068h2.4M621 1087h2.4M622 1082h2.4M620 1065h2.4M610 1075h2.4M609 1085h2.4M623 1073h2.4M636 1093h2.4M635 1083h2.4M638 1082h2.4M611 1082h2.4M617 1079h2.4M596 1076h2.4M644 1078h2.4M614 1074h2.4M621 1097h2.4M624 1089h2.4M615 1083h2.4M607 1092h2.4M618 1076h2.4M622 1095h2.4M608 1084h2.4M610 1081h2.4M608 1089h2.4M642 1075h2.4M597 1066h2.4M606 1084h2.4M619 1074h2.4M615 1082h2.4M632 1083h2.4M623 1081h2.4M610 1071h2.4M616 1077h2.4M622 1072h2.4M621 1079h2.4M629 1083h2.4M625 1080h2.4M601 1073h2.4M607 1090h2.4M634 1075h2.4M637 1064h2.4M633 1080h2.4M615 1070h2.4M624 1072h2.4M620 1074h2.4M634 1062h2.4M628 1078h2.4M630 1086h2.4M588 1078h2.4M609 1077h2.4M620 1084h2.4M631 1071h2.4M645 1080h2.4M625 1074h2.4M615 1092h2.4M607 1085h2.4M624 1079h2.4M600 1070h2.4M627 1078h2.4M639 1081h2.4M627 1093h2.4M617 1072h2.4M629 1078h2.4M633 1071h2.4M613 1083h2.4M621 1083h2.4M638 1086h2.4M608 1069h2.4M619 1078h2.4M627 1076h2.4M611 1076h2.4M618 1097h2.4M652 1073h2.4M629 1080h2.4M624 1080h2.4M618 1078h2.4M618 1068h2.4M613 1074h2.4M619 1089h2.4M632 1068h2.4M610 1065h2.4M614 1109h2.4M603 1120h2.4M607 1153h2.4M621 1117h2.4M634 1110h2.4M594 1071h2.4M640 1115h2.4M624 1116h2.4M605 1110h2.4M610 1074h2.4M591 1099h2.4M612 1125h2.4M619 1142h2.4M605 1078h2.4M613 1113h2.4M628 1117h2.4M614 1103h2.4M605 1075h2.4M610 1112h2.4M598 1087h2.4M605 1077h2.4M609 1108h2.4M602 1097h2.4M601 1112h2.4M613 1101h2.4M596 1140h2.4M599 1109h2.4M592 1128h2.4M611 1115h2.4M627 1118h2.4M629 1120h2.4M635 1123h2.4M595 1136h2.4M613 1098h2.4M612 1120h2.4M609 1128h2.4M604 1096h2.4M594 1107h2.4M616 1119h2.4M603 1107h2.4M615 1102h2.4M601 1129h2.4M603 1091h2.4M616 1121h2.4M626 1098h2.4M609 1100h2.4M608 1132h2.4M616 1062h2.4M613 1126h2.4M628 1120h2.4M608 1114h2.4M588 1122h2.4M592 1099h2.4M634 1138h2.4M623 1096h2.4M588 1104h2.4M626 1135h2.4M599 1112h2.4M605 1100h2.4M612 1108h2.4M609 1126h2.4M612 1123h2.4M595 1123h2.4M626 1116h2.4M604 1128h2.4M619 1128h2.4M643 1092h2.4M621 1100h2.4M600 1146h2.4M625 1099h2.4M607 1119h2.4M610 1130h2.4M611 1109h2.4M596 1091h2.4M598 1082h2.4M588 1118h2.4M627 1121h2.4M638 1088h2.4M629 1117h2.4M591 1104h2.4M604 1094h2.4M588 1116h2.4M620 1132h2.4M627 1104h2.4M628 1102h2.4M632 1124h2.4M669 1217h2.4M667 1201h2.4M686 1209h2.4M659 1207h2.4M696 1202h2.4M654 1175h2.4M666 1177h2.4M670 1186h2.4M646 1191h2.4M679 1214h2.4M658 1191h2.4M647 1187h2.4M647 1160h2.4M664 1215h2.4M668 1204h2.4M666 1193h2.4M656 1188h2.4M646 1216h2.4M646 1201h2.4M686 1208h2.4M654 1194h2.4M652 1190h2.4M664 1207h2.4M674 1190h2.4M669 1215h2.4M671 1202h2.4M668 1198h2.4M643 1201h2.4M654 1182h2.4M672 1210h2.4M668 1194h2.4M661 1188h2.4M662 1202h2.4M667 1217h2.4M639 1187h2.4M633 1208h2.4M672 1186h2.4M648 1200h2.4M682 1204h2.4M661 1197h2.4M658 1207h2.4M665 1204h2.4M671 1190h2.4M668 1175h2.4M638 1201h2.4M670 1207h2.4M656 1204h2.4M652 1196h2.4M648 1205h2.4M686 1188h2.4M669 1200h2.4M647 1193h2.4M660 1187h2.4M672 1183h2.4M678 1204h2.4M650 1173h2.4M655 1205h2.4M664 1188h2.4M663 1171h2.4M641 1181h2.4M669 1192h2.4M662 1185h2.4M674 1184h2.4M659 1194h2.4M662 1175h2.4M653 1200h2.4M668 1190h2.4M667 1178h2.4M667 1194h2.4M652 1210h2.4M675 1199h2.4M668 1203h2.4M660 1192h2.4M678 1202h2.4M652 1193h2.4M657 1179h2.4M644 1179h2.4M645 1188h2.4M679 1180h2.4M651 1192h2.4M671 1198h2.4M640 1213h2.4M662 1207h2.4M655 1188h2.4M679 1194h2.4M670 1205h2.4M645 1217h2.4M670 1192h2.4M659 1199h2.4M675 1200h2.4M668 1181h2.4M658 1204h2.4M672 1177h2.4M677 1201h2.4M646 1197h2.4M633 1171h2.4M654 1190h2.4M661 1195h2.4M663 1203h2.4M663 1195h2.4M669 1201h2.4M676 1217h2.4M670 1193h2.4M658 1206h2.4M666 1182h2.4M635 1190h2.4M665 1192h2.4M668 1192h2.4M651 1184h2.4M649 1198h2.4M683 1186h2.4M645 1194h2.4M682 1195h2.4M662 1190h2.4M664 1181h2.4M662 1200h2.4M655 1190h2.4M683 1209h2.4M647 1175h2.4M669 1204h2.4M676 1194h2.4M670 1206h2.4M672 1209h2.4M640 1207h2.4M670 1188h2.4M641 1202h2.4M662 1198h2.4M654 1202h2.4M677 1190h2.4M673 1193h2.4M671 1200h2.4M690 1184h2.4M691 1181h2.4M657 1186h2.4M670 1208h2.4M679 1183h2.4M665 1205h2.4M675 1195h2.4M679 1192h2.4M656 1179h2.4M680 1193h2.4M657 1181h2.4M675 1206h2.4M672 1208h2.4M656 1200h2.4M648 1207h2.4M670 1197h2.4M684 1190h2.4M685 1194h2.4M663 1204h2.4M654 1195h2.4M688 1210h2.4M651 1194h2.4M680 1192h2.4M648 1204h2.4M650 1198h2.4M677 1146h2.4M653 1209h2.4M675 1205h2.4M678 1192h2.4M665 1196h2.4M666 1206h2.4M657 1216h2.4M661 1175h2.4M649 1170h2.4M691 1200h2.4M673 1184h2.4M673 1194h2.4M663 1181h2.4M663 1187h2.4M681 1181h2.4M660 1204h2.4M669 1193h2.4M688 1202h2.4M652 1171h2.4M649 1195h2.4M668 1176h2.4M672 1194h2.4M650 1185h2.4M667 1206h2.4M694 1185h2.4M658 1188h2.4M676 1182h2.4M650 1148h2.4M664 1127h2.4M682 1162h2.4M676 1121h2.4M648 1170h2.4M621 1114h2.4M676 1112h2.4M654 1111h2.4M656 1137h2.4M624 1083h2.4M680 1137h2.4M647 1078h2.4M714 1142h2.4M657 1168h2.4M640 1152h2.4M656 1127h2.4M670 1129h2.4M705 1108h2.4M618 1114h2.4M659 1153h2.4M655 1126h2.4M657 1132h2.4M602 1153h2.4M651 1175h2.4M649 1169h2.4M675 1117h2.4M660 1151h2.4M631 1127h2.4M675 1163h2.4M667 1136h2.4M637 1168h2.4M661 1136h2.4M684 1197h2.4M656 1157h2.4M662 1160h2.4M665 1136h2.4M686 1103h2.4M629 1140h2.4M660 1135h2.4M650 1109h2.4M643 1106h2.4M656 1118h2.4M633 1149h2.4M676 1146h2.4M653 1117h2.4M654 1150h2.4M644 1114h2.4M657 1148h2.4M631 1132h2.4M637 1088h2.4M655 1107h2.4M647 1111h2.4M670 1105h2.4M686 1117h2.4M681 1125h2.4M613 1188h2.4M666 1180h2.4M680 1121h2.4M611 1105h2.4M687 1163h2.4M690 1120h2.4M651 1132h2.4M651 1151h2.4M659 1134h2.4M662 1161h2.4M666 1152h2.4M691 1121h2.4M646 1152h2.4M721 1140h2.4M700 1174h2.4M694 1153h2.4M677 1094h2.4M676 1168h2.4M689 1108h2.4M672 1161h2.4M661 1117h2.4M673 1137h2.4M616 1142h2.4M646 1138h2.4M653 1111h2.4M672 1117h2.4M689 1181h2.4M622 1131h2.4M647 1102h2.4M712 1201h2.4M678 1149h2.4M760 1212h2.4M700 1132h2.4M707 1126h2.4M704 1150h2.4M647 1123h2.4M660 1073h2.4M689 1200h2.4M686 1201h2.4M743 1056h2.4M756 1126h2.4M719 1066h2.4" stroke="#000" stroke-width="2.4" fill="none"/>
<rect x="294" y="527.2" width="89.1" height="82" fill="none" stroke="#222" stroke-width="1"/>
<path d="M317.5 527.2V609.2M294 588.5H383.1" stroke="#333" stroke-width="0.8" fill="none"/>
<path d="M294 609.2v2.2M294 609.2h-2.2M300.7 609.2v1.2M294 603h-1.2M304.6 609.2v1.2M294 599.4h-1.2M307.4 609.2v1.2M294 596.9h-1.2M309.6 609.2v1.2M294 594.9h-1.2M311.3 609.2v1.2M294 593.2h-1.2M312.8 609.2v1.2M294 591.9h-1.2M314.1 609.2v1.2M294 590.7h-1.2M315.3 609.2v1.2M294 589.6h-1.2M316.3 609.2v2.2M294 588.7h-2.2M323 609.2v1.2M294 582.5h-1.2M326.9 609.2v1.2M294 578.9h-1.2M329.7 609.2v1.2M294 576.4h-1.2M331.8 609.2v1.2M294 574.4h-1.2M333.6 609.2v1.2M294 572.7h-1.2M335.1 609.2v1.2M294 571.4h-1.2M336.4 609.2v1.2M294 570.2h-1.2M337.5 609.2v1.2M294 569.1h-1.2M338.6 609.2v2.2M294 568.2h-2.2M345.3 609.2v1.2M294 562h-1.2M349.2 609.2v1.2M294 558.4h-1.2M352 609.2v1.2M294 555.9h-1.2M354.1 609.2v1.2M294 553.9h-1.2M355.9 609.2v1.2M294 552.2h-1.2M357.4 609.2v1.2M294 550.9h-1.2M358.7 609.2v1.2M294 549.7h-1.2M359.8 609.2v1.2M294 548.6h-1.2M360.8 609.2v2.2M294 547.7h-2.2M367.5 609.2v1.2M294 541.5h-1.2M371.5 609.2v1.2M294 537.9h-1.2M374.2 609.2v1.2M294 535.4h-1.2M376.4 609.2v1.2M294 533.4h-1.2M378.2 609.2v1.2M294 531.7h-1.2M379.6 609.2v1.2M294 530.4h-1.2M380.9 609.2v1.2M294 529.2h-1.2M382.1 609.2v1.2M294 528.1h-1.2M383.1 609.2v2.2M294 527.2h-2.2" stroke="#333" stroke-width="0.6" fill="none"/>
<text x="294.8" y="618.8" class="r" font-size="7.6" fill="#3a3a3a" text-anchor="middle">10<tspan dy="-3.6" font-size="6">0</tspan></text>
<text transform="translate(288.8 610.4) rotate(-90)" class="r" font-size="7.6" fill="#3a3a3a" text-anchor="middle">10<tspan dy="-3.6" font-size="6">0</tspan></text>
<text x="317.1" y="618.8" class="r" font-size="7.6" fill="#3a3a3a" text-anchor="middle">10<tspan dy="-3.6" font-size="6">1</tspan></text>
<text transform="translate(288.8 589.9) rotate(-90)" class="r" font-size="7.6" fill="#3a3a3a" text-anchor="middle">10<tspan dy="-3.6" font-size="6">1</tspan></text>
<text x="339.4" y="618.8" class="r" font-size="7.6" fill="#3a3a3a" text-anchor="middle">10<tspan dy="-3.6" font-size="6">2</tspan></text>
<text transform="translate(288.8 569.4) rotate(-90)" class="r" font-size="7.6" fill="#3a3a3a" text-anchor="middle">10<tspan dy="-3.6" font-size="6">2</tspan></text>
<text x="361.6" y="618.8" class="r" font-size="7.6" fill="#3a3a3a" text-anchor="middle">10<tspan dy="-3.6" font-size="6">3</tspan></text>
<text transform="translate(288.8 548.9) rotate(-90)" class="r" font-size="7.6" fill="#3a3a3a" text-anchor="middle">10<tspan dy="-3.6" font-size="6">3</tspan></text>
<text x="383.9" y="618.8" class="r" font-size="7.6" fill="#3a3a3a" text-anchor="middle">10<tspan dy="-3.6" font-size="6">4</tspan></text>
<text transform="translate(288.8 528.4) rotate(-90)" class="r" font-size="7.6" fill="#3a3a3a" text-anchor="middle">10<tspan dy="-3.6" font-size="6">4</tspan></text>
<text x="296" y="533.8" class="b" font-size="6.4" text-anchor="start">9. 80</text>
<text x="381" y="533.8" class="b" font-size="6.4" text-anchor="end">2.64</text>
<text x="381" y="607.5" class="b" font-size="6.4" text-anchor="end">1.27</text>
<path d="M275 589.7V563.2" stroke="#000" stroke-width="1.5"/>
<path d="M275 555L270.5 563.9H279.5Z"/>
<text transform="translate(267.8 582.94) rotate(-90)" class="b" font-size="12.2" textLength="21.42" lengthAdjust="spacingAndGlyphs">Gr.1</text>
<path d="M319.4 624.2H346" stroke="#000" stroke-width="1.5"/>
<path d="M353.6 624.2L345.3 620V628.4Z"/>
<text x="320.40" y="640.8" class="b" font-size="11.8" textLength="30.72" lengthAdjust="spacingAndGlyphs">Mac1</text>
<path transform="scale(0.5)" d="M872 1219h2.4M862 1201h2.4M866 1209h2.4M868 1199h2.4M876 1205h2.4M876 1219h2.4M849 1214h2.4M879 1202h2.4M863 1200h2.4M866 1211h2.4M865 1213h2.4M860 1214h2.4M867 1206h2.4M854 1189h2.4M854 1205h2.4M882 1219h2.4M849 1219h2.4M878 1185h2.4M861 1202h2.4M851 1189h2.4M865 1195h2.4M886 1186h2.4M878 1186h2.4M849 1209h2.4M856 1202h2.4M891 1206h2.4M870 1171h2.4M873 1203h2.4M867 1178h2.4M875 1219h2.4M888 1215h2.4M855 1206h2.4M854 1177h2.4M862 1207h2.4M858 1191h2.4M875 1209h2.4M868 1208h2.4M889 1198h2.4M881 1195h2.4M857 1206h2.4M867 1219h2.4M863 1193h2.4M868 1218h2.4M866 1183h2.4M861 1206h2.4M866 1219h2.4M874 1167h2.4M868 1195h2.4M869 1218h2.4M860 1203h2.4M867 1205h2.4M869 1184h2.4M868 1219h2.4M895 1180h2.4M880 1177h2.4M855 1193h2.4M865 1210h2.4M877 1216h2.4M871 1218h2.4M881 1203h2.4M864 1208h2.4M849 1182h2.4M866 1179h2.4M872 1163h2.4M859 1218h2.4M849 1217h2.4M849 1188h2.4M854 1206h2.4M849 1191h2.4M849 1212h2.4M883 1193h2.4M856 1200h2.4M886 1189h2.4M885 1211h2.4M877 1200h2.4M872 1194h2.4M887 1185h2.4M875 1196h2.4M863 1199h2.4M856 1191h2.4M876 1191h2.4M882 1202h2.4M856 1219h2.4M863 1173h2.4M882 1201h2.4M849 1210h2.4M858 1207h2.4M883 1178h2.4M853 1186h2.4M849 1145h2.4M881 1211h2.4M865 1197h2.4M852 1168h2.4M878 1210h2.4M872 1180h2.4M875 1191h2.4M849 1202h2.4M853 1192h2.4M874 1203h2.4M858 1201h2.4M875 1214h2.4M849 1204h2.4M869 1196h2.4M861 1216h2.4M872 1187h2.4M870 1211h2.4M871 1203h2.4M859 1206h2.4M878 1207h2.4M871 1219h2.4M849 1200h2.4M858 1219h2.4M881 1199h2.4M873 1201h2.4M849 1175h2.4M868 1191h2.4M886 1174h2.4M873 1212h2.4M870 1182h2.4M858 1178h2.4M880 1201h2.4M878 1205h2.4M872 1189h2.4M876 1192h2.4M877 1207h2.4M858 1212h2.4M857 1214h2.4M858 1199h2.4M875 1210h2.4M877 1211h2.4M863 1219h2.4M865 1191h2.4M882 1200h2.4M866 1193h2.4M874 1190h2.4M859 1205h2.4M859 1171h2.4M860 1188h2.4M855 1212h2.4M887 1196h2.4M888 1195h2.4M853 1205h2.4M875 1199h2.4M852 1174h2.4M851 1208h2.4M889 1214h2.4M865 1202h2.4M872 1212h2.4M872 1217h2.4M873 1194h2.4M872 1210h2.4M882 1210h2.4M877 1219h2.4M882 1162h2.4M870 1202h2.4M858 1208h2.4M885 1203h2.4M874 1213h2.4M880 1219h2.4M857 1200h2.4M853 1179h2.4M876 1196h2.4M872 1175h2.4M854 1199h2.4M863 1210h2.4M866 1177h2.4M866 1197h2.4M859 1200h2.4M849 1192h2.4M861 1208h2.4M850 1185h2.4M863 1207h2.4M852 1217h2.4M873 1216h2.4M861 1205h2.4M887 1210h2.4M856 1195h2.4M852 1194h2.4M861 1162h2.4M857 1174h2.4M876 1200h2.4M890 1207h2.4M882 1199h2.4M856 1184h2.4M864 1190h2.4M878 1201h2.4M874 1178h2.4M886 1180h2.4M857 1219h2.4M877 1210h2.4M872 1207h2.4M874 1219h2.4M875 1188h2.4M868 1204h2.4M862 1209h2.4M849 1216h2.4M887 1198h2.4M875 1193h2.4M849 1207h2.4M849 1170h2.4M864 1204h2.4M863 1211h2.4M863 1190h2.4M883 1202h2.4M871 1191h2.4M868 1179h2.4M850 1203h2.4M849 1198h2.4M867 1194h2.4M870 1209h2.4M860 1196h2.4M856 1210h2.4M861 1191h2.4M879 1204h2.4M851 1219h2.4M861 1219h2.4M879 1214h2.4M849 1206h2.4M878 1208h2.4M897 1219h2.4M849 1203h2.4M856 1166h2.4M899 1210h2.4M861 1204h2.4M859 1183h2.4M883 1219h2.4M864 1203h2.4M896 1211h2.4M880 1188h2.4M862 1178h2.4M902 1213h2.4M853 1180h2.4M891 1188h2.4M876 1194h2.4M849 1184h2.4M853 1195h2.4M869 1202h2.4M884 1219h2.4M881 1198h2.4M856 1190h2.4M869 1219h2.4M870 1174h2.4M879 1199h2.4M877 1189h2.4M853 1201h2.4M861 1189h2.4M886 1191h2.4M870 1204h2.4M870 1218h2.4M882 1192h2.4M857 1213h2.4M882 1211h2.4M864 1215h2.4M867 1179h2.4M877 1168h2.4M876 1202h2.4M862 1210h2.4M861 1199h2.4M851 1186h2.4M868 1207h2.4M869 1192h2.4M854 1213h2.4M873 1191h2.4M864 1198h2.4M868 1211h2.4M895 1200h2.4M881 1181h2.4M881 1174h2.4M877 1202h2.4M857 1186h2.4M860 1207h2.4M865 1171h2.4M873 1175h2.4M877 1180h2.4M855 1215h2.4M876 1190h2.4M855 1199h2.4M855 1167h2.4M865 1198h2.4M865 1165h2.4M853 1197h2.4M883 1200h2.4M856 1186h2.4M871 1163h2.4M874 1183h2.4M849 1189h2.4M860 1216h2.4M880 1209h2.4M873 1183h2.4M852 1184h2.4M857 1189h2.4M875 1198h2.4M859 1216h2.4M859 1219h2.4M859 1162h2.4M849 1190h2.4M853 1199h2.4M878 1211h2.4M859 1211h2.4M872 1183h2.4M871 1198h2.4M879 1184h2.4M864 1205h2.4M872 1215h2.4M863 1187h2.4M900 1215h2.4M870 1181h2.4M899 1186h2.4M852 1199h2.4M871 1213h2.4M867 1185h2.4M856 1182h2.4M865 1203h2.4M895 1198h2.4M873 1181h2.4M869 1195h2.4M888 1197h2.4M881 1179h2.4M884 1207h2.4M866 1182h2.4M858 1203h2.4M877 1201h2.4M892 1218h2.4M870 1207h2.4M872 1200h2.4M861 1200h2.4M885 1182h2.4M875 1213h2.4M864 1180h2.4M879 1219h2.4M878 1188h2.4M868 1190h2.4M855 1170h2.4M872 1211h2.4M868 1176h2.4M854 1173h2.4M868 1187h2.4M854 1215h2.4M865 1193h2.4M879 1190h2.4M866 1206h2.4M849 1186h2.4M864 1210h2.4M864 1187h2.4M883 1198h2.4M865 1184h2.4M871 1185h2.4M867 1201h2.4M879 1207h2.4M878 1203h2.4M881 1212h2.4M852 1173h2.4M867 1217h2.4M849 1195h2.4M849 1201h2.4M861 1217h2.4M861 1212h2.4M861 1179h2.4M866 1217h2.4M878 1178h2.4M877 1212h2.4M849 1208h2.4M876 1179h2.4M863 1178h2.4M872 1173h2.4M870 1206h2.4M862 1206h2.4M857 1169h2.4M849 1193h2.4M850 1202h2.4M868 1194h2.4M873 1217h2.4M873 1187h2.4M876 1207h2.4M863 1192h2.4M849 1199h2.4M854 1191h2.4M896 1202h2.4M860 1178h2.4M851 1209h2.4M853 1211h2.4M875 1212h2.4M888 1202h2.4M865 1214h2.4M859 1185h2.4M880 1205h2.4M874 1169h2.4M865 1199h2.4M861 1193h2.4M881 1190h2.4M857 1196h2.4M880 1191h2.4M865 1209h2.4M873 1198h2.4M859 1189h2.4M874 1207h2.4M873 1192h2.4M858 1205h2.4M849 1205h2.4M854 1219h2.4M860 1186h2.4M855 1179h2.4M882 1176h2.4M866 1201h2.4M872 1199h2.4M851 1203h2.4M864 1194h2.4M875 1200h2.4M851 1199h2.4M870 1203h2.4M869 1215h2.4M867 1183h2.4M871 1189h2.4M884 1202h2.4M891 1219h2.4M881 1207h2.4M881 1192h2.4M880 1199h2.4M853 1194h2.4M871 1202h2.4M856 1206h2.4M887 1179h2.4M868 1186h2.4M882 1209h2.4M871 1215h2.4M857 1197h2.4M850 1200h2.4M851 1212h2.4M854 1192h2.4M874 1198h2.4M880 1212h2.4M867 1184h2.4M853 1158h2.4M867 1207h2.4M866 1199h2.4M878 1194h2.4M863 1180h2.4M864 1197h2.4M871 1201h2.4M860 1195h2.4M876 1203h2.4M864 1185h2.4M867 1166h2.4M875 1190h2.4M881 1172h2.4M864 1216h2.4M859 1215h2.4M878 1219h2.4M882 1218h2.4M860 1179h2.4M862 1192h2.4M849 1180h2.4M872 1190h2.4M854 1193h2.4M863 1196h2.4M849 1149h2.4M886 1219h2.4M864 1182h2.4M867 1199h2.4M867 1193h2.4M865 1200h2.4M871 1186h2.4M888 1219h2.4M871 1211h2.4M873 1200h2.4M872 1182h2.4M868 1203h2.4M868 1206h2.4M851 1218h2.4M851 1198h2.4M862 1205h2.4M880 1196h2.4M882 1204h2.4M858 1172h2.4M873 1204h2.4M852 1207h2.4M862 1186h2.4M872 1193h2.4M871 1199h2.4M870 1194h2.4M867 1210h2.4M867 1203h2.4M857 1194h2.4M865 1176h2.4M871 1204h2.4M855 1194h2.4M880 1210h2.4M887 1187h2.4M892 1201h2.4M871 1169h2.4M876 1208h2.4M874 1187h2.4M878 1196h2.4M863 1216h2.4M865 1179h2.4M884 1199h2.4M862 1183h2.4M855 1209h2.4M866 1188h2.4M877 1215h2.4M879 1209h2.4M849 1196h2.4M874 1197h2.4M880 1190h2.4M876 1213h2.4M862 1217h2.4M866 1196h2.4M887 1186h2.4M867 1213h2.4M865 1187h2.4M857 1211h2.4M856 1199h2.4M885 1196h2.4M882 1191h2.4M871 1172h2.4M850 1219h2.4M859 1196h2.4M885 1199h2.4M878 1200h2.4M863 1204h2.4M865 1201h2.4M881 1219h2.4M883 1184h2.4M862 1204h2.4M860 1162h2.4M866 1192h2.4M865 1206h2.4M862 1173h2.4M877 1197h2.4M889 1181h2.4M872 1216h2.4M862 1191h2.4M857 1168h2.4M875 1194h2.4M860 1192h2.4M886 1190h2.4M861 1203h2.4M879 1201h2.4M865 1219h2.4M863 1202h2.4M878 1184h2.4M877 1193h2.4M872 1186h2.4M883 1207h2.4M854 1196h2.4M888 1209h2.4M852 1176h2.4M897 1198h2.4M860 1197h2.4M857 1180h2.4M890 1219h2.4M856 1214h2.4M885 1180h2.4M856 1204h2.4M864 1199h2.4M873 1208h2.4M857 1171h2.4M849 1197h2.4M901 1175h2.4M864 1183h2.4M849 1172h2.4M859 1210h2.4M884 1213h2.4M873 1219h2.4M867 1215h2.4M869 1197h2.4M874 1206h2.4M883 1166h2.4M859 1208h2.4M870 1200h2.4M874 1192h2.4M861 1195h2.4M865 1182h2.4M869 1191h2.4M880 1204h2.4M878 1180h2.4M861 1198h2.4M878 1182h2.4M878 1161h2.4M853 1171h2.4M852 1191h2.4M859 1194h2.4M873 1190h2.4M880 1187h2.4M862 1197h2.4M859 1187h2.4M862 1196h2.4M873 1202h2.4M869 1172h2.4M876 1198h2.4M862 1213h2.4M891 1204h2.4M852 1198h2.4M869 1214h2.4M870 1185h2.4M885 1191h2.4M889 1189h2.4M881 1180h2.4M874 1196h2.4M869 1182h2.4M861 1181h2.4M886 1202h2.4M877 1187h2.4M877 1205h2.4M852 1210h2.4M885 1186h2.4M873 1172h2.4M861 1188h2.4M880 1211h2.4M886 1184h2.4M862 1176h2.4M870 1197h2.4M864 1212h2.4M870 1205h2.4M863 1194h2.4M871 1188h2.4M880 1198h2.4M864 1181h2.4M850 1198h2.4M864 1219h2.4M873 1171h2.4M859 1195h2.4M851 1207h2.4M862 1198h2.4M867 1204h2.4M888 1189h2.4M868 1178h2.4M849 1194h2.4M888 1214h2.4M854 1194h2.4M863 1213h2.4M865 1181h2.4M873 1213h2.4M885 1204h2.4M852 1189h2.4M870 1177h2.4M881 1171h2.4M870 1186h2.4M863 1179h2.4M869 1208h2.4M877 1172h2.4M853 1176h2.4M862 1188h2.4M853 1213h2.4M856 1216h2.4M876 1185h2.4M862 1216h2.4M879 1171h2.4M863 1212h2.4M869 1205h2.4M865 1175h2.4M879 1212h2.4M866 1184h2.4M863 1185h2.4M852 1197h2.4M863 1168h2.4M854 1186h2.4M864 1213h2.4M869 1179h2.4M871 1175h2.4M863 1217h2.4M864 1196h2.4M849 1177h2.4M852 1219h2.4M871 1195h2.4M862 1190h2.4M865 1211h2.4M859 1201h2.4M859 1212h2.4M884 1189h2.4M883 1206h2.4M878 1191h2.4M875 1176h2.4M859 1163h2.4M884 1191h2.4M882 1195h2.4M855 1214h2.4M852 1202h2.4M895 1182h2.4M871 1208h2.4M887 1201h2.4M878 1209h2.4M852 1183h2.4M865 1188h2.4M849 1187h2.4M884 1210h2.4M863 1205h2.4M860 1182h2.4M852 1208h2.4M882 1184h2.4M869 1173h2.4M862 1185h2.4M858 1202h2.4M871 1197h2.4M861 1211h2.4M889 1219h2.4M860 1219h2.4M873 1197h2.4M889 1207h2.4M864 1177h2.4M856 1171h2.4M866 1208h2.4M857 1165h2.4M877 1194h2.4M869 1201h2.4M858 1192h2.4M860 1190h2.4M870 1213h2.4M856 1192h2.4M878 1193h2.4M880 1166h2.4M881 1208h2.4M866 1203h2.4M894 1209h2.4M900 1219h2.4M851 1190h2.4M873 1199h2.4M879 1181h2.4M896 1203h2.4M874 1191h2.4M895 1194h2.4M862 1219h2.4M869 1181h2.4M867 1186h2.4M857 1212h2.4M849 1178h2.4M863 1188h2.4M852 1215h2.4M880 1202h2.4M859 1199h2.4M863 1189h2.4M856 1212h2.4M861 1192h2.4M875 1211h2.4M893 1168h2.4M868 1200h2.4M857 1201h2.4M877 1208h2.4M864 1176h2.4M869 1174h2.4M862 1203h2.4M869 1183h2.4M890 1204h2.4M866 1187h2.4M884 1180h2.4M850 1176h2.4M853 1188h2.4M849 1211h2.4M860 1211h2.4M856 1194h2.4M862 1215h2.4M860 1213h2.4M884 1209h2.4M869 1210h2.4M881 1191h2.4M857 1208h2.4M871 1205h2.4M850 1212h2.4M870 1192h2.4M850 1190h2.4M859 1192h2.4M858 1189h2.4M890 1179h2.4M869 1198h2.4M867 1154h2.4M858 1209h2.4M870 1219h2.4M880 1176h2.4M859 1198h2.4M860 1169h2.4M891 1214h2.4M863 1208h2.4M895 1218h2.4M857 1195h2.4M852 1177h2.4M868 1177h2.4M871 1209h2.4M850 1201h2.4M877 1196h2.4M855 1207h2.4M894 1195h2.4M868 1214h2.4M881 1201h2.4M862 1200h2.4M894 1213h2.4M854 1210h2.4M854 1184h2.4M874 1199h2.4M867 1191h2.4M881 1210h2.4M868 1216h2.4M852 1201h2.4M876 1182h2.4M873 1206h2.4M854 1168h2.4M873 1182h2.4M877 1203h2.4M864 1207h2.4M867 1181h2.4M855 1219h2.4M893 1172h2.4M859 1214h2.4M858 1211h2.4M852 1182h2.4M868 1213h2.4M870 1191h2.4M853 1196h2.4M878 1175h2.4M866 1175h2.4M858 1217h2.4M858 1206h2.4M870 1201h2.4M854 1198h2.4M862 1184h2.4M874 1217h2.4M859 1175h2.4M864 1173h2.4M893 1210h2.4M865 1192h2.4M885 1212h2.4M874 1193h2.4M869 1199h2.4M861 1210h2.4M892 1181h2.4M880 1189h2.4M856 1213h2.4M856 1189h2.4M865 1189h2.4M853 1187h2.4M880 1213h2.4M860 1201h2.4M859 1178h2.4M860 1191h2.4M886 1217h2.4M880 1206h2.4M849 1218h2.4M857 1198h2.4M868 1210h2.4M892 1219h2.4M867 1189h2.4M849 1183h2.4M865 1208h2.4M849 1215h2.4M892 1211h2.4M859 1197h2.4M871 1216h2.4M871 1182h2.4M901 1205h2.4M879 1211h2.4M896 1215h2.4M867 1200h2.4M860 1172h2.4M872 1202h2.4M851 1184h2.4M849 1165h2.4M866 1194h2.4M876 1197h2.4M853 1163h2.4M874 1215h2.4M888 1181h2.4M870 1212h2.4M870 1210h2.4M867 1197h2.4M853 1208h2.4M858 1190h2.4M855 1208h2.4M887 1191h2.4M852 1179h2.4M856 1218h2.4M873 1180h2.4M865 1183h2.4M874 1212h2.4M866 1207h2.4M894 1211h2.4M893 1194h2.4M855 1198h2.4M853 1182h2.4M871 1173h2.4M865 1161h2.4M868 1202h2.4M875 1208h2.4M863 1218h2.4M866 1190h2.4M877 1198h2.4M874 1218h2.4M901 1219h2.4M880 1181h2.4M864 1195h2.4M867 1209h2.4M851 1197h2.4M871 1179h2.4M894 1193h2.4M891 1213h2.4M853 1189h2.4M882 1203h2.4M859 1193h2.4M870 1187h2.4M868 1181h2.4M862 1177h2.4M852 1193h2.4M863 1198h2.4M883 1174h2.4M872 1205h2.4M869 1187h2.4M849 1185h2.4M877 1182h2.4M864 1174h2.4M879 1192h2.4M874 1204h2.4M865 1186h2.4M874 1210h2.4M879 1164h2.4M870 1180h2.4M879 1176h2.4M869 1194h2.4M869 1211h2.4M866 1213h2.4M854 1166h2.4M881 1183h2.4M870 1198h2.4M866 1195h2.4M881 1185h2.4M866 1204h2.4M874 1173h2.4M868 1212h2.4M875 1207h2.4M874 1186h2.4M880 1175h2.4M886 1212h2.4M867 1198h2.4M858 1197h2.4M866 1170h2.4M860 1200h2.4M880 1215h2.4M863 1195h2.4M893 1176h2.4M857 1217h2.4M881 1217h2.4M860 1205h2.4M868 1192h2.4M862 1182h2.4M899 1192h2.4M881 1149h2.4M889 1200h2.4M850 1215h2.4M861 1186h2.4M885 1177h2.4M862 1180h2.4M856 1172h2.4M868 1198h2.4M849 1213h2.4M856 1188h2.4M890 1168h2.4M850 1192h2.4M869 1167h2.4M892 1209h2.4M901 1204h2.4M871 1190h2.4M890 1188h2.4M883 1204h2.4M867 1216h2.4M876 1212h2.4M863 1191h2.4M857 1172h2.4M859 1209h2.4M865 1185h2.4M849 1169h2.4M876 1170h2.4M858 1166h2.4M854 1201h2.4M873 1167h2.4M887 1208h2.4M860 1202h2.4M850 1170h2.4M888 1218h2.4M856 1205h2.4M879 1217h2.4M872 1209h2.4M893 1209h2.4M904 1189h2.4M852 1212h2.4M872 1174h2.4M874 1176h2.4M851 1216h2.4M863 1209h2.4M873 1193h2.4M857 1204h2.4M853 1190h2.4M851 1196h2.4M898 1208h2.4M877 1186h2.4M891 1179h2.4M876 1217h2.4M852 1218h2.4M852 1171h2.4M883 1201h2.4M879 1193h2.4M853 1219h2.4M863 1201h2.4M849 1173h2.4M870 1199h2.4M874 1189h2.4M887 1206h2.4M861 1218h2.4M855 1196h2.4M877 1214h2.4M862 1212h2.4M858 1213h2.4M873 1157h2.4M872 1172h2.4M860 1176h2.4M857 1175h2.4M884 1195h2.4M851 1194h2.4M865 1194h2.4M857 1177h2.4M854 1203h2.4M860 1167h2.4M861 1182h2.4M884 1187h2.4M861 1170h2.4M884 1181h2.4M892 1210h2.4M854 1187h2.4M850 1209h2.4M880 1197h2.4M852 1188h2.4M861 1185h2.4M875 1192h2.4M853 1217h2.4M872 1196h2.4M853 1162h2.4M886 1201h2.4M893 1206h2.4M874 1185h2.4M858 1184h2.4M860 1204h2.4M880 1186h2.4M864 1193h2.4M885 1202h2.4M885 1213h2.4M892 1195h2.4M872 1195h2.4M881 1184h2.4M865 1166h2.4M866 1171h2.4M873 1189h2.4M857 1203h2.4M878 1218h2.4M882 1183h2.4M879 1205h2.4M856 1193h2.4M865 1178h2.4M879 1198h2.4M860 1193h2.4M872 1208h2.4M850 1172h2.4M883 1189h2.4M861 1166h2.4M869 1186h2.4M852 1196h2.4M857 1157h2.4M866 1215h2.4M849 1174h2.4M875 1185h2.4M887 1197h2.4M885 1207h2.4M849 1181h2.4M875 1195h2.4M884 1201h2.4M854 1185h2.4M884 1182h2.4M856 1198h2.4M859 1177h2.4M874 1211h2.4M883 1194h2.4M864 1201h2.4M851 1200h2.4M876 1211h2.4M868 1215h2.4M873 1209h2.4M854 1212h2.4M850 1206h2.4M891 1196h2.4M882 1173h2.4M851 1211h2.4M891 1216h2.4M889 1179h2.4M872 1197h2.4M886 1168h2.4M859 1173h2.4M859 1202h2.4M869 1216h2.4M873 1195h2.4M850 1199h2.4M855 1201h2.4M879 1210h2.4M856 1187h2.4M886 1199h2.4M886 1193h2.4M852 1209h2.4M866 1191h2.4M885 1198h2.4M866 1205h2.4M878 1183h2.4M859 1217h2.4M861 1187h2.4M868 1189h2.4M851 1185h2.4M855 1197h2.4M871 1187h2.4M872 1214h2.4M858 1157h2.4M887 1182h2.4M855 1174h2.4M854 1190h2.4M856 1201h2.4M851 1214h2.4M867 1190h2.4M861 1190h2.4M875 1202h2.4M868 1209h2.4M854 1200h2.4M870 1196h2.4M853 1193h2.4M868 1205h2.4M872 1213h2.4M873 1184h2.4M864 1218h2.4M854 1180h2.4M854 1170h2.4M860 1206h2.4M879 1180h2.4M864 1200h2.4M861 1174h2.4M877 1191h2.4M862 1211h2.4M873 1173h2.4M853 1203h2.4M867 1202h2.4M895 1217h2.4M889 1205h2.4M849 1179h2.4M887 1219h2.4M869 1212h2.4M880 1172h2.4M871 1174h2.4M882 1216h2.4M850 1179h2.4M873 1205h2.4M857 1190h2.4M864 1217h2.4M883 1205h2.4M875 1205h2.4M868 1188h2.4M871 1212h2.4M853 1198h2.4M885 1179h2.4M860 1168h2.4M867 1218h2.4M854 1207h2.4M870 1172h2.4M884 1204h2.4M855 1177h2.4M883 1188h2.4M855 1182h2.4M875 1215h2.4M878 1179h2.4M877 1209h2.4M861 1197h2.4M885 1190h2.4M864 1209h2.4M865 1174h2.4M869 1204h2.4M869 1213h2.4M886 1192h2.4M868 1201h2.4M861 1209h2.4M863 1171h2.4M887 1183h2.4M865 1118h2.4M857 1143h2.4M872 1126h2.4M865 1115h2.4M880 1174h2.4M876 1146h2.4M873 1135h2.4M864 1136h2.4M863 1152h2.4M869 1093h2.4M866 1134h2.4M855 1128h2.4M864 1154h2.4M857 1127h2.4M867 1140h2.4M880 1136h2.4M880 1143h2.4M864 1112h2.4M877 1134h2.4M868 1140h2.4M866 1159h2.4M870 1124h2.4M862 1136h2.4M875 1137h2.4M868 1123h2.4M849 1134h2.4M870 1107h2.4M866 1129h2.4M875 1142h2.4M887 1120h2.4M867 1146h2.4M895 1143h2.4M849 1131h2.4M873 1097h2.4M859 1160h2.4M857 1142h2.4M884 1124h2.4M868 1121h2.4M863 1150h2.4M888 1135h2.4M873 1133h2.4M861 1157h2.4M849 1136h2.4M873 1131h2.4M878 1140h2.4M883 1152h2.4M879 1157h2.4M882 1117h2.4M859 1143h2.4M864 1142h2.4M883 1128h2.4M862 1123h2.4M859 1137h2.4M857 1156h2.4M870 1144h2.4M859 1148h2.4M862 1146h2.4M864 1134h2.4M857 1159h2.4M861 1160h2.4M865 1122h2.4M865 1134h2.4M858 1116h2.4M881 1156h2.4M871 1104h2.4M877 1138h2.4M862 1130h2.4M863 1140h2.4M874 1136h2.4M862 1168h2.4M869 1152h2.4M871 1161h2.4M877 1123h2.4M885 1143h2.4M872 1168h2.4M876 1138h2.4M863 1155h2.4M849 1126h2.4M874 1142h2.4M855 1136h2.4M864 1137h2.4M871 1146h2.4M886 1139h2.4M865 1147h2.4M885 1127h2.4M869 1133h2.4M879 1173h2.4M887 1133h2.4M869 1144h2.4M873 1146h2.4M863 1151h2.4M849 1156h2.4M865 1133h2.4M878 1142h2.4M880 1142h2.4M859 1158h2.4M856 1155h2.4M854 1154h2.4M849 1140h2.4M859 1145h2.4M868 1147h2.4M856 1123h2.4M881 1154h2.4M891 1147h2.4M886 1132h2.4M882 1134h2.4M869 1140h2.4M872 1143h2.4M851 1159h2.4M869 1118h2.4M860 1143h2.4M852 1149h2.4M877 1143h2.4M849 1148h2.4M868 1119h2.4M849 1135h2.4M879 1153h2.4M898 1113h2.4M859 1147h2.4M864 1145h2.4M859 1154h2.4M887 1160h2.4M875 1132h2.4M883 1176h2.4M852 1130h2.4M897 1107h2.4M858 1158h2.4M867 1151h2.4M876 1166h2.4M852 1166h2.4M863 1174h2.4M866 1133h2.4M879 1131h2.4M899 1120h2.4M849 1155h2.4M870 1137h2.4M861 1146h2.4M866 1120h2.4M862 1138h2.4M866 1160h2.4M881 1122h2.4M880 1118h2.4M851 1146h2.4M860 1126h2.4M864 1127h2.4M888 1142h2.4M881 1106h2.4M884 1137h2.4M875 1136h2.4M860 1165h2.4M864 1153h2.4M877 1154h2.4M873 1143h2.4M852 1127h2.4M866 1137h2.4M873 1121h2.4M887 1131h2.4M852 1143h2.4M857 1149h2.4M881 1128h2.4M862 1140h2.4M877 1132h2.4M865 1135h2.4M874 1139h2.4M856 1160h2.4M859 1105h2.4M880 1135h2.4M880 1095h2.4M873 1070h2.4M859 1084h2.4M889 1084h2.4M871 1098h2.4M849 1075h2.4M866 1078h2.4M867 1091h2.4M865 1085h2.4M892 1090h2.4M878 1080h2.4M864 1063h2.4M850 1072h2.4M896 1088h2.4M864 1090h2.4M858 1075h2.4M865 1081h2.4M874 1073h2.4M875 1089h2.4M882 1088h2.4M861 1088h2.4M864 1095h2.4M884 1085h2.4M867 1071h2.4M896 1073h2.4M888 1084h2.4M861 1086h2.4M868 1080h2.4M860 1073h2.4M874 1093h2.4M861 1084h2.4M864 1073h2.4M878 1069h2.4M880 1088h2.4M877 1071h2.4M898 1071h2.4M884 1083h2.4M865 1095h2.4M867 1076h2.4M900 1083h2.4M873 1067h2.4M889 1078h2.4M865 1097h2.4M881 1088h2.4M907 1077h2.4M853 1090h2.4M884 1099h2.4M853 1094h2.4M886 1088h2.4M897 1079h2.4M881 1075h2.4M876 1080h2.4M873 1078h2.4M879 1074h2.4M886 1098h2.4M858 1106h2.4M863 1084h2.4M862 1092h2.4M875 1080h2.4M849 1069h2.4M850 1068h2.4M892 1064h2.4M898 1101h2.4M899 1077h2.4M861 1082h2.4M889 1076h2.4M899 1075h2.4M867 1104h2.4M866 1073h2.4M878 1076h2.4M877 1086h2.4M879 1091h2.4M855 1075h2.4M863 1085h2.4M870 1058h2.4M853 1078h2.4M860 1067h2.4M878 1074h2.4M871 1073h2.4M896 1101h2.4M849 1099h2.4M883 1091h2.4M884 1082h2.4M874 1089h2.4M888 1076h2.4M871 1086h2.4M849 1078h2.4M899 1090h2.4M865 1101h2.4M869 1103h2.4M855 1070h2.4M860 1101h2.4M900 1105h2.4M895 1104h2.4M908 1086h2.4M865 1090h2.4M888 1074h2.4M853 1079h2.4M861 1078h2.4M855 1085h2.4M868 1078h2.4M884 1086h2.4M896 1079h2.4M862 1066h2.4M869 1066h2.4M875 1086h2.4M868 1090h2.4M876 1077h2.4M862 1071h2.4M894 1090h2.4M865 1080h2.4M878 1072h2.4M876 1086h2.4M849 1076h2.4M901 1072h2.4M851 1092h2.4M878 1102h2.4M849 1097h2.4M870 1087h2.4M880 1084h2.4M874 1085h2.4M869 1087h2.4M849 1090h2.4M881 1084h2.4M901 1089h2.4M875 1082h2.4M903 1082h2.4M853 1074h2.4M873 1087h2.4M869 1063h2.4M892 1091h2.4M866 1090h2.4M859 1092h2.4M889 1082h2.4M858 1081h2.4M881 1085h2.4M868 1087h2.4M879 1103h2.4M907 1085h2.4M869 1081h2.4M899 1084h2.4M872 1083h2.4M888 1085h2.4M870 1079h2.4M900 1080h2.4M871 1090h2.4M884 1075h2.4M921 1084h2.4M873 1090h2.4M879 1100h2.4M888 1078h2.4M860 1084h2.4M887 1082h2.4M898 1094h2.4M882 1091h2.4M855 1087h2.4M867 1088h2.4M868 1092h2.4M874 1079h2.4M899 1064h2.4M874 1084h2.4M884 1090h2.4M887 1083h2.4M872 1091h2.4M869 1080h2.4M854 1089h2.4M879 1085h2.4M881 1094h2.4M870 1081h2.4M894 1067h2.4M886 1087h2.4M893 1089h2.4M849 1089h2.4M854 1088h2.4M868 1088h2.4M888 1080h2.4M884 1096h2.4M884 1088h2.4M880 1082h2.4M870 1088h2.4M849 1079h2.4M888 1094h2.4M884 1077h2.4M883 1104h2.4M866 1088h2.4M886 1086h2.4M900 1072h2.4M876 1081h2.4M869 1078h2.4M883 1085h2.4M883 1093h2.4M862 1089h2.4M901 1069h2.4M882 1085h2.4M874 1074h2.4M873 1084h2.4M862 1080h2.4M878 1090h2.4M868 1095h2.4M879 1080h2.4M849 1072h2.4M860 1082h2.4M880 1083h2.4M866 1085h2.4M866 1082h2.4M869 1097h2.4M872 1092h2.4M877 1075h2.4M875 1098h2.4M868 1075h2.4M883 1101h2.4M873 1082h2.4M900 1084h2.4M864 1070h2.4M867 1090h2.4M862 1093h2.4M877 1072h2.4M882 1066h2.4M878 1079h2.4M896 1075h2.4M887 1092h2.4M881 1089h2.4M850 1082h2.4M889 1057h2.4M893 1084h2.4M857 1093h2.4M893 1086h2.4M853 1081h2.4M849 1080h2.4M890 1078h2.4M876 1070h2.4M892 1083h2.4M868 1070h2.4M860 1083h2.4M890 1090h2.4M888 1082h2.4M849 1102h2.4M873 1088h2.4M893 1099h2.4M875 1081h2.4M875 1088h2.4M849 1074h2.4M906 1087h2.4M869 1072h2.4M877 1089h2.4M859 1093h2.4M878 1068h2.4M883 1089h2.4M867 1069h2.4M867 1083h2.4M852 1082h2.4M891 1089h2.4M881 1082h2.4M859 1082h2.4M879 1084h2.4M869 1083h2.4M850 1081h2.4M886 1082h2.4M850 1074h2.4M859 1086h2.4M853 1080h2.4M872 1088h2.4M861 1092h2.4M861 1075h2.4M861 1094h2.4M905 1076h2.4M881 1068h2.4M859 1074h2.4M894 1075h2.4M879 1083h2.4M875 1085h2.4M861 1076h2.4M860 1095h2.4M886 1077h2.4M882 1102h2.4M888 1086h2.4M871 1075h2.4M854 1085h2.4M893 1079h2.4M879 1078h2.4M863 1107h2.4M868 1083h2.4M862 1081h2.4M863 1081h2.4M863 1087h2.4M882 1071h2.4M883 1087h2.4M887 1080h2.4M877 1097h2.4M857 1088h2.4M861 1083h2.4M912 1081h2.4M852 1081h2.4M862 1076h2.4M874 1091h2.4M849 1096h2.4M855 1092h2.4M911 1071h2.4M864 1089h2.4M898 1088h2.4M875 1079h2.4M906 1076h2.4M865 1070h2.4M863 1095h2.4M872 1094h2.4M868 1091h2.4M874 1090h2.4M879 1092h2.4M890 1088h2.4M851 1081h2.4M884 1080h2.4M872 1086h2.4M865 1087h2.4M866 1087h2.4M862 1069h2.4M872 1076h2.4M871 1071h2.4M849 1083h2.4M884 1066h2.4M871 1085h2.4M874 1100h2.4M869 1082h2.4M875 1095h2.4M912 1085h2.4M894 1059h2.4M889 1079h2.4M889 1089h2.4M879 1097h2.4M876 1059h2.4M851 1087h2.4M877 1083h2.4M883 1086h2.4M865 1084h2.4M859 1070h2.4M876 1092h2.4M857 1073h2.4M851 1084h2.4M864 1078h2.4M913 1091h2.4M882 1083h2.4M883 1092h2.4M867 1092h2.4M880 1078h2.4M897 1087h2.4M901 1079h2.4M849 1087h2.4M859 1090h2.4M851 1078h2.4M872 1084h2.4M888 1101h2.4M879 1087h2.4M879 1090h2.4M903 1073h2.4M899 1071h2.4M858 1087h2.4M860 1062h2.4M849 1100h2.4M861 1096h2.4M879 1082h2.4M880 1096h2.4M883 1095h2.4M854 1078h2.4M868 1079h2.4M874 1083h2.4M875 1075h2.4M857 1059h2.4M858 1091h2.4M917 1070h2.4M880 1089h2.4M873 1099h2.4M862 1094h2.4M857 1083h2.4M889 1085h2.4M895 1079h2.4M884 1068h2.4M878 1066h2.4M879 1095h2.4M871 1094h2.4M899 1086h2.4M890 1080h2.4M873 1074h2.4M873 1085h2.4M873 1077h2.4M883 1099h2.4M885 1094h2.4M874 1077h2.4M888 1081h2.4M886 1083h2.4M892 1073h2.4M863 1083h2.4M870 1086h2.4M886 1076h2.4M880 1087h2.4M860 1092h2.4M871 1082h2.4M880 1080h2.4M890 1074h2.4M896 1093h2.4M886 1097h2.4M899 1076h2.4M892 1086h2.4M873 1089h2.4M894 1102h2.4M875 1083h2.4M886 1085h2.4M863 1070h2.4M891 1101h2.4M880 1072h2.4M892 1076h2.4M870 1076h2.4M867 1086h2.4M850 1080h2.4M872 1080h2.4M885 1069h2.4M869 1074h2.4M877 1098h2.4M913 1078h2.4M877 1084h2.4M873 1081h2.4M888 1073h2.4M893 1067h2.4M879 1099h2.4M859 1076h2.4M855 1093h2.4M877 1085h2.4M863 1063h2.4M882 1090h2.4M868 1084h2.4M876 1091h2.4M855 1100h2.4M865 1093h2.4M877 1078h2.4M885 1093h2.4M879 1089h2.4M873 1080h2.4M901 1077h2.4M909 1090h2.4M916 1100h2.4M921 1091h2.4M916 1064h2.4M953 1144h2.4M973 1111h2.4M956 1113h2.4M875 1116h2.4M922 1100h2.4M940 1153h2.4M942 1104h2.4M950 1130h2.4M936 1148h2.4M952 1149h2.4M924 1114h2.4M925 1147h2.4M943 1089h2.4M918 1077h2.4M930 1110h2.4M925 1135h2.4M902 1121h2.4M936 1089h2.4M924 1085h2.4M923 1062h2.4M902 1107h2.4M904 1095h2.4M928 1117h2.4M950 1107h2.4M876 1125h2.4M915 1081h2.4M959 1116h2.4M913 1122h2.4M899 1109h2.4M918 1134h2.4M954 1108h2.4M959 1117h2.4M921 1116h2.4M934 1158h2.4M918 1110h2.4M912 1089h2.4M945 1100h2.4M948 1100h2.4M905 1151h2.4M953 1116h2.4M939 1096h2.4M937 1141h2.4M983 1103h2.4M901 1094h2.4M974 1154h2.4M941 1093h2.4M925 1075h2.4M954 1104h2.4M940 1115h2.4M947 1142h2.4M904 1118h2.4M904 1127h2.4M933 1102h2.4M917 1058h2.4M949 1095h2.4M949 1156h2.4M927 1136h2.4M914 1119h2.4M892 1101h2.4M922 1099h2.4M915 1109h2.4M926 1108h2.4M958 1111h2.4M913 1135h2.4M965 1113h2.4M946 1105h2.4M939 1149h2.4M927 1144h2.4M940 1113h2.4M916 1063h2.4M947 1130h2.4M956 1118h2.4M899 1068h2.4M925 1114h2.4M938 1106h2.4M925 1129h2.4M925 1093h2.4M924 1110h2.4M915 1083h2.4M938 1101h2.4M913 1124h2.4M975 1087h2.4M954 1139h2.4M944 1136h2.4M893 1060h2.4M951 1088h2.4M900 1059h2.4M913 1133h2.4M945 1121h2.4M925 1116h2.4M937 1094h2.4M917 1083h2.4M915 1112h2.4M908 1099h2.4M962 1098h2.4M921 1072h2.4M884 1059h2.4M917 1104h2.4M941 1124h2.4M915 1149h2.4M890 1124h2.4M917 1136h2.4M940 1102h2.4M959 1139h2.4M929 1079h2.4M912 1105h2.4M906 1089h2.4M898 1084h2.4M903 1116h2.4M913 1141h2.4M938 1073h2.4M923 1143h2.4M920 1108h2.4M933 1116h2.4M949 1124h2.4M938 1108h2.4M936 1134h2.4M890 1105h2.4M947 1105h2.4M935 1127h2.4M978 1143h2.4M903 1105h2.4M941 1126h2.4M907 1094h2.4M923 1119h2.4M898 1081h2.4M903 1132h2.4M914 1150h2.4M936 1080h2.4M916 1120h2.4M914 1085h2.4M891 1106h2.4M936 1109h2.4M918 1108h2.4M934 1108h2.4M919 1094h2.4M938 1085h2.4M907 1092h2.4M965 1137h2.4M931 1092h2.4M923 1108h2.4M916 1105h2.4M941 1122h2.4M935 1106h2.4M949 1114h2.4M931 1125h2.4M931 1106h2.4M963 1107h2.4M919 1057h2.4M928 1091h2.4M943 1136h2.4M948 1084h2.4M917 1161h2.4M959 1131h2.4M920 1125h2.4M910 1114h2.4M913 1084h2.4M936 1057h2.4M959 1100h2.4M932 1119h2.4M909 1113h2.4M905 1104h2.4M924 1125h2.4M914 1122h2.4M935 1061h2.4M940 1101h2.4M916 1096h2.4M935 1119h2.4M941 1099h2.4M921 1071h2.4M921 1111h2.4M909 1110h2.4M911 1125h2.4M917 1191h2.4M920 1218h2.4M916 1219h2.4M910 1219h2.4M919 1182h2.4M917 1193h2.4M943 1200h2.4M922 1209h2.4M901 1207h2.4M919 1206h2.4M908 1219h2.4M926 1189h2.4M927 1208h2.4M898 1195h2.4M907 1172h2.4M942 1199h2.4M925 1199h2.4M946 1187h2.4M920 1194h2.4M886 1208h2.4M912 1178h2.4M917 1201h2.4M915 1189h2.4M883 1214h2.4M882 1189h2.4M921 1219h2.4M908 1204h2.4M929 1173h2.4M906 1199h2.4M924 1180h2.4M889 1190h2.4M911 1185h2.4M873 1214h2.4M888 1217h2.4M916 1202h2.4M922 1212h2.4M890 1203h2.4M923 1213h2.4M940 1166h2.4M926 1201h2.4M892 1203h2.4M914 1195h2.4M892 1200h2.4M904 1215h2.4M913 1199h2.4M927 1218h2.4M911 1214h2.4M924 1196h2.4M899 1193h2.4M928 1184h2.4M965 1209h2.4M920 1208h2.4M949 1199h2.4M920 1189h2.4M907 1196h2.4M940 1219h2.4M895 1201h2.4M925 1187h2.4M920 1186h2.4M937 1171h2.4M935 1199h2.4M917 1205h2.4M934 1200h2.4M920 1193h2.4M937 1206h2.4M927 1206h2.4M937 1168h2.4M916 1181h2.4M919 1191h2.4M942 1211h2.4M905 1178h2.4M910 1169h2.4M957 1200h2.4M898 1190h2.4M896 1196h2.4M909 1196h2.4M913 1202h2.4M915 1198h2.4M915 1202h2.4M913 1183h2.4M950 1205h2.4M922 1195h2.4M904 1185h2.4M873 1210h2.4M918 1175h2.4M906 1195h2.4M902 1189h2.4M933 1195h2.4M931 1215h2.4M915 1184h2.4M900 1188h2.4M926 1195h2.4M935 1193h2.4M887 1203h2.4M936 1219h2.4M913 1187h2.4M895 1219h2.4M978 1121h2.4M944 1140h2.4M903 1119h2.4M967 1218h2.4M1003 1148h2.4M1014 1139h2.4M1023 1147h2.4M1023 1079h2.4M897 1183h2.4M939 1081h2.4M907 1068h2.4M947 1178h2.4M932 1183h2.4M1003 1072h2.4" stroke="#000" stroke-width="2.4" fill="none"/>
<rect x="424.2" y="527.7" width="88.9" height="82.4" fill="none" stroke="#222" stroke-width="1"/>
<path d="M446.8 527.7V610.1M424.2 590H513.1" stroke="#333" stroke-width="0.8" fill="none"/>
<path d="M424.2 610.1v2.2M424.2 610.1h-2.2M430.9 610.1v1.2M424.2 603.9h-1.2M434.8 610.1v1.2M424.2 600.3h-1.2M437.6 610.1v1.2M424.2 597.7h-1.2M439.7 610.1v1.2M424.2 595.7h-1.2M441.5 610.1v1.2M424.2 594.1h-1.2M443 610.1v1.2M424.2 592.7h-1.2M444.3 610.1v1.2M424.2 591.5h-1.2M445.4 610.1v1.2M424.2 590.4h-1.2M446.4 610.1v2.2M424.2 589.5h-2.2M453.1 610.1v1.2M424.2 583.3h-1.2M457 610.1v1.2M424.2 579.7h-1.2M459.8 610.1v1.2M424.2 577.1h-1.2M462 610.1v1.2M424.2 575.1h-1.2M463.7 610.1v1.2M424.2 573.5h-1.2M465.2 610.1v1.2M424.2 572.1h-1.2M466.5 610.1v1.2M424.2 570.9h-1.2M467.6 610.1v1.2M424.2 569.8h-1.2M468.6 610.1v2.2M424.2 568.9h-2.2M475.3 610.1v1.2M424.2 562.7h-1.2M479.3 610.1v1.2M424.2 559.1h-1.2M482 610.1v1.2M424.2 556.5h-1.2M484.2 610.1v1.2M424.2 554.5h-1.2M485.9 610.1v1.2M424.2 552.9h-1.2M487.4 610.1v1.2M424.2 551.5h-1.2M488.7 610.1v1.2M424.2 550.3h-1.2M489.9 610.1v1.2M424.2 549.2h-1.2M490.9 610.1v2.2M424.2 548.3h-2.2M497.6 610.1v1.2M424.2 542.1h-1.2M501.5 610.1v1.2M424.2 538.5h-1.2M504.3 610.1v1.2M424.2 535.9h-1.2M506.4 610.1v1.2M424.2 533.9h-1.2M508.2 610.1v1.2M424.2 532.3h-1.2M509.7 610.1v1.2M424.2 530.9h-1.2M510.9 610.1v1.2M424.2 529.7h-1.2M512.1 610.1v1.2M424.2 528.6h-1.2M513.1 610.1v2.2M424.2 527.7h-2.2" stroke="#333" stroke-width="0.6" fill="none"/>
<text x="425" y="619.7" class="r" font-size="7.6" fill="#3a3a3a" text-anchor="middle">10<tspan dy="-3.6" font-size="6">0</tspan></text>
<text transform="translate(419 611.3) rotate(-90)" class="r" font-size="7.6" fill="#3a3a3a" text-anchor="middle">10<tspan dy="-3.6" font-size="6">0</tspan></text>
<text x="447.2" y="619.7" class="r" font-size="7.6" fill="#3a3a3a" text-anchor="middle">10<tspan dy="-3.6" font-size="6">1</tspan></text>
<text transform="translate(419 590.7) rotate(-90)" class="r" font-size="7.6" fill="#3a3a3a" text-anchor="middle">10<tspan dy="-3.6" font-size="6">1</tspan></text>
<text x="469.4" y="619.7" class="r" font-size="7.6" fill="#3a3a3a" text-anchor="middle">10<tspan dy="-3.6" font-size="6">2</tspan></text>
<text transform="translate(419 570.1) rotate(-90)" class="r" font-size="7.6" fill="#3a3a3a" text-anchor="middle">10<tspan dy="-3.6" font-size="6">2</tspan></text>
<text x="491.7" y="619.7" class="r" font-size="7.6" fill="#3a3a3a" text-anchor="middle">10<tspan dy="-3.6" font-size="6">3</tspan></text>
<text transform="translate(419 549.5) rotate(-90)" class="r" font-size="7.6" fill="#3a3a3a" text-anchor="middle">10<tspan dy="-3.6" font-size="6">3</tspan></text>
<text x="513.9" y="619.7" class="r" font-size="7.6" fill="#3a3a3a" text-anchor="middle">10<tspan dy="-3.6" font-size="6">4</tspan></text>
<text transform="translate(419 528.9) rotate(-90)" class="r" font-size="7.6" fill="#3a3a3a" text-anchor="middle">10<tspan dy="-3.6" font-size="6">4</tspan></text>
<text x="426" y="534.3" class="b" font-size="6.4" text-anchor="start">8.35</text>
<text x="511" y="534.3" class="b" font-size="6.4" text-anchor="end">4.97</text>
<text x="511" y="608.5" class="b" font-size="6.4" text-anchor="end">0.70</text>
<path d="M405.2 590.6V564.1" stroke="#000" stroke-width="1.5"/>
<path d="M405.2 555.9L400.7 564.8H409.7Z"/>
<text transform="translate(399.5 583.66) rotate(-90)" class="b" font-size="12.2" textLength="22.25" lengthAdjust="spacingAndGlyphs">Gr.1</text>
<path d="M449.6 625.1H476.2" stroke="#000" stroke-width="1.5"/>
<path d="M483.8 625.1L475.5 620.9V629.3Z"/>
<text x="450.39" y="639.8" class="b" font-size="11.8" textLength="31.14" lengthAdjust="spacingAndGlyphs">Mac1</text>
</svg>
</body></html>
